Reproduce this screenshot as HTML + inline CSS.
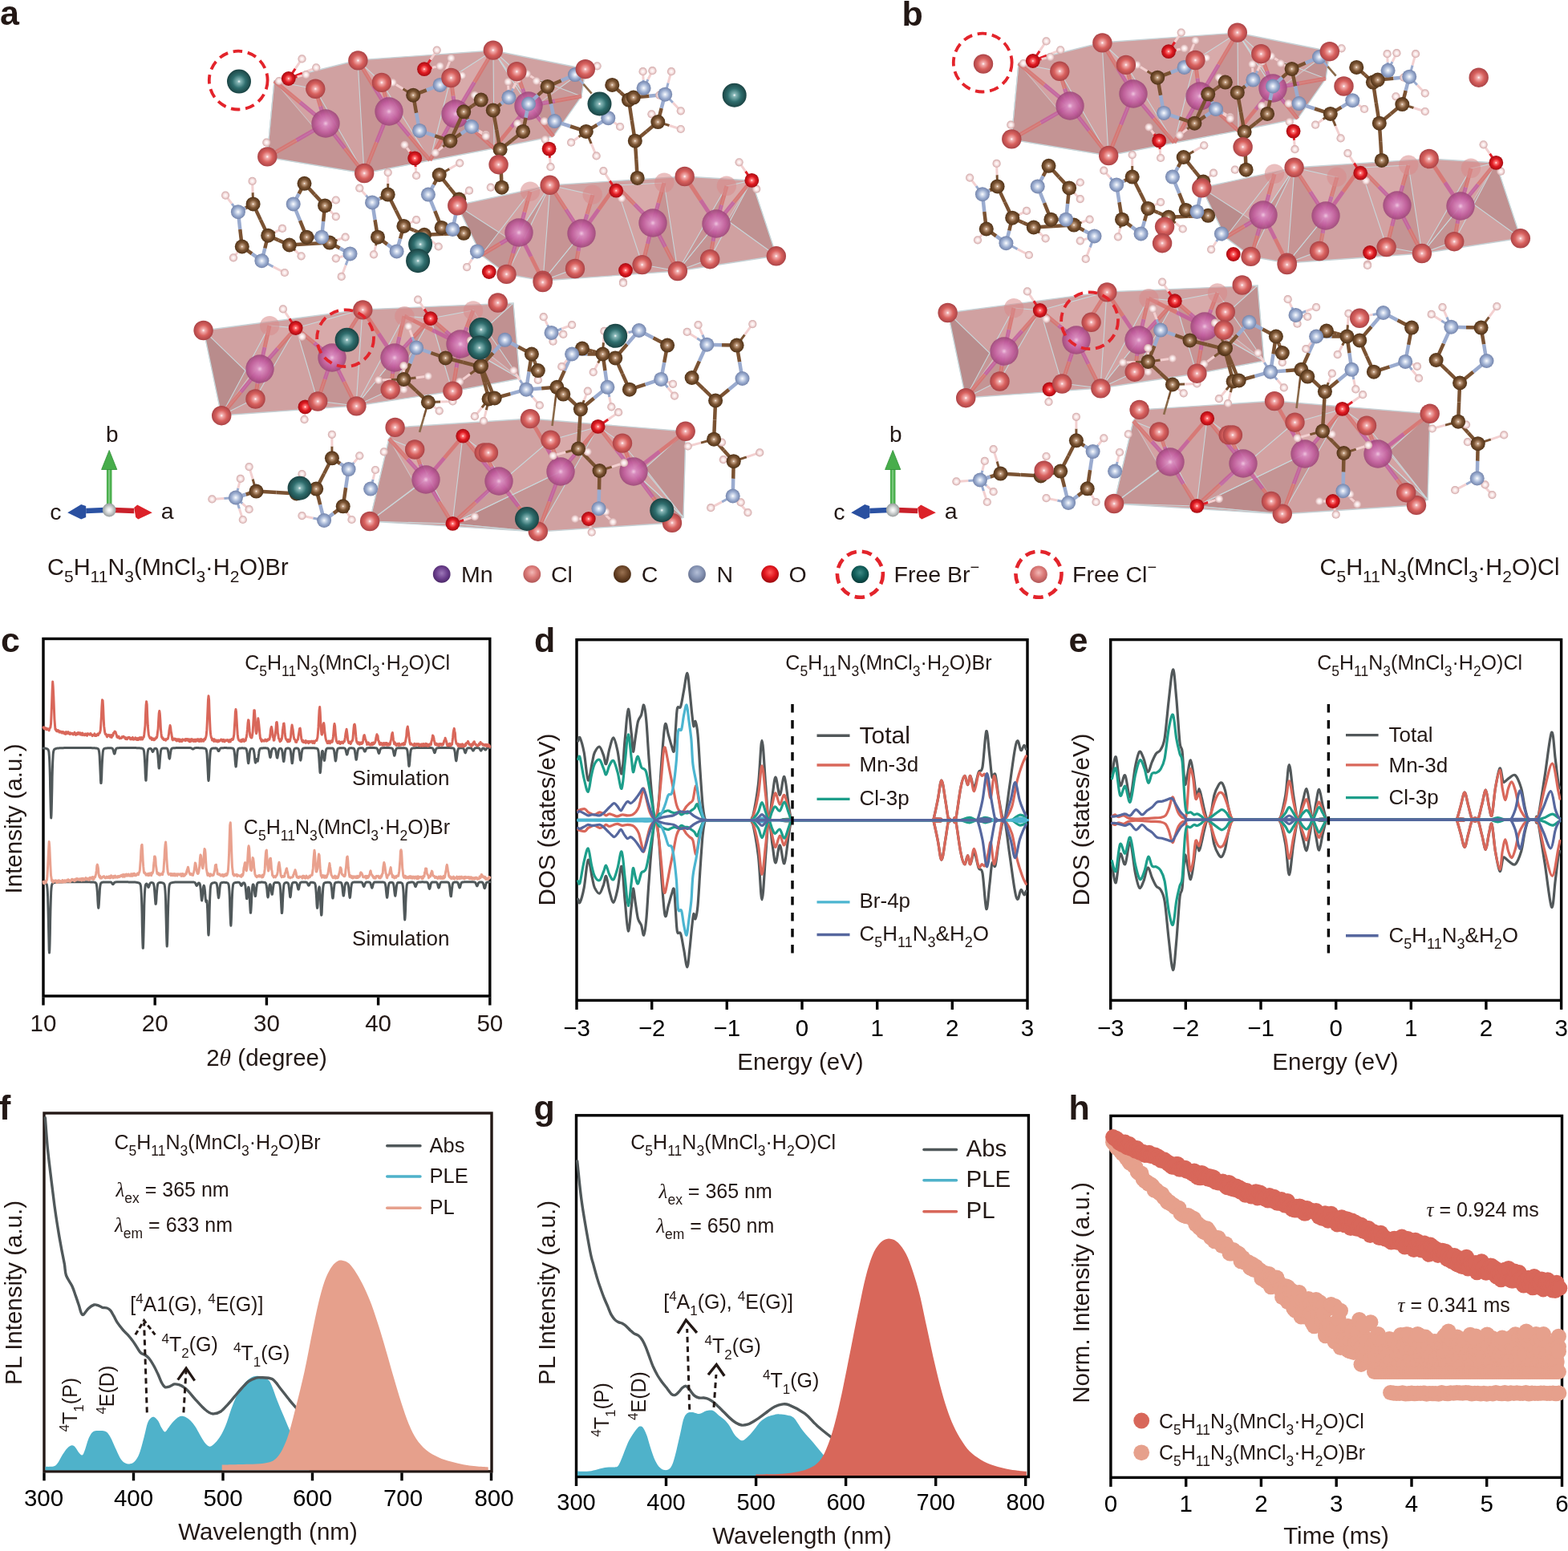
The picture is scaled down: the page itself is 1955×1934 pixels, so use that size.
<!DOCTYPE html>
<html><head><meta charset="utf-8"><title>Figure</title>
<style>html,body{margin:0;padding:0;background:#fff;overflow:hidden;} svg{display:block;} text{font-family:'Liberation Sans', Arial, Helvetica, sans-serif;}</style>
</head><body>
<svg width="1955" height="1934" viewBox="0 0 1955 1934">
<rect width="1955" height="1934" fill="#fff"/>
<text x="0.0" y="30.5" font-size="43" text-anchor="start" font-weight="bold" fill="#231815" >a</text>
<text x="1124.5" y="32.0" font-size="43" text-anchor="start" font-weight="bold" fill="#231815" >b</text>
<text x="1.0" y="813.0" font-size="43" text-anchor="start" font-weight="bold" fill="#231815" >c</text>
<text x="666.0" y="812.5" font-size="43" text-anchor="start" font-weight="bold" fill="#231815" >d</text>
<text x="1332.5" y="812.5" font-size="43" text-anchor="start" font-weight="bold" fill="#231815" >e</text>
<text x="-1.0" y="1395.7" font-size="43" text-anchor="start" font-weight="bold" fill="#231815" >f</text>
<text x="665.5" y="1395.7" font-size="43" text-anchor="start" font-weight="bold" fill="#231815" >g</text>
<text x="1332.5" y="1395.7" font-size="43" text-anchor="start" font-weight="bold" fill="#231815" >h</text>
<rect x="54.0" y="796.5" width="556.8" height="445.5" stroke="#000" stroke-width="3.4" fill="none"/>
<line x1="54.0" y1="1243.5" x2="54.0" y2="1253.5" stroke="#000" stroke-width="3.4" />
<text x="54.0" y="1286.3" font-size="29.5" text-anchor="middle" font-weight="normal" fill="#231815" >10</text>
<line x1="193.2" y1="1243.5" x2="193.2" y2="1253.5" stroke="#000" stroke-width="3.4" />
<text x="193.2" y="1286.3" font-size="29.5" text-anchor="middle" font-weight="normal" fill="#231815" >20</text>
<line x1="332.4" y1="1243.5" x2="332.4" y2="1253.5" stroke="#000" stroke-width="3.4" />
<text x="332.4" y="1286.3" font-size="29.5" text-anchor="middle" font-weight="normal" fill="#231815" >30</text>
<line x1="471.6" y1="1243.5" x2="471.6" y2="1253.5" stroke="#000" stroke-width="3.4" />
<text x="471.6" y="1286.3" font-size="29.5" text-anchor="middle" font-weight="normal" fill="#231815" >40</text>
<line x1="610.8" y1="1243.5" x2="610.8" y2="1253.5" stroke="#000" stroke-width="3.4" />
<text x="610.8" y="1286.3" font-size="29.5" text-anchor="middle" font-weight="normal" fill="#231815" >50</text>
<text x="332.5" y="1329.0" font-size="29.5" text-anchor="middle" fill="#231815" font-weight="normal" ><tspan>2</tspan><tspan font-style="italic" font-family="'Liberation Serif', serif">θ</tspan><tspan> (degree)</tspan></text>
<text x="0" y="0" font-size="29.5" text-anchor="middle" fill="#231815" transform="translate(26.5,1021.0) rotate(-90)">Intensity (a.u.)</text>
<text x="561.0" y="834.5" font-size="25" text-anchor="end" fill="#231815" font-weight="normal" ><tspan>C</tspan><tspan dy="8.0" font-size="17.5">5</tspan><tspan dy="-8.0">H</tspan><tspan dy="8.0" font-size="17.5">11</tspan><tspan dy="-8.0">N</tspan><tspan dy="8.0" font-size="17.5">3</tspan><tspan dy="-8.0">(MnCl</tspan><tspan dy="8.0" font-size="17.5">3</tspan><tspan dy="-8.0">·H</tspan><tspan dy="8.0" font-size="17.5">2</tspan><tspan dy="-8.0">O)Cl</tspan></text>
<text x="560.5" y="979.3" font-size="26" text-anchor="end" font-weight="normal" fill="#231815" >Simulation</text>
<text x="561.0" y="1040.0" font-size="25" text-anchor="end" fill="#231815" font-weight="normal" ><tspan>C</tspan><tspan dy="8.0" font-size="17.5">5</tspan><tspan dy="-8.0">H</tspan><tspan dy="8.0" font-size="17.5">11</tspan><tspan dy="-8.0">N</tspan><tspan dy="8.0" font-size="17.5">3</tspan><tspan dy="-8.0">(MnCl</tspan><tspan dy="8.0" font-size="17.5">3</tspan><tspan dy="-8.0">·H</tspan><tspan dy="8.0" font-size="17.5">2</tspan><tspan dy="-8.0">O)Br</tspan></text>
<text x="560.5" y="1179.0" font-size="26" text-anchor="end" font-weight="normal" fill="#231815" >Simulation</text>
<rect x="719.0" y="797.7" width="562.0" height="449.7" stroke="#000" stroke-width="3.4" fill="none"/>
<line x1="719.0" y1="1248.9" x2="719.0" y2="1258.9" stroke="#000" stroke-width="3.4" />
<text x="719.0" y="1291.5" font-size="29.5" text-anchor="middle" font-weight="normal" fill="#000" >−3</text>
<line x1="812.7" y1="1248.9" x2="812.7" y2="1258.9" stroke="#000" stroke-width="3.4" />
<text x="812.7" y="1291.5" font-size="29.5" text-anchor="middle" font-weight="normal" fill="#000" >−2</text>
<line x1="906.3" y1="1248.9" x2="906.3" y2="1258.9" stroke="#000" stroke-width="3.4" />
<text x="906.3" y="1291.5" font-size="29.5" text-anchor="middle" font-weight="normal" fill="#000" >−1</text>
<line x1="1000.0" y1="1248.9" x2="1000.0" y2="1258.9" stroke="#000" stroke-width="3.4" />
<text x="1000.0" y="1291.5" font-size="29.5" text-anchor="middle" font-weight="normal" fill="#000" >0</text>
<line x1="1093.7" y1="1248.9" x2="1093.7" y2="1258.9" stroke="#000" stroke-width="3.4" />
<text x="1093.7" y="1291.5" font-size="29.5" text-anchor="middle" font-weight="normal" fill="#000" >1</text>
<line x1="1187.3" y1="1248.9" x2="1187.3" y2="1258.9" stroke="#000" stroke-width="3.4" />
<text x="1187.3" y="1291.5" font-size="29.5" text-anchor="middle" font-weight="normal" fill="#000" >2</text>
<line x1="1281.0" y1="1248.9" x2="1281.0" y2="1258.9" stroke="#000" stroke-width="3.4" />
<text x="1281.0" y="1291.5" font-size="29.5" text-anchor="middle" font-weight="normal" fill="#000" >3</text>
<text x="998.0" y="1333.9" font-size="29.5" text-anchor="middle" font-weight="normal" fill="#231815" >Energy (eV)</text>
<text x="0" y="0" font-size="29.5" text-anchor="middle" fill="#231815" transform="translate(692.0,1022.0) rotate(-90)">DOS (states/eV)</text>
<text x="1236.5" y="834.5" font-size="25" text-anchor="end" fill="#231815" font-weight="normal" ><tspan>C</tspan><tspan dy="8.0" font-size="17.5">5</tspan><tspan dy="-8.0">H</tspan><tspan dy="8.0" font-size="17.5">11</tspan><tspan dy="-8.0">N</tspan><tspan dy="8.0" font-size="17.5">3</tspan><tspan dy="-8.0">(MnCl</tspan><tspan dy="8.0" font-size="17.5">3</tspan><tspan dy="-8.0">·H</tspan><tspan dy="8.0" font-size="17.5">2</tspan><tspan dy="-8.0">O)Br</tspan></text>
<rect x="1384.7" y="797.6" width="561.9" height="449.8" stroke="#000" stroke-width="3.4" fill="none"/>
<line x1="1384.7" y1="1248.9" x2="1384.7" y2="1258.9" stroke="#000" stroke-width="3.4" />
<text x="1384.7" y="1291.5" font-size="29.5" text-anchor="middle" font-weight="normal" fill="#000" >−3</text>
<line x1="1478.3" y1="1248.9" x2="1478.3" y2="1258.9" stroke="#000" stroke-width="3.4" />
<text x="1478.3" y="1291.5" font-size="29.5" text-anchor="middle" font-weight="normal" fill="#000" >−2</text>
<line x1="1572.0" y1="1248.9" x2="1572.0" y2="1258.9" stroke="#000" stroke-width="3.4" />
<text x="1572.0" y="1291.5" font-size="29.5" text-anchor="middle" font-weight="normal" fill="#000" >−1</text>
<line x1="1665.7" y1="1248.9" x2="1665.7" y2="1258.9" stroke="#000" stroke-width="3.4" />
<text x="1665.7" y="1291.5" font-size="29.5" text-anchor="middle" font-weight="normal" fill="#000" >0</text>
<line x1="1759.3" y1="1248.9" x2="1759.3" y2="1258.9" stroke="#000" stroke-width="3.4" />
<text x="1759.3" y="1291.5" font-size="29.5" text-anchor="middle" font-weight="normal" fill="#000" >1</text>
<line x1="1852.9" y1="1248.9" x2="1852.9" y2="1258.9" stroke="#000" stroke-width="3.4" />
<text x="1852.9" y="1291.5" font-size="29.5" text-anchor="middle" font-weight="normal" fill="#000" >2</text>
<line x1="1946.6" y1="1248.9" x2="1946.6" y2="1258.9" stroke="#000" stroke-width="3.4" />
<text x="1946.6" y="1291.5" font-size="29.5" text-anchor="middle" font-weight="normal" fill="#000" >3</text>
<text x="1665.0" y="1333.9" font-size="29.5" text-anchor="middle" font-weight="normal" fill="#231815" >Energy (eV)</text>
<text x="0" y="0" font-size="29.5" text-anchor="middle" fill="#231815" transform="translate(1358.0,1022.0) rotate(-90)">DOS (states/eV)</text>
<text x="1898.0" y="834.5" font-size="25" text-anchor="end" fill="#231815" font-weight="normal" ><tspan>C</tspan><tspan dy="8.0" font-size="17.5">5</tspan><tspan dy="-8.0">H</tspan><tspan dy="8.0" font-size="17.5">11</tspan><tspan dy="-8.0">N</tspan><tspan dy="8.0" font-size="17.5">3</tspan><tspan dy="-8.0">(MnCl</tspan><tspan dy="8.0" font-size="17.5">3</tspan><tspan dy="-8.0">·H</tspan><tspan dy="8.0" font-size="17.5">2</tspan><tspan dy="-8.0">O)Cl</tspan></text>
<rect x="55.0" y="1388.0" width="558.0" height="446.8" stroke="#231815" stroke-width="3.4" fill="none"/>
<line x1="55.0" y1="1836.3" x2="55.0" y2="1846.3" stroke="#000" stroke-width="3.4" />
<line x1="166.5" y1="1836.3" x2="166.5" y2="1846.3" stroke="#000" stroke-width="3.4" />
<line x1="278.0" y1="1836.3" x2="278.0" y2="1846.3" stroke="#000" stroke-width="3.4" />
<line x1="389.5" y1="1836.3" x2="389.5" y2="1846.3" stroke="#000" stroke-width="3.4" />
<line x1="501.0" y1="1836.3" x2="501.0" y2="1846.3" stroke="#000" stroke-width="3.4" />
<line x1="612.5" y1="1836.3" x2="612.5" y2="1846.3" stroke="#000" stroke-width="3.4" />
<text x="54.5" y="1878.3" font-size="29.5" text-anchor="middle" font-weight="normal" fill="#000" >300</text>
<text x="166.5" y="1878.3" font-size="29.5" text-anchor="middle" font-weight="normal" fill="#000" >400</text>
<text x="278.0" y="1878.3" font-size="29.5" text-anchor="middle" font-weight="normal" fill="#000" >500</text>
<text x="389.5" y="1878.3" font-size="29.5" text-anchor="middle" font-weight="normal" fill="#000" >600</text>
<text x="502.5" y="1878.3" font-size="29.5" text-anchor="middle" font-weight="normal" fill="#000" >700</text>
<text x="616.0" y="1878.3" font-size="29.5" text-anchor="middle" font-weight="normal" fill="#000" >800</text>
<text x="334.0" y="1920.4" font-size="29.5" text-anchor="middle" font-weight="normal" fill="#231815" >Wavelength (nm)</text>
<text x="0" y="0" font-size="29.5" text-anchor="middle" fill="#231815" transform="translate(27.0,1612.0) rotate(-90)">PL Intensity (a.u.)</text>
<rect x="718.5" y="1390.8" width="563.9" height="450.7" stroke="#000" stroke-width="3.4" fill="none"/>
<line x1="718.5" y1="1843.0" x2="718.5" y2="1853.0" stroke="#000" stroke-width="3.4" />
<text x="718.5" y="1883.4" font-size="29" text-anchor="middle" font-weight="normal" fill="#000" >300</text>
<line x1="830.5" y1="1843.0" x2="830.5" y2="1853.0" stroke="#000" stroke-width="3.4" />
<text x="830.5" y="1883.4" font-size="29" text-anchor="middle" font-weight="normal" fill="#000" >400</text>
<line x1="942.6" y1="1843.0" x2="942.6" y2="1853.0" stroke="#000" stroke-width="3.4" />
<text x="942.6" y="1883.4" font-size="29" text-anchor="middle" font-weight="normal" fill="#000" >500</text>
<line x1="1054.6" y1="1843.0" x2="1054.6" y2="1853.0" stroke="#000" stroke-width="3.4" />
<text x="1054.6" y="1883.4" font-size="29" text-anchor="middle" font-weight="normal" fill="#000" >600</text>
<line x1="1166.7" y1="1843.0" x2="1166.7" y2="1853.0" stroke="#000" stroke-width="3.4" />
<text x="1166.7" y="1883.4" font-size="29" text-anchor="middle" font-weight="normal" fill="#000" >700</text>
<line x1="1278.7" y1="1843.0" x2="1278.7" y2="1853.0" stroke="#000" stroke-width="3.4" />
<text x="1278.7" y="1883.4" font-size="29" text-anchor="middle" font-weight="normal" fill="#000" >800</text>
<text x="1000.0" y="1925.0" font-size="29.5" text-anchor="middle" font-weight="normal" fill="#231815" >Wavelength (nm)</text>
<text x="0" y="0" font-size="29.5" text-anchor="middle" fill="#231815" transform="translate(692.0,1612.0) rotate(-90)">PL Intensity (a.u.)</text>
<rect x="1384.9" y="1391.4" width="562.6" height="451.0" stroke="#000" stroke-width="3.4" fill="none"/>
<line x1="1384.9" y1="1843.9" x2="1384.9" y2="1853.9" stroke="#000" stroke-width="3.4" />
<text x="1384.9" y="1885.3" font-size="29.5" text-anchor="middle" font-weight="normal" fill="#000" >0</text>
<line x1="1478.7" y1="1843.9" x2="1478.7" y2="1853.9" stroke="#000" stroke-width="3.4" />
<text x="1478.7" y="1885.3" font-size="29.5" text-anchor="middle" font-weight="normal" fill="#000" >1</text>
<line x1="1572.4" y1="1843.9" x2="1572.4" y2="1853.9" stroke="#000" stroke-width="3.4" />
<text x="1572.4" y="1885.3" font-size="29.5" text-anchor="middle" font-weight="normal" fill="#000" >2</text>
<line x1="1666.2" y1="1843.9" x2="1666.2" y2="1853.9" stroke="#000" stroke-width="3.4" />
<text x="1666.2" y="1885.3" font-size="29.5" text-anchor="middle" font-weight="normal" fill="#000" >3</text>
<line x1="1760.0" y1="1843.9" x2="1760.0" y2="1853.9" stroke="#000" stroke-width="3.4" />
<text x="1760.0" y="1885.3" font-size="29.5" text-anchor="middle" font-weight="normal" fill="#000" >4</text>
<line x1="1853.7" y1="1843.9" x2="1853.7" y2="1853.9" stroke="#000" stroke-width="3.4" />
<text x="1853.7" y="1885.3" font-size="29.5" text-anchor="middle" font-weight="normal" fill="#000" >5</text>
<line x1="1947.5" y1="1843.9" x2="1947.5" y2="1853.9" stroke="#000" stroke-width="3.4" />
<text x="1947.5" y="1885.3" font-size="29.5" text-anchor="middle" font-weight="normal" fill="#000" >6</text>
<text x="1666.0" y="1925.0" font-size="29.5" text-anchor="middle" font-weight="normal" fill="#231815" >Time (ms)</text>
<text x="0" y="0" font-size="29.5" text-anchor="middle" fill="#231815" transform="translate(1358.0,1612.0) rotate(-90)">Norm. Intensity (a.u.)</text>
<defs>
<radialGradient id="gCl" cx="50%" cy="50%" r="55%"><stop offset="0" stop-color="#ffffff"/><stop offset="0.14" stop-color="#f2b0b0"/><stop offset="0.5" stop-color="#d9625f"/><stop offset="1" stop-color="#a13c40"/></radialGradient>
<radialGradient id="gClf" cx="50%" cy="50%" r="55%"><stop offset="0" stop-color="#fbe4e4"/><stop offset="0.5" stop-color="#e6a5a4"/><stop offset="1" stop-color="#cf8a8b"/></radialGradient>
<radialGradient id="gO" cx="50%" cy="50%" r="55%"><stop offset="0" stop-color="#ffffff"/><stop offset="0.14" stop-color="#ff7b7b"/><stop offset="0.5" stop-color="#e01b22"/><stop offset="1" stop-color="#98080e"/></radialGradient>
<radialGradient id="gMn" cx="50%" cy="50%" r="55%"><stop offset="0" stop-color="#f4d0e6"/><stop offset="0.18" stop-color="#d98cc0"/><stop offset="0.6" stop-color="#c05c9c"/><stop offset="1" stop-color="#93406f"/></radialGradient>
<radialGradient id="gC" cx="50%" cy="50%" r="55%"><stop offset="0" stop-color="#ffffff"/><stop offset="0.13" stop-color="#c9a68a"/><stop offset="0.5" stop-color="#7c5534"/><stop offset="1" stop-color="#45290f"/></radialGradient>
<radialGradient id="gN" cx="50%" cy="50%" r="55%"><stop offset="0" stop-color="#ffffff"/><stop offset="0.15" stop-color="#dfe6f3"/><stop offset="0.55" stop-color="#9badd0"/><stop offset="1" stop-color="#6a7aa2"/></radialGradient>
<radialGradient id="gH" cx="50%" cy="50%" r="55%"><stop offset="0" stop-color="#ffffff"/><stop offset="0.45" stop-color="#f7e2e2"/><stop offset="1" stop-color="#c99b9b"/></radialGradient>
<radialGradient id="gBr" cx="50%" cy="50%" r="55%"><stop offset="0" stop-color="#ffffff"/><stop offset="0.12" stop-color="#88b8b8"/><stop offset="0.5" stop-color="#2f6e6e"/><stop offset="1" stop-color="#163a3a"/></radialGradient>
<radialGradient id="gMnL" cx="50%" cy="50%" r="55%"><stop offset="0" stop-color="#9a6ab0"/><stop offset="0.6" stop-color="#6a3d8a"/><stop offset="1" stop-color="#4a2566"/></radialGradient>
<radialGradient id="gClL" cx="50%" cy="50%" r="55%"><stop offset="0" stop-color="#f3c0c0"/><stop offset="0.6" stop-color="#da7876"/><stop offset="1" stop-color="#b45a5a"/></radialGradient>
<radialGradient id="gCL" cx="50%" cy="50%" r="55%"><stop offset="0" stop-color="#a9835f"/><stop offset="0.6" stop-color="#6e4a2b"/><stop offset="1" stop-color="#4a2f18"/></radialGradient>
<radialGradient id="gNL" cx="50%" cy="50%" r="55%"><stop offset="0" stop-color="#c9d3ea"/><stop offset="0.6" stop-color="#8e9fc6"/><stop offset="1" stop-color="#6f7fa6"/></radialGradient>
<radialGradient id="gOL" cx="50%" cy="50%" r="55%"><stop offset="0" stop-color="#ff6a6a"/><stop offset="0.6" stop-color="#e3141c"/><stop offset="1" stop-color="#a80a10"/></radialGradient>
<radialGradient id="gBrL" cx="50%" cy="50%" r="55%"><stop offset="0" stop-color="#4f8c8c"/><stop offset="0.6" stop-color="#1f5e5e"/><stop offset="1" stop-color="#134040"/></radialGradient>
</defs>
<polygon points="333.0,196.0 342.0,101.0 446.0,75.0 615.0,63.0 730.0,86.0 725.0,120.0 690.0,170.0 616.0,185.0 454.0,216.0" fill="#c99494" fill-opacity="0.88" stroke="#c6d2d6" stroke-width="1.3" stroke-linejoin="round"/>
<polygon points="342.0,101.0 333.0,196.0 394.0,162.0" fill="#8f6464" fill-opacity="0.35" stroke="#c9d7da" stroke-width="1.1"/>
<polygon points="730.0,86.0 725.0,120.0 673.0,128.0" fill="#9a6c6c" fill-opacity="0.3" stroke="#c9d7da" stroke-width="1.1"/>
<polygon points="342.0,101.0 393.0,111.0 406.0,154.0" fill="#e2b6b6" fill-opacity="0.45" stroke="#c9d7da" stroke-width="1.1"/>
<polygon points="333.0,196.0 454.0,216.0 406.0,154.0" fill="#b07a7a" fill-opacity="0.35" stroke="#c9d7da" stroke-width="1.1"/>
<polygon points="342.0,101.0 333.0,196.0 406.0,154.0" fill="#d8a6a6" fill-opacity="0.4" stroke="#c9d7da" stroke-width="1.1"/>
<polygon points="393.0,111.0 454.0,216.0 406.0,154.0" fill="#b98181" fill-opacity="0.4" stroke="#c9d7da" stroke-width="1.1"/>
<polygon points="446.0,75.0 476.0,103.0 485.0,139.0" fill="#e2b6b6" fill-opacity="0.45" stroke="#c9d7da" stroke-width="1.1"/>
<polygon points="454.0,216.0 536.0,200.0 485.0,139.0" fill="#b07a7a" fill-opacity="0.35" stroke="#c9d7da" stroke-width="1.1"/>
<polygon points="446.0,75.0 454.0,216.0 485.0,139.0" fill="#b98181" fill-opacity="0.4" stroke="#c9d7da" stroke-width="1.1"/>
<polygon points="476.0,103.0 536.0,200.0 485.0,139.0" fill="#d8a6a6" fill-opacity="0.4" stroke="#c9d7da" stroke-width="1.1"/>
<polygon points="562.0,97.0 615.0,63.0 568.0,142.0" fill="#e2b6b6" fill-opacity="0.45" stroke="#c9d7da" stroke-width="1.1"/>
<polygon points="536.0,200.0 616.0,185.0 568.0,142.0" fill="#b07a7a" fill-opacity="0.35" stroke="#c9d7da" stroke-width="1.1"/>
<polygon points="562.0,97.0 536.0,200.0 568.0,142.0" fill="#d8a6a6" fill-opacity="0.4" stroke="#c9d7da" stroke-width="1.1"/>
<polygon points="615.0,63.0 616.0,185.0 568.0,142.0" fill="#b98181" fill-opacity="0.4" stroke="#c9d7da" stroke-width="1.1"/>
<polygon points="615.0,63.0 644.0,89.0 659.0,132.0" fill="#e2b6b6" fill-opacity="0.45" stroke="#c9d7da" stroke-width="1.1"/>
<polygon points="690.0,170.0 725.0,120.0 659.0,132.0" fill="#b07a7a" fill-opacity="0.35" stroke="#c9d7da" stroke-width="1.1"/>
<polygon points="615.0,63.0 690.0,170.0 659.0,132.0" fill="#b98181" fill-opacity="0.4" stroke="#c9d7da" stroke-width="1.1"/>
<polygon points="644.0,89.0 725.0,120.0 659.0,132.0" fill="#d8a6a6" fill-opacity="0.4" stroke="#c9d7da" stroke-width="1.1"/>
<line x1="406.0" y1="154.0" x2="399.5" y2="132.5" stroke="#c45a9c" stroke-width="5" opacity="0.8"/>
<line x1="399.5" y1="132.5" x2="393.0" y2="111.0" stroke="#d9706c" stroke-width="5" opacity="0.8"/>
<line x1="406.0" y1="154.0" x2="430.0" y2="185.0" stroke="#c45a9c" stroke-width="5" opacity="0.8"/>
<line x1="430.0" y1="185.0" x2="454.0" y2="216.0" stroke="#d9706c" stroke-width="5" opacity="0.8"/>
<line x1="406.0" y1="154.0" x2="374.0" y2="127.5" stroke="#c45a9c" stroke-width="5" opacity="0.8"/>
<line x1="374.0" y1="127.5" x2="342.0" y2="101.0" stroke="#d9706c" stroke-width="5" opacity="0.8"/>
<line x1="406.0" y1="154.0" x2="369.5" y2="175.0" stroke="#c45a9c" stroke-width="5" opacity="0.8"/>
<line x1="369.5" y1="175.0" x2="333.0" y2="196.0" stroke="#d9706c" stroke-width="5" opacity="0.8"/>
<circle cx="406.0" cy="154.0" r="17.7" fill="url(#gMn)" opacity="0.9"/>
<line x1="485.0" y1="139.0" x2="480.5" y2="121.0" stroke="#c45a9c" stroke-width="5" opacity="0.8"/>
<line x1="480.5" y1="121.0" x2="476.0" y2="103.0" stroke="#d9706c" stroke-width="5" opacity="0.8"/>
<line x1="485.0" y1="139.0" x2="465.5" y2="107.0" stroke="#c45a9c" stroke-width="5" opacity="0.8"/>
<line x1="465.5" y1="107.0" x2="446.0" y2="75.0" stroke="#d9706c" stroke-width="5" opacity="0.8"/>
<line x1="485.0" y1="139.0" x2="510.5" y2="169.5" stroke="#c45a9c" stroke-width="5" opacity="0.8"/>
<line x1="510.5" y1="169.5" x2="536.0" y2="200.0" stroke="#d9706c" stroke-width="5" opacity="0.8"/>
<line x1="485.0" y1="139.0" x2="469.5" y2="177.5" stroke="#c45a9c" stroke-width="5" opacity="0.8"/>
<line x1="469.5" y1="177.5" x2="454.0" y2="216.0" stroke="#d9706c" stroke-width="5" opacity="0.8"/>
<circle cx="485.0" cy="139.0" r="17.7" fill="url(#gMn)" opacity="0.9"/>
<line x1="568.0" y1="142.0" x2="565.0" y2="119.5" stroke="#c45a9c" stroke-width="5" opacity="0.8"/>
<line x1="565.0" y1="119.5" x2="562.0" y2="97.0" stroke="#d9706c" stroke-width="5" opacity="0.8"/>
<line x1="568.0" y1="142.0" x2="592.0" y2="163.5" stroke="#c45a9c" stroke-width="5" opacity="0.8"/>
<line x1="592.0" y1="163.5" x2="616.0" y2="185.0" stroke="#d9706c" stroke-width="5" opacity="0.8"/>
<line x1="568.0" y1="142.0" x2="552.0" y2="171.0" stroke="#c45a9c" stroke-width="5" opacity="0.8"/>
<line x1="552.0" y1="171.0" x2="536.0" y2="200.0" stroke="#d9706c" stroke-width="5" opacity="0.8"/>
<line x1="568.0" y1="142.0" x2="591.5" y2="102.5" stroke="#c45a9c" stroke-width="5" opacity="0.8"/>
<line x1="591.5" y1="102.5" x2="615.0" y2="63.0" stroke="#d9706c" stroke-width="5" opacity="0.8"/>
<circle cx="568.0" cy="142.0" r="17.7" fill="url(#gMn)" opacity="0.9"/>
<line x1="659.0" y1="132.0" x2="651.5" y2="110.5" stroke="#c45a9c" stroke-width="5" opacity="0.8"/>
<line x1="651.5" y1="110.5" x2="644.0" y2="89.0" stroke="#d9706c" stroke-width="5" opacity="0.8"/>
<line x1="659.0" y1="132.0" x2="674.5" y2="151.0" stroke="#c45a9c" stroke-width="5" opacity="0.8"/>
<line x1="674.5" y1="151.0" x2="690.0" y2="170.0" stroke="#d9706c" stroke-width="5" opacity="0.8"/>
<line x1="659.0" y1="132.0" x2="692.0" y2="126.0" stroke="#c45a9c" stroke-width="5" opacity="0.8"/>
<line x1="692.0" y1="126.0" x2="725.0" y2="120.0" stroke="#d9706c" stroke-width="5" opacity="0.8"/>
<line x1="659.0" y1="132.0" x2="637.5" y2="158.5" stroke="#c45a9c" stroke-width="5" opacity="0.8"/>
<line x1="637.5" y1="158.5" x2="616.0" y2="185.0" stroke="#d9706c" stroke-width="5" opacity="0.8"/>
<circle cx="659.0" cy="132.0" r="17.7" fill="url(#gMn)" opacity="0.9"/>
<polygon points="570.0,256.0 686.0,231.0 854.0,220.0 937.0,225.0 968.0,319.0 845.0,338.0 677.0,350.0 632.0,342.0 600.0,318.0" fill="#c99494" fill-opacity="0.88" stroke="#c6d2d6" stroke-width="1.3" stroke-linejoin="round"/>
<polygon points="570.0,256.0 600.0,318.0 635.0,298.0" fill="#8f6464" fill-opacity="0.35" stroke="#c9d7da" stroke-width="1.1"/>
<polygon points="937.0,225.0 968.0,319.0 907.0,275.0" fill="#9a6c6c" fill-opacity="0.3" stroke="#c9d7da" stroke-width="1.1"/>
<polygon points="661.0,239.0 686.0,231.0 647.0,290.0" fill="#e2b6b6" fill-opacity="0.45" stroke="#c9d7da" stroke-width="1.1"/>
<polygon points="600.0,318.0 632.0,342.0 647.0,290.0" fill="#b07a7a" fill-opacity="0.35" stroke="#c9d7da" stroke-width="1.1"/>
<polygon points="661.0,239.0 600.0,318.0 647.0,290.0" fill="#d8a6a6" fill-opacity="0.4" stroke="#c9d7da" stroke-width="1.1"/>
<polygon points="686.0,231.0 632.0,342.0 647.0,290.0" fill="#b98181" fill-opacity="0.4" stroke="#c9d7da" stroke-width="1.1"/>
<polygon points="686.0,231.0 739.0,243.0 725.0,291.0" fill="#e2b6b6" fill-opacity="0.45" stroke="#c9d7da" stroke-width="1.1"/>
<polygon points="677.0,350.0 717.0,335.0 725.0,291.0" fill="#b07a7a" fill-opacity="0.35" stroke="#c9d7da" stroke-width="1.1"/>
<polygon points="686.0,231.0 677.0,350.0 725.0,291.0" fill="#b98181" fill-opacity="0.4" stroke="#c9d7da" stroke-width="1.1"/>
<polygon points="739.0,243.0 717.0,335.0 725.0,291.0" fill="#d8a6a6" fill-opacity="0.4" stroke="#c9d7da" stroke-width="1.1"/>
<polygon points="768.0,231.0 828.0,228.0 814.0,278.0" fill="#e2b6b6" fill-opacity="0.45" stroke="#c9d7da" stroke-width="1.1"/>
<polygon points="801.0,330.0 845.0,338.0 814.0,278.0" fill="#b07a7a" fill-opacity="0.35" stroke="#c9d7da" stroke-width="1.1"/>
<polygon points="768.0,231.0 801.0,330.0 814.0,278.0" fill="#d8a6a6" fill-opacity="0.4" stroke="#c9d7da" stroke-width="1.1"/>
<polygon points="828.0,228.0 845.0,338.0 814.0,278.0" fill="#b98181" fill-opacity="0.4" stroke="#c9d7da" stroke-width="1.1"/>
<polygon points="906.0,232.0 937.0,225.0 893.0,279.0" fill="#e2b6b6" fill-opacity="0.45" stroke="#c9d7da" stroke-width="1.1"/>
<polygon points="845.0,338.0 885.0,323.0 893.0,279.0" fill="#b07a7a" fill-opacity="0.35" stroke="#c9d7da" stroke-width="1.1"/>
<polygon points="906.0,232.0 845.0,338.0 893.0,279.0" fill="#b98181" fill-opacity="0.4" stroke="#c9d7da" stroke-width="1.1"/>
<polygon points="937.0,225.0 885.0,323.0 893.0,279.0" fill="#d8a6a6" fill-opacity="0.4" stroke="#c9d7da" stroke-width="1.1"/>
<line x1="647.0" y1="290.0" x2="654.0" y2="264.5" stroke="#c45a9c" stroke-width="5" opacity="0.8"/>
<line x1="654.0" y1="264.5" x2="661.0" y2="239.0" stroke="#d9706c" stroke-width="5" opacity="0.8"/>
<line x1="647.0" y1="290.0" x2="639.5" y2="316.0" stroke="#c45a9c" stroke-width="5" opacity="0.8"/>
<line x1="639.5" y1="316.0" x2="632.0" y2="342.0" stroke="#d9706c" stroke-width="5" opacity="0.8"/>
<line x1="647.0" y1="290.0" x2="623.5" y2="304.0" stroke="#c45a9c" stroke-width="5" opacity="0.8"/>
<line x1="623.5" y1="304.0" x2="600.0" y2="318.0" stroke="#d9706c" stroke-width="5" opacity="0.8"/>
<line x1="647.0" y1="290.0" x2="662.0" y2="320.0" stroke="#c45a9c" stroke-width="5" opacity="0.8"/>
<line x1="662.0" y1="320.0" x2="677.0" y2="350.0" stroke="#d9706c" stroke-width="5" opacity="0.8"/>
<circle cx="647.0" cy="290.0" r="17.7" fill="url(#gMn)" opacity="0.9"/>
<line x1="725.0" y1="291.0" x2="721.0" y2="313.0" stroke="#c45a9c" stroke-width="5" opacity="0.8"/>
<line x1="721.0" y1="313.0" x2="717.0" y2="335.0" stroke="#d9706c" stroke-width="5" opacity="0.8"/>
<line x1="725.0" y1="291.0" x2="732.0" y2="267.0" stroke="#c45a9c" stroke-width="5" opacity="0.8"/>
<line x1="732.0" y1="267.0" x2="739.0" y2="243.0" stroke="#d9706c" stroke-width="5" opacity="0.8"/>
<line x1="725.0" y1="291.0" x2="705.5" y2="261.0" stroke="#c45a9c" stroke-width="5" opacity="0.8"/>
<line x1="705.5" y1="261.0" x2="686.0" y2="231.0" stroke="#d9706c" stroke-width="5" opacity="0.8"/>
<line x1="725.0" y1="291.0" x2="746.5" y2="261.0" stroke="#c45a9c" stroke-width="5" opacity="0.8"/>
<line x1="746.5" y1="261.0" x2="768.0" y2="231.0" stroke="#d9706c" stroke-width="5" opacity="0.8"/>
<circle cx="725.0" cy="291.0" r="17.7" fill="url(#gMn)" opacity="0.9"/>
<line x1="814.0" y1="278.0" x2="821.0" y2="253.0" stroke="#c45a9c" stroke-width="5" opacity="0.8"/>
<line x1="821.0" y1="253.0" x2="828.0" y2="228.0" stroke="#d9706c" stroke-width="5" opacity="0.8"/>
<line x1="814.0" y1="278.0" x2="807.5" y2="304.0" stroke="#c45a9c" stroke-width="5" opacity="0.8"/>
<line x1="807.5" y1="304.0" x2="801.0" y2="330.0" stroke="#d9706c" stroke-width="5" opacity="0.8"/>
<line x1="814.0" y1="278.0" x2="791.0" y2="254.5" stroke="#c45a9c" stroke-width="5" opacity="0.8"/>
<line x1="791.0" y1="254.5" x2="768.0" y2="231.0" stroke="#d9706c" stroke-width="5" opacity="0.8"/>
<line x1="814.0" y1="278.0" x2="829.5" y2="308.0" stroke="#c45a9c" stroke-width="5" opacity="0.8"/>
<line x1="829.5" y1="308.0" x2="845.0" y2="338.0" stroke="#d9706c" stroke-width="5" opacity="0.8"/>
<circle cx="814.0" cy="278.0" r="17.7" fill="url(#gMn)" opacity="0.9"/>
<line x1="893.0" y1="279.0" x2="889.0" y2="301.0" stroke="#c45a9c" stroke-width="5" opacity="0.8"/>
<line x1="889.0" y1="301.0" x2="885.0" y2="323.0" stroke="#d9706c" stroke-width="5" opacity="0.8"/>
<line x1="893.0" y1="279.0" x2="899.5" y2="255.5" stroke="#c45a9c" stroke-width="5" opacity="0.8"/>
<line x1="899.5" y1="255.5" x2="906.0" y2="232.0" stroke="#d9706c" stroke-width="5" opacity="0.8"/>
<line x1="893.0" y1="279.0" x2="915.0" y2="252.0" stroke="#c45a9c" stroke-width="5" opacity="0.8"/>
<line x1="915.0" y1="252.0" x2="937.0" y2="225.0" stroke="#d9706c" stroke-width="5" opacity="0.8"/>
<line x1="893.0" y1="279.0" x2="873.5" y2="249.5" stroke="#c45a9c" stroke-width="5" opacity="0.8"/>
<line x1="873.5" y1="249.5" x2="854.0" y2="220.0" stroke="#d9706c" stroke-width="5" opacity="0.8"/>
<circle cx="893.0" cy="279.0" r="17.7" fill="url(#gMn)" opacity="0.9"/>
<polygon points="254.0,412.0 452.0,386.0 640.0,378.0 648.0,472.0 564.0,488.0 444.0,506.0 276.0,518.0" fill="#c99494" fill-opacity="0.88" stroke="#c6d2d6" stroke-width="1.3" stroke-linejoin="round"/>
<polygon points="254.0,412.0 276.0,518.0 312.0,468.0" fill="#8f6464" fill-opacity="0.35" stroke="#c9d7da" stroke-width="1.1"/>
<polygon points="640.0,378.0 648.0,472.0 588.0,425.0" fill="#9a6c6c" fill-opacity="0.3" stroke="#c9d7da" stroke-width="1.1"/>
<polygon points="336.0,406.0 369.0,409.0 324.0,460.0" fill="#e2b6b6" fill-opacity="0.45" stroke="#c9d7da" stroke-width="1.1"/>
<polygon points="276.0,518.0 318.0,497.0 324.0,460.0" fill="#b07a7a" fill-opacity="0.35" stroke="#c9d7da" stroke-width="1.1"/>
<polygon points="336.0,406.0 276.0,518.0 324.0,460.0" fill="#d8a6a6" fill-opacity="0.4" stroke="#c9d7da" stroke-width="1.1"/>
<polygon points="369.0,409.0 318.0,497.0 324.0,460.0" fill="#b98181" fill-opacity="0.4" stroke="#c9d7da" stroke-width="1.1"/>
<polygon points="369.0,409.0 452.0,386.0 414.0,446.0" fill="#e2b6b6" fill-opacity="0.45" stroke="#c9d7da" stroke-width="1.1"/>
<polygon points="396.0,500.0 444.0,506.0 414.0,446.0" fill="#b07a7a" fill-opacity="0.35" stroke="#c9d7da" stroke-width="1.1"/>
<polygon points="369.0,409.0 396.0,500.0 414.0,446.0" fill="#b98181" fill-opacity="0.4" stroke="#c9d7da" stroke-width="1.1"/>
<polygon points="452.0,386.0 444.0,506.0 414.0,446.0" fill="#d8a6a6" fill-opacity="0.4" stroke="#c9d7da" stroke-width="1.1"/>
<polygon points="504.0,394.0 537.0,397.0 492.0,446.0" fill="#e2b6b6" fill-opacity="0.45" stroke="#c9d7da" stroke-width="1.1"/>
<polygon points="444.0,506.0 487.0,486.0 492.0,446.0" fill="#b07a7a" fill-opacity="0.35" stroke="#c9d7da" stroke-width="1.1"/>
<polygon points="504.0,394.0 444.0,506.0 492.0,446.0" fill="#d8a6a6" fill-opacity="0.4" stroke="#c9d7da" stroke-width="1.1"/>
<polygon points="537.0,397.0 487.0,486.0 492.0,446.0" fill="#b98181" fill-opacity="0.4" stroke="#c9d7da" stroke-width="1.1"/>
<polygon points="537.0,397.0 590.0,387.0 574.0,429.0" fill="#e2b6b6" fill-opacity="0.45" stroke="#c9d7da" stroke-width="1.1"/>
<polygon points="564.0,488.0 648.0,472.0 574.0,429.0" fill="#b07a7a" fill-opacity="0.35" stroke="#c9d7da" stroke-width="1.1"/>
<polygon points="537.0,397.0 564.0,488.0 574.0,429.0" fill="#b98181" fill-opacity="0.4" stroke="#c9d7da" stroke-width="1.1"/>
<polygon points="590.0,387.0 648.0,472.0 574.0,429.0" fill="#d8a6a6" fill-opacity="0.4" stroke="#c9d7da" stroke-width="1.1"/>
<line x1="324.0" y1="460.0" x2="321.0" y2="478.5" stroke="#c45a9c" stroke-width="5" opacity="0.8"/>
<line x1="321.0" y1="478.5" x2="318.0" y2="497.0" stroke="#d9706c" stroke-width="5" opacity="0.8"/>
<line x1="324.0" y1="460.0" x2="330.0" y2="433.0" stroke="#c45a9c" stroke-width="5" opacity="0.8"/>
<line x1="330.0" y1="433.0" x2="336.0" y2="406.0" stroke="#d9706c" stroke-width="5" opacity="0.8"/>
<line x1="324.0" y1="460.0" x2="346.5" y2="434.5" stroke="#c45a9c" stroke-width="5" opacity="0.8"/>
<line x1="346.5" y1="434.5" x2="369.0" y2="409.0" stroke="#d9706c" stroke-width="5" opacity="0.8"/>
<line x1="324.0" y1="460.0" x2="300.0" y2="489.0" stroke="#c45a9c" stroke-width="5" opacity="0.8"/>
<line x1="300.0" y1="489.0" x2="276.0" y2="518.0" stroke="#d9706c" stroke-width="5" opacity="0.8"/>
<circle cx="324.0" cy="460.0" r="17.7" fill="url(#gMn)" opacity="0.9"/>
<line x1="414.0" y1="446.0" x2="405.0" y2="473.0" stroke="#c45a9c" stroke-width="5" opacity="0.8"/>
<line x1="405.0" y1="473.0" x2="396.0" y2="500.0" stroke="#d9706c" stroke-width="5" opacity="0.8"/>
<line x1="414.0" y1="446.0" x2="391.5" y2="427.5" stroke="#c45a9c" stroke-width="5" opacity="0.8"/>
<line x1="391.5" y1="427.5" x2="369.0" y2="409.0" stroke="#d9706c" stroke-width="5" opacity="0.8"/>
<line x1="414.0" y1="446.0" x2="429.0" y2="476.0" stroke="#c45a9c" stroke-width="5" opacity="0.8"/>
<line x1="429.0" y1="476.0" x2="444.0" y2="506.0" stroke="#d9706c" stroke-width="5" opacity="0.8"/>
<line x1="414.0" y1="446.0" x2="433.0" y2="416.0" stroke="#c45a9c" stroke-width="5" opacity="0.8"/>
<line x1="433.0" y1="416.0" x2="452.0" y2="386.0" stroke="#d9706c" stroke-width="5" opacity="0.8"/>
<circle cx="414.0" cy="446.0" r="17.7" fill="url(#gMn)" opacity="0.9"/>
<line x1="492.0" y1="446.0" x2="489.5" y2="466.0" stroke="#c45a9c" stroke-width="5" opacity="0.8"/>
<line x1="489.5" y1="466.0" x2="487.0" y2="486.0" stroke="#d9706c" stroke-width="5" opacity="0.8"/>
<line x1="492.0" y1="446.0" x2="498.0" y2="420.0" stroke="#c45a9c" stroke-width="5" opacity="0.8"/>
<line x1="498.0" y1="420.0" x2="504.0" y2="394.0" stroke="#d9706c" stroke-width="5" opacity="0.8"/>
<line x1="492.0" y1="446.0" x2="514.5" y2="421.5" stroke="#c45a9c" stroke-width="5" opacity="0.8"/>
<line x1="514.5" y1="421.5" x2="537.0" y2="397.0" stroke="#d9706c" stroke-width="5" opacity="0.8"/>
<line x1="492.0" y1="446.0" x2="472.0" y2="416.0" stroke="#c45a9c" stroke-width="5" opacity="0.8"/>
<line x1="472.0" y1="416.0" x2="452.0" y2="386.0" stroke="#d9706c" stroke-width="5" opacity="0.8"/>
<circle cx="492.0" cy="446.0" r="17.7" fill="url(#gMn)" opacity="0.9"/>
<line x1="574.0" y1="429.0" x2="582.0" y2="408.0" stroke="#c45a9c" stroke-width="5" opacity="0.8"/>
<line x1="582.0" y1="408.0" x2="590.0" y2="387.0" stroke="#d9706c" stroke-width="5" opacity="0.8"/>
<line x1="574.0" y1="429.0" x2="555.5" y2="413.0" stroke="#c45a9c" stroke-width="5" opacity="0.8"/>
<line x1="555.5" y1="413.0" x2="537.0" y2="397.0" stroke="#d9706c" stroke-width="5" opacity="0.8"/>
<line x1="574.0" y1="429.0" x2="569.0" y2="458.5" stroke="#c45a9c" stroke-width="5" opacity="0.8"/>
<line x1="569.0" y1="458.5" x2="564.0" y2="488.0" stroke="#d9706c" stroke-width="5" opacity="0.8"/>
<line x1="574.0" y1="429.0" x2="539.0" y2="411.5" stroke="#c45a9c" stroke-width="5" opacity="0.8"/>
<line x1="539.0" y1="411.5" x2="504.0" y2="394.0" stroke="#d9706c" stroke-width="5" opacity="0.8"/>
<circle cx="574.0" cy="429.0" r="17.7" fill="url(#gMn)" opacity="0.9"/>
<polygon points="461.0,650.0 485.0,547.0 493.0,533.0 661.0,522.0 855.0,538.0 852.0,645.0 838.0,652.0 671.0,663.0" fill="#c99494" fill-opacity="0.88" stroke="#c6d2d6" stroke-width="1.3" stroke-linejoin="round"/>
<polygon points="485.0,547.0 461.0,650.0 519.0,606.0" fill="#8f6464" fill-opacity="0.35" stroke="#c9d7da" stroke-width="1.1"/>
<polygon points="855.0,538.0 852.0,645.0 804.0,584.0" fill="#9a6c6c" fill-opacity="0.3" stroke="#c9d7da" stroke-width="1.1"/>
<polygon points="485.0,547.0 517.0,560.0 531.0,598.0" fill="#e2b6b6" fill-opacity="0.45" stroke="#c9d7da" stroke-width="1.1"/>
<polygon points="461.0,650.0 564.0,653.0 531.0,598.0" fill="#b07a7a" fill-opacity="0.35" stroke="#c9d7da" stroke-width="1.1"/>
<polygon points="485.0,547.0 461.0,650.0 531.0,598.0" fill="#d8a6a6" fill-opacity="0.4" stroke="#c9d7da" stroke-width="1.1"/>
<polygon points="517.0,560.0 564.0,653.0 531.0,598.0" fill="#b98181" fill-opacity="0.4" stroke="#c9d7da" stroke-width="1.1"/>
<polygon points="577.0,544.0 604.0,564.0 622.0,600.0" fill="#e2b6b6" fill-opacity="0.45" stroke="#c9d7da" stroke-width="1.1"/>
<polygon points="564.0,653.0 671.0,663.0 622.0,600.0" fill="#b07a7a" fill-opacity="0.35" stroke="#c9d7da" stroke-width="1.1"/>
<polygon points="577.0,544.0 564.0,653.0 622.0,600.0" fill="#b98181" fill-opacity="0.4" stroke="#c9d7da" stroke-width="1.1"/>
<polygon points="604.0,564.0 671.0,663.0 622.0,600.0" fill="#d8a6a6" fill-opacity="0.4" stroke="#c9d7da" stroke-width="1.1"/>
<polygon points="686.0,549.0 746.0,532.0 699.0,588.0" fill="#e2b6b6" fill-opacity="0.45" stroke="#c9d7da" stroke-width="1.1"/>
<polygon points="564.0,653.0 671.0,663.0 699.0,588.0" fill="#b07a7a" fill-opacity="0.35" stroke="#c9d7da" stroke-width="1.1"/>
<polygon points="686.0,549.0 564.0,653.0 699.0,588.0" fill="#d8a6a6" fill-opacity="0.4" stroke="#c9d7da" stroke-width="1.1"/>
<polygon points="746.0,532.0 671.0,663.0 699.0,588.0" fill="#b98181" fill-opacity="0.4" stroke="#c9d7da" stroke-width="1.1"/>
<polygon points="746.0,532.0 776.0,553.0 790.0,588.0" fill="#e2b6b6" fill-opacity="0.45" stroke="#c9d7da" stroke-width="1.1"/>
<polygon points="838.0,652.0 852.0,645.0 790.0,588.0" fill="#b07a7a" fill-opacity="0.35" stroke="#c9d7da" stroke-width="1.1"/>
<polygon points="746.0,532.0 838.0,652.0 790.0,588.0" fill="#b98181" fill-opacity="0.4" stroke="#c9d7da" stroke-width="1.1"/>
<polygon points="776.0,553.0 852.0,645.0 790.0,588.0" fill="#d8a6a6" fill-opacity="0.4" stroke="#c9d7da" stroke-width="1.1"/>
<line x1="531.0" y1="598.0" x2="524.0" y2="579.0" stroke="#c45a9c" stroke-width="5" opacity="0.8"/>
<line x1="524.0" y1="579.0" x2="517.0" y2="560.0" stroke="#d9706c" stroke-width="5" opacity="0.8"/>
<line x1="531.0" y1="598.0" x2="547.5" y2="625.5" stroke="#c45a9c" stroke-width="5" opacity="0.8"/>
<line x1="547.5" y1="625.5" x2="564.0" y2="653.0" stroke="#d9706c" stroke-width="5" opacity="0.8"/>
<line x1="531.0" y1="598.0" x2="508.0" y2="572.5" stroke="#c45a9c" stroke-width="5" opacity="0.8"/>
<line x1="508.0" y1="572.5" x2="485.0" y2="547.0" stroke="#d9706c" stroke-width="5" opacity="0.8"/>
<line x1="531.0" y1="598.0" x2="554.0" y2="571.0" stroke="#c45a9c" stroke-width="5" opacity="0.8"/>
<line x1="554.0" y1="571.0" x2="577.0" y2="544.0" stroke="#d9706c" stroke-width="5" opacity="0.8"/>
<circle cx="531.0" cy="598.0" r="17.7" fill="url(#gMn)" opacity="0.9"/>
<line x1="622.0" y1="600.0" x2="613.0" y2="582.0" stroke="#c45a9c" stroke-width="5" opacity="0.8"/>
<line x1="613.0" y1="582.0" x2="604.0" y2="564.0" stroke="#d9706c" stroke-width="5" opacity="0.8"/>
<line x1="622.0" y1="600.0" x2="599.5" y2="572.0" stroke="#c45a9c" stroke-width="5" opacity="0.8"/>
<line x1="599.5" y1="572.0" x2="577.0" y2="544.0" stroke="#d9706c" stroke-width="5" opacity="0.8"/>
<line x1="622.0" y1="600.0" x2="593.0" y2="626.5" stroke="#c45a9c" stroke-width="5" opacity="0.8"/>
<line x1="593.0" y1="626.5" x2="564.0" y2="653.0" stroke="#d9706c" stroke-width="5" opacity="0.8"/>
<line x1="622.0" y1="600.0" x2="646.5" y2="631.5" stroke="#c45a9c" stroke-width="5" opacity="0.8"/>
<line x1="646.5" y1="631.5" x2="671.0" y2="663.0" stroke="#d9706c" stroke-width="5" opacity="0.8"/>
<circle cx="622.0" cy="600.0" r="17.7" fill="url(#gMn)" opacity="0.9"/>
<line x1="699.0" y1="588.0" x2="692.5" y2="568.5" stroke="#c45a9c" stroke-width="5" opacity="0.8"/>
<line x1="692.5" y1="568.5" x2="686.0" y2="549.0" stroke="#d9706c" stroke-width="5" opacity="0.8"/>
<line x1="699.0" y1="588.0" x2="722.5" y2="560.0" stroke="#c45a9c" stroke-width="5" opacity="0.8"/>
<line x1="722.5" y1="560.0" x2="746.0" y2="532.0" stroke="#d9706c" stroke-width="5" opacity="0.8"/>
<line x1="699.0" y1="588.0" x2="680.0" y2="555.0" stroke="#c45a9c" stroke-width="5" opacity="0.8"/>
<line x1="680.0" y1="555.0" x2="661.0" y2="522.0" stroke="#d9706c" stroke-width="5" opacity="0.8"/>
<line x1="699.0" y1="588.0" x2="685.0" y2="625.5" stroke="#c45a9c" stroke-width="5" opacity="0.8"/>
<line x1="685.0" y1="625.5" x2="671.0" y2="663.0" stroke="#d9706c" stroke-width="5" opacity="0.8"/>
<circle cx="699.0" cy="588.0" r="17.7" fill="url(#gMn)" opacity="0.9"/>
<line x1="790.0" y1="588.0" x2="783.0" y2="570.5" stroke="#c45a9c" stroke-width="5" opacity="0.8"/>
<line x1="783.0" y1="570.5" x2="776.0" y2="553.0" stroke="#d9706c" stroke-width="5" opacity="0.8"/>
<line x1="790.0" y1="588.0" x2="768.0" y2="560.0" stroke="#c45a9c" stroke-width="5" opacity="0.8"/>
<line x1="768.0" y1="560.0" x2="746.0" y2="532.0" stroke="#d9706c" stroke-width="5" opacity="0.8"/>
<line x1="790.0" y1="588.0" x2="814.0" y2="620.0" stroke="#c45a9c" stroke-width="5" opacity="0.8"/>
<line x1="814.0" y1="620.0" x2="838.0" y2="652.0" stroke="#d9706c" stroke-width="5" opacity="0.8"/>
<line x1="790.0" y1="588.0" x2="822.5" y2="563.0" stroke="#c45a9c" stroke-width="5" opacity="0.8"/>
<line x1="822.5" y1="563.0" x2="855.0" y2="538.0" stroke="#d9706c" stroke-width="5" opacity="0.8"/>
<circle cx="790.0" cy="588.0" r="17.7" fill="url(#gMn)" opacity="0.9"/>
<circle cx="661.0" cy="238.7" r="12.2" fill="#d98a8a" opacity="0.55"/>
<circle cx="738.7" cy="242.6" r="12.2" fill="#d98a8a" opacity="0.55"/>
<circle cx="828.2" cy="227.8" r="12.2" fill="#d98a8a" opacity="0.55"/>
<circle cx="905.9" cy="231.8" r="12.2" fill="#d98a8a" opacity="0.55"/>
<circle cx="336.2" cy="406.1" r="12.2" fill="#d98a8a" opacity="0.55"/>
<circle cx="504.4" cy="394.3" r="12.2" fill="#d98a8a" opacity="0.55"/>
<circle cx="590.0" cy="387.4" r="12.2" fill="#d98a8a" opacity="0.55"/>
<line x1="296.9" y1="264.2" x2="306.2" y2="259.3" stroke="#9aabcf" stroke-width="4.5"/>
<line x1="306.2" y1="259.3" x2="315.6" y2="254.4" stroke="#7a5232" stroke-width="4.5"/>
<line x1="315.6" y1="254.4" x2="324.9" y2="274.1" stroke="#7a5232" stroke-width="4.5"/>
<line x1="324.9" y1="274.1" x2="334.2" y2="293.7" stroke="#7a5232" stroke-width="4.5"/>
<line x1="296.9" y1="264.2" x2="299.3" y2="285.9" stroke="#9aabcf" stroke-width="4.5"/>
<line x1="299.3" y1="285.9" x2="301.8" y2="307.5" stroke="#7a5232" stroke-width="4.5"/>
<line x1="301.8" y1="307.5" x2="314.1" y2="316.4" stroke="#7a5232" stroke-width="4.5"/>
<line x1="314.1" y1="316.4" x2="326.4" y2="325.2" stroke="#9aabcf" stroke-width="4.5"/>
<line x1="326.4" y1="325.2" x2="330.3" y2="309.5" stroke="#9aabcf" stroke-width="4.5"/>
<line x1="330.3" y1="309.5" x2="334.2" y2="293.7" stroke="#7a5232" stroke-width="4.5"/>
<line x1="334.2" y1="293.7" x2="347.5" y2="299.6" stroke="#7a5232" stroke-width="4.5"/>
<line x1="347.5" y1="299.6" x2="360.8" y2="305.5" stroke="#7a5232" stroke-width="4.5"/>
<line x1="360.8" y1="305.5" x2="385.9" y2="304.1" stroke="#7a5232" stroke-width="4.5"/>
<line x1="385.9" y1="304.1" x2="411.0" y2="302.6" stroke="#7a5232" stroke-width="4.5"/>
<line x1="379.5" y1="228.8" x2="372.6" y2="241.6" stroke="#7a5232" stroke-width="4.5"/>
<line x1="372.6" y1="241.6" x2="365.7" y2="254.4" stroke="#9aabcf" stroke-width="4.5"/>
<line x1="365.7" y1="254.4" x2="374.1" y2="275.1" stroke="#9aabcf" stroke-width="4.5"/>
<line x1="374.1" y1="275.1" x2="382.4" y2="295.7" stroke="#7a5232" stroke-width="4.5"/>
<line x1="382.4" y1="295.7" x2="391.8" y2="295.7" stroke="#7a5232" stroke-width="4.5"/>
<line x1="391.8" y1="295.7" x2="401.1" y2="295.7" stroke="#9aabcf" stroke-width="4.5"/>
<line x1="401.1" y1="295.7" x2="403.1" y2="276.0" stroke="#9aabcf" stroke-width="4.5"/>
<line x1="403.1" y1="276.0" x2="405.1" y2="256.4" stroke="#7a5232" stroke-width="4.5"/>
<line x1="405.1" y1="256.4" x2="392.3" y2="242.6" stroke="#7a5232" stroke-width="4.5"/>
<line x1="392.3" y1="242.6" x2="379.5" y2="228.8" stroke="#7a5232" stroke-width="4.5"/>
<line x1="411.0" y1="302.6" x2="423.7" y2="309.5" stroke="#7a5232" stroke-width="4.5"/>
<line x1="423.7" y1="309.5" x2="436.5" y2="316.4" stroke="#9aabcf" stroke-width="4.5"/>
<line x1="411.0" y1="302.6" x2="406.0" y2="299.1" stroke="#7a5232" stroke-width="4.5"/>
<line x1="406.0" y1="299.1" x2="401.1" y2="295.7" stroke="#9aabcf" stroke-width="4.5"/>
<line x1="464.1" y1="252.4" x2="473.9" y2="247.5" stroke="#9aabcf" stroke-width="4.5"/>
<line x1="473.9" y1="247.5" x2="483.7" y2="242.6" stroke="#7a5232" stroke-width="4.5"/>
<line x1="483.7" y1="242.6" x2="493.6" y2="262.3" stroke="#7a5232" stroke-width="4.5"/>
<line x1="493.6" y1="262.3" x2="503.4" y2="281.9" stroke="#7a5232" stroke-width="4.5"/>
<line x1="503.4" y1="281.9" x2="499.0" y2="297.7" stroke="#7a5232" stroke-width="4.5"/>
<line x1="499.0" y1="297.7" x2="494.6" y2="313.4" stroke="#9aabcf" stroke-width="4.5"/>
<line x1="494.6" y1="313.4" x2="482.8" y2="304.6" stroke="#9aabcf" stroke-width="4.5"/>
<line x1="482.8" y1="304.6" x2="471.0" y2="295.7" stroke="#7a5232" stroke-width="4.5"/>
<line x1="471.0" y1="295.7" x2="467.5" y2="274.1" stroke="#7a5232" stroke-width="4.5"/>
<line x1="467.5" y1="274.1" x2="464.1" y2="252.4" stroke="#9aabcf" stroke-width="4.5"/>
<line x1="503.4" y1="281.9" x2="516.2" y2="287.3" stroke="#7a5232" stroke-width="4.5"/>
<line x1="516.2" y1="287.3" x2="529.0" y2="292.8" stroke="#7a5232" stroke-width="4.5"/>
<line x1="529.0" y1="292.8" x2="553.6" y2="291.8" stroke="#7a5232" stroke-width="4.5"/>
<line x1="553.6" y1="291.8" x2="578.2" y2="290.8" stroke="#7a5232" stroke-width="4.5"/>
<line x1="547.7" y1="218.0" x2="540.8" y2="230.3" stroke="#7a5232" stroke-width="4.5"/>
<line x1="540.8" y1="230.3" x2="533.9" y2="242.6" stroke="#9aabcf" stroke-width="4.5"/>
<line x1="533.9" y1="242.6" x2="542.3" y2="263.2" stroke="#9aabcf" stroke-width="4.5"/>
<line x1="542.3" y1="263.2" x2="550.6" y2="283.9" stroke="#7a5232" stroke-width="4.5"/>
<line x1="550.6" y1="283.9" x2="557.5" y2="284.9" stroke="#7a5232" stroke-width="4.5"/>
<line x1="557.5" y1="284.9" x2="564.4" y2="285.9" stroke="#9aabcf" stroke-width="4.5"/>
<line x1="564.4" y1="285.9" x2="568.3" y2="267.2" stroke="#9aabcf" stroke-width="4.5"/>
<line x1="568.3" y1="267.2" x2="572.3" y2="248.5" stroke="#7a5232" stroke-width="4.5"/>
<line x1="572.3" y1="248.5" x2="560.0" y2="233.3" stroke="#7a5232" stroke-width="4.5"/>
<line x1="560.0" y1="233.3" x2="547.7" y2="218.0" stroke="#7a5232" stroke-width="4.5"/>
<line x1="515.2" y1="118.7" x2="531.9" y2="112.3" stroke="#7a5232" stroke-width="4.5"/>
<line x1="531.9" y1="112.3" x2="548.6" y2="105.9" stroke="#9aabcf" stroke-width="4.5"/>
<line x1="515.2" y1="118.7" x2="519.1" y2="140.8" stroke="#7a5232" stroke-width="4.5"/>
<line x1="519.1" y1="140.8" x2="523.1" y2="162.9" stroke="#9aabcf" stroke-width="4.5"/>
<line x1="523.1" y1="162.9" x2="542.3" y2="169.3" stroke="#9aabcf" stroke-width="4.5"/>
<line x1="542.3" y1="169.3" x2="561.4" y2="175.7" stroke="#7a5232" stroke-width="4.5"/>
<line x1="561.4" y1="175.7" x2="569.8" y2="157.5" stroke="#7a5232" stroke-width="4.5"/>
<line x1="569.8" y1="157.5" x2="578.2" y2="139.3" stroke="#7a5232" stroke-width="4.5"/>
<line x1="578.2" y1="139.3" x2="583.1" y2="148.7" stroke="#7a5232" stroke-width="4.5"/>
<line x1="583.1" y1="148.7" x2="588.0" y2="158.0" stroke="#9aabcf" stroke-width="4.5"/>
<line x1="578.2" y1="139.3" x2="589.0" y2="132.0" stroke="#7a5232" stroke-width="4.5"/>
<line x1="589.0" y1="132.0" x2="599.8" y2="124.6" stroke="#7a5232" stroke-width="4.5"/>
<line x1="588.0" y1="158.0" x2="574.7" y2="166.9" stroke="#9aabcf" stroke-width="4.5"/>
<line x1="574.7" y1="166.9" x2="561.4" y2="175.7" stroke="#7a5232" stroke-width="4.5"/>
<line x1="682.6" y1="107.9" x2="699.8" y2="100.5" stroke="#7a5232" stroke-width="4.5"/>
<line x1="699.8" y1="100.5" x2="717.0" y2="93.1" stroke="#9aabcf" stroke-width="4.5"/>
<line x1="682.6" y1="107.9" x2="687.0" y2="129.5" stroke="#7a5232" stroke-width="4.5"/>
<line x1="687.0" y1="129.5" x2="691.5" y2="151.1" stroke="#9aabcf" stroke-width="4.5"/>
<line x1="691.5" y1="151.1" x2="711.1" y2="157.5" stroke="#9aabcf" stroke-width="4.5"/>
<line x1="711.1" y1="157.5" x2="730.8" y2="163.9" stroke="#7a5232" stroke-width="4.5"/>
<line x1="730.8" y1="163.9" x2="744.6" y2="155.6" stroke="#7a5232" stroke-width="4.5"/>
<line x1="744.6" y1="155.6" x2="758.3" y2="147.2" stroke="#9aabcf" stroke-width="4.5"/>
<line x1="717.0" y1="93.1" x2="727.4" y2="104.9" stroke="#9aabcf" stroke-width="2.6"/>
<line x1="727.4" y1="104.9" x2="737.7" y2="116.7" stroke="#8a6a4a" stroke-width="2.6"/>
<line x1="783.9" y1="124.6" x2="787.8" y2="150.1" stroke="#7a5232" stroke-width="4.5"/>
<line x1="787.8" y1="150.1" x2="791.8" y2="175.7" stroke="#7a5232" stroke-width="4.5"/>
<line x1="791.8" y1="175.7" x2="806.0" y2="163.9" stroke="#7a5232" stroke-width="4.5"/>
<line x1="806.0" y1="163.9" x2="820.3" y2="152.1" stroke="#7a5232" stroke-width="4.5"/>
<line x1="820.3" y1="152.1" x2="824.7" y2="134.9" stroke="#7a5232" stroke-width="4.5"/>
<line x1="824.7" y1="134.9" x2="829.2" y2="117.7" stroke="#9aabcf" stroke-width="4.5"/>
<line x1="791.8" y1="175.7" x2="793.3" y2="198.8" stroke="#7a5232" stroke-width="4.5"/>
<line x1="793.3" y1="198.8" x2="794.7" y2="221.9" stroke="#7a5232" stroke-width="4.5"/>
<line x1="763.3" y1="105.9" x2="773.6" y2="115.2" stroke="#7a5232" stroke-width="4.5"/>
<line x1="773.6" y1="115.2" x2="783.9" y2="124.6" stroke="#7a5232" stroke-width="4.5"/>
<line x1="783.9" y1="124.6" x2="793.3" y2="117.2" stroke="#7a5232" stroke-width="4.5"/>
<line x1="793.3" y1="117.2" x2="802.6" y2="109.8" stroke="#9aabcf" stroke-width="4.5"/>
<line x1="789.8" y1="121.6" x2="809.5" y2="119.7" stroke="#7a5232" stroke-width="4.5"/>
<line x1="809.5" y1="119.7" x2="829.2" y2="117.7" stroke="#9aabcf" stroke-width="4.5"/>
<line x1="623.6" y1="186.5" x2="624.6" y2="210.1" stroke="#7a5232" stroke-width="4.5"/>
<line x1="624.6" y1="210.1" x2="625.6" y2="233.7" stroke="#7a5232" stroke-width="4.5"/>
<line x1="623.6" y1="186.5" x2="637.9" y2="175.2" stroke="#7a5232" stroke-width="4.5"/>
<line x1="637.9" y1="175.2" x2="652.1" y2="163.9" stroke="#7a5232" stroke-width="4.5"/>
<line x1="652.1" y1="163.9" x2="655.6" y2="146.7" stroke="#7a5232" stroke-width="4.5"/>
<line x1="655.6" y1="146.7" x2="659.0" y2="129.5" stroke="#9aabcf" stroke-width="4.5"/>
<line x1="614.8" y1="137.4" x2="619.2" y2="162.0" stroke="#7a5232" stroke-width="4.5"/>
<line x1="619.2" y1="162.0" x2="623.6" y2="186.5" stroke="#7a5232" stroke-width="4.5"/>
<line x1="634.4" y1="121.6" x2="624.6" y2="129.5" stroke="#9aabcf" stroke-width="4.5"/>
<line x1="624.6" y1="129.5" x2="614.8" y2="137.4" stroke="#7a5232" stroke-width="4.5"/>
<line x1="659.0" y1="129.5" x2="670.8" y2="118.7" stroke="#9aabcf" stroke-width="4.5"/>
<line x1="670.8" y1="118.7" x2="682.6" y2="107.9" stroke="#7a5232" stroke-width="4.5"/>
<line x1="519.1" y1="433.6" x2="537.3" y2="440.0" stroke="#9aabcf" stroke-width="4.5"/>
<line x1="537.3" y1="440.0" x2="555.5" y2="446.4" stroke="#7a5232" stroke-width="4.5"/>
<line x1="555.5" y1="446.4" x2="577.2" y2="451.8" stroke="#7a5232" stroke-width="4.5"/>
<line x1="577.2" y1="451.8" x2="598.8" y2="457.2" stroke="#7a5232" stroke-width="4.5"/>
<line x1="519.1" y1="433.6" x2="511.3" y2="453.3" stroke="#9aabcf" stroke-width="4.5"/>
<line x1="511.3" y1="453.3" x2="503.4" y2="472.9" stroke="#7a5232" stroke-width="4.5"/>
<line x1="503.4" y1="472.9" x2="518.7" y2="487.2" stroke="#7a5232" stroke-width="4.5"/>
<line x1="518.7" y1="487.2" x2="533.9" y2="501.5" stroke="#7a5232" stroke-width="4.5"/>
<line x1="533.9" y1="501.5" x2="528.5" y2="520.1" stroke="#7a5232" stroke-width="2.6"/>
<line x1="528.5" y1="520.1" x2="523.1" y2="538.8" stroke="#8a6a4a" stroke-width="2.6"/>
<line x1="598.8" y1="457.2" x2="604.2" y2="477.4" stroke="#7a5232" stroke-width="4.5"/>
<line x1="604.2" y1="477.4" x2="609.6" y2="497.5" stroke="#7a5232" stroke-width="4.5"/>
<line x1="293.9" y1="620.5" x2="306.7" y2="616.5" stroke="#9aabcf" stroke-width="4.5"/>
<line x1="306.7" y1="616.5" x2="319.5" y2="612.6" stroke="#7a5232" stroke-width="4.5"/>
<line x1="319.5" y1="612.6" x2="344.6" y2="614.1" stroke="#7a5232" stroke-width="4.5"/>
<line x1="344.6" y1="614.1" x2="369.7" y2="615.5" stroke="#7a5232" stroke-width="4.5"/>
<line x1="369.7" y1="615.5" x2="381.9" y2="612.6" stroke="#7a5232" stroke-width="4.5"/>
<line x1="381.9" y1="612.6" x2="394.2" y2="609.6" stroke="#7a5232" stroke-width="4.5"/>
<line x1="394.2" y1="609.6" x2="404.1" y2="590.5" stroke="#7a5232" stroke-width="4.5"/>
<line x1="404.1" y1="590.5" x2="413.9" y2="571.3" stroke="#7a5232" stroke-width="4.5"/>
<line x1="413.9" y1="571.3" x2="424.2" y2="578.2" stroke="#7a5232" stroke-width="4.5"/>
<line x1="424.2" y1="578.2" x2="434.6" y2="585.1" stroke="#9aabcf" stroke-width="4.5"/>
<line x1="434.6" y1="585.1" x2="431.1" y2="608.2" stroke="#9aabcf" stroke-width="4.5"/>
<line x1="431.1" y1="608.2" x2="427.7" y2="631.3" stroke="#7a5232" stroke-width="4.5"/>
<line x1="427.7" y1="631.3" x2="415.9" y2="640.1" stroke="#7a5232" stroke-width="4.5"/>
<line x1="415.9" y1="640.1" x2="404.1" y2="649.0" stroke="#9aabcf" stroke-width="4.5"/>
<line x1="404.1" y1="649.0" x2="399.2" y2="629.3" stroke="#9aabcf" stroke-width="4.5"/>
<line x1="399.2" y1="629.3" x2="394.2" y2="609.6" stroke="#7a5232" stroke-width="4.5"/>
<line x1="600.0" y1="456.2" x2="614.8" y2="440.0" stroke="#7a5232" stroke-width="4.5"/>
<line x1="614.8" y1="440.0" x2="629.5" y2="423.8" stroke="#9aabcf" stroke-width="4.5"/>
<line x1="629.5" y1="423.8" x2="646.2" y2="432.6" stroke="#9aabcf" stroke-width="4.5"/>
<line x1="646.2" y1="432.6" x2="662.9" y2="441.5" stroke="#7a5232" stroke-width="4.5"/>
<line x1="662.9" y1="441.5" x2="659.5" y2="463.6" stroke="#7a5232" stroke-width="4.5"/>
<line x1="659.5" y1="463.6" x2="656.1" y2="485.7" stroke="#9aabcf" stroke-width="4.5"/>
<line x1="656.1" y1="485.7" x2="636.4" y2="491.1" stroke="#9aabcf" stroke-width="4.5"/>
<line x1="636.4" y1="491.1" x2="616.7" y2="496.5" stroke="#7a5232" stroke-width="4.5"/>
<line x1="616.7" y1="496.5" x2="608.4" y2="476.4" stroke="#7a5232" stroke-width="4.5"/>
<line x1="608.4" y1="476.4" x2="600.0" y2="456.2" stroke="#7a5232" stroke-width="4.5"/>
<line x1="656.1" y1="485.7" x2="675.2" y2="484.2" stroke="#9aabcf" stroke-width="4.5"/>
<line x1="675.2" y1="484.2" x2="694.4" y2="482.8" stroke="#7a5232" stroke-width="4.5"/>
<line x1="694.4" y1="482.8" x2="703.8" y2="462.1" stroke="#7a5232" stroke-width="4.5"/>
<line x1="703.8" y1="462.1" x2="713.1" y2="441.5" stroke="#9aabcf" stroke-width="4.5"/>
<line x1="694.4" y1="482.8" x2="709.2" y2="496.5" stroke="#7a5232" stroke-width="4.5"/>
<line x1="709.2" y1="496.5" x2="723.9" y2="510.3" stroke="#7a5232" stroke-width="4.5"/>
<line x1="723.9" y1="510.3" x2="740.6" y2="496.5" stroke="#7a5232" stroke-width="4.5"/>
<line x1="740.6" y1="496.5" x2="757.4" y2="482.8" stroke="#9aabcf" stroke-width="4.5"/>
<line x1="757.4" y1="482.8" x2="754.4" y2="462.1" stroke="#9aabcf" stroke-width="4.5"/>
<line x1="754.4" y1="462.1" x2="751.5" y2="441.5" stroke="#7a5232" stroke-width="4.5"/>
<line x1="751.5" y1="441.5" x2="732.3" y2="441.5" stroke="#7a5232" stroke-width="4.5"/>
<line x1="732.3" y1="441.5" x2="713.1" y2="441.5" stroke="#9aabcf" stroke-width="4.5"/>
<line x1="723.9" y1="510.3" x2="722.4" y2="534.9" stroke="#7a5232" stroke-width="4.5"/>
<line x1="722.4" y1="534.9" x2="721.0" y2="559.5" stroke="#7a5232" stroke-width="4.5"/>
<line x1="721.0" y1="559.5" x2="734.2" y2="573.2" stroke="#7a5232" stroke-width="4.5"/>
<line x1="734.2" y1="573.2" x2="747.5" y2="587.0" stroke="#7a5232" stroke-width="4.5"/>
<line x1="747.5" y1="587.0" x2="747.0" y2="610.6" stroke="#7a5232" stroke-width="4.5"/>
<line x1="747.0" y1="610.6" x2="746.5" y2="634.2" stroke="#9aabcf" stroke-width="4.5"/>
<line x1="725.9" y1="434.6" x2="738.7" y2="438.0" stroke="#7a5232" stroke-width="4.5"/>
<line x1="738.7" y1="438.0" x2="751.5" y2="441.5" stroke="#7a5232" stroke-width="4.5"/>
<line x1="767.2" y1="446.4" x2="781.9" y2="429.2" stroke="#7a5232" stroke-width="4.5"/>
<line x1="781.9" y1="429.2" x2="796.7" y2="412.0" stroke="#9aabcf" stroke-width="4.5"/>
<line x1="767.2" y1="446.4" x2="776.0" y2="466.1" stroke="#7a5232" stroke-width="4.5"/>
<line x1="776.0" y1="466.1" x2="784.9" y2="485.7" stroke="#7a5232" stroke-width="4.5"/>
<line x1="784.9" y1="485.7" x2="804.6" y2="479.3" stroke="#7a5232" stroke-width="4.5"/>
<line x1="804.6" y1="479.3" x2="824.2" y2="472.9" stroke="#9aabcf" stroke-width="4.5"/>
<line x1="824.2" y1="472.9" x2="828.2" y2="451.8" stroke="#9aabcf" stroke-width="4.5"/>
<line x1="828.2" y1="451.8" x2="832.1" y2="430.6" stroke="#7a5232" stroke-width="4.5"/>
<line x1="832.1" y1="430.6" x2="814.4" y2="421.3" stroke="#7a5232" stroke-width="4.5"/>
<line x1="814.4" y1="421.3" x2="796.7" y2="412.0" stroke="#9aabcf" stroke-width="4.5"/>
<line x1="881.3" y1="429.7" x2="900.0" y2="430.2" stroke="#9aabcf" stroke-width="4.5"/>
<line x1="900.0" y1="430.2" x2="918.6" y2="430.6" stroke="#7a5232" stroke-width="4.5"/>
<line x1="918.6" y1="430.6" x2="922.1" y2="451.3" stroke="#7a5232" stroke-width="4.5"/>
<line x1="922.1" y1="451.3" x2="925.5" y2="472.0" stroke="#9aabcf" stroke-width="4.5"/>
<line x1="925.5" y1="472.0" x2="908.8" y2="485.7" stroke="#9aabcf" stroke-width="4.5"/>
<line x1="908.8" y1="485.7" x2="892.1" y2="499.5" stroke="#7a5232" stroke-width="4.5"/>
<line x1="892.1" y1="499.5" x2="877.3" y2="485.2" stroke="#7a5232" stroke-width="4.5"/>
<line x1="877.3" y1="485.2" x2="862.6" y2="471.0" stroke="#7a5232" stroke-width="4.5"/>
<line x1="862.6" y1="471.0" x2="871.9" y2="450.3" stroke="#7a5232" stroke-width="4.5"/>
<line x1="871.9" y1="450.3" x2="881.3" y2="429.7" stroke="#9aabcf" stroke-width="4.5"/>
<line x1="892.1" y1="499.5" x2="891.1" y2="523.6" stroke="#7a5232" stroke-width="4.5"/>
<line x1="891.1" y1="523.6" x2="890.1" y2="547.7" stroke="#7a5232" stroke-width="4.5"/>
<line x1="890.1" y1="547.7" x2="902.4" y2="561.4" stroke="#7a5232" stroke-width="4.5"/>
<line x1="902.4" y1="561.4" x2="914.7" y2="575.2" stroke="#7a5232" stroke-width="4.5"/>
<line x1="914.7" y1="575.2" x2="914.2" y2="596.9" stroke="#7a5232" stroke-width="4.5"/>
<line x1="914.2" y1="596.9" x2="913.7" y2="618.5" stroke="#9aabcf" stroke-width="4.5"/>
<line x1="694.4" y1="482.8" x2="691.5" y2="506.9" stroke="#7a5232" stroke-width="2.6"/>
<line x1="691.5" y1="506.9" x2="688.5" y2="531.0" stroke="#8a6a4a" stroke-width="2.6"/>
<line x1="670.8" y1="462.1" x2="666.9" y2="451.8" stroke="#7a5232" stroke-width="4.5"/>
<line x1="666.9" y1="451.8" x2="662.9" y2="441.5" stroke="#7a5232" stroke-width="4.5"/>
<line x1="359.8" y1="98.0" x2="368.2" y2="85.7" stroke="#e0202a" stroke-width="3.0"/>
<line x1="368.2" y1="85.7" x2="376.5" y2="73.4" stroke="#f3d0d0" stroke-width="3.0"/>
<line x1="359.8" y1="98.0" x2="377.0" y2="91.1" stroke="#e0202a" stroke-width="3.0"/>
<line x1="377.0" y1="91.1" x2="394.2" y2="84.3" stroke="#f3d0d0" stroke-width="3.0"/>
<line x1="359.8" y1="98.0" x2="370.6" y2="95.6" stroke="#e0202a" stroke-width="3.0"/>
<line x1="370.6" y1="95.6" x2="381.5" y2="93.1" stroke="#f3d0d0" stroke-width="3.0"/>
<line x1="359.8" y1="98.0" x2="353.9" y2="99.5" stroke="#e0202a" stroke-width="3.0"/>
<line x1="353.9" y1="99.5" x2="348.0" y2="101.0" stroke="#f3d0d0" stroke-width="3.0"/>
<line x1="529.0" y1="86.2" x2="536.8" y2="74.4" stroke="#e0202a" stroke-width="3.0"/>
<line x1="536.8" y1="74.4" x2="544.7" y2="62.6" stroke="#f3d0d0" stroke-width="3.0"/>
<line x1="548.6" y1="105.9" x2="555.5" y2="89.2" stroke="#9aabcf" stroke-width="3.0"/>
<line x1="555.5" y1="89.2" x2="562.4" y2="72.5" stroke="#f3d0d0" stroke-width="3.0"/>
<line x1="529.0" y1="86.2" x2="538.8" y2="84.3" stroke="#e0202a" stroke-width="3.0"/>
<line x1="538.8" y1="84.3" x2="548.6" y2="82.3" stroke="#f3d0d0" stroke-width="3.0"/>
<line x1="517.2" y1="197.4" x2="518.2" y2="208.2" stroke="#e0202a" stroke-width="3.0"/>
<line x1="518.2" y1="208.2" x2="519.1" y2="219.0" stroke="#f3d0d0" stroke-width="3.0"/>
<line x1="561.4" y1="175.7" x2="552.1" y2="183.1" stroke="#7a5232" stroke-width="3.0"/>
<line x1="552.1" y1="183.1" x2="542.7" y2="190.5" stroke="#f3d0d0" stroke-width="3.0"/>
<line x1="515.2" y1="118.7" x2="502.4" y2="110.8" stroke="#7a5232" stroke-width="3.0"/>
<line x1="502.4" y1="110.8" x2="489.6" y2="102.9" stroke="#f3d0d0" stroke-width="3.0"/>
<line x1="548.6" y1="105.9" x2="562.4" y2="100.0" stroke="#9aabcf" stroke-width="3.0"/>
<line x1="562.4" y1="100.0" x2="576.2" y2="94.1" stroke="#f3d0d0" stroke-width="3.0"/>
<line x1="599.8" y1="124.6" x2="595.9" y2="121.6" stroke="#7a5232" stroke-width="3.0"/>
<line x1="595.9" y1="121.6" x2="591.9" y2="118.7" stroke="#f3d0d0" stroke-width="3.0"/>
<line x1="588.0" y1="158.0" x2="596.8" y2="162.9" stroke="#9aabcf" stroke-width="3.0"/>
<line x1="596.8" y1="162.9" x2="605.7" y2="167.9" stroke="#f3d0d0" stroke-width="3.0"/>
<line x1="547.7" y1="218.0" x2="560.4" y2="210.6" stroke="#7a5232" stroke-width="3.0"/>
<line x1="560.4" y1="210.6" x2="573.2" y2="203.3" stroke="#f3d0d0" stroke-width="3.0"/>
<line x1="296.9" y1="264.2" x2="289.0" y2="253.9" stroke="#9aabcf" stroke-width="3.0"/>
<line x1="289.0" y1="253.9" x2="281.1" y2="243.6" stroke="#f3d0d0" stroke-width="3.0"/>
<line x1="315.6" y1="254.4" x2="315.1" y2="240.1" stroke="#7a5232" stroke-width="3.0"/>
<line x1="315.1" y1="240.1" x2="314.6" y2="225.9" stroke="#f3d0d0" stroke-width="3.0"/>
<line x1="301.8" y1="307.5" x2="296.4" y2="314.4" stroke="#7a5232" stroke-width="3.0"/>
<line x1="296.4" y1="314.4" x2="291.0" y2="321.3" stroke="#f3d0d0" stroke-width="3.0"/>
<line x1="334.2" y1="293.7" x2="343.1" y2="289.3" stroke="#7a5232" stroke-width="3.0"/>
<line x1="343.1" y1="289.3" x2="352.0" y2="284.9" stroke="#f3d0d0" stroke-width="3.0"/>
<line x1="326.4" y1="325.2" x2="340.6" y2="332.6" stroke="#9aabcf" stroke-width="3.0"/>
<line x1="340.6" y1="332.6" x2="354.9" y2="340.0" stroke="#f3d0d0" stroke-width="3.0"/>
<line x1="360.8" y1="305.5" x2="368.2" y2="312.4" stroke="#7a5232" stroke-width="3.0"/>
<line x1="368.2" y1="312.4" x2="375.6" y2="319.3" stroke="#f3d0d0" stroke-width="3.0"/>
<line x1="405.1" y1="256.4" x2="411.9" y2="252.9" stroke="#7a5232" stroke-width="3.0"/>
<line x1="411.9" y1="252.9" x2="418.8" y2="249.5" stroke="#f3d0d0" stroke-width="3.0"/>
<line x1="405.1" y1="256.4" x2="411.9" y2="263.2" stroke="#7a5232" stroke-width="3.0"/>
<line x1="411.9" y1="263.2" x2="418.8" y2="270.1" stroke="#f3d0d0" stroke-width="3.0"/>
<line x1="411.0" y1="302.6" x2="420.8" y2="299.1" stroke="#7a5232" stroke-width="3.0"/>
<line x1="420.8" y1="299.1" x2="430.6" y2="295.7" stroke="#f3d0d0" stroke-width="3.0"/>
<line x1="436.5" y1="316.4" x2="431.1" y2="330.6" stroke="#9aabcf" stroke-width="3.0"/>
<line x1="431.1" y1="330.6" x2="425.7" y2="344.9" stroke="#f3d0d0" stroke-width="3.0"/>
<line x1="471.0" y1="295.7" x2="468.5" y2="306.5" stroke="#7a5232" stroke-width="3.0"/>
<line x1="468.5" y1="306.5" x2="466.0" y2="317.3" stroke="#f3d0d0" stroke-width="3.0"/>
<line x1="436.5" y1="316.4" x2="427.7" y2="319.3" stroke="#9aabcf" stroke-width="3.0"/>
<line x1="427.7" y1="319.3" x2="418.8" y2="322.3" stroke="#f3d0d0" stroke-width="3.0"/>
<line x1="464.1" y1="252.4" x2="456.2" y2="243.6" stroke="#9aabcf" stroke-width="3.0"/>
<line x1="456.2" y1="243.6" x2="448.3" y2="234.7" stroke="#f3d0d0" stroke-width="3.0"/>
<line x1="483.7" y1="242.6" x2="483.7" y2="228.8" stroke="#7a5232" stroke-width="3.0"/>
<line x1="483.7" y1="228.8" x2="483.7" y2="215.1" stroke="#f3d0d0" stroke-width="3.0"/>
<line x1="503.4" y1="281.9" x2="511.3" y2="278.0" stroke="#7a5232" stroke-width="3.0"/>
<line x1="511.3" y1="278.0" x2="519.1" y2="274.1" stroke="#f3d0d0" stroke-width="3.0"/>
<line x1="517.2" y1="197.4" x2="510.8" y2="189.0" stroke="#e0202a" stroke-width="3.0"/>
<line x1="510.8" y1="189.0" x2="504.4" y2="180.6" stroke="#f3d0d0" stroke-width="3.0"/>
<line x1="572.3" y1="248.5" x2="578.6" y2="243.1" stroke="#7a5232" stroke-width="3.0"/>
<line x1="578.6" y1="243.1" x2="585.0" y2="237.7" stroke="#f3d0d0" stroke-width="3.0"/>
<line x1="529.0" y1="292.8" x2="537.8" y2="300.1" stroke="#7a5232" stroke-width="3.0"/>
<line x1="537.8" y1="300.1" x2="546.7" y2="307.5" stroke="#f3d0d0" stroke-width="3.0"/>
<line x1="594.9" y1="313.4" x2="588.5" y2="323.2" stroke="#9aabcf" stroke-width="3.0"/>
<line x1="588.5" y1="323.2" x2="582.1" y2="333.1" stroke="#f3d0d0" stroke-width="3.0"/>
<line x1="717.0" y1="93.1" x2="730.8" y2="87.7" stroke="#9aabcf" stroke-width="3.0"/>
<line x1="730.8" y1="87.7" x2="744.6" y2="82.3" stroke="#f3d0d0" stroke-width="3.0"/>
<line x1="682.6" y1="107.9" x2="669.8" y2="100.0" stroke="#7a5232" stroke-width="3.0"/>
<line x1="669.8" y1="100.0" x2="657.0" y2="92.1" stroke="#f3d0d0" stroke-width="3.0"/>
<line x1="634.4" y1="121.6" x2="633.9" y2="111.8" stroke="#9aabcf" stroke-width="3.0"/>
<line x1="633.9" y1="111.8" x2="633.4" y2="102.0" stroke="#f3d0d0" stroke-width="3.0"/>
<line x1="634.4" y1="121.6" x2="639.8" y2="110.3" stroke="#9aabcf" stroke-width="3.0"/>
<line x1="639.8" y1="110.3" x2="645.2" y2="99.0" stroke="#f3d0d0" stroke-width="3.0"/>
<line x1="682.6" y1="107.9" x2="675.7" y2="104.4" stroke="#7a5232" stroke-width="3.0"/>
<line x1="675.7" y1="104.4" x2="668.8" y2="101.0" stroke="#f3d0d0" stroke-width="3.0"/>
<line x1="691.5" y1="151.1" x2="685.1" y2="151.1" stroke="#9aabcf" stroke-width="3.0"/>
<line x1="685.1" y1="151.1" x2="678.7" y2="151.1" stroke="#f3d0d0" stroke-width="3.0"/>
<line x1="652.1" y1="163.9" x2="648.7" y2="159.0" stroke="#7a5232" stroke-width="3.0"/>
<line x1="648.7" y1="159.0" x2="645.2" y2="154.1" stroke="#f3d0d0" stroke-width="3.0"/>
<line x1="588.0" y1="158.0" x2="596.9" y2="163.9" stroke="#9aabcf" stroke-width="3.0"/>
<line x1="596.9" y1="163.9" x2="605.9" y2="169.8" stroke="#f3d0d0" stroke-width="3.0"/>
<line x1="684.6" y1="185.6" x2="682.1" y2="179.7" stroke="#e0202a" stroke-width="3.0"/>
<line x1="682.1" y1="179.7" x2="679.7" y2="173.8" stroke="#f3d0d0" stroke-width="3.0"/>
<line x1="730.8" y1="163.9" x2="721.5" y2="170.8" stroke="#7a5232" stroke-width="3.0"/>
<line x1="721.5" y1="170.8" x2="712.1" y2="177.7" stroke="#f3d0d0" stroke-width="3.0"/>
<line x1="684.6" y1="185.6" x2="685.6" y2="196.9" stroke="#e0202a" stroke-width="3.0"/>
<line x1="685.6" y1="196.9" x2="686.5" y2="208.2" stroke="#f3d0d0" stroke-width="3.0"/>
<line x1="730.8" y1="163.9" x2="737.2" y2="179.2" stroke="#7a5232" stroke-width="3.0"/>
<line x1="737.2" y1="179.2" x2="743.6" y2="194.4" stroke="#f3d0d0" stroke-width="3.0"/>
<line x1="768.2" y1="237.7" x2="760.3" y2="225.4" stroke="#e0202a" stroke-width="3.0"/>
<line x1="760.3" y1="225.4" x2="752.4" y2="213.1" stroke="#f3d0d0" stroke-width="3.0"/>
<line x1="768.2" y1="237.7" x2="771.6" y2="242.6" stroke="#e0202a" stroke-width="3.0"/>
<line x1="771.6" y1="242.6" x2="775.1" y2="247.5" stroke="#f3d0d0" stroke-width="3.0"/>
<line x1="763.3" y1="105.9" x2="761.3" y2="106.4" stroke="#7a5232" stroke-width="3.0"/>
<line x1="761.3" y1="106.4" x2="759.3" y2="106.9" stroke="#f3d0d0" stroke-width="3.0"/>
<line x1="802.6" y1="109.8" x2="802.1" y2="99.5" stroke="#9aabcf" stroke-width="3.0"/>
<line x1="802.1" y1="99.5" x2="801.6" y2="89.2" stroke="#f3d0d0" stroke-width="3.0"/>
<line x1="802.6" y1="109.8" x2="808.0" y2="99.0" stroke="#9aabcf" stroke-width="3.0"/>
<line x1="808.0" y1="99.0" x2="813.4" y2="88.2" stroke="#f3d0d0" stroke-width="3.0"/>
<line x1="829.2" y1="117.7" x2="833.1" y2="103.4" stroke="#9aabcf" stroke-width="3.0"/>
<line x1="833.1" y1="103.4" x2="837.0" y2="89.2" stroke="#f3d0d0" stroke-width="3.0"/>
<line x1="829.2" y1="117.7" x2="839.0" y2="128.0" stroke="#9aabcf" stroke-width="3.0"/>
<line x1="839.0" y1="128.0" x2="848.8" y2="138.3" stroke="#f3d0d0" stroke-width="3.0"/>
<line x1="820.3" y1="152.1" x2="816.4" y2="147.2" stroke="#7a5232" stroke-width="3.0"/>
<line x1="816.4" y1="147.2" x2="812.4" y2="142.3" stroke="#f3d0d0" stroke-width="3.0"/>
<line x1="758.3" y1="147.2" x2="765.7" y2="152.6" stroke="#9aabcf" stroke-width="3.0"/>
<line x1="765.7" y1="152.6" x2="773.1" y2="158.0" stroke="#f3d0d0" stroke-width="3.0"/>
<line x1="820.3" y1="152.1" x2="834.6" y2="156.5" stroke="#7a5232" stroke-width="3.0"/>
<line x1="834.6" y1="156.5" x2="848.8" y2="161.0" stroke="#f3d0d0" stroke-width="3.0"/>
<line x1="829.2" y1="117.7" x2="825.7" y2="118.2" stroke="#9aabcf" stroke-width="3.0"/>
<line x1="825.7" y1="118.2" x2="822.3" y2="118.7" stroke="#f3d0d0" stroke-width="3.0"/>
<line x1="937.3" y1="224.9" x2="929.5" y2="213.6" stroke="#e0202a" stroke-width="3.0"/>
<line x1="929.5" y1="213.6" x2="921.6" y2="202.3" stroke="#f3d0d0" stroke-width="3.0"/>
<line x1="937.3" y1="224.9" x2="940.3" y2="230.3" stroke="#e0202a" stroke-width="3.0"/>
<line x1="940.3" y1="230.3" x2="943.2" y2="235.7" stroke="#f3d0d0" stroke-width="3.0"/>
<line x1="780.0" y1="337.0" x2="778.5" y2="344.4" stroke="#e0202a" stroke-width="3.0"/>
<line x1="778.5" y1="344.4" x2="777.0" y2="351.8" stroke="#f3d0d0" stroke-width="3.0"/>
<line x1="625.6" y1="233.7" x2="618.7" y2="233.7" stroke="#7a5232" stroke-width="3.0"/>
<line x1="618.7" y1="233.7" x2="611.8" y2="233.7" stroke="#f3d0d0" stroke-width="3.0"/>
<line x1="368.7" y1="409.0" x2="360.8" y2="397.2" stroke="#e0202a" stroke-width="3.0"/>
<line x1="360.8" y1="397.2" x2="352.9" y2="385.4" stroke="#f3d0d0" stroke-width="3.0"/>
<line x1="368.7" y1="409.0" x2="372.6" y2="414.4" stroke="#e0202a" stroke-width="3.0"/>
<line x1="372.6" y1="414.4" x2="376.5" y2="419.8" stroke="#f3d0d0" stroke-width="3.0"/>
<line x1="380.5" y1="507.4" x2="380.0" y2="515.2" stroke="#e0202a" stroke-width="3.0"/>
<line x1="380.0" y1="515.2" x2="379.5" y2="523.1" stroke="#f3d0d0" stroke-width="3.0"/>
<line x1="536.8" y1="397.2" x2="529.0" y2="385.4" stroke="#e0202a" stroke-width="3.0"/>
<line x1="529.0" y1="385.4" x2="521.1" y2="373.6" stroke="#f3d0d0" stroke-width="3.0"/>
<line x1="519.1" y1="433.6" x2="514.2" y2="420.3" stroke="#9aabcf" stroke-width="3.0"/>
<line x1="514.2" y1="420.3" x2="509.3" y2="407.0" stroke="#f3d0d0" stroke-width="3.0"/>
<line x1="503.4" y1="472.9" x2="503.4" y2="464.6" stroke="#7a5232" stroke-width="3.0"/>
<line x1="503.4" y1="464.6" x2="503.4" y2="456.2" stroke="#f3d0d0" stroke-width="3.0"/>
<line x1="503.4" y1="472.9" x2="487.7" y2="473.4" stroke="#7a5232" stroke-width="3.0"/>
<line x1="487.7" y1="473.4" x2="471.9" y2="473.9" stroke="#f3d0d0" stroke-width="3.0"/>
<line x1="503.4" y1="472.9" x2="503.4" y2="479.3" stroke="#7a5232" stroke-width="3.0"/>
<line x1="503.4" y1="479.3" x2="503.4" y2="485.7" stroke="#f3d0d0" stroke-width="3.0"/>
<line x1="503.4" y1="472.9" x2="518.7" y2="471.0" stroke="#7a5232" stroke-width="3.0"/>
<line x1="518.7" y1="471.0" x2="533.9" y2="469.0" stroke="#f3d0d0" stroke-width="3.0"/>
<line x1="600.0" y1="456.2" x2="593.5" y2="440.5" stroke="#7a5232" stroke-width="3.0"/>
<line x1="593.5" y1="440.5" x2="587.0" y2="424.7" stroke="#f3d0d0" stroke-width="3.0"/>
<line x1="598.8" y1="457.2" x2="586.0" y2="466.5" stroke="#7a5232" stroke-width="3.0"/>
<line x1="586.0" y1="466.5" x2="573.2" y2="475.9" stroke="#f3d0d0" stroke-width="3.0"/>
<line x1="533.9" y1="501.5" x2="549.1" y2="501.0" stroke="#7a5232" stroke-width="3.0"/>
<line x1="549.1" y1="501.0" x2="564.4" y2="500.5" stroke="#f3d0d0" stroke-width="3.0"/>
<line x1="533.9" y1="501.5" x2="540.8" y2="506.9" stroke="#7a5232" stroke-width="3.0"/>
<line x1="540.8" y1="506.9" x2="547.7" y2="512.3" stroke="#f3d0d0" stroke-width="3.0"/>
<line x1="609.6" y1="497.5" x2="600.8" y2="508.3" stroke="#7a5232" stroke-width="3.0"/>
<line x1="600.8" y1="508.3" x2="591.9" y2="519.2" stroke="#f3d0d0" stroke-width="3.0"/>
<line x1="413.9" y1="571.3" x2="413.9" y2="556.5" stroke="#7a5232" stroke-width="3.0"/>
<line x1="413.9" y1="556.5" x2="413.9" y2="541.8" stroke="#f3d0d0" stroke-width="3.0"/>
<line x1="434.6" y1="585.1" x2="441.4" y2="576.7" stroke="#9aabcf" stroke-width="3.0"/>
<line x1="441.4" y1="576.7" x2="448.3" y2="568.3" stroke="#f3d0d0" stroke-width="3.0"/>
<line x1="369.7" y1="615.5" x2="373.1" y2="603.2" stroke="#7a5232" stroke-width="3.0"/>
<line x1="373.1" y1="603.2" x2="376.5" y2="591.0" stroke="#f3d0d0" stroke-width="3.0"/>
<line x1="462.1" y1="609.6" x2="465.1" y2="597.8" stroke="#9aabcf" stroke-width="3.0"/>
<line x1="465.1" y1="597.8" x2="468.0" y2="586.0" stroke="#f3d0d0" stroke-width="3.0"/>
<line x1="319.5" y1="612.6" x2="315.1" y2="597.3" stroke="#7a5232" stroke-width="3.0"/>
<line x1="315.1" y1="597.3" x2="310.6" y2="582.1" stroke="#f3d0d0" stroke-width="3.0"/>
<line x1="293.9" y1="620.5" x2="296.9" y2="608.7" stroke="#9aabcf" stroke-width="3.0"/>
<line x1="296.9" y1="608.7" x2="299.8" y2="596.9" stroke="#f3d0d0" stroke-width="3.0"/>
<line x1="293.9" y1="620.5" x2="279.2" y2="621.4" stroke="#9aabcf" stroke-width="3.0"/>
<line x1="279.2" y1="621.4" x2="264.4" y2="622.4" stroke="#f3d0d0" stroke-width="3.0"/>
<line x1="293.9" y1="620.5" x2="302.3" y2="627.8" stroke="#9aabcf" stroke-width="3.0"/>
<line x1="302.3" y1="627.8" x2="310.6" y2="635.2" stroke="#f3d0d0" stroke-width="3.0"/>
<line x1="293.9" y1="620.5" x2="298.4" y2="634.2" stroke="#9aabcf" stroke-width="3.0"/>
<line x1="298.4" y1="634.2" x2="302.8" y2="648.0" stroke="#f3d0d0" stroke-width="3.0"/>
<line x1="404.1" y1="649.0" x2="390.3" y2="646.0" stroke="#9aabcf" stroke-width="3.0"/>
<line x1="390.3" y1="646.0" x2="376.5" y2="643.1" stroke="#f3d0d0" stroke-width="3.0"/>
<line x1="427.7" y1="631.3" x2="433.1" y2="639.6" stroke="#7a5232" stroke-width="3.0"/>
<line x1="433.1" y1="639.6" x2="438.5" y2="648.0" stroke="#f3d0d0" stroke-width="3.0"/>
<line x1="564.4" y1="652.9" x2="578.2" y2="648.5" stroke="#e0202a" stroke-width="3.0"/>
<line x1="578.2" y1="648.5" x2="591.9" y2="644.1" stroke="#f3d0d0" stroke-width="3.0"/>
<line x1="687.5" y1="414.9" x2="682.6" y2="405.1" stroke="#9aabcf" stroke-width="3.0"/>
<line x1="682.6" y1="405.1" x2="677.7" y2="395.2" stroke="#f3d0d0" stroke-width="3.0"/>
<line x1="687.5" y1="414.9" x2="700.3" y2="410.0" stroke="#9aabcf" stroke-width="3.0"/>
<line x1="700.3" y1="410.0" x2="713.1" y2="405.1" stroke="#f3d0d0" stroke-width="3.0"/>
<line x1="687.5" y1="414.9" x2="694.9" y2="415.9" stroke="#9aabcf" stroke-width="3.0"/>
<line x1="694.9" y1="415.9" x2="702.3" y2="416.9" stroke="#f3d0d0" stroke-width="3.0"/>
<line x1="751.5" y1="441.5" x2="752.4" y2="427.2" stroke="#7a5232" stroke-width="3.0"/>
<line x1="752.4" y1="427.2" x2="753.4" y2="412.9" stroke="#f3d0d0" stroke-width="3.0"/>
<line x1="796.7" y1="412.0" x2="783.4" y2="414.4" stroke="#9aabcf" stroke-width="3.0"/>
<line x1="783.4" y1="414.4" x2="770.1" y2="416.9" stroke="#f3d0d0" stroke-width="3.0"/>
<line x1="687.5" y1="414.9" x2="688.5" y2="420.3" stroke="#9aabcf" stroke-width="3.0"/>
<line x1="688.5" y1="420.3" x2="689.5" y2="425.7" stroke="#f3d0d0" stroke-width="3.0"/>
<line x1="656.1" y1="485.7" x2="648.2" y2="473.9" stroke="#9aabcf" stroke-width="3.0"/>
<line x1="648.2" y1="473.9" x2="640.3" y2="462.1" stroke="#f3d0d0" stroke-width="3.0"/>
<line x1="670.8" y1="462.1" x2="670.8" y2="468.0" stroke="#7a5232" stroke-width="3.0"/>
<line x1="670.8" y1="468.0" x2="670.8" y2="473.9" stroke="#f3d0d0" stroke-width="3.0"/>
<line x1="751.5" y1="441.5" x2="745.6" y2="452.8" stroke="#7a5232" stroke-width="3.0"/>
<line x1="745.6" y1="452.8" x2="739.7" y2="464.1" stroke="#f3d0d0" stroke-width="3.0"/>
<line x1="713.1" y1="441.5" x2="706.7" y2="449.3" stroke="#9aabcf" stroke-width="3.0"/>
<line x1="706.7" y1="449.3" x2="700.3" y2="457.2" stroke="#f3d0d0" stroke-width="3.0"/>
<line x1="723.9" y1="510.3" x2="728.3" y2="499.0" stroke="#7a5232" stroke-width="3.0"/>
<line x1="728.3" y1="499.0" x2="732.8" y2="487.7" stroke="#f3d0d0" stroke-width="3.0"/>
<line x1="656.1" y1="485.7" x2="664.4" y2="495.6" stroke="#9aabcf" stroke-width="3.0"/>
<line x1="664.4" y1="495.6" x2="672.8" y2="505.4" stroke="#f3d0d0" stroke-width="3.0"/>
<line x1="609.6" y1="497.5" x2="606.3" y2="511.3" stroke="#7a5232" stroke-width="3.0"/>
<line x1="606.3" y1="511.3" x2="603.0" y2="525.1" stroke="#f3d0d0" stroke-width="3.0"/>
<line x1="881.3" y1="429.7" x2="869.0" y2="421.8" stroke="#9aabcf" stroke-width="3.0"/>
<line x1="869.0" y1="421.8" x2="856.7" y2="413.9" stroke="#f3d0d0" stroke-width="3.0"/>
<line x1="881.3" y1="429.7" x2="875.9" y2="417.4" stroke="#9aabcf" stroke-width="3.0"/>
<line x1="875.9" y1="417.4" x2="870.5" y2="405.1" stroke="#f3d0d0" stroke-width="3.0"/>
<line x1="918.6" y1="430.6" x2="928.5" y2="417.4" stroke="#7a5232" stroke-width="3.0"/>
<line x1="928.5" y1="417.4" x2="938.3" y2="404.1" stroke="#f3d0d0" stroke-width="3.0"/>
<line x1="824.2" y1="472.9" x2="831.6" y2="475.9" stroke="#9aabcf" stroke-width="3.0"/>
<line x1="831.6" y1="475.9" x2="839.0" y2="478.8" stroke="#f3d0d0" stroke-width="3.0"/>
<line x1="824.2" y1="472.9" x2="832.6" y2="483.3" stroke="#9aabcf" stroke-width="3.0"/>
<line x1="832.6" y1="483.3" x2="841.0" y2="493.6" stroke="#f3d0d0" stroke-width="3.0"/>
<line x1="745.6" y1="531.9" x2="758.3" y2="523.1" stroke="#e0202a" stroke-width="3.0"/>
<line x1="758.3" y1="523.1" x2="771.1" y2="514.2" stroke="#f3d0d0" stroke-width="3.0"/>
<line x1="757.4" y1="482.8" x2="759.8" y2="495.1" stroke="#9aabcf" stroke-width="3.0"/>
<line x1="759.8" y1="495.1" x2="762.3" y2="507.4" stroke="#f3d0d0" stroke-width="3.0"/>
<line x1="721.0" y1="559.5" x2="705.2" y2="563.9" stroke="#7a5232" stroke-width="3.0"/>
<line x1="705.2" y1="563.9" x2="689.5" y2="568.3" stroke="#f3d0d0" stroke-width="3.0"/>
<line x1="721.0" y1="559.5" x2="726.9" y2="561.4" stroke="#7a5232" stroke-width="3.0"/>
<line x1="726.9" y1="561.4" x2="732.8" y2="563.4" stroke="#f3d0d0" stroke-width="3.0"/>
<line x1="747.5" y1="587.0" x2="762.8" y2="582.1" stroke="#7a5232" stroke-width="3.0"/>
<line x1="762.8" y1="582.1" x2="778.0" y2="577.2" stroke="#f3d0d0" stroke-width="3.0"/>
<line x1="890.1" y1="547.7" x2="873.9" y2="552.1" stroke="#7a5232" stroke-width="3.0"/>
<line x1="873.9" y1="552.1" x2="857.7" y2="556.5" stroke="#f3d0d0" stroke-width="3.0"/>
<line x1="890.1" y1="547.7" x2="895.0" y2="549.6" stroke="#7a5232" stroke-width="3.0"/>
<line x1="895.0" y1="549.6" x2="900.0" y2="551.6" stroke="#f3d0d0" stroke-width="3.0"/>
<line x1="914.7" y1="575.2" x2="930.9" y2="569.8" stroke="#7a5232" stroke-width="3.0"/>
<line x1="930.9" y1="569.8" x2="947.2" y2="564.4" stroke="#f3d0d0" stroke-width="3.0"/>
<line x1="914.7" y1="575.2" x2="908.3" y2="574.2" stroke="#7a5232" stroke-width="3.0"/>
<line x1="908.3" y1="574.2" x2="901.9" y2="573.2" stroke="#f3d0d0" stroke-width="3.0"/>
<line x1="733.8" y1="647.0" x2="725.4" y2="647.0" stroke="#e0202a" stroke-width="3.0"/>
<line x1="725.4" y1="647.0" x2="717.0" y2="647.0" stroke="#f3d0d0" stroke-width="3.0"/>
<line x1="746.5" y1="634.2" x2="755.4" y2="642.6" stroke="#9aabcf" stroke-width="3.0"/>
<line x1="755.4" y1="642.6" x2="764.2" y2="650.9" stroke="#f3d0d0" stroke-width="3.0"/>
<line x1="746.5" y1="634.2" x2="751.0" y2="636.2" stroke="#9aabcf" stroke-width="3.0"/>
<line x1="751.0" y1="636.2" x2="755.4" y2="638.2" stroke="#f3d0d0" stroke-width="3.0"/>
<line x1="733.8" y1="647.0" x2="735.7" y2="655.4" stroke="#e0202a" stroke-width="3.0"/>
<line x1="735.7" y1="655.4" x2="737.7" y2="663.7" stroke="#f3d0d0" stroke-width="3.0"/>
<line x1="913.7" y1="618.5" x2="900.0" y2="625.9" stroke="#9aabcf" stroke-width="3.0"/>
<line x1="900.0" y1="625.9" x2="886.2" y2="633.2" stroke="#f3d0d0" stroke-width="3.0"/>
<line x1="913.7" y1="618.5" x2="918.6" y2="622.4" stroke="#9aabcf" stroke-width="3.0"/>
<line x1="918.6" y1="622.4" x2="923.6" y2="626.4" stroke="#f3d0d0" stroke-width="3.0"/>
<line x1="913.7" y1="618.5" x2="923.1" y2="628.8" stroke="#9aabcf" stroke-width="3.0"/>
<line x1="923.1" y1="628.8" x2="932.4" y2="639.1" stroke="#f3d0d0" stroke-width="3.0"/>
<line x1="780.0" y1="337.0" x2="778.5" y2="345.0" stroke="#e0202a" stroke-width="3.0"/>
<line x1="778.5" y1="345.0" x2="777.0" y2="353.0" stroke="#f3d0d0" stroke-width="3.0"/>
<circle cx="376.5" cy="73.4" r="5.1" fill="url(#gH)"/>
<circle cx="394.2" cy="84.3" r="5.1" fill="url(#gH)"/>
<circle cx="381.5" cy="93.1" r="5.1" fill="url(#gH)"/>
<circle cx="348.0" cy="101.0" r="5.1" fill="url(#gH)"/>
<circle cx="544.7" cy="62.6" r="5.1" fill="url(#gH)"/>
<circle cx="562.4" cy="72.5" r="5.1" fill="url(#gH)"/>
<circle cx="548.6" cy="82.3" r="5.1" fill="url(#gH)"/>
<circle cx="519.1" cy="219.0" r="5.1" fill="url(#gH)"/>
<circle cx="542.7" cy="190.5" r="5.1" fill="url(#gH)"/>
<circle cx="489.6" cy="102.9" r="5.1" fill="url(#gH)"/>
<circle cx="332.3" cy="177.7" r="5.1" fill="url(#gH)"/>
<circle cx="576.2" cy="94.1" r="5.1" fill="url(#gH)"/>
<circle cx="591.9" cy="118.7" r="5.1" fill="url(#gH)"/>
<circle cx="605.7" cy="167.9" r="5.1" fill="url(#gH)"/>
<circle cx="573.2" cy="203.3" r="5.1" fill="url(#gH)"/>
<circle cx="281.1" cy="243.6" r="5.1" fill="url(#gH)"/>
<circle cx="314.6" cy="225.9" r="5.1" fill="url(#gH)"/>
<circle cx="291.0" cy="321.3" r="5.1" fill="url(#gH)"/>
<circle cx="352.0" cy="284.9" r="5.1" fill="url(#gH)"/>
<circle cx="354.9" cy="340.0" r="5.1" fill="url(#gH)"/>
<circle cx="375.6" cy="319.3" r="5.1" fill="url(#gH)"/>
<circle cx="418.8" cy="249.5" r="5.1" fill="url(#gH)"/>
<circle cx="418.8" cy="270.1" r="5.1" fill="url(#gH)"/>
<circle cx="430.6" cy="295.7" r="5.1" fill="url(#gH)"/>
<circle cx="425.7" cy="344.9" r="5.1" fill="url(#gH)"/>
<circle cx="466.0" cy="317.3" r="5.1" fill="url(#gH)"/>
<circle cx="418.8" cy="322.3" r="5.1" fill="url(#gH)"/>
<circle cx="448.3" cy="234.7" r="5.1" fill="url(#gH)"/>
<circle cx="483.7" cy="215.1" r="5.1" fill="url(#gH)"/>
<circle cx="519.1" cy="274.1" r="5.1" fill="url(#gH)"/>
<circle cx="504.4" cy="180.6" r="5.1" fill="url(#gH)"/>
<circle cx="585.0" cy="237.7" r="5.1" fill="url(#gH)"/>
<circle cx="546.7" cy="307.5" r="5.1" fill="url(#gH)"/>
<circle cx="582.1" cy="333.1" r="5.1" fill="url(#gH)"/>
<circle cx="744.6" cy="82.3" r="5.1" fill="url(#gH)"/>
<circle cx="657.0" cy="92.1" r="5.1" fill="url(#gH)"/>
<circle cx="633.4" cy="102.0" r="5.1" fill="url(#gH)"/>
<circle cx="645.2" cy="99.0" r="5.1" fill="url(#gH)"/>
<circle cx="668.8" cy="101.0" r="5.1" fill="url(#gH)"/>
<circle cx="678.7" cy="151.1" r="5.1" fill="url(#gH)"/>
<circle cx="645.2" cy="154.1" r="5.1" fill="url(#gH)"/>
<circle cx="605.9" cy="169.8" r="5.1" fill="url(#gH)"/>
<circle cx="679.7" cy="173.8" r="5.1" fill="url(#gH)"/>
<circle cx="712.1" cy="177.7" r="5.1" fill="url(#gH)"/>
<circle cx="686.5" cy="208.2" r="5.1" fill="url(#gH)"/>
<circle cx="743.6" cy="194.4" r="5.1" fill="url(#gH)"/>
<circle cx="752.4" cy="213.1" r="5.1" fill="url(#gH)"/>
<circle cx="775.1" cy="247.5" r="5.1" fill="url(#gH)"/>
<circle cx="759.3" cy="106.9" r="5.1" fill="url(#gH)"/>
<circle cx="801.6" cy="89.2" r="5.1" fill="url(#gH)"/>
<circle cx="813.4" cy="88.2" r="5.1" fill="url(#gH)"/>
<circle cx="837.0" cy="89.2" r="5.1" fill="url(#gH)"/>
<circle cx="848.8" cy="138.3" r="5.1" fill="url(#gH)"/>
<circle cx="812.4" cy="142.3" r="5.1" fill="url(#gH)"/>
<circle cx="773.1" cy="158.0" r="5.1" fill="url(#gH)"/>
<circle cx="848.8" cy="161.0" r="5.1" fill="url(#gH)"/>
<circle cx="822.3" cy="118.7" r="5.1" fill="url(#gH)"/>
<circle cx="921.6" cy="202.3" r="5.1" fill="url(#gH)"/>
<circle cx="943.2" cy="235.7" r="5.1" fill="url(#gH)"/>
<circle cx="777.0" cy="351.8" r="5.1" fill="url(#gH)"/>
<circle cx="611.8" cy="233.7" r="5.1" fill="url(#gH)"/>
<circle cx="352.9" cy="385.4" r="5.1" fill="url(#gH)"/>
<circle cx="376.5" cy="419.8" r="5.1" fill="url(#gH)"/>
<circle cx="379.5" cy="523.1" r="5.1" fill="url(#gH)"/>
<circle cx="521.1" cy="373.6" r="5.1" fill="url(#gH)"/>
<circle cx="509.3" cy="407.0" r="5.1" fill="url(#gH)"/>
<circle cx="503.4" cy="456.2" r="5.1" fill="url(#gH)"/>
<circle cx="471.9" cy="473.9" r="5.1" fill="url(#gH)"/>
<circle cx="503.4" cy="485.7" r="5.1" fill="url(#gH)"/>
<circle cx="533.9" cy="469.0" r="5.1" fill="url(#gH)"/>
<circle cx="587.0" cy="424.7" r="5.1" fill="url(#gH)"/>
<circle cx="573.2" cy="475.9" r="5.1" fill="url(#gH)"/>
<circle cx="564.4" cy="500.5" r="5.1" fill="url(#gH)"/>
<circle cx="547.7" cy="512.3" r="5.1" fill="url(#gH)"/>
<circle cx="591.9" cy="519.2" r="5.1" fill="url(#gH)"/>
<circle cx="413.9" cy="541.8" r="5.1" fill="url(#gH)"/>
<circle cx="448.3" cy="568.3" r="5.1" fill="url(#gH)"/>
<circle cx="376.5" cy="591.0" r="5.1" fill="url(#gH)"/>
<circle cx="468.0" cy="586.0" r="5.1" fill="url(#gH)"/>
<circle cx="478.8" cy="563.4" r="5.1" fill="url(#gH)"/>
<circle cx="310.6" cy="582.1" r="5.1" fill="url(#gH)"/>
<circle cx="299.8" cy="596.9" r="5.1" fill="url(#gH)"/>
<circle cx="264.4" cy="622.4" r="5.1" fill="url(#gH)"/>
<circle cx="310.6" cy="635.2" r="5.1" fill="url(#gH)"/>
<circle cx="302.8" cy="648.0" r="5.1" fill="url(#gH)"/>
<circle cx="376.5" cy="643.1" r="5.1" fill="url(#gH)"/>
<circle cx="438.5" cy="648.0" r="5.1" fill="url(#gH)"/>
<circle cx="591.9" cy="644.1" r="5.1" fill="url(#gH)"/>
<circle cx="677.7" cy="395.2" r="5.1" fill="url(#gH)"/>
<circle cx="713.1" cy="405.1" r="5.1" fill="url(#gH)"/>
<circle cx="702.3" cy="416.9" r="5.1" fill="url(#gH)"/>
<circle cx="753.4" cy="412.9" r="5.1" fill="url(#gH)"/>
<circle cx="770.1" cy="416.9" r="5.1" fill="url(#gH)"/>
<circle cx="689.5" cy="425.7" r="5.1" fill="url(#gH)"/>
<circle cx="640.3" cy="462.1" r="5.1" fill="url(#gH)"/>
<circle cx="670.8" cy="473.9" r="5.1" fill="url(#gH)"/>
<circle cx="739.7" cy="464.1" r="5.1" fill="url(#gH)"/>
<circle cx="700.3" cy="457.2" r="5.1" fill="url(#gH)"/>
<circle cx="732.8" cy="487.7" r="5.1" fill="url(#gH)"/>
<circle cx="672.8" cy="505.4" r="5.1" fill="url(#gH)"/>
<circle cx="603.0" cy="525.1" r="5.1" fill="url(#gH)"/>
<circle cx="856.7" cy="413.9" r="5.1" fill="url(#gH)"/>
<circle cx="870.5" cy="405.1" r="5.1" fill="url(#gH)"/>
<circle cx="938.3" cy="404.1" r="5.1" fill="url(#gH)"/>
<circle cx="839.0" cy="478.8" r="5.1" fill="url(#gH)"/>
<circle cx="841.0" cy="493.6" r="5.1" fill="url(#gH)"/>
<circle cx="771.1" cy="514.2" r="5.1" fill="url(#gH)"/>
<circle cx="762.3" cy="507.4" r="5.1" fill="url(#gH)"/>
<circle cx="689.5" cy="568.3" r="5.1" fill="url(#gH)"/>
<circle cx="732.8" cy="563.4" r="5.1" fill="url(#gH)"/>
<circle cx="778.0" cy="577.2" r="5.1" fill="url(#gH)"/>
<circle cx="857.7" cy="556.5" r="5.1" fill="url(#gH)"/>
<circle cx="900.0" cy="551.6" r="5.1" fill="url(#gH)"/>
<circle cx="947.2" cy="564.4" r="5.1" fill="url(#gH)"/>
<circle cx="901.9" cy="573.2" r="5.1" fill="url(#gH)"/>
<circle cx="717.0" cy="647.0" r="5.1" fill="url(#gH)"/>
<circle cx="764.2" cy="650.9" r="5.1" fill="url(#gH)"/>
<circle cx="755.4" cy="638.2" r="5.1" fill="url(#gH)"/>
<circle cx="737.7" cy="663.7" r="5.1" fill="url(#gH)"/>
<circle cx="886.2" cy="633.2" r="5.1" fill="url(#gH)"/>
<circle cx="923.6" cy="626.4" r="5.1" fill="url(#gH)"/>
<circle cx="932.4" cy="639.1" r="5.1" fill="url(#gH)"/>
<circle cx="777.0" cy="353.0" r="5.1" fill="url(#gH)"/>
<circle cx="315.6" cy="254.4" r="9.0" fill="url(#gC)"/>
<circle cx="334.2" cy="293.7" r="9.0" fill="url(#gC)"/>
<circle cx="301.8" cy="307.5" r="9.0" fill="url(#gC)"/>
<circle cx="360.8" cy="305.5" r="9.0" fill="url(#gC)"/>
<circle cx="379.5" cy="228.8" r="9.0" fill="url(#gC)"/>
<circle cx="405.1" cy="256.4" r="9.0" fill="url(#gC)"/>
<circle cx="382.4" cy="295.7" r="9.0" fill="url(#gC)"/>
<circle cx="411.0" cy="302.6" r="9.0" fill="url(#gC)"/>
<circle cx="483.7" cy="242.6" r="9.0" fill="url(#gC)"/>
<circle cx="503.4" cy="281.9" r="9.0" fill="url(#gC)"/>
<circle cx="471.0" cy="295.7" r="9.0" fill="url(#gC)"/>
<circle cx="547.7" cy="218.0" r="9.0" fill="url(#gC)"/>
<circle cx="572.3" cy="248.5" r="9.0" fill="url(#gC)"/>
<circle cx="550.6" cy="283.9" r="9.0" fill="url(#gC)"/>
<circle cx="578.2" cy="290.8" r="9.0" fill="url(#gC)"/>
<circle cx="515.2" cy="118.7" r="9.0" fill="url(#gC)"/>
<circle cx="561.4" cy="175.7" r="9.0" fill="url(#gC)"/>
<circle cx="578.2" cy="139.3" r="9.0" fill="url(#gC)"/>
<circle cx="599.8" cy="124.6" r="9.0" fill="url(#gC)"/>
<circle cx="529.0" cy="292.8" r="9.0" fill="url(#gC)"/>
<circle cx="682.6" cy="107.9" r="9.0" fill="url(#gC)"/>
<circle cx="614.8" cy="137.4" r="9.0" fill="url(#gC)"/>
<circle cx="652.1" cy="163.9" r="9.0" fill="url(#gC)"/>
<circle cx="623.6" cy="186.5" r="9.0" fill="url(#gC)"/>
<circle cx="730.8" cy="163.9" r="9.0" fill="url(#gC)"/>
<circle cx="763.3" cy="105.9" r="9.0" fill="url(#gC)"/>
<circle cx="783.9" cy="124.6" r="9.0" fill="url(#gC)"/>
<circle cx="820.3" cy="152.1" r="9.0" fill="url(#gC)"/>
<circle cx="791.8" cy="175.7" r="9.0" fill="url(#gC)"/>
<circle cx="794.7" cy="221.9" r="9.0" fill="url(#gC)"/>
<circle cx="625.6" cy="233.7" r="9.0" fill="url(#gC)"/>
<circle cx="789.8" cy="121.6" r="9.0" fill="url(#gC)"/>
<circle cx="555.5" cy="446.4" r="9.0" fill="url(#gC)"/>
<circle cx="598.8" cy="457.2" r="9.0" fill="url(#gC)"/>
<circle cx="503.4" cy="472.9" r="9.0" fill="url(#gC)"/>
<circle cx="533.9" cy="501.5" r="9.0" fill="url(#gC)"/>
<circle cx="413.9" cy="571.3" r="9.0" fill="url(#gC)"/>
<circle cx="394.2" cy="609.6" r="9.0" fill="url(#gC)"/>
<circle cx="427.7" cy="631.3" r="9.0" fill="url(#gC)"/>
<circle cx="369.7" cy="615.5" r="9.0" fill="url(#gC)"/>
<circle cx="319.5" cy="612.6" r="9.0" fill="url(#gC)"/>
<circle cx="609.6" cy="497.5" r="9.0" fill="url(#gC)"/>
<circle cx="600.0" cy="456.2" r="9.0" fill="url(#gC)"/>
<circle cx="662.9" cy="441.5" r="9.0" fill="url(#gC)"/>
<circle cx="670.8" cy="462.1" r="9.0" fill="url(#gC)"/>
<circle cx="694.4" cy="482.8" r="9.0" fill="url(#gC)"/>
<circle cx="616.7" cy="496.5" r="9.0" fill="url(#gC)"/>
<circle cx="723.9" cy="510.3" r="9.0" fill="url(#gC)"/>
<circle cx="725.9" cy="434.6" r="9.0" fill="url(#gC)"/>
<circle cx="751.5" cy="441.5" r="9.0" fill="url(#gC)"/>
<circle cx="767.2" cy="446.4" r="9.0" fill="url(#gC)"/>
<circle cx="784.9" cy="485.7" r="9.0" fill="url(#gC)"/>
<circle cx="832.1" cy="430.6" r="9.0" fill="url(#gC)"/>
<circle cx="918.6" cy="430.6" r="9.0" fill="url(#gC)"/>
<circle cx="862.6" cy="471.0" r="9.0" fill="url(#gC)"/>
<circle cx="892.1" cy="499.5" r="9.0" fill="url(#gC)"/>
<circle cx="890.1" cy="547.7" r="9.0" fill="url(#gC)"/>
<circle cx="914.7" cy="575.2" r="9.0" fill="url(#gC)"/>
<circle cx="721.0" cy="559.5" r="9.0" fill="url(#gC)"/>
<circle cx="747.5" cy="587.0" r="9.0" fill="url(#gC)"/>
<circle cx="702.3" cy="491.6" r="9.0" fill="url(#gC)"/>
<circle cx="296.9" cy="264.2" r="9.0" fill="url(#gN)"/>
<circle cx="326.4" cy="325.2" r="9.0" fill="url(#gN)"/>
<circle cx="365.7" cy="254.4" r="9.0" fill="url(#gN)"/>
<circle cx="464.1" cy="252.4" r="9.0" fill="url(#gN)"/>
<circle cx="494.6" cy="313.4" r="9.0" fill="url(#gN)"/>
<circle cx="533.9" cy="242.6" r="9.0" fill="url(#gN)"/>
<circle cx="436.5" cy="316.4" r="9.0" fill="url(#gN)"/>
<circle cx="523.1" cy="162.9" r="9.0" fill="url(#gN)"/>
<circle cx="548.6" cy="105.9" r="9.0" fill="url(#gN)"/>
<circle cx="588.0" cy="158.0" r="9.0" fill="url(#gN)"/>
<circle cx="401.1" cy="295.7" r="9.0" fill="url(#gN)"/>
<circle cx="564.4" cy="285.9" r="9.0" fill="url(#gN)"/>
<circle cx="594.9" cy="313.4" r="9.0" fill="url(#gN)"/>
<circle cx="717.0" cy="93.1" r="9.0" fill="url(#gN)"/>
<circle cx="634.4" cy="121.6" r="9.0" fill="url(#gN)"/>
<circle cx="659.0" cy="129.5" r="9.0" fill="url(#gN)"/>
<circle cx="691.5" cy="151.1" r="9.0" fill="url(#gN)"/>
<circle cx="758.3" cy="147.2" r="9.0" fill="url(#gN)"/>
<circle cx="802.6" cy="109.8" r="9.0" fill="url(#gN)"/>
<circle cx="829.2" cy="117.7" r="9.0" fill="url(#gN)"/>
<circle cx="519.1" cy="433.6" r="9.0" fill="url(#gN)"/>
<circle cx="434.6" cy="585.1" r="9.0" fill="url(#gN)"/>
<circle cx="462.1" cy="609.6" r="9.0" fill="url(#gN)"/>
<circle cx="404.1" cy="649.0" r="9.0" fill="url(#gN)"/>
<circle cx="293.9" cy="620.5" r="9.0" fill="url(#gN)"/>
<circle cx="629.5" cy="423.8" r="9.0" fill="url(#gN)"/>
<circle cx="713.1" cy="441.5" r="9.0" fill="url(#gN)"/>
<circle cx="687.5" cy="414.9" r="9.0" fill="url(#gN)"/>
<circle cx="656.1" cy="485.7" r="9.0" fill="url(#gN)"/>
<circle cx="757.4" cy="482.8" r="9.0" fill="url(#gN)"/>
<circle cx="796.7" cy="412.0" r="9.0" fill="url(#gN)"/>
<circle cx="824.2" cy="472.9" r="9.0" fill="url(#gN)"/>
<circle cx="881.3" cy="429.7" r="9.0" fill="url(#gN)"/>
<circle cx="925.5" cy="472.0" r="9.0" fill="url(#gN)"/>
<circle cx="746.5" cy="634.2" r="9.0" fill="url(#gN)"/>
<circle cx="913.7" cy="618.5" r="9.0" fill="url(#gN)"/>
<circle cx="359.8" cy="98.0" r="8.9" fill="url(#gO)"/>
<circle cx="529.0" cy="86.2" r="8.9" fill="url(#gO)"/>
<circle cx="517.2" cy="197.4" r="8.9" fill="url(#gO)"/>
<circle cx="768.2" cy="237.7" r="8.9" fill="url(#gO)"/>
<circle cx="937.3" cy="224.9" r="8.9" fill="url(#gO)"/>
<circle cx="684.6" cy="185.6" r="8.9" fill="url(#gO)"/>
<circle cx="609.8" cy="339.0" r="8.9" fill="url(#gO)"/>
<circle cx="780.0" cy="337.0" r="8.9" fill="url(#gO)"/>
<circle cx="368.7" cy="409.0" r="8.9" fill="url(#gO)"/>
<circle cx="536.8" cy="397.2" r="8.9" fill="url(#gO)"/>
<circle cx="380.5" cy="507.4" r="8.9" fill="url(#gO)"/>
<circle cx="577.2" cy="543.7" r="8.9" fill="url(#gO)"/>
<circle cx="564.4" cy="652.9" r="8.9" fill="url(#gO)"/>
<circle cx="745.6" cy="531.9" r="8.9" fill="url(#gO)"/>
<circle cx="733.8" cy="647.0" r="8.9" fill="url(#gO)"/>
<circle cx="446.4" cy="75.4" r="12.2" fill="url(#gCl)"/>
<circle cx="393.3" cy="110.8" r="12.2" fill="url(#gCl)"/>
<circle cx="475.9" cy="102.9" r="12.2" fill="url(#gCl)"/>
<circle cx="333.3" cy="195.4" r="12.2" fill="url(#gCl)"/>
<circle cx="454.2" cy="216.0" r="12.2" fill="url(#gCl)"/>
<circle cx="562.4" cy="97.0" r="12.2" fill="url(#gCl)"/>
<circle cx="570.3" cy="256.4" r="12.2" fill="url(#gCl)"/>
<circle cx="614.8" cy="62.6" r="12.2" fill="url(#gCl)"/>
<circle cx="644.3" cy="89.2" r="12.2" fill="url(#gCl)"/>
<circle cx="729.8" cy="86.2" r="12.2" fill="url(#gCl)"/>
<circle cx="685.6" cy="230.8" r="12.2" fill="url(#gCl)"/>
<circle cx="853.7" cy="220.0" r="12.2" fill="url(#gCl)"/>
<circle cx="631.5" cy="341.9" r="12.2" fill="url(#gCl)"/>
<circle cx="717.0" cy="335.0" r="12.2" fill="url(#gCl)"/>
<circle cx="800.6" cy="330.1" r="12.2" fill="url(#gCl)"/>
<circle cx="885.2" cy="323.2" r="12.2" fill="url(#gCl)"/>
<circle cx="967.8" cy="319.3" r="12.2" fill="url(#gCl)"/>
<circle cx="676.7" cy="349.8" r="12.2" fill="url(#gCl)"/>
<circle cx="844.9" cy="338.0" r="12.2" fill="url(#gCl)"/>
<circle cx="621.6" cy="205.2" r="12.2" fill="url(#gCl)"/>
<circle cx="253.6" cy="412.0" r="12.2" fill="url(#gCl)"/>
<circle cx="452.3" cy="386.4" r="12.2" fill="url(#gCl)"/>
<circle cx="318.5" cy="497.5" r="12.2" fill="url(#gCl)"/>
<circle cx="276.2" cy="518.2" r="12.2" fill="url(#gCl)"/>
<circle cx="396.2" cy="500.5" r="12.2" fill="url(#gCl)"/>
<circle cx="444.4" cy="506.4" r="12.2" fill="url(#gCl)"/>
<circle cx="486.7" cy="485.7" r="12.2" fill="url(#gCl)"/>
<circle cx="564.4" cy="487.7" r="12.2" fill="url(#gCl)"/>
<circle cx="492.6" cy="532.9" r="12.2" fill="url(#gCl)"/>
<circle cx="517.2" cy="560.5" r="12.2" fill="url(#gCl)"/>
<circle cx="603.7" cy="564.4" r="12.2" fill="url(#gCl)"/>
<circle cx="461.1" cy="650.0" r="12.2" fill="url(#gCl)"/>
<circle cx="620.7" cy="377.5" r="12.2" fill="url(#gCl)"/>
<circle cx="676.7" cy="352.0" r="12.2" fill="url(#gCl)"/>
<circle cx="661.0" cy="522.1" r="12.2" fill="url(#gCl)"/>
<circle cx="686.5" cy="548.7" r="12.2" fill="url(#gCl)"/>
<circle cx="608.9" cy="564.4" r="12.2" fill="url(#gCl)"/>
<circle cx="776.0" cy="552.6" r="12.2" fill="url(#gCl)"/>
<circle cx="854.7" cy="537.8" r="12.2" fill="url(#gCl)"/>
<circle cx="838.0" cy="651.9" r="12.2" fill="url(#gCl)"/>
<circle cx="670.8" cy="662.7" r="12.2" fill="url(#gCl)"/>
<circle cx="747.5" cy="129.5" r="15.0" fill="url(#gBr)"/>
<circle cx="915.7" cy="118.7" r="15.0" fill="url(#gBr)"/>
<circle cx="524.1" cy="304.6" r="15.0" fill="url(#gBr)"/>
<circle cx="521.1" cy="325.2" r="15.0" fill="url(#gBr)"/>
<circle cx="599.8" cy="411.0" r="15.0" fill="url(#gBr)"/>
<circle cx="597.8" cy="433.6" r="15.0" fill="url(#gBr)"/>
<circle cx="373.6" cy="608.7" r="15.0" fill="url(#gBr)"/>
<circle cx="767.2" cy="418.8" r="15.0" fill="url(#gBr)"/>
<circle cx="657.0" cy="647.0" r="15.0" fill="url(#gBr)"/>
<circle cx="825.2" cy="636.2" r="15.0" fill="url(#gBr)"/>
<circle cx="298.0" cy="101.6" r="15.0" fill="url(#gBr)"/>
<circle cx="432.6" cy="423.8" r="15.0" fill="url(#gBr)"/>
<circle cx="297.2" cy="100.1" r="36.4" fill="none" stroke="#e3242b" stroke-width="3.8" stroke-dasharray="11.5,6.8"/>
<circle cx="430.6" cy="421.8" r="35.4" fill="none" stroke="#e3242b" stroke-width="3.8" stroke-dasharray="11.5,6.8"/>
<polygon points="1261.0,174.0 1270.0,79.0 1374.0,53.0 1543.0,41.0 1658.0,64.0 1653.0,98.0 1618.0,148.0 1544.0,163.0 1382.0,194.0" fill="#c99494" fill-opacity="0.88" stroke="#c6d2d6" stroke-width="1.3" stroke-linejoin="round"/>
<polygon points="1270.0,79.0 1261.0,174.0 1322.0,140.0" fill="#8f6464" fill-opacity="0.35" stroke="#c9d7da" stroke-width="1.1"/>
<polygon points="1658.0,64.0 1653.0,98.0 1601.0,106.0" fill="#9a6c6c" fill-opacity="0.3" stroke="#c9d7da" stroke-width="1.1"/>
<polygon points="1270.0,79.0 1321.0,89.0 1334.0,132.0" fill="#e2b6b6" fill-opacity="0.45" stroke="#c9d7da" stroke-width="1.1"/>
<polygon points="1261.0,174.0 1382.0,194.0 1334.0,132.0" fill="#b07a7a" fill-opacity="0.35" stroke="#c9d7da" stroke-width="1.1"/>
<polygon points="1270.0,79.0 1261.0,174.0 1334.0,132.0" fill="#d8a6a6" fill-opacity="0.4" stroke="#c9d7da" stroke-width="1.1"/>
<polygon points="1321.0,89.0 1382.0,194.0 1334.0,132.0" fill="#b98181" fill-opacity="0.4" stroke="#c9d7da" stroke-width="1.1"/>
<polygon points="1374.0,53.0 1404.0,81.0 1413.0,117.0" fill="#e2b6b6" fill-opacity="0.45" stroke="#c9d7da" stroke-width="1.1"/>
<polygon points="1382.0,194.0 1464.0,178.0 1413.0,117.0" fill="#b07a7a" fill-opacity="0.35" stroke="#c9d7da" stroke-width="1.1"/>
<polygon points="1374.0,53.0 1382.0,194.0 1413.0,117.0" fill="#b98181" fill-opacity="0.4" stroke="#c9d7da" stroke-width="1.1"/>
<polygon points="1404.0,81.0 1464.0,178.0 1413.0,117.0" fill="#d8a6a6" fill-opacity="0.4" stroke="#c9d7da" stroke-width="1.1"/>
<polygon points="1490.0,75.0 1543.0,41.0 1496.0,120.0" fill="#e2b6b6" fill-opacity="0.45" stroke="#c9d7da" stroke-width="1.1"/>
<polygon points="1464.0,178.0 1544.0,163.0 1496.0,120.0" fill="#b07a7a" fill-opacity="0.35" stroke="#c9d7da" stroke-width="1.1"/>
<polygon points="1490.0,75.0 1464.0,178.0 1496.0,120.0" fill="#d8a6a6" fill-opacity="0.4" stroke="#c9d7da" stroke-width="1.1"/>
<polygon points="1543.0,41.0 1544.0,163.0 1496.0,120.0" fill="#b98181" fill-opacity="0.4" stroke="#c9d7da" stroke-width="1.1"/>
<polygon points="1543.0,41.0 1572.0,67.0 1587.0,110.0" fill="#e2b6b6" fill-opacity="0.45" stroke="#c9d7da" stroke-width="1.1"/>
<polygon points="1618.0,148.0 1653.0,98.0 1587.0,110.0" fill="#b07a7a" fill-opacity="0.35" stroke="#c9d7da" stroke-width="1.1"/>
<polygon points="1543.0,41.0 1618.0,148.0 1587.0,110.0" fill="#b98181" fill-opacity="0.4" stroke="#c9d7da" stroke-width="1.1"/>
<polygon points="1572.0,67.0 1653.0,98.0 1587.0,110.0" fill="#d8a6a6" fill-opacity="0.4" stroke="#c9d7da" stroke-width="1.1"/>
<line x1="1334.0" y1="132.0" x2="1327.5" y2="110.5" stroke="#c45a9c" stroke-width="5" opacity="0.8"/>
<line x1="1327.5" y1="110.5" x2="1321.0" y2="89.0" stroke="#d9706c" stroke-width="5" opacity="0.8"/>
<line x1="1334.0" y1="132.0" x2="1358.0" y2="163.0" stroke="#c45a9c" stroke-width="5" opacity="0.8"/>
<line x1="1358.0" y1="163.0" x2="1382.0" y2="194.0" stroke="#d9706c" stroke-width="5" opacity="0.8"/>
<line x1="1334.0" y1="132.0" x2="1302.0" y2="105.5" stroke="#c45a9c" stroke-width="5" opacity="0.8"/>
<line x1="1302.0" y1="105.5" x2="1270.0" y2="79.0" stroke="#d9706c" stroke-width="5" opacity="0.8"/>
<line x1="1334.0" y1="132.0" x2="1297.5" y2="153.0" stroke="#c45a9c" stroke-width="5" opacity="0.8"/>
<line x1="1297.5" y1="153.0" x2="1261.0" y2="174.0" stroke="#d9706c" stroke-width="5" opacity="0.8"/>
<circle cx="1334.0" cy="132.0" r="17.7" fill="url(#gMn)" opacity="0.9"/>
<line x1="1413.0" y1="117.0" x2="1408.5" y2="99.0" stroke="#c45a9c" stroke-width="5" opacity="0.8"/>
<line x1="1408.5" y1="99.0" x2="1404.0" y2="81.0" stroke="#d9706c" stroke-width="5" opacity="0.8"/>
<line x1="1413.0" y1="117.0" x2="1393.5" y2="85.0" stroke="#c45a9c" stroke-width="5" opacity="0.8"/>
<line x1="1393.5" y1="85.0" x2="1374.0" y2="53.0" stroke="#d9706c" stroke-width="5" opacity="0.8"/>
<line x1="1413.0" y1="117.0" x2="1438.5" y2="147.5" stroke="#c45a9c" stroke-width="5" opacity="0.8"/>
<line x1="1438.5" y1="147.5" x2="1464.0" y2="178.0" stroke="#d9706c" stroke-width="5" opacity="0.8"/>
<line x1="1413.0" y1="117.0" x2="1397.5" y2="155.5" stroke="#c45a9c" stroke-width="5" opacity="0.8"/>
<line x1="1397.5" y1="155.5" x2="1382.0" y2="194.0" stroke="#d9706c" stroke-width="5" opacity="0.8"/>
<circle cx="1413.0" cy="117.0" r="17.7" fill="url(#gMn)" opacity="0.9"/>
<line x1="1496.0" y1="120.0" x2="1493.0" y2="97.5" stroke="#c45a9c" stroke-width="5" opacity="0.8"/>
<line x1="1493.0" y1="97.5" x2="1490.0" y2="75.0" stroke="#d9706c" stroke-width="5" opacity="0.8"/>
<line x1="1496.0" y1="120.0" x2="1520.0" y2="141.5" stroke="#c45a9c" stroke-width="5" opacity="0.8"/>
<line x1="1520.0" y1="141.5" x2="1544.0" y2="163.0" stroke="#d9706c" stroke-width="5" opacity="0.8"/>
<line x1="1496.0" y1="120.0" x2="1480.0" y2="149.0" stroke="#c45a9c" stroke-width="5" opacity="0.8"/>
<line x1="1480.0" y1="149.0" x2="1464.0" y2="178.0" stroke="#d9706c" stroke-width="5" opacity="0.8"/>
<line x1="1496.0" y1="120.0" x2="1519.5" y2="80.5" stroke="#c45a9c" stroke-width="5" opacity="0.8"/>
<line x1="1519.5" y1="80.5" x2="1543.0" y2="41.0" stroke="#d9706c" stroke-width="5" opacity="0.8"/>
<circle cx="1496.0" cy="120.0" r="17.7" fill="url(#gMn)" opacity="0.9"/>
<line x1="1587.0" y1="110.0" x2="1579.5" y2="88.5" stroke="#c45a9c" stroke-width="5" opacity="0.8"/>
<line x1="1579.5" y1="88.5" x2="1572.0" y2="67.0" stroke="#d9706c" stroke-width="5" opacity="0.8"/>
<line x1="1587.0" y1="110.0" x2="1602.5" y2="129.0" stroke="#c45a9c" stroke-width="5" opacity="0.8"/>
<line x1="1602.5" y1="129.0" x2="1618.0" y2="148.0" stroke="#d9706c" stroke-width="5" opacity="0.8"/>
<line x1="1587.0" y1="110.0" x2="1620.0" y2="104.0" stroke="#c45a9c" stroke-width="5" opacity="0.8"/>
<line x1="1620.0" y1="104.0" x2="1653.0" y2="98.0" stroke="#d9706c" stroke-width="5" opacity="0.8"/>
<line x1="1587.0" y1="110.0" x2="1565.5" y2="136.5" stroke="#c45a9c" stroke-width="5" opacity="0.8"/>
<line x1="1565.5" y1="136.5" x2="1544.0" y2="163.0" stroke="#d9706c" stroke-width="5" opacity="0.8"/>
<circle cx="1587.0" cy="110.0" r="17.7" fill="url(#gMn)" opacity="0.9"/>
<polygon points="1498.0,234.0 1614.0,209.0 1782.0,198.0 1865.0,203.0 1896.0,297.0 1773.0,316.0 1605.0,328.0 1560.0,320.0 1528.0,296.0" fill="#c99494" fill-opacity="0.88" stroke="#c6d2d6" stroke-width="1.3" stroke-linejoin="round"/>
<polygon points="1498.0,234.0 1528.0,296.0 1563.0,276.0" fill="#8f6464" fill-opacity="0.35" stroke="#c9d7da" stroke-width="1.1"/>
<polygon points="1865.0,203.0 1896.0,297.0 1835.0,253.0" fill="#9a6c6c" fill-opacity="0.3" stroke="#c9d7da" stroke-width="1.1"/>
<polygon points="1589.0,217.0 1614.0,209.0 1575.0,268.0" fill="#e2b6b6" fill-opacity="0.45" stroke="#c9d7da" stroke-width="1.1"/>
<polygon points="1528.0,296.0 1560.0,320.0 1575.0,268.0" fill="#b07a7a" fill-opacity="0.35" stroke="#c9d7da" stroke-width="1.1"/>
<polygon points="1589.0,217.0 1528.0,296.0 1575.0,268.0" fill="#d8a6a6" fill-opacity="0.4" stroke="#c9d7da" stroke-width="1.1"/>
<polygon points="1614.0,209.0 1560.0,320.0 1575.0,268.0" fill="#b98181" fill-opacity="0.4" stroke="#c9d7da" stroke-width="1.1"/>
<polygon points="1614.0,209.0 1667.0,221.0 1653.0,269.0" fill="#e2b6b6" fill-opacity="0.45" stroke="#c9d7da" stroke-width="1.1"/>
<polygon points="1605.0,328.0 1645.0,313.0 1653.0,269.0" fill="#b07a7a" fill-opacity="0.35" stroke="#c9d7da" stroke-width="1.1"/>
<polygon points="1614.0,209.0 1605.0,328.0 1653.0,269.0" fill="#b98181" fill-opacity="0.4" stroke="#c9d7da" stroke-width="1.1"/>
<polygon points="1667.0,221.0 1645.0,313.0 1653.0,269.0" fill="#d8a6a6" fill-opacity="0.4" stroke="#c9d7da" stroke-width="1.1"/>
<polygon points="1696.0,209.0 1756.0,206.0 1742.0,256.0" fill="#e2b6b6" fill-opacity="0.45" stroke="#c9d7da" stroke-width="1.1"/>
<polygon points="1729.0,308.0 1773.0,316.0 1742.0,256.0" fill="#b07a7a" fill-opacity="0.35" stroke="#c9d7da" stroke-width="1.1"/>
<polygon points="1696.0,209.0 1729.0,308.0 1742.0,256.0" fill="#d8a6a6" fill-opacity="0.4" stroke="#c9d7da" stroke-width="1.1"/>
<polygon points="1756.0,206.0 1773.0,316.0 1742.0,256.0" fill="#b98181" fill-opacity="0.4" stroke="#c9d7da" stroke-width="1.1"/>
<polygon points="1834.0,210.0 1865.0,203.0 1821.0,257.0" fill="#e2b6b6" fill-opacity="0.45" stroke="#c9d7da" stroke-width="1.1"/>
<polygon points="1773.0,316.0 1813.0,301.0 1821.0,257.0" fill="#b07a7a" fill-opacity="0.35" stroke="#c9d7da" stroke-width="1.1"/>
<polygon points="1834.0,210.0 1773.0,316.0 1821.0,257.0" fill="#b98181" fill-opacity="0.4" stroke="#c9d7da" stroke-width="1.1"/>
<polygon points="1865.0,203.0 1813.0,301.0 1821.0,257.0" fill="#d8a6a6" fill-opacity="0.4" stroke="#c9d7da" stroke-width="1.1"/>
<line x1="1575.0" y1="268.0" x2="1582.0" y2="242.5" stroke="#c45a9c" stroke-width="5" opacity="0.8"/>
<line x1="1582.0" y1="242.5" x2="1589.0" y2="217.0" stroke="#d9706c" stroke-width="5" opacity="0.8"/>
<line x1="1575.0" y1="268.0" x2="1567.5" y2="294.0" stroke="#c45a9c" stroke-width="5" opacity="0.8"/>
<line x1="1567.5" y1="294.0" x2="1560.0" y2="320.0" stroke="#d9706c" stroke-width="5" opacity="0.8"/>
<line x1="1575.0" y1="268.0" x2="1551.5" y2="282.0" stroke="#c45a9c" stroke-width="5" opacity="0.8"/>
<line x1="1551.5" y1="282.0" x2="1528.0" y2="296.0" stroke="#d9706c" stroke-width="5" opacity="0.8"/>
<line x1="1575.0" y1="268.0" x2="1590.0" y2="298.0" stroke="#c45a9c" stroke-width="5" opacity="0.8"/>
<line x1="1590.0" y1="298.0" x2="1605.0" y2="328.0" stroke="#d9706c" stroke-width="5" opacity="0.8"/>
<circle cx="1575.0" cy="268.0" r="17.7" fill="url(#gMn)" opacity="0.9"/>
<line x1="1653.0" y1="269.0" x2="1649.0" y2="291.0" stroke="#c45a9c" stroke-width="5" opacity="0.8"/>
<line x1="1649.0" y1="291.0" x2="1645.0" y2="313.0" stroke="#d9706c" stroke-width="5" opacity="0.8"/>
<line x1="1653.0" y1="269.0" x2="1660.0" y2="245.0" stroke="#c45a9c" stroke-width="5" opacity="0.8"/>
<line x1="1660.0" y1="245.0" x2="1667.0" y2="221.0" stroke="#d9706c" stroke-width="5" opacity="0.8"/>
<line x1="1653.0" y1="269.0" x2="1633.5" y2="239.0" stroke="#c45a9c" stroke-width="5" opacity="0.8"/>
<line x1="1633.5" y1="239.0" x2="1614.0" y2="209.0" stroke="#d9706c" stroke-width="5" opacity="0.8"/>
<line x1="1653.0" y1="269.0" x2="1674.5" y2="239.0" stroke="#c45a9c" stroke-width="5" opacity="0.8"/>
<line x1="1674.5" y1="239.0" x2="1696.0" y2="209.0" stroke="#d9706c" stroke-width="5" opacity="0.8"/>
<circle cx="1653.0" cy="269.0" r="17.7" fill="url(#gMn)" opacity="0.9"/>
<line x1="1742.0" y1="256.0" x2="1749.0" y2="231.0" stroke="#c45a9c" stroke-width="5" opacity="0.8"/>
<line x1="1749.0" y1="231.0" x2="1756.0" y2="206.0" stroke="#d9706c" stroke-width="5" opacity="0.8"/>
<line x1="1742.0" y1="256.0" x2="1735.5" y2="282.0" stroke="#c45a9c" stroke-width="5" opacity="0.8"/>
<line x1="1735.5" y1="282.0" x2="1729.0" y2="308.0" stroke="#d9706c" stroke-width="5" opacity="0.8"/>
<line x1="1742.0" y1="256.0" x2="1719.0" y2="232.5" stroke="#c45a9c" stroke-width="5" opacity="0.8"/>
<line x1="1719.0" y1="232.5" x2="1696.0" y2="209.0" stroke="#d9706c" stroke-width="5" opacity="0.8"/>
<line x1="1742.0" y1="256.0" x2="1757.5" y2="286.0" stroke="#c45a9c" stroke-width="5" opacity="0.8"/>
<line x1="1757.5" y1="286.0" x2="1773.0" y2="316.0" stroke="#d9706c" stroke-width="5" opacity="0.8"/>
<circle cx="1742.0" cy="256.0" r="17.7" fill="url(#gMn)" opacity="0.9"/>
<line x1="1821.0" y1="257.0" x2="1817.0" y2="279.0" stroke="#c45a9c" stroke-width="5" opacity="0.8"/>
<line x1="1817.0" y1="279.0" x2="1813.0" y2="301.0" stroke="#d9706c" stroke-width="5" opacity="0.8"/>
<line x1="1821.0" y1="257.0" x2="1827.5" y2="233.5" stroke="#c45a9c" stroke-width="5" opacity="0.8"/>
<line x1="1827.5" y1="233.5" x2="1834.0" y2="210.0" stroke="#d9706c" stroke-width="5" opacity="0.8"/>
<line x1="1821.0" y1="257.0" x2="1843.0" y2="230.0" stroke="#c45a9c" stroke-width="5" opacity="0.8"/>
<line x1="1843.0" y1="230.0" x2="1865.0" y2="203.0" stroke="#d9706c" stroke-width="5" opacity="0.8"/>
<line x1="1821.0" y1="257.0" x2="1801.5" y2="227.5" stroke="#c45a9c" stroke-width="5" opacity="0.8"/>
<line x1="1801.5" y1="227.5" x2="1782.0" y2="198.0" stroke="#d9706c" stroke-width="5" opacity="0.8"/>
<circle cx="1821.0" cy="257.0" r="17.7" fill="url(#gMn)" opacity="0.9"/>
<polygon points="1182.0,390.0 1380.0,364.0 1568.0,356.0 1576.0,450.0 1492.0,466.0 1372.0,484.0 1204.0,496.0" fill="#c99494" fill-opacity="0.88" stroke="#c6d2d6" stroke-width="1.3" stroke-linejoin="round"/>
<polygon points="1182.0,390.0 1204.0,496.0 1240.0,446.0" fill="#8f6464" fill-opacity="0.35" stroke="#c9d7da" stroke-width="1.1"/>
<polygon points="1568.0,356.0 1576.0,450.0 1516.0,403.0" fill="#9a6c6c" fill-opacity="0.3" stroke="#c9d7da" stroke-width="1.1"/>
<polygon points="1264.0,384.0 1297.0,387.0 1252.0,438.0" fill="#e2b6b6" fill-opacity="0.45" stroke="#c9d7da" stroke-width="1.1"/>
<polygon points="1204.0,496.0 1246.0,475.0 1252.0,438.0" fill="#b07a7a" fill-opacity="0.35" stroke="#c9d7da" stroke-width="1.1"/>
<polygon points="1264.0,384.0 1204.0,496.0 1252.0,438.0" fill="#d8a6a6" fill-opacity="0.4" stroke="#c9d7da" stroke-width="1.1"/>
<polygon points="1297.0,387.0 1246.0,475.0 1252.0,438.0" fill="#b98181" fill-opacity="0.4" stroke="#c9d7da" stroke-width="1.1"/>
<polygon points="1297.0,387.0 1380.0,364.0 1342.0,424.0" fill="#e2b6b6" fill-opacity="0.45" stroke="#c9d7da" stroke-width="1.1"/>
<polygon points="1324.0,478.0 1372.0,484.0 1342.0,424.0" fill="#b07a7a" fill-opacity="0.35" stroke="#c9d7da" stroke-width="1.1"/>
<polygon points="1297.0,387.0 1324.0,478.0 1342.0,424.0" fill="#b98181" fill-opacity="0.4" stroke="#c9d7da" stroke-width="1.1"/>
<polygon points="1380.0,364.0 1372.0,484.0 1342.0,424.0" fill="#d8a6a6" fill-opacity="0.4" stroke="#c9d7da" stroke-width="1.1"/>
<polygon points="1432.0,372.0 1465.0,375.0 1420.0,424.0" fill="#e2b6b6" fill-opacity="0.45" stroke="#c9d7da" stroke-width="1.1"/>
<polygon points="1372.0,484.0 1415.0,464.0 1420.0,424.0" fill="#b07a7a" fill-opacity="0.35" stroke="#c9d7da" stroke-width="1.1"/>
<polygon points="1432.0,372.0 1372.0,484.0 1420.0,424.0" fill="#d8a6a6" fill-opacity="0.4" stroke="#c9d7da" stroke-width="1.1"/>
<polygon points="1465.0,375.0 1415.0,464.0 1420.0,424.0" fill="#b98181" fill-opacity="0.4" stroke="#c9d7da" stroke-width="1.1"/>
<polygon points="1465.0,375.0 1518.0,365.0 1502.0,407.0" fill="#e2b6b6" fill-opacity="0.45" stroke="#c9d7da" stroke-width="1.1"/>
<polygon points="1492.0,466.0 1576.0,450.0 1502.0,407.0" fill="#b07a7a" fill-opacity="0.35" stroke="#c9d7da" stroke-width="1.1"/>
<polygon points="1465.0,375.0 1492.0,466.0 1502.0,407.0" fill="#b98181" fill-opacity="0.4" stroke="#c9d7da" stroke-width="1.1"/>
<polygon points="1518.0,365.0 1576.0,450.0 1502.0,407.0" fill="#d8a6a6" fill-opacity="0.4" stroke="#c9d7da" stroke-width="1.1"/>
<line x1="1252.0" y1="438.0" x2="1249.0" y2="456.5" stroke="#c45a9c" stroke-width="5" opacity="0.8"/>
<line x1="1249.0" y1="456.5" x2="1246.0" y2="475.0" stroke="#d9706c" stroke-width="5" opacity="0.8"/>
<line x1="1252.0" y1="438.0" x2="1258.0" y2="411.0" stroke="#c45a9c" stroke-width="5" opacity="0.8"/>
<line x1="1258.0" y1="411.0" x2="1264.0" y2="384.0" stroke="#d9706c" stroke-width="5" opacity="0.8"/>
<line x1="1252.0" y1="438.0" x2="1274.5" y2="412.5" stroke="#c45a9c" stroke-width="5" opacity="0.8"/>
<line x1="1274.5" y1="412.5" x2="1297.0" y2="387.0" stroke="#d9706c" stroke-width="5" opacity="0.8"/>
<line x1="1252.0" y1="438.0" x2="1228.0" y2="467.0" stroke="#c45a9c" stroke-width="5" opacity="0.8"/>
<line x1="1228.0" y1="467.0" x2="1204.0" y2="496.0" stroke="#d9706c" stroke-width="5" opacity="0.8"/>
<circle cx="1252.0" cy="438.0" r="17.7" fill="url(#gMn)" opacity="0.9"/>
<line x1="1342.0" y1="424.0" x2="1333.0" y2="451.0" stroke="#c45a9c" stroke-width="5" opacity="0.8"/>
<line x1="1333.0" y1="451.0" x2="1324.0" y2="478.0" stroke="#d9706c" stroke-width="5" opacity="0.8"/>
<line x1="1342.0" y1="424.0" x2="1319.5" y2="405.5" stroke="#c45a9c" stroke-width="5" opacity="0.8"/>
<line x1="1319.5" y1="405.5" x2="1297.0" y2="387.0" stroke="#d9706c" stroke-width="5" opacity="0.8"/>
<line x1="1342.0" y1="424.0" x2="1357.0" y2="454.0" stroke="#c45a9c" stroke-width="5" opacity="0.8"/>
<line x1="1357.0" y1="454.0" x2="1372.0" y2="484.0" stroke="#d9706c" stroke-width="5" opacity="0.8"/>
<line x1="1342.0" y1="424.0" x2="1361.0" y2="394.0" stroke="#c45a9c" stroke-width="5" opacity="0.8"/>
<line x1="1361.0" y1="394.0" x2="1380.0" y2="364.0" stroke="#d9706c" stroke-width="5" opacity="0.8"/>
<circle cx="1342.0" cy="424.0" r="17.7" fill="url(#gMn)" opacity="0.9"/>
<line x1="1420.0" y1="424.0" x2="1417.5" y2="444.0" stroke="#c45a9c" stroke-width="5" opacity="0.8"/>
<line x1="1417.5" y1="444.0" x2="1415.0" y2="464.0" stroke="#d9706c" stroke-width="5" opacity="0.8"/>
<line x1="1420.0" y1="424.0" x2="1426.0" y2="398.0" stroke="#c45a9c" stroke-width="5" opacity="0.8"/>
<line x1="1426.0" y1="398.0" x2="1432.0" y2="372.0" stroke="#d9706c" stroke-width="5" opacity="0.8"/>
<line x1="1420.0" y1="424.0" x2="1442.5" y2="399.5" stroke="#c45a9c" stroke-width="5" opacity="0.8"/>
<line x1="1442.5" y1="399.5" x2="1465.0" y2="375.0" stroke="#d9706c" stroke-width="5" opacity="0.8"/>
<line x1="1420.0" y1="424.0" x2="1400.0" y2="394.0" stroke="#c45a9c" stroke-width="5" opacity="0.8"/>
<line x1="1400.0" y1="394.0" x2="1380.0" y2="364.0" stroke="#d9706c" stroke-width="5" opacity="0.8"/>
<circle cx="1420.0" cy="424.0" r="17.7" fill="url(#gMn)" opacity="0.9"/>
<line x1="1502.0" y1="407.0" x2="1510.0" y2="386.0" stroke="#c45a9c" stroke-width="5" opacity="0.8"/>
<line x1="1510.0" y1="386.0" x2="1518.0" y2="365.0" stroke="#d9706c" stroke-width="5" opacity="0.8"/>
<line x1="1502.0" y1="407.0" x2="1483.5" y2="391.0" stroke="#c45a9c" stroke-width="5" opacity="0.8"/>
<line x1="1483.5" y1="391.0" x2="1465.0" y2="375.0" stroke="#d9706c" stroke-width="5" opacity="0.8"/>
<line x1="1502.0" y1="407.0" x2="1497.0" y2="436.5" stroke="#c45a9c" stroke-width="5" opacity="0.8"/>
<line x1="1497.0" y1="436.5" x2="1492.0" y2="466.0" stroke="#d9706c" stroke-width="5" opacity="0.8"/>
<line x1="1502.0" y1="407.0" x2="1467.0" y2="389.5" stroke="#c45a9c" stroke-width="5" opacity="0.8"/>
<line x1="1467.0" y1="389.5" x2="1432.0" y2="372.0" stroke="#d9706c" stroke-width="5" opacity="0.8"/>
<circle cx="1502.0" cy="407.0" r="17.7" fill="url(#gMn)" opacity="0.9"/>
<polygon points="1389.0,628.0 1413.0,525.0 1421.0,511.0 1589.0,500.0 1783.0,516.0 1780.0,623.0 1766.0,630.0 1599.0,641.0" fill="#c99494" fill-opacity="0.88" stroke="#c6d2d6" stroke-width="1.3" stroke-linejoin="round"/>
<polygon points="1413.0,525.0 1389.0,628.0 1447.0,584.0" fill="#8f6464" fill-opacity="0.35" stroke="#c9d7da" stroke-width="1.1"/>
<polygon points="1783.0,516.0 1780.0,623.0 1732.0,562.0" fill="#9a6c6c" fill-opacity="0.3" stroke="#c9d7da" stroke-width="1.1"/>
<polygon points="1413.0,525.0 1445.0,538.0 1459.0,576.0" fill="#e2b6b6" fill-opacity="0.45" stroke="#c9d7da" stroke-width="1.1"/>
<polygon points="1389.0,628.0 1492.0,631.0 1459.0,576.0" fill="#b07a7a" fill-opacity="0.35" stroke="#c9d7da" stroke-width="1.1"/>
<polygon points="1413.0,525.0 1389.0,628.0 1459.0,576.0" fill="#d8a6a6" fill-opacity="0.4" stroke="#c9d7da" stroke-width="1.1"/>
<polygon points="1445.0,538.0 1492.0,631.0 1459.0,576.0" fill="#b98181" fill-opacity="0.4" stroke="#c9d7da" stroke-width="1.1"/>
<polygon points="1505.0,522.0 1532.0,542.0 1550.0,578.0" fill="#e2b6b6" fill-opacity="0.45" stroke="#c9d7da" stroke-width="1.1"/>
<polygon points="1492.0,631.0 1599.0,641.0 1550.0,578.0" fill="#b07a7a" fill-opacity="0.35" stroke="#c9d7da" stroke-width="1.1"/>
<polygon points="1505.0,522.0 1492.0,631.0 1550.0,578.0" fill="#b98181" fill-opacity="0.4" stroke="#c9d7da" stroke-width="1.1"/>
<polygon points="1532.0,542.0 1599.0,641.0 1550.0,578.0" fill="#d8a6a6" fill-opacity="0.4" stroke="#c9d7da" stroke-width="1.1"/>
<polygon points="1614.0,527.0 1674.0,510.0 1627.0,566.0" fill="#e2b6b6" fill-opacity="0.45" stroke="#c9d7da" stroke-width="1.1"/>
<polygon points="1492.0,631.0 1599.0,641.0 1627.0,566.0" fill="#b07a7a" fill-opacity="0.35" stroke="#c9d7da" stroke-width="1.1"/>
<polygon points="1614.0,527.0 1492.0,631.0 1627.0,566.0" fill="#d8a6a6" fill-opacity="0.4" stroke="#c9d7da" stroke-width="1.1"/>
<polygon points="1674.0,510.0 1599.0,641.0 1627.0,566.0" fill="#b98181" fill-opacity="0.4" stroke="#c9d7da" stroke-width="1.1"/>
<polygon points="1674.0,510.0 1704.0,531.0 1718.0,566.0" fill="#e2b6b6" fill-opacity="0.45" stroke="#c9d7da" stroke-width="1.1"/>
<polygon points="1766.0,630.0 1780.0,623.0 1718.0,566.0" fill="#b07a7a" fill-opacity="0.35" stroke="#c9d7da" stroke-width="1.1"/>
<polygon points="1674.0,510.0 1766.0,630.0 1718.0,566.0" fill="#b98181" fill-opacity="0.4" stroke="#c9d7da" stroke-width="1.1"/>
<polygon points="1704.0,531.0 1780.0,623.0 1718.0,566.0" fill="#d8a6a6" fill-opacity="0.4" stroke="#c9d7da" stroke-width="1.1"/>
<line x1="1459.0" y1="576.0" x2="1452.0" y2="557.0" stroke="#c45a9c" stroke-width="5" opacity="0.8"/>
<line x1="1452.0" y1="557.0" x2="1445.0" y2="538.0" stroke="#d9706c" stroke-width="5" opacity="0.8"/>
<line x1="1459.0" y1="576.0" x2="1475.5" y2="603.5" stroke="#c45a9c" stroke-width="5" opacity="0.8"/>
<line x1="1475.5" y1="603.5" x2="1492.0" y2="631.0" stroke="#d9706c" stroke-width="5" opacity="0.8"/>
<line x1="1459.0" y1="576.0" x2="1436.0" y2="550.5" stroke="#c45a9c" stroke-width="5" opacity="0.8"/>
<line x1="1436.0" y1="550.5" x2="1413.0" y2="525.0" stroke="#d9706c" stroke-width="5" opacity="0.8"/>
<line x1="1459.0" y1="576.0" x2="1482.0" y2="549.0" stroke="#c45a9c" stroke-width="5" opacity="0.8"/>
<line x1="1482.0" y1="549.0" x2="1505.0" y2="522.0" stroke="#d9706c" stroke-width="5" opacity="0.8"/>
<circle cx="1459.0" cy="576.0" r="17.7" fill="url(#gMn)" opacity="0.9"/>
<line x1="1550.0" y1="578.0" x2="1541.0" y2="560.0" stroke="#c45a9c" stroke-width="5" opacity="0.8"/>
<line x1="1541.0" y1="560.0" x2="1532.0" y2="542.0" stroke="#d9706c" stroke-width="5" opacity="0.8"/>
<line x1="1550.0" y1="578.0" x2="1527.5" y2="550.0" stroke="#c45a9c" stroke-width="5" opacity="0.8"/>
<line x1="1527.5" y1="550.0" x2="1505.0" y2="522.0" stroke="#d9706c" stroke-width="5" opacity="0.8"/>
<line x1="1550.0" y1="578.0" x2="1521.0" y2="604.5" stroke="#c45a9c" stroke-width="5" opacity="0.8"/>
<line x1="1521.0" y1="604.5" x2="1492.0" y2="631.0" stroke="#d9706c" stroke-width="5" opacity="0.8"/>
<line x1="1550.0" y1="578.0" x2="1574.5" y2="609.5" stroke="#c45a9c" stroke-width="5" opacity="0.8"/>
<line x1="1574.5" y1="609.5" x2="1599.0" y2="641.0" stroke="#d9706c" stroke-width="5" opacity="0.8"/>
<circle cx="1550.0" cy="578.0" r="17.7" fill="url(#gMn)" opacity="0.9"/>
<line x1="1627.0" y1="566.0" x2="1620.5" y2="546.5" stroke="#c45a9c" stroke-width="5" opacity="0.8"/>
<line x1="1620.5" y1="546.5" x2="1614.0" y2="527.0" stroke="#d9706c" stroke-width="5" opacity="0.8"/>
<line x1="1627.0" y1="566.0" x2="1650.5" y2="538.0" stroke="#c45a9c" stroke-width="5" opacity="0.8"/>
<line x1="1650.5" y1="538.0" x2="1674.0" y2="510.0" stroke="#d9706c" stroke-width="5" opacity="0.8"/>
<line x1="1627.0" y1="566.0" x2="1608.0" y2="533.0" stroke="#c45a9c" stroke-width="5" opacity="0.8"/>
<line x1="1608.0" y1="533.0" x2="1589.0" y2="500.0" stroke="#d9706c" stroke-width="5" opacity="0.8"/>
<line x1="1627.0" y1="566.0" x2="1613.0" y2="603.5" stroke="#c45a9c" stroke-width="5" opacity="0.8"/>
<line x1="1613.0" y1="603.5" x2="1599.0" y2="641.0" stroke="#d9706c" stroke-width="5" opacity="0.8"/>
<circle cx="1627.0" cy="566.0" r="17.7" fill="url(#gMn)" opacity="0.9"/>
<line x1="1718.0" y1="566.0" x2="1711.0" y2="548.5" stroke="#c45a9c" stroke-width="5" opacity="0.8"/>
<line x1="1711.0" y1="548.5" x2="1704.0" y2="531.0" stroke="#d9706c" stroke-width="5" opacity="0.8"/>
<line x1="1718.0" y1="566.0" x2="1696.0" y2="538.0" stroke="#c45a9c" stroke-width="5" opacity="0.8"/>
<line x1="1696.0" y1="538.0" x2="1674.0" y2="510.0" stroke="#d9706c" stroke-width="5" opacity="0.8"/>
<line x1="1718.0" y1="566.0" x2="1742.0" y2="598.0" stroke="#c45a9c" stroke-width="5" opacity="0.8"/>
<line x1="1742.0" y1="598.0" x2="1766.0" y2="630.0" stroke="#d9706c" stroke-width="5" opacity="0.8"/>
<line x1="1718.0" y1="566.0" x2="1750.5" y2="541.0" stroke="#c45a9c" stroke-width="5" opacity="0.8"/>
<line x1="1750.5" y1="541.0" x2="1783.0" y2="516.0" stroke="#d9706c" stroke-width="5" opacity="0.8"/>
<circle cx="1718.0" cy="566.0" r="17.7" fill="url(#gMn)" opacity="0.9"/>
<circle cx="1589.0" cy="216.7" r="12.2" fill="#d98a8a" opacity="0.55"/>
<circle cx="1666.7" cy="220.6" r="12.2" fill="#d98a8a" opacity="0.55"/>
<circle cx="1756.2" cy="205.8" r="12.2" fill="#d98a8a" opacity="0.55"/>
<circle cx="1833.9" cy="209.8" r="12.2" fill="#d98a8a" opacity="0.55"/>
<circle cx="1264.2" cy="384.1" r="12.2" fill="#d98a8a" opacity="0.55"/>
<circle cx="1432.4" cy="372.3" r="12.2" fill="#d98a8a" opacity="0.55"/>
<circle cx="1518.0" cy="365.4" r="12.2" fill="#d98a8a" opacity="0.55"/>
<line x1="1224.9" y1="242.2" x2="1234.2" y2="237.3" stroke="#9aabcf" stroke-width="4.5"/>
<line x1="1234.2" y1="237.3" x2="1243.6" y2="232.4" stroke="#7a5232" stroke-width="4.5"/>
<line x1="1243.6" y1="232.4" x2="1252.9" y2="252.1" stroke="#7a5232" stroke-width="4.5"/>
<line x1="1252.9" y1="252.1" x2="1262.2" y2="271.7" stroke="#7a5232" stroke-width="4.5"/>
<line x1="1224.9" y1="242.2" x2="1227.3" y2="263.9" stroke="#9aabcf" stroke-width="4.5"/>
<line x1="1227.3" y1="263.9" x2="1229.8" y2="285.5" stroke="#7a5232" stroke-width="4.5"/>
<line x1="1229.8" y1="285.5" x2="1242.1" y2="294.4" stroke="#7a5232" stroke-width="4.5"/>
<line x1="1242.1" y1="294.4" x2="1254.4" y2="303.2" stroke="#9aabcf" stroke-width="4.5"/>
<line x1="1254.4" y1="303.2" x2="1258.3" y2="287.5" stroke="#9aabcf" stroke-width="4.5"/>
<line x1="1258.3" y1="287.5" x2="1262.2" y2="271.7" stroke="#7a5232" stroke-width="4.5"/>
<line x1="1262.2" y1="271.7" x2="1275.5" y2="277.6" stroke="#7a5232" stroke-width="4.5"/>
<line x1="1275.5" y1="277.6" x2="1288.8" y2="283.5" stroke="#7a5232" stroke-width="4.5"/>
<line x1="1288.8" y1="283.5" x2="1313.9" y2="282.1" stroke="#7a5232" stroke-width="4.5"/>
<line x1="1313.9" y1="282.1" x2="1339.0" y2="280.6" stroke="#7a5232" stroke-width="4.5"/>
<line x1="1307.5" y1="206.8" x2="1300.6" y2="219.6" stroke="#7a5232" stroke-width="4.5"/>
<line x1="1300.6" y1="219.6" x2="1293.7" y2="232.4" stroke="#9aabcf" stroke-width="4.5"/>
<line x1="1293.7" y1="232.4" x2="1302.1" y2="253.1" stroke="#9aabcf" stroke-width="4.5"/>
<line x1="1302.1" y1="253.1" x2="1310.4" y2="273.7" stroke="#7a5232" stroke-width="4.5"/>
<line x1="1310.4" y1="273.7" x2="1319.8" y2="273.7" stroke="#7a5232" stroke-width="4.5"/>
<line x1="1319.8" y1="273.7" x2="1329.1" y2="273.7" stroke="#9aabcf" stroke-width="4.5"/>
<line x1="1329.1" y1="273.7" x2="1331.1" y2="254.0" stroke="#9aabcf" stroke-width="4.5"/>
<line x1="1331.1" y1="254.0" x2="1333.1" y2="234.4" stroke="#7a5232" stroke-width="4.5"/>
<line x1="1333.1" y1="234.4" x2="1320.3" y2="220.6" stroke="#7a5232" stroke-width="4.5"/>
<line x1="1320.3" y1="220.6" x2="1307.5" y2="206.8" stroke="#7a5232" stroke-width="4.5"/>
<line x1="1339.0" y1="280.6" x2="1351.7" y2="287.5" stroke="#7a5232" stroke-width="4.5"/>
<line x1="1351.7" y1="287.5" x2="1364.5" y2="294.4" stroke="#9aabcf" stroke-width="4.5"/>
<line x1="1339.0" y1="280.6" x2="1334.0" y2="277.1" stroke="#7a5232" stroke-width="4.5"/>
<line x1="1334.0" y1="277.1" x2="1329.1" y2="273.7" stroke="#9aabcf" stroke-width="4.5"/>
<line x1="1392.1" y1="230.4" x2="1401.9" y2="225.5" stroke="#9aabcf" stroke-width="4.5"/>
<line x1="1401.9" y1="225.5" x2="1411.7" y2="220.6" stroke="#7a5232" stroke-width="4.5"/>
<line x1="1411.7" y1="220.6" x2="1421.6" y2="240.3" stroke="#7a5232" stroke-width="4.5"/>
<line x1="1421.6" y1="240.3" x2="1431.4" y2="259.9" stroke="#7a5232" stroke-width="4.5"/>
<line x1="1431.4" y1="259.9" x2="1427.0" y2="275.7" stroke="#7a5232" stroke-width="4.5"/>
<line x1="1427.0" y1="275.7" x2="1422.6" y2="291.4" stroke="#9aabcf" stroke-width="4.5"/>
<line x1="1422.6" y1="291.4" x2="1410.8" y2="282.6" stroke="#9aabcf" stroke-width="4.5"/>
<line x1="1410.8" y1="282.6" x2="1399.0" y2="273.7" stroke="#7a5232" stroke-width="4.5"/>
<line x1="1399.0" y1="273.7" x2="1395.5" y2="252.1" stroke="#7a5232" stroke-width="4.5"/>
<line x1="1395.5" y1="252.1" x2="1392.1" y2="230.4" stroke="#9aabcf" stroke-width="4.5"/>
<line x1="1431.4" y1="259.9" x2="1444.2" y2="265.3" stroke="#7a5232" stroke-width="4.5"/>
<line x1="1444.2" y1="265.3" x2="1457.0" y2="270.8" stroke="#7a5232" stroke-width="4.5"/>
<line x1="1457.0" y1="270.8" x2="1481.6" y2="269.8" stroke="#7a5232" stroke-width="4.5"/>
<line x1="1481.6" y1="269.8" x2="1506.2" y2="268.8" stroke="#7a5232" stroke-width="4.5"/>
<line x1="1475.7" y1="196.0" x2="1468.8" y2="208.3" stroke="#7a5232" stroke-width="4.5"/>
<line x1="1468.8" y1="208.3" x2="1461.9" y2="220.6" stroke="#9aabcf" stroke-width="4.5"/>
<line x1="1461.9" y1="220.6" x2="1470.3" y2="241.2" stroke="#9aabcf" stroke-width="4.5"/>
<line x1="1470.3" y1="241.2" x2="1478.6" y2="261.9" stroke="#7a5232" stroke-width="4.5"/>
<line x1="1478.6" y1="261.9" x2="1485.5" y2="262.9" stroke="#7a5232" stroke-width="4.5"/>
<line x1="1485.5" y1="262.9" x2="1492.4" y2="263.9" stroke="#9aabcf" stroke-width="4.5"/>
<line x1="1492.4" y1="263.9" x2="1496.3" y2="245.2" stroke="#9aabcf" stroke-width="4.5"/>
<line x1="1496.3" y1="245.2" x2="1500.3" y2="226.5" stroke="#7a5232" stroke-width="4.5"/>
<line x1="1500.3" y1="226.5" x2="1488.0" y2="211.3" stroke="#7a5232" stroke-width="4.5"/>
<line x1="1488.0" y1="211.3" x2="1475.7" y2="196.0" stroke="#7a5232" stroke-width="4.5"/>
<line x1="1443.2" y1="96.7" x2="1459.9" y2="90.3" stroke="#7a5232" stroke-width="4.5"/>
<line x1="1459.9" y1="90.3" x2="1476.6" y2="83.9" stroke="#9aabcf" stroke-width="4.5"/>
<line x1="1443.2" y1="96.7" x2="1447.1" y2="118.8" stroke="#7a5232" stroke-width="4.5"/>
<line x1="1447.1" y1="118.8" x2="1451.1" y2="140.9" stroke="#9aabcf" stroke-width="4.5"/>
<line x1="1451.1" y1="140.9" x2="1470.3" y2="147.3" stroke="#9aabcf" stroke-width="4.5"/>
<line x1="1470.3" y1="147.3" x2="1489.4" y2="153.7" stroke="#7a5232" stroke-width="4.5"/>
<line x1="1489.4" y1="153.7" x2="1497.8" y2="135.5" stroke="#7a5232" stroke-width="4.5"/>
<line x1="1497.8" y1="135.5" x2="1506.2" y2="117.3" stroke="#7a5232" stroke-width="4.5"/>
<line x1="1506.2" y1="117.3" x2="1511.1" y2="126.7" stroke="#7a5232" stroke-width="4.5"/>
<line x1="1511.1" y1="126.7" x2="1516.0" y2="136.0" stroke="#9aabcf" stroke-width="4.5"/>
<line x1="1506.2" y1="117.3" x2="1517.0" y2="110.0" stroke="#7a5232" stroke-width="4.5"/>
<line x1="1517.0" y1="110.0" x2="1527.8" y2="102.6" stroke="#7a5232" stroke-width="4.5"/>
<line x1="1516.0" y1="136.0" x2="1502.7" y2="144.9" stroke="#9aabcf" stroke-width="4.5"/>
<line x1="1502.7" y1="144.9" x2="1489.4" y2="153.7" stroke="#7a5232" stroke-width="4.5"/>
<line x1="1610.6" y1="85.9" x2="1627.8" y2="78.5" stroke="#7a5232" stroke-width="4.5"/>
<line x1="1627.8" y1="78.5" x2="1645.0" y2="71.1" stroke="#9aabcf" stroke-width="4.5"/>
<line x1="1610.6" y1="85.9" x2="1615.0" y2="107.5" stroke="#7a5232" stroke-width="4.5"/>
<line x1="1615.0" y1="107.5" x2="1619.5" y2="129.1" stroke="#9aabcf" stroke-width="4.5"/>
<line x1="1619.5" y1="129.1" x2="1639.1" y2="135.5" stroke="#9aabcf" stroke-width="4.5"/>
<line x1="1639.1" y1="135.5" x2="1658.8" y2="141.9" stroke="#7a5232" stroke-width="4.5"/>
<line x1="1658.8" y1="141.9" x2="1672.6" y2="133.6" stroke="#7a5232" stroke-width="4.5"/>
<line x1="1672.6" y1="133.6" x2="1686.3" y2="125.2" stroke="#9aabcf" stroke-width="4.5"/>
<line x1="1645.0" y1="71.1" x2="1655.4" y2="82.9" stroke="#9aabcf" stroke-width="2.6"/>
<line x1="1655.4" y1="82.9" x2="1665.7" y2="94.7" stroke="#8a6a4a" stroke-width="2.6"/>
<line x1="1711.9" y1="102.6" x2="1715.8" y2="128.1" stroke="#7a5232" stroke-width="4.5"/>
<line x1="1715.8" y1="128.1" x2="1719.8" y2="153.7" stroke="#7a5232" stroke-width="4.5"/>
<line x1="1719.8" y1="153.7" x2="1734.0" y2="141.9" stroke="#7a5232" stroke-width="4.5"/>
<line x1="1734.0" y1="141.9" x2="1748.3" y2="130.1" stroke="#7a5232" stroke-width="4.5"/>
<line x1="1748.3" y1="130.1" x2="1752.7" y2="112.9" stroke="#7a5232" stroke-width="4.5"/>
<line x1="1752.7" y1="112.9" x2="1757.2" y2="95.7" stroke="#9aabcf" stroke-width="4.5"/>
<line x1="1719.8" y1="153.7" x2="1721.3" y2="176.8" stroke="#7a5232" stroke-width="4.5"/>
<line x1="1721.3" y1="176.8" x2="1722.7" y2="199.9" stroke="#7a5232" stroke-width="4.5"/>
<line x1="1691.3" y1="83.9" x2="1701.6" y2="93.2" stroke="#7a5232" stroke-width="4.5"/>
<line x1="1701.6" y1="93.2" x2="1711.9" y2="102.6" stroke="#7a5232" stroke-width="4.5"/>
<line x1="1711.9" y1="102.6" x2="1721.3" y2="95.2" stroke="#7a5232" stroke-width="4.5"/>
<line x1="1721.3" y1="95.2" x2="1730.6" y2="87.8" stroke="#9aabcf" stroke-width="4.5"/>
<line x1="1717.8" y1="99.6" x2="1737.5" y2="97.7" stroke="#7a5232" stroke-width="4.5"/>
<line x1="1737.5" y1="97.7" x2="1757.2" y2="95.7" stroke="#9aabcf" stroke-width="4.5"/>
<line x1="1551.6" y1="164.5" x2="1552.6" y2="188.1" stroke="#7a5232" stroke-width="4.5"/>
<line x1="1552.6" y1="188.1" x2="1553.6" y2="211.7" stroke="#7a5232" stroke-width="4.5"/>
<line x1="1551.6" y1="164.5" x2="1565.9" y2="153.2" stroke="#7a5232" stroke-width="4.5"/>
<line x1="1565.9" y1="153.2" x2="1580.1" y2="141.9" stroke="#7a5232" stroke-width="4.5"/>
<line x1="1580.1" y1="141.9" x2="1583.6" y2="124.7" stroke="#7a5232" stroke-width="4.5"/>
<line x1="1583.6" y1="124.7" x2="1587.0" y2="107.5" stroke="#9aabcf" stroke-width="4.5"/>
<line x1="1542.8" y1="115.4" x2="1547.2" y2="140.0" stroke="#7a5232" stroke-width="4.5"/>
<line x1="1547.2" y1="140.0" x2="1551.6" y2="164.5" stroke="#7a5232" stroke-width="4.5"/>
<line x1="1562.4" y1="99.6" x2="1552.6" y2="107.5" stroke="#9aabcf" stroke-width="4.5"/>
<line x1="1552.6" y1="107.5" x2="1542.8" y2="115.4" stroke="#7a5232" stroke-width="4.5"/>
<line x1="1587.0" y1="107.5" x2="1598.8" y2="96.7" stroke="#9aabcf" stroke-width="4.5"/>
<line x1="1598.8" y1="96.7" x2="1610.6" y2="85.9" stroke="#7a5232" stroke-width="4.5"/>
<line x1="1447.1" y1="411.6" x2="1465.3" y2="418.0" stroke="#9aabcf" stroke-width="4.5"/>
<line x1="1465.3" y1="418.0" x2="1483.5" y2="424.4" stroke="#7a5232" stroke-width="4.5"/>
<line x1="1483.5" y1="424.4" x2="1505.2" y2="429.8" stroke="#7a5232" stroke-width="4.5"/>
<line x1="1505.2" y1="429.8" x2="1526.8" y2="435.2" stroke="#7a5232" stroke-width="4.5"/>
<line x1="1447.1" y1="411.6" x2="1439.3" y2="431.3" stroke="#9aabcf" stroke-width="4.5"/>
<line x1="1439.3" y1="431.3" x2="1431.4" y2="450.9" stroke="#7a5232" stroke-width="4.5"/>
<line x1="1431.4" y1="450.9" x2="1446.7" y2="465.2" stroke="#7a5232" stroke-width="4.5"/>
<line x1="1446.7" y1="465.2" x2="1461.9" y2="479.5" stroke="#7a5232" stroke-width="4.5"/>
<line x1="1461.9" y1="479.5" x2="1456.5" y2="498.1" stroke="#7a5232" stroke-width="2.6"/>
<line x1="1456.5" y1="498.1" x2="1451.1" y2="516.8" stroke="#8a6a4a" stroke-width="2.6"/>
<line x1="1526.8" y1="435.2" x2="1532.2" y2="455.4" stroke="#7a5232" stroke-width="4.5"/>
<line x1="1532.2" y1="455.4" x2="1537.6" y2="475.5" stroke="#7a5232" stroke-width="4.5"/>
<line x1="1221.9" y1="598.5" x2="1234.7" y2="594.5" stroke="#9aabcf" stroke-width="4.5"/>
<line x1="1234.7" y1="594.5" x2="1247.5" y2="590.6" stroke="#7a5232" stroke-width="4.5"/>
<line x1="1247.5" y1="590.6" x2="1272.6" y2="592.1" stroke="#7a5232" stroke-width="4.5"/>
<line x1="1272.6" y1="592.1" x2="1297.7" y2="593.5" stroke="#7a5232" stroke-width="4.5"/>
<line x1="1297.7" y1="593.5" x2="1309.9" y2="590.6" stroke="#7a5232" stroke-width="4.5"/>
<line x1="1309.9" y1="590.6" x2="1322.2" y2="587.6" stroke="#7a5232" stroke-width="4.5"/>
<line x1="1322.2" y1="587.6" x2="1332.1" y2="568.5" stroke="#7a5232" stroke-width="4.5"/>
<line x1="1332.1" y1="568.5" x2="1341.9" y2="549.3" stroke="#7a5232" stroke-width="4.5"/>
<line x1="1341.9" y1="549.3" x2="1352.2" y2="556.2" stroke="#7a5232" stroke-width="4.5"/>
<line x1="1352.2" y1="556.2" x2="1362.6" y2="563.1" stroke="#9aabcf" stroke-width="4.5"/>
<line x1="1362.6" y1="563.1" x2="1359.1" y2="586.2" stroke="#9aabcf" stroke-width="4.5"/>
<line x1="1359.1" y1="586.2" x2="1355.7" y2="609.3" stroke="#7a5232" stroke-width="4.5"/>
<line x1="1355.7" y1="609.3" x2="1343.9" y2="618.1" stroke="#7a5232" stroke-width="4.5"/>
<line x1="1343.9" y1="618.1" x2="1332.1" y2="627.0" stroke="#9aabcf" stroke-width="4.5"/>
<line x1="1332.1" y1="627.0" x2="1327.2" y2="607.3" stroke="#9aabcf" stroke-width="4.5"/>
<line x1="1327.2" y1="607.3" x2="1322.2" y2="587.6" stroke="#7a5232" stroke-width="4.5"/>
<line x1="1528.0" y1="434.2" x2="1542.8" y2="418.0" stroke="#7a5232" stroke-width="4.5"/>
<line x1="1542.8" y1="418.0" x2="1557.5" y2="401.8" stroke="#9aabcf" stroke-width="4.5"/>
<line x1="1557.5" y1="401.8" x2="1574.2" y2="410.6" stroke="#9aabcf" stroke-width="4.5"/>
<line x1="1574.2" y1="410.6" x2="1590.9" y2="419.5" stroke="#7a5232" stroke-width="4.5"/>
<line x1="1590.9" y1="419.5" x2="1587.5" y2="441.6" stroke="#7a5232" stroke-width="4.5"/>
<line x1="1587.5" y1="441.6" x2="1584.1" y2="463.7" stroke="#9aabcf" stroke-width="4.5"/>
<line x1="1584.1" y1="463.7" x2="1564.4" y2="469.1" stroke="#9aabcf" stroke-width="4.5"/>
<line x1="1564.4" y1="469.1" x2="1544.7" y2="474.5" stroke="#7a5232" stroke-width="4.5"/>
<line x1="1544.7" y1="474.5" x2="1536.4" y2="454.4" stroke="#7a5232" stroke-width="4.5"/>
<line x1="1536.4" y1="454.4" x2="1528.0" y2="434.2" stroke="#7a5232" stroke-width="4.5"/>
<line x1="1584.1" y1="463.7" x2="1603.2" y2="462.2" stroke="#9aabcf" stroke-width="4.5"/>
<line x1="1603.2" y1="462.2" x2="1622.4" y2="460.8" stroke="#7a5232" stroke-width="4.5"/>
<line x1="1622.4" y1="460.8" x2="1631.8" y2="440.1" stroke="#7a5232" stroke-width="4.5"/>
<line x1="1631.8" y1="440.1" x2="1641.1" y2="419.5" stroke="#9aabcf" stroke-width="4.5"/>
<line x1="1622.4" y1="460.8" x2="1637.2" y2="474.5" stroke="#7a5232" stroke-width="4.5"/>
<line x1="1637.2" y1="474.5" x2="1651.9" y2="488.3" stroke="#7a5232" stroke-width="4.5"/>
<line x1="1651.9" y1="488.3" x2="1668.6" y2="474.5" stroke="#7a5232" stroke-width="4.5"/>
<line x1="1668.6" y1="474.5" x2="1685.4" y2="460.8" stroke="#9aabcf" stroke-width="4.5"/>
<line x1="1685.4" y1="460.8" x2="1682.4" y2="440.1" stroke="#9aabcf" stroke-width="4.5"/>
<line x1="1682.4" y1="440.1" x2="1679.5" y2="419.5" stroke="#7a5232" stroke-width="4.5"/>
<line x1="1679.5" y1="419.5" x2="1660.3" y2="419.5" stroke="#7a5232" stroke-width="4.5"/>
<line x1="1660.3" y1="419.5" x2="1641.1" y2="419.5" stroke="#9aabcf" stroke-width="4.5"/>
<line x1="1651.9" y1="488.3" x2="1650.4" y2="512.9" stroke="#7a5232" stroke-width="4.5"/>
<line x1="1650.4" y1="512.9" x2="1649.0" y2="537.5" stroke="#7a5232" stroke-width="4.5"/>
<line x1="1649.0" y1="537.5" x2="1662.2" y2="551.2" stroke="#7a5232" stroke-width="4.5"/>
<line x1="1662.2" y1="551.2" x2="1675.5" y2="565.0" stroke="#7a5232" stroke-width="4.5"/>
<line x1="1675.5" y1="565.0" x2="1675.0" y2="588.6" stroke="#7a5232" stroke-width="4.5"/>
<line x1="1675.0" y1="588.6" x2="1674.5" y2="612.2" stroke="#9aabcf" stroke-width="4.5"/>
<line x1="1653.9" y1="412.6" x2="1666.7" y2="416.0" stroke="#7a5232" stroke-width="4.5"/>
<line x1="1666.7" y1="416.0" x2="1679.5" y2="419.5" stroke="#7a5232" stroke-width="4.5"/>
<line x1="1695.2" y1="424.4" x2="1709.9" y2="407.2" stroke="#7a5232" stroke-width="4.5"/>
<line x1="1709.9" y1="407.2" x2="1724.7" y2="390.0" stroke="#9aabcf" stroke-width="4.5"/>
<line x1="1695.2" y1="424.4" x2="1704.0" y2="444.1" stroke="#7a5232" stroke-width="4.5"/>
<line x1="1704.0" y1="444.1" x2="1712.9" y2="463.7" stroke="#7a5232" stroke-width="4.5"/>
<line x1="1712.9" y1="463.7" x2="1732.6" y2="457.3" stroke="#7a5232" stroke-width="4.5"/>
<line x1="1732.6" y1="457.3" x2="1752.2" y2="450.9" stroke="#9aabcf" stroke-width="4.5"/>
<line x1="1752.2" y1="450.9" x2="1756.2" y2="429.8" stroke="#9aabcf" stroke-width="4.5"/>
<line x1="1756.2" y1="429.8" x2="1760.1" y2="408.6" stroke="#7a5232" stroke-width="4.5"/>
<line x1="1760.1" y1="408.6" x2="1742.4" y2="399.3" stroke="#7a5232" stroke-width="4.5"/>
<line x1="1742.4" y1="399.3" x2="1724.7" y2="390.0" stroke="#9aabcf" stroke-width="4.5"/>
<line x1="1809.3" y1="407.7" x2="1828.0" y2="408.2" stroke="#9aabcf" stroke-width="4.5"/>
<line x1="1828.0" y1="408.2" x2="1846.6" y2="408.6" stroke="#7a5232" stroke-width="4.5"/>
<line x1="1846.6" y1="408.6" x2="1850.1" y2="429.3" stroke="#7a5232" stroke-width="4.5"/>
<line x1="1850.1" y1="429.3" x2="1853.5" y2="450.0" stroke="#9aabcf" stroke-width="4.5"/>
<line x1="1853.5" y1="450.0" x2="1836.8" y2="463.7" stroke="#9aabcf" stroke-width="4.5"/>
<line x1="1836.8" y1="463.7" x2="1820.1" y2="477.5" stroke="#7a5232" stroke-width="4.5"/>
<line x1="1820.1" y1="477.5" x2="1805.3" y2="463.2" stroke="#7a5232" stroke-width="4.5"/>
<line x1="1805.3" y1="463.2" x2="1790.6" y2="449.0" stroke="#7a5232" stroke-width="4.5"/>
<line x1="1790.6" y1="449.0" x2="1799.9" y2="428.3" stroke="#7a5232" stroke-width="4.5"/>
<line x1="1799.9" y1="428.3" x2="1809.3" y2="407.7" stroke="#9aabcf" stroke-width="4.5"/>
<line x1="1820.1" y1="477.5" x2="1819.1" y2="501.6" stroke="#7a5232" stroke-width="4.5"/>
<line x1="1819.1" y1="501.6" x2="1818.1" y2="525.7" stroke="#7a5232" stroke-width="4.5"/>
<line x1="1818.1" y1="525.7" x2="1830.4" y2="539.4" stroke="#7a5232" stroke-width="4.5"/>
<line x1="1830.4" y1="539.4" x2="1842.7" y2="553.2" stroke="#7a5232" stroke-width="4.5"/>
<line x1="1842.7" y1="553.2" x2="1842.2" y2="574.9" stroke="#7a5232" stroke-width="4.5"/>
<line x1="1842.2" y1="574.9" x2="1841.7" y2="596.5" stroke="#9aabcf" stroke-width="4.5"/>
<line x1="1622.4" y1="460.8" x2="1619.5" y2="484.9" stroke="#7a5232" stroke-width="2.6"/>
<line x1="1619.5" y1="484.9" x2="1616.5" y2="509.0" stroke="#8a6a4a" stroke-width="2.6"/>
<line x1="1598.8" y1="440.1" x2="1594.9" y2="429.8" stroke="#7a5232" stroke-width="4.5"/>
<line x1="1594.9" y1="429.8" x2="1590.9" y2="419.5" stroke="#7a5232" stroke-width="4.5"/>
<line x1="1287.8" y1="76.0" x2="1296.2" y2="63.7" stroke="#e0202a" stroke-width="3.0"/>
<line x1="1296.2" y1="63.7" x2="1304.5" y2="51.4" stroke="#f3d0d0" stroke-width="3.0"/>
<line x1="1287.8" y1="76.0" x2="1305.0" y2="69.1" stroke="#e0202a" stroke-width="3.0"/>
<line x1="1305.0" y1="69.1" x2="1322.2" y2="62.3" stroke="#f3d0d0" stroke-width="3.0"/>
<line x1="1287.8" y1="76.0" x2="1298.6" y2="73.6" stroke="#e0202a" stroke-width="3.0"/>
<line x1="1298.6" y1="73.6" x2="1309.5" y2="71.1" stroke="#f3d0d0" stroke-width="3.0"/>
<line x1="1287.8" y1="76.0" x2="1281.9" y2="77.5" stroke="#e0202a" stroke-width="3.0"/>
<line x1="1281.9" y1="77.5" x2="1276.0" y2="79.0" stroke="#f3d0d0" stroke-width="3.0"/>
<line x1="1457.0" y1="64.2" x2="1464.8" y2="52.4" stroke="#e0202a" stroke-width="3.0"/>
<line x1="1464.8" y1="52.4" x2="1472.7" y2="40.6" stroke="#f3d0d0" stroke-width="3.0"/>
<line x1="1476.6" y1="83.9" x2="1483.5" y2="67.2" stroke="#9aabcf" stroke-width="3.0"/>
<line x1="1483.5" y1="67.2" x2="1490.4" y2="50.5" stroke="#f3d0d0" stroke-width="3.0"/>
<line x1="1457.0" y1="64.2" x2="1466.8" y2="62.3" stroke="#e0202a" stroke-width="3.0"/>
<line x1="1466.8" y1="62.3" x2="1476.6" y2="60.3" stroke="#f3d0d0" stroke-width="3.0"/>
<line x1="1445.2" y1="175.4" x2="1446.2" y2="186.2" stroke="#e0202a" stroke-width="3.0"/>
<line x1="1446.2" y1="186.2" x2="1447.1" y2="197.0" stroke="#f3d0d0" stroke-width="3.0"/>
<line x1="1489.4" y1="153.7" x2="1480.1" y2="161.1" stroke="#7a5232" stroke-width="3.0"/>
<line x1="1480.1" y1="161.1" x2="1470.7" y2="168.5" stroke="#f3d0d0" stroke-width="3.0"/>
<line x1="1443.2" y1="96.7" x2="1430.4" y2="88.8" stroke="#7a5232" stroke-width="3.0"/>
<line x1="1430.4" y1="88.8" x2="1417.6" y2="80.9" stroke="#f3d0d0" stroke-width="3.0"/>
<line x1="1476.6" y1="83.9" x2="1490.4" y2="78.0" stroke="#9aabcf" stroke-width="3.0"/>
<line x1="1490.4" y1="78.0" x2="1504.2" y2="72.1" stroke="#f3d0d0" stroke-width="3.0"/>
<line x1="1527.8" y1="102.6" x2="1523.9" y2="99.6" stroke="#7a5232" stroke-width="3.0"/>
<line x1="1523.9" y1="99.6" x2="1519.9" y2="96.7" stroke="#f3d0d0" stroke-width="3.0"/>
<line x1="1516.0" y1="136.0" x2="1524.8" y2="140.9" stroke="#9aabcf" stroke-width="3.0"/>
<line x1="1524.8" y1="140.9" x2="1533.7" y2="145.9" stroke="#f3d0d0" stroke-width="3.0"/>
<line x1="1475.7" y1="196.0" x2="1488.4" y2="188.6" stroke="#7a5232" stroke-width="3.0"/>
<line x1="1488.4" y1="188.6" x2="1501.2" y2="181.3" stroke="#f3d0d0" stroke-width="3.0"/>
<line x1="1224.9" y1="242.2" x2="1217.0" y2="231.9" stroke="#9aabcf" stroke-width="3.0"/>
<line x1="1217.0" y1="231.9" x2="1209.1" y2="221.6" stroke="#f3d0d0" stroke-width="3.0"/>
<line x1="1243.6" y1="232.4" x2="1243.1" y2="218.1" stroke="#7a5232" stroke-width="3.0"/>
<line x1="1243.1" y1="218.1" x2="1242.6" y2="203.9" stroke="#f3d0d0" stroke-width="3.0"/>
<line x1="1229.8" y1="285.5" x2="1224.4" y2="292.4" stroke="#7a5232" stroke-width="3.0"/>
<line x1="1224.4" y1="292.4" x2="1219.0" y2="299.3" stroke="#f3d0d0" stroke-width="3.0"/>
<line x1="1262.2" y1="271.7" x2="1271.1" y2="267.3" stroke="#7a5232" stroke-width="3.0"/>
<line x1="1271.1" y1="267.3" x2="1280.0" y2="262.9" stroke="#f3d0d0" stroke-width="3.0"/>
<line x1="1254.4" y1="303.2" x2="1268.6" y2="310.6" stroke="#9aabcf" stroke-width="3.0"/>
<line x1="1268.6" y1="310.6" x2="1282.9" y2="318.0" stroke="#f3d0d0" stroke-width="3.0"/>
<line x1="1288.8" y1="283.5" x2="1296.2" y2="290.4" stroke="#7a5232" stroke-width="3.0"/>
<line x1="1296.2" y1="290.4" x2="1303.6" y2="297.3" stroke="#f3d0d0" stroke-width="3.0"/>
<line x1="1333.1" y1="234.4" x2="1339.9" y2="230.9" stroke="#7a5232" stroke-width="3.0"/>
<line x1="1339.9" y1="230.9" x2="1346.8" y2="227.5" stroke="#f3d0d0" stroke-width="3.0"/>
<line x1="1333.1" y1="234.4" x2="1339.9" y2="241.2" stroke="#7a5232" stroke-width="3.0"/>
<line x1="1339.9" y1="241.2" x2="1346.8" y2="248.1" stroke="#f3d0d0" stroke-width="3.0"/>
<line x1="1339.0" y1="280.6" x2="1348.8" y2="277.1" stroke="#7a5232" stroke-width="3.0"/>
<line x1="1348.8" y1="277.1" x2="1358.6" y2="273.7" stroke="#f3d0d0" stroke-width="3.0"/>
<line x1="1364.5" y1="294.4" x2="1359.1" y2="308.6" stroke="#9aabcf" stroke-width="3.0"/>
<line x1="1359.1" y1="308.6" x2="1353.7" y2="322.9" stroke="#f3d0d0" stroke-width="3.0"/>
<line x1="1399.0" y1="273.7" x2="1396.5" y2="284.5" stroke="#7a5232" stroke-width="3.0"/>
<line x1="1396.5" y1="284.5" x2="1394.0" y2="295.3" stroke="#f3d0d0" stroke-width="3.0"/>
<line x1="1364.5" y1="294.4" x2="1355.7" y2="297.3" stroke="#9aabcf" stroke-width="3.0"/>
<line x1="1355.7" y1="297.3" x2="1346.8" y2="300.3" stroke="#f3d0d0" stroke-width="3.0"/>
<line x1="1392.1" y1="230.4" x2="1384.2" y2="221.6" stroke="#9aabcf" stroke-width="3.0"/>
<line x1="1384.2" y1="221.6" x2="1376.3" y2="212.7" stroke="#f3d0d0" stroke-width="3.0"/>
<line x1="1411.7" y1="220.6" x2="1411.7" y2="206.8" stroke="#7a5232" stroke-width="3.0"/>
<line x1="1411.7" y1="206.8" x2="1411.7" y2="193.1" stroke="#f3d0d0" stroke-width="3.0"/>
<line x1="1431.4" y1="259.9" x2="1439.3" y2="256.0" stroke="#7a5232" stroke-width="3.0"/>
<line x1="1439.3" y1="256.0" x2="1447.1" y2="252.1" stroke="#f3d0d0" stroke-width="3.0"/>
<line x1="1445.2" y1="175.4" x2="1438.8" y2="167.0" stroke="#e0202a" stroke-width="3.0"/>
<line x1="1438.8" y1="167.0" x2="1432.4" y2="158.6" stroke="#f3d0d0" stroke-width="3.0"/>
<line x1="1500.3" y1="226.5" x2="1506.6" y2="221.1" stroke="#7a5232" stroke-width="3.0"/>
<line x1="1506.6" y1="221.1" x2="1513.0" y2="215.7" stroke="#f3d0d0" stroke-width="3.0"/>
<line x1="1457.0" y1="270.8" x2="1465.8" y2="278.1" stroke="#7a5232" stroke-width="3.0"/>
<line x1="1465.8" y1="278.1" x2="1474.7" y2="285.5" stroke="#f3d0d0" stroke-width="3.0"/>
<line x1="1522.9" y1="291.4" x2="1516.5" y2="301.2" stroke="#9aabcf" stroke-width="3.0"/>
<line x1="1516.5" y1="301.2" x2="1510.1" y2="311.1" stroke="#f3d0d0" stroke-width="3.0"/>
<line x1="1645.0" y1="71.1" x2="1658.8" y2="65.7" stroke="#9aabcf" stroke-width="3.0"/>
<line x1="1658.8" y1="65.7" x2="1672.6" y2="60.3" stroke="#f3d0d0" stroke-width="3.0"/>
<line x1="1610.6" y1="85.9" x2="1597.8" y2="78.0" stroke="#7a5232" stroke-width="3.0"/>
<line x1="1597.8" y1="78.0" x2="1585.0" y2="70.1" stroke="#f3d0d0" stroke-width="3.0"/>
<line x1="1562.4" y1="99.6" x2="1561.9" y2="89.8" stroke="#9aabcf" stroke-width="3.0"/>
<line x1="1561.9" y1="89.8" x2="1561.4" y2="80.0" stroke="#f3d0d0" stroke-width="3.0"/>
<line x1="1562.4" y1="99.6" x2="1567.8" y2="88.3" stroke="#9aabcf" stroke-width="3.0"/>
<line x1="1567.8" y1="88.3" x2="1573.2" y2="77.0" stroke="#f3d0d0" stroke-width="3.0"/>
<line x1="1610.6" y1="85.9" x2="1603.7" y2="82.4" stroke="#7a5232" stroke-width="3.0"/>
<line x1="1603.7" y1="82.4" x2="1596.8" y2="79.0" stroke="#f3d0d0" stroke-width="3.0"/>
<line x1="1619.5" y1="129.1" x2="1613.1" y2="129.1" stroke="#9aabcf" stroke-width="3.0"/>
<line x1="1613.1" y1="129.1" x2="1606.7" y2="129.1" stroke="#f3d0d0" stroke-width="3.0"/>
<line x1="1580.1" y1="141.9" x2="1576.7" y2="137.0" stroke="#7a5232" stroke-width="3.0"/>
<line x1="1576.7" y1="137.0" x2="1573.2" y2="132.1" stroke="#f3d0d0" stroke-width="3.0"/>
<line x1="1516.0" y1="136.0" x2="1524.9" y2="141.9" stroke="#9aabcf" stroke-width="3.0"/>
<line x1="1524.9" y1="141.9" x2="1533.9" y2="147.8" stroke="#f3d0d0" stroke-width="3.0"/>
<line x1="1612.6" y1="163.6" x2="1610.1" y2="157.7" stroke="#e0202a" stroke-width="3.0"/>
<line x1="1610.1" y1="157.7" x2="1607.7" y2="151.8" stroke="#f3d0d0" stroke-width="3.0"/>
<line x1="1658.8" y1="141.9" x2="1649.5" y2="148.8" stroke="#7a5232" stroke-width="3.0"/>
<line x1="1649.5" y1="148.8" x2="1640.1" y2="155.7" stroke="#f3d0d0" stroke-width="3.0"/>
<line x1="1612.6" y1="163.6" x2="1613.6" y2="174.9" stroke="#e0202a" stroke-width="3.0"/>
<line x1="1613.6" y1="174.9" x2="1614.5" y2="186.2" stroke="#f3d0d0" stroke-width="3.0"/>
<line x1="1658.8" y1="141.9" x2="1665.2" y2="157.2" stroke="#7a5232" stroke-width="3.0"/>
<line x1="1665.2" y1="157.2" x2="1671.6" y2="172.4" stroke="#f3d0d0" stroke-width="3.0"/>
<line x1="1696.2" y1="215.7" x2="1688.3" y2="203.4" stroke="#e0202a" stroke-width="3.0"/>
<line x1="1688.3" y1="203.4" x2="1680.4" y2="191.1" stroke="#f3d0d0" stroke-width="3.0"/>
<line x1="1696.2" y1="215.7" x2="1699.6" y2="220.6" stroke="#e0202a" stroke-width="3.0"/>
<line x1="1699.6" y1="220.6" x2="1703.1" y2="225.5" stroke="#f3d0d0" stroke-width="3.0"/>
<line x1="1691.3" y1="83.9" x2="1689.3" y2="84.4" stroke="#7a5232" stroke-width="3.0"/>
<line x1="1689.3" y1="84.4" x2="1687.3" y2="84.9" stroke="#f3d0d0" stroke-width="3.0"/>
<line x1="1730.6" y1="87.8" x2="1730.1" y2="77.5" stroke="#9aabcf" stroke-width="3.0"/>
<line x1="1730.1" y1="77.5" x2="1729.6" y2="67.2" stroke="#f3d0d0" stroke-width="3.0"/>
<line x1="1730.6" y1="87.8" x2="1736.0" y2="77.0" stroke="#9aabcf" stroke-width="3.0"/>
<line x1="1736.0" y1="77.0" x2="1741.4" y2="66.2" stroke="#f3d0d0" stroke-width="3.0"/>
<line x1="1757.2" y1="95.7" x2="1761.1" y2="81.4" stroke="#9aabcf" stroke-width="3.0"/>
<line x1="1761.1" y1="81.4" x2="1765.0" y2="67.2" stroke="#f3d0d0" stroke-width="3.0"/>
<line x1="1757.2" y1="95.7" x2="1767.0" y2="106.0" stroke="#9aabcf" stroke-width="3.0"/>
<line x1="1767.0" y1="106.0" x2="1776.8" y2="116.3" stroke="#f3d0d0" stroke-width="3.0"/>
<line x1="1748.3" y1="130.1" x2="1744.4" y2="125.2" stroke="#7a5232" stroke-width="3.0"/>
<line x1="1744.4" y1="125.2" x2="1740.4" y2="120.3" stroke="#f3d0d0" stroke-width="3.0"/>
<line x1="1686.3" y1="125.2" x2="1693.7" y2="130.6" stroke="#9aabcf" stroke-width="3.0"/>
<line x1="1693.7" y1="130.6" x2="1701.1" y2="136.0" stroke="#f3d0d0" stroke-width="3.0"/>
<line x1="1748.3" y1="130.1" x2="1762.6" y2="134.5" stroke="#7a5232" stroke-width="3.0"/>
<line x1="1762.6" y1="134.5" x2="1776.8" y2="139.0" stroke="#f3d0d0" stroke-width="3.0"/>
<line x1="1757.2" y1="95.7" x2="1753.7" y2="96.2" stroke="#9aabcf" stroke-width="3.0"/>
<line x1="1753.7" y1="96.2" x2="1750.3" y2="96.7" stroke="#f3d0d0" stroke-width="3.0"/>
<line x1="1865.3" y1="202.9" x2="1857.5" y2="191.6" stroke="#e0202a" stroke-width="3.0"/>
<line x1="1857.5" y1="191.6" x2="1849.6" y2="180.3" stroke="#f3d0d0" stroke-width="3.0"/>
<line x1="1865.3" y1="202.9" x2="1868.3" y2="208.3" stroke="#e0202a" stroke-width="3.0"/>
<line x1="1868.3" y1="208.3" x2="1871.2" y2="213.7" stroke="#f3d0d0" stroke-width="3.0"/>
<line x1="1708.0" y1="315.0" x2="1706.5" y2="322.4" stroke="#e0202a" stroke-width="3.0"/>
<line x1="1706.5" y1="322.4" x2="1705.0" y2="329.8" stroke="#f3d0d0" stroke-width="3.0"/>
<line x1="1553.6" y1="211.7" x2="1546.7" y2="211.7" stroke="#7a5232" stroke-width="3.0"/>
<line x1="1546.7" y1="211.7" x2="1539.8" y2="211.7" stroke="#f3d0d0" stroke-width="3.0"/>
<line x1="1296.7" y1="387.0" x2="1288.8" y2="375.2" stroke="#e0202a" stroke-width="3.0"/>
<line x1="1288.8" y1="375.2" x2="1280.9" y2="363.4" stroke="#f3d0d0" stroke-width="3.0"/>
<line x1="1296.7" y1="387.0" x2="1300.6" y2="392.4" stroke="#e0202a" stroke-width="3.0"/>
<line x1="1300.6" y1="392.4" x2="1304.5" y2="397.8" stroke="#f3d0d0" stroke-width="3.0"/>
<line x1="1308.5" y1="485.4" x2="1308.0" y2="493.2" stroke="#e0202a" stroke-width="3.0"/>
<line x1="1308.0" y1="493.2" x2="1307.5" y2="501.1" stroke="#f3d0d0" stroke-width="3.0"/>
<line x1="1464.8" y1="375.2" x2="1457.0" y2="363.4" stroke="#e0202a" stroke-width="3.0"/>
<line x1="1457.0" y1="363.4" x2="1449.1" y2="351.6" stroke="#f3d0d0" stroke-width="3.0"/>
<line x1="1447.1" y1="411.6" x2="1442.2" y2="398.3" stroke="#9aabcf" stroke-width="3.0"/>
<line x1="1442.2" y1="398.3" x2="1437.3" y2="385.0" stroke="#f3d0d0" stroke-width="3.0"/>
<line x1="1431.4" y1="450.9" x2="1431.4" y2="442.6" stroke="#7a5232" stroke-width="3.0"/>
<line x1="1431.4" y1="442.6" x2="1431.4" y2="434.2" stroke="#f3d0d0" stroke-width="3.0"/>
<line x1="1431.4" y1="450.9" x2="1415.7" y2="451.4" stroke="#7a5232" stroke-width="3.0"/>
<line x1="1415.7" y1="451.4" x2="1399.9" y2="451.9" stroke="#f3d0d0" stroke-width="3.0"/>
<line x1="1431.4" y1="450.9" x2="1431.4" y2="457.3" stroke="#7a5232" stroke-width="3.0"/>
<line x1="1431.4" y1="457.3" x2="1431.4" y2="463.7" stroke="#f3d0d0" stroke-width="3.0"/>
<line x1="1431.4" y1="450.9" x2="1446.7" y2="449.0" stroke="#7a5232" stroke-width="3.0"/>
<line x1="1446.7" y1="449.0" x2="1461.9" y2="447.0" stroke="#f3d0d0" stroke-width="3.0"/>
<line x1="1528.0" y1="434.2" x2="1521.5" y2="418.5" stroke="#7a5232" stroke-width="3.0"/>
<line x1="1521.5" y1="418.5" x2="1515.0" y2="402.7" stroke="#f3d0d0" stroke-width="3.0"/>
<line x1="1526.8" y1="435.2" x2="1514.0" y2="444.5" stroke="#7a5232" stroke-width="3.0"/>
<line x1="1514.0" y1="444.5" x2="1501.2" y2="453.9" stroke="#f3d0d0" stroke-width="3.0"/>
<line x1="1461.9" y1="479.5" x2="1477.1" y2="479.0" stroke="#7a5232" stroke-width="3.0"/>
<line x1="1477.1" y1="479.0" x2="1492.4" y2="478.5" stroke="#f3d0d0" stroke-width="3.0"/>
<line x1="1461.9" y1="479.5" x2="1468.8" y2="484.9" stroke="#7a5232" stroke-width="3.0"/>
<line x1="1468.8" y1="484.9" x2="1475.7" y2="490.3" stroke="#f3d0d0" stroke-width="3.0"/>
<line x1="1537.6" y1="475.5" x2="1528.8" y2="486.3" stroke="#7a5232" stroke-width="3.0"/>
<line x1="1528.8" y1="486.3" x2="1519.9" y2="497.2" stroke="#f3d0d0" stroke-width="3.0"/>
<line x1="1341.9" y1="549.3" x2="1341.9" y2="534.5" stroke="#7a5232" stroke-width="3.0"/>
<line x1="1341.9" y1="534.5" x2="1341.9" y2="519.8" stroke="#f3d0d0" stroke-width="3.0"/>
<line x1="1362.6" y1="563.1" x2="1369.4" y2="554.7" stroke="#9aabcf" stroke-width="3.0"/>
<line x1="1369.4" y1="554.7" x2="1376.3" y2="546.3" stroke="#f3d0d0" stroke-width="3.0"/>
<line x1="1297.7" y1="593.5" x2="1301.1" y2="581.2" stroke="#7a5232" stroke-width="3.0"/>
<line x1="1301.1" y1="581.2" x2="1304.5" y2="569.0" stroke="#f3d0d0" stroke-width="3.0"/>
<line x1="1390.1" y1="587.6" x2="1393.1" y2="575.8" stroke="#9aabcf" stroke-width="3.0"/>
<line x1="1393.1" y1="575.8" x2="1396.0" y2="564.0" stroke="#f3d0d0" stroke-width="3.0"/>
<line x1="1247.5" y1="590.6" x2="1243.1" y2="575.3" stroke="#7a5232" stroke-width="3.0"/>
<line x1="1243.1" y1="575.3" x2="1238.6" y2="560.1" stroke="#f3d0d0" stroke-width="3.0"/>
<line x1="1221.9" y1="598.5" x2="1224.9" y2="586.7" stroke="#9aabcf" stroke-width="3.0"/>
<line x1="1224.9" y1="586.7" x2="1227.8" y2="574.9" stroke="#f3d0d0" stroke-width="3.0"/>
<line x1="1221.9" y1="598.5" x2="1207.2" y2="599.4" stroke="#9aabcf" stroke-width="3.0"/>
<line x1="1207.2" y1="599.4" x2="1192.4" y2="600.4" stroke="#f3d0d0" stroke-width="3.0"/>
<line x1="1221.9" y1="598.5" x2="1230.3" y2="605.8" stroke="#9aabcf" stroke-width="3.0"/>
<line x1="1230.3" y1="605.8" x2="1238.6" y2="613.2" stroke="#f3d0d0" stroke-width="3.0"/>
<line x1="1221.9" y1="598.5" x2="1226.4" y2="612.2" stroke="#9aabcf" stroke-width="3.0"/>
<line x1="1226.4" y1="612.2" x2="1230.8" y2="626.0" stroke="#f3d0d0" stroke-width="3.0"/>
<line x1="1332.1" y1="627.0" x2="1318.3" y2="624.0" stroke="#9aabcf" stroke-width="3.0"/>
<line x1="1318.3" y1="624.0" x2="1304.5" y2="621.1" stroke="#f3d0d0" stroke-width="3.0"/>
<line x1="1355.7" y1="609.3" x2="1361.1" y2="617.6" stroke="#7a5232" stroke-width="3.0"/>
<line x1="1361.1" y1="617.6" x2="1366.5" y2="626.0" stroke="#f3d0d0" stroke-width="3.0"/>
<line x1="1492.4" y1="630.9" x2="1506.2" y2="626.5" stroke="#e0202a" stroke-width="3.0"/>
<line x1="1506.2" y1="626.5" x2="1519.9" y2="622.1" stroke="#f3d0d0" stroke-width="3.0"/>
<line x1="1615.5" y1="392.9" x2="1610.6" y2="383.1" stroke="#9aabcf" stroke-width="3.0"/>
<line x1="1610.6" y1="383.1" x2="1605.7" y2="373.2" stroke="#f3d0d0" stroke-width="3.0"/>
<line x1="1615.5" y1="392.9" x2="1628.3" y2="388.0" stroke="#9aabcf" stroke-width="3.0"/>
<line x1="1628.3" y1="388.0" x2="1641.1" y2="383.1" stroke="#f3d0d0" stroke-width="3.0"/>
<line x1="1615.5" y1="392.9" x2="1622.9" y2="393.9" stroke="#9aabcf" stroke-width="3.0"/>
<line x1="1622.9" y1="393.9" x2="1630.3" y2="394.9" stroke="#f3d0d0" stroke-width="3.0"/>
<line x1="1679.5" y1="419.5" x2="1680.4" y2="405.2" stroke="#7a5232" stroke-width="3.0"/>
<line x1="1680.4" y1="405.2" x2="1681.4" y2="390.9" stroke="#f3d0d0" stroke-width="3.0"/>
<line x1="1724.7" y1="390.0" x2="1711.4" y2="392.4" stroke="#9aabcf" stroke-width="3.0"/>
<line x1="1711.4" y1="392.4" x2="1698.1" y2="394.9" stroke="#f3d0d0" stroke-width="3.0"/>
<line x1="1615.5" y1="392.9" x2="1616.5" y2="398.3" stroke="#9aabcf" stroke-width="3.0"/>
<line x1="1616.5" y1="398.3" x2="1617.5" y2="403.7" stroke="#f3d0d0" stroke-width="3.0"/>
<line x1="1584.1" y1="463.7" x2="1576.2" y2="451.9" stroke="#9aabcf" stroke-width="3.0"/>
<line x1="1576.2" y1="451.9" x2="1568.3" y2="440.1" stroke="#f3d0d0" stroke-width="3.0"/>
<line x1="1598.8" y1="440.1" x2="1598.8" y2="446.0" stroke="#7a5232" stroke-width="3.0"/>
<line x1="1598.8" y1="446.0" x2="1598.8" y2="451.9" stroke="#f3d0d0" stroke-width="3.0"/>
<line x1="1679.5" y1="419.5" x2="1673.6" y2="430.8" stroke="#7a5232" stroke-width="3.0"/>
<line x1="1673.6" y1="430.8" x2="1667.7" y2="442.1" stroke="#f3d0d0" stroke-width="3.0"/>
<line x1="1641.1" y1="419.5" x2="1634.7" y2="427.3" stroke="#9aabcf" stroke-width="3.0"/>
<line x1="1634.7" y1="427.3" x2="1628.3" y2="435.2" stroke="#f3d0d0" stroke-width="3.0"/>
<line x1="1651.9" y1="488.3" x2="1656.3" y2="477.0" stroke="#7a5232" stroke-width="3.0"/>
<line x1="1656.3" y1="477.0" x2="1660.8" y2="465.7" stroke="#f3d0d0" stroke-width="3.0"/>
<line x1="1584.1" y1="463.7" x2="1592.4" y2="473.6" stroke="#9aabcf" stroke-width="3.0"/>
<line x1="1592.4" y1="473.6" x2="1600.8" y2="483.4" stroke="#f3d0d0" stroke-width="3.0"/>
<line x1="1537.6" y1="475.5" x2="1534.3" y2="489.3" stroke="#7a5232" stroke-width="3.0"/>
<line x1="1534.3" y1="489.3" x2="1531.0" y2="503.1" stroke="#f3d0d0" stroke-width="3.0"/>
<line x1="1809.3" y1="407.7" x2="1797.0" y2="399.8" stroke="#9aabcf" stroke-width="3.0"/>
<line x1="1797.0" y1="399.8" x2="1784.7" y2="391.9" stroke="#f3d0d0" stroke-width="3.0"/>
<line x1="1809.3" y1="407.7" x2="1803.9" y2="395.4" stroke="#9aabcf" stroke-width="3.0"/>
<line x1="1803.9" y1="395.4" x2="1798.5" y2="383.1" stroke="#f3d0d0" stroke-width="3.0"/>
<line x1="1846.6" y1="408.6" x2="1856.5" y2="395.4" stroke="#7a5232" stroke-width="3.0"/>
<line x1="1856.5" y1="395.4" x2="1866.3" y2="382.1" stroke="#f3d0d0" stroke-width="3.0"/>
<line x1="1752.2" y1="450.9" x2="1759.6" y2="453.9" stroke="#9aabcf" stroke-width="3.0"/>
<line x1="1759.6" y1="453.9" x2="1767.0" y2="456.8" stroke="#f3d0d0" stroke-width="3.0"/>
<line x1="1752.2" y1="450.9" x2="1760.6" y2="461.3" stroke="#9aabcf" stroke-width="3.0"/>
<line x1="1760.6" y1="461.3" x2="1769.0" y2="471.6" stroke="#f3d0d0" stroke-width="3.0"/>
<line x1="1673.6" y1="509.9" x2="1686.3" y2="501.1" stroke="#e0202a" stroke-width="3.0"/>
<line x1="1686.3" y1="501.1" x2="1699.1" y2="492.2" stroke="#f3d0d0" stroke-width="3.0"/>
<line x1="1685.4" y1="460.8" x2="1687.8" y2="473.1" stroke="#9aabcf" stroke-width="3.0"/>
<line x1="1687.8" y1="473.1" x2="1690.3" y2="485.4" stroke="#f3d0d0" stroke-width="3.0"/>
<line x1="1649.0" y1="537.5" x2="1633.2" y2="541.9" stroke="#7a5232" stroke-width="3.0"/>
<line x1="1633.2" y1="541.9" x2="1617.5" y2="546.3" stroke="#f3d0d0" stroke-width="3.0"/>
<line x1="1649.0" y1="537.5" x2="1654.9" y2="539.4" stroke="#7a5232" stroke-width="3.0"/>
<line x1="1654.9" y1="539.4" x2="1660.8" y2="541.4" stroke="#f3d0d0" stroke-width="3.0"/>
<line x1="1675.5" y1="565.0" x2="1690.8" y2="560.1" stroke="#7a5232" stroke-width="3.0"/>
<line x1="1690.8" y1="560.1" x2="1706.0" y2="555.2" stroke="#f3d0d0" stroke-width="3.0"/>
<line x1="1818.1" y1="525.7" x2="1801.9" y2="530.1" stroke="#7a5232" stroke-width="3.0"/>
<line x1="1801.9" y1="530.1" x2="1785.7" y2="534.5" stroke="#f3d0d0" stroke-width="3.0"/>
<line x1="1818.1" y1="525.7" x2="1823.0" y2="527.6" stroke="#7a5232" stroke-width="3.0"/>
<line x1="1823.0" y1="527.6" x2="1828.0" y2="529.6" stroke="#f3d0d0" stroke-width="3.0"/>
<line x1="1842.7" y1="553.2" x2="1858.9" y2="547.8" stroke="#7a5232" stroke-width="3.0"/>
<line x1="1858.9" y1="547.8" x2="1875.2" y2="542.4" stroke="#f3d0d0" stroke-width="3.0"/>
<line x1="1842.7" y1="553.2" x2="1836.3" y2="552.2" stroke="#7a5232" stroke-width="3.0"/>
<line x1="1836.3" y1="552.2" x2="1829.9" y2="551.2" stroke="#f3d0d0" stroke-width="3.0"/>
<line x1="1661.8" y1="625.0" x2="1653.4" y2="625.0" stroke="#e0202a" stroke-width="3.0"/>
<line x1="1653.4" y1="625.0" x2="1645.0" y2="625.0" stroke="#f3d0d0" stroke-width="3.0"/>
<line x1="1674.5" y1="612.2" x2="1683.4" y2="620.6" stroke="#9aabcf" stroke-width="3.0"/>
<line x1="1683.4" y1="620.6" x2="1692.2" y2="628.9" stroke="#f3d0d0" stroke-width="3.0"/>
<line x1="1674.5" y1="612.2" x2="1679.0" y2="614.2" stroke="#9aabcf" stroke-width="3.0"/>
<line x1="1679.0" y1="614.2" x2="1683.4" y2="616.2" stroke="#f3d0d0" stroke-width="3.0"/>
<line x1="1661.8" y1="625.0" x2="1663.7" y2="633.4" stroke="#e0202a" stroke-width="3.0"/>
<line x1="1663.7" y1="633.4" x2="1665.7" y2="641.7" stroke="#f3d0d0" stroke-width="3.0"/>
<line x1="1841.7" y1="596.5" x2="1828.0" y2="603.9" stroke="#9aabcf" stroke-width="3.0"/>
<line x1="1828.0" y1="603.9" x2="1814.2" y2="611.2" stroke="#f3d0d0" stroke-width="3.0"/>
<line x1="1841.7" y1="596.5" x2="1846.6" y2="600.4" stroke="#9aabcf" stroke-width="3.0"/>
<line x1="1846.6" y1="600.4" x2="1851.6" y2="604.4" stroke="#f3d0d0" stroke-width="3.0"/>
<line x1="1841.7" y1="596.5" x2="1851.1" y2="606.8" stroke="#9aabcf" stroke-width="3.0"/>
<line x1="1851.1" y1="606.8" x2="1860.4" y2="617.1" stroke="#f3d0d0" stroke-width="3.0"/>
<line x1="1708.0" y1="315.0" x2="1706.5" y2="323.0" stroke="#e0202a" stroke-width="3.0"/>
<line x1="1706.5" y1="323.0" x2="1705.0" y2="331.0" stroke="#f3d0d0" stroke-width="3.0"/>
<circle cx="1304.5" cy="51.4" r="5.1" fill="url(#gH)"/>
<circle cx="1322.2" cy="62.3" r="5.1" fill="url(#gH)"/>
<circle cx="1309.5" cy="71.1" r="5.1" fill="url(#gH)"/>
<circle cx="1276.0" cy="79.0" r="5.1" fill="url(#gH)"/>
<circle cx="1472.7" cy="40.6" r="5.1" fill="url(#gH)"/>
<circle cx="1490.4" cy="50.5" r="5.1" fill="url(#gH)"/>
<circle cx="1476.6" cy="60.3" r="5.1" fill="url(#gH)"/>
<circle cx="1447.1" cy="197.0" r="5.1" fill="url(#gH)"/>
<circle cx="1470.7" cy="168.5" r="5.1" fill="url(#gH)"/>
<circle cx="1417.6" cy="80.9" r="5.1" fill="url(#gH)"/>
<circle cx="1260.3" cy="155.7" r="5.1" fill="url(#gH)"/>
<circle cx="1504.2" cy="72.1" r="5.1" fill="url(#gH)"/>
<circle cx="1519.9" cy="96.7" r="5.1" fill="url(#gH)"/>
<circle cx="1533.7" cy="145.9" r="5.1" fill="url(#gH)"/>
<circle cx="1501.2" cy="181.3" r="5.1" fill="url(#gH)"/>
<circle cx="1209.1" cy="221.6" r="5.1" fill="url(#gH)"/>
<circle cx="1242.6" cy="203.9" r="5.1" fill="url(#gH)"/>
<circle cx="1219.0" cy="299.3" r="5.1" fill="url(#gH)"/>
<circle cx="1280.0" cy="262.9" r="5.1" fill="url(#gH)"/>
<circle cx="1282.9" cy="318.0" r="5.1" fill="url(#gH)"/>
<circle cx="1303.6" cy="297.3" r="5.1" fill="url(#gH)"/>
<circle cx="1346.8" cy="227.5" r="5.1" fill="url(#gH)"/>
<circle cx="1346.8" cy="248.1" r="5.1" fill="url(#gH)"/>
<circle cx="1358.6" cy="273.7" r="5.1" fill="url(#gH)"/>
<circle cx="1353.7" cy="322.9" r="5.1" fill="url(#gH)"/>
<circle cx="1394.0" cy="295.3" r="5.1" fill="url(#gH)"/>
<circle cx="1346.8" cy="300.3" r="5.1" fill="url(#gH)"/>
<circle cx="1376.3" cy="212.7" r="5.1" fill="url(#gH)"/>
<circle cx="1411.7" cy="193.1" r="5.1" fill="url(#gH)"/>
<circle cx="1447.1" cy="252.1" r="5.1" fill="url(#gH)"/>
<circle cx="1432.4" cy="158.6" r="5.1" fill="url(#gH)"/>
<circle cx="1513.0" cy="215.7" r="5.1" fill="url(#gH)"/>
<circle cx="1474.7" cy="285.5" r="5.1" fill="url(#gH)"/>
<circle cx="1510.1" cy="311.1" r="5.1" fill="url(#gH)"/>
<circle cx="1672.6" cy="60.3" r="5.1" fill="url(#gH)"/>
<circle cx="1585.0" cy="70.1" r="5.1" fill="url(#gH)"/>
<circle cx="1561.4" cy="80.0" r="5.1" fill="url(#gH)"/>
<circle cx="1573.2" cy="77.0" r="5.1" fill="url(#gH)"/>
<circle cx="1596.8" cy="79.0" r="5.1" fill="url(#gH)"/>
<circle cx="1606.7" cy="129.1" r="5.1" fill="url(#gH)"/>
<circle cx="1573.2" cy="132.1" r="5.1" fill="url(#gH)"/>
<circle cx="1533.9" cy="147.8" r="5.1" fill="url(#gH)"/>
<circle cx="1607.7" cy="151.8" r="5.1" fill="url(#gH)"/>
<circle cx="1640.1" cy="155.7" r="5.1" fill="url(#gH)"/>
<circle cx="1614.5" cy="186.2" r="5.1" fill="url(#gH)"/>
<circle cx="1671.6" cy="172.4" r="5.1" fill="url(#gH)"/>
<circle cx="1680.4" cy="191.1" r="5.1" fill="url(#gH)"/>
<circle cx="1703.1" cy="225.5" r="5.1" fill="url(#gH)"/>
<circle cx="1687.3" cy="84.9" r="5.1" fill="url(#gH)"/>
<circle cx="1729.6" cy="67.2" r="5.1" fill="url(#gH)"/>
<circle cx="1741.4" cy="66.2" r="5.1" fill="url(#gH)"/>
<circle cx="1765.0" cy="67.2" r="5.1" fill="url(#gH)"/>
<circle cx="1776.8" cy="116.3" r="5.1" fill="url(#gH)"/>
<circle cx="1740.4" cy="120.3" r="5.1" fill="url(#gH)"/>
<circle cx="1701.1" cy="136.0" r="5.1" fill="url(#gH)"/>
<circle cx="1776.8" cy="139.0" r="5.1" fill="url(#gH)"/>
<circle cx="1750.3" cy="96.7" r="5.1" fill="url(#gH)"/>
<circle cx="1849.6" cy="180.3" r="5.1" fill="url(#gH)"/>
<circle cx="1871.2" cy="213.7" r="5.1" fill="url(#gH)"/>
<circle cx="1705.0" cy="329.8" r="5.1" fill="url(#gH)"/>
<circle cx="1539.8" cy="211.7" r="5.1" fill="url(#gH)"/>
<circle cx="1280.9" cy="363.4" r="5.1" fill="url(#gH)"/>
<circle cx="1304.5" cy="397.8" r="5.1" fill="url(#gH)"/>
<circle cx="1307.5" cy="501.1" r="5.1" fill="url(#gH)"/>
<circle cx="1449.1" cy="351.6" r="5.1" fill="url(#gH)"/>
<circle cx="1437.3" cy="385.0" r="5.1" fill="url(#gH)"/>
<circle cx="1431.4" cy="434.2" r="5.1" fill="url(#gH)"/>
<circle cx="1399.9" cy="451.9" r="5.1" fill="url(#gH)"/>
<circle cx="1431.4" cy="463.7" r="5.1" fill="url(#gH)"/>
<circle cx="1461.9" cy="447.0" r="5.1" fill="url(#gH)"/>
<circle cx="1515.0" cy="402.7" r="5.1" fill="url(#gH)"/>
<circle cx="1501.2" cy="453.9" r="5.1" fill="url(#gH)"/>
<circle cx="1492.4" cy="478.5" r="5.1" fill="url(#gH)"/>
<circle cx="1475.7" cy="490.3" r="5.1" fill="url(#gH)"/>
<circle cx="1519.9" cy="497.2" r="5.1" fill="url(#gH)"/>
<circle cx="1341.9" cy="519.8" r="5.1" fill="url(#gH)"/>
<circle cx="1376.3" cy="546.3" r="5.1" fill="url(#gH)"/>
<circle cx="1304.5" cy="569.0" r="5.1" fill="url(#gH)"/>
<circle cx="1396.0" cy="564.0" r="5.1" fill="url(#gH)"/>
<circle cx="1406.8" cy="541.4" r="5.1" fill="url(#gH)"/>
<circle cx="1238.6" cy="560.1" r="5.1" fill="url(#gH)"/>
<circle cx="1227.8" cy="574.9" r="5.1" fill="url(#gH)"/>
<circle cx="1192.4" cy="600.4" r="5.1" fill="url(#gH)"/>
<circle cx="1238.6" cy="613.2" r="5.1" fill="url(#gH)"/>
<circle cx="1230.8" cy="626.0" r="5.1" fill="url(#gH)"/>
<circle cx="1304.5" cy="621.1" r="5.1" fill="url(#gH)"/>
<circle cx="1366.5" cy="626.0" r="5.1" fill="url(#gH)"/>
<circle cx="1519.9" cy="622.1" r="5.1" fill="url(#gH)"/>
<circle cx="1605.7" cy="373.2" r="5.1" fill="url(#gH)"/>
<circle cx="1641.1" cy="383.1" r="5.1" fill="url(#gH)"/>
<circle cx="1630.3" cy="394.9" r="5.1" fill="url(#gH)"/>
<circle cx="1681.4" cy="390.9" r="5.1" fill="url(#gH)"/>
<circle cx="1698.1" cy="394.9" r="5.1" fill="url(#gH)"/>
<circle cx="1617.5" cy="403.7" r="5.1" fill="url(#gH)"/>
<circle cx="1568.3" cy="440.1" r="5.1" fill="url(#gH)"/>
<circle cx="1598.8" cy="451.9" r="5.1" fill="url(#gH)"/>
<circle cx="1667.7" cy="442.1" r="5.1" fill="url(#gH)"/>
<circle cx="1628.3" cy="435.2" r="5.1" fill="url(#gH)"/>
<circle cx="1660.8" cy="465.7" r="5.1" fill="url(#gH)"/>
<circle cx="1600.8" cy="483.4" r="5.1" fill="url(#gH)"/>
<circle cx="1531.0" cy="503.1" r="5.1" fill="url(#gH)"/>
<circle cx="1784.7" cy="391.9" r="5.1" fill="url(#gH)"/>
<circle cx="1798.5" cy="383.1" r="5.1" fill="url(#gH)"/>
<circle cx="1866.3" cy="382.1" r="5.1" fill="url(#gH)"/>
<circle cx="1767.0" cy="456.8" r="5.1" fill="url(#gH)"/>
<circle cx="1769.0" cy="471.6" r="5.1" fill="url(#gH)"/>
<circle cx="1699.1" cy="492.2" r="5.1" fill="url(#gH)"/>
<circle cx="1690.3" cy="485.4" r="5.1" fill="url(#gH)"/>
<circle cx="1617.5" cy="546.3" r="5.1" fill="url(#gH)"/>
<circle cx="1660.8" cy="541.4" r="5.1" fill="url(#gH)"/>
<circle cx="1706.0" cy="555.2" r="5.1" fill="url(#gH)"/>
<circle cx="1785.7" cy="534.5" r="5.1" fill="url(#gH)"/>
<circle cx="1828.0" cy="529.6" r="5.1" fill="url(#gH)"/>
<circle cx="1875.2" cy="542.4" r="5.1" fill="url(#gH)"/>
<circle cx="1829.9" cy="551.2" r="5.1" fill="url(#gH)"/>
<circle cx="1645.0" cy="625.0" r="5.1" fill="url(#gH)"/>
<circle cx="1692.2" cy="628.9" r="5.1" fill="url(#gH)"/>
<circle cx="1683.4" cy="616.2" r="5.1" fill="url(#gH)"/>
<circle cx="1665.7" cy="641.7" r="5.1" fill="url(#gH)"/>
<circle cx="1814.2" cy="611.2" r="5.1" fill="url(#gH)"/>
<circle cx="1851.6" cy="604.4" r="5.1" fill="url(#gH)"/>
<circle cx="1860.4" cy="617.1" r="5.1" fill="url(#gH)"/>
<circle cx="1705.0" cy="331.0" r="5.1" fill="url(#gH)"/>
<circle cx="1243.6" cy="232.4" r="9.0" fill="url(#gC)"/>
<circle cx="1262.2" cy="271.7" r="9.0" fill="url(#gC)"/>
<circle cx="1229.8" cy="285.5" r="9.0" fill="url(#gC)"/>
<circle cx="1288.8" cy="283.5" r="9.0" fill="url(#gC)"/>
<circle cx="1307.5" cy="206.8" r="9.0" fill="url(#gC)"/>
<circle cx="1333.1" cy="234.4" r="9.0" fill="url(#gC)"/>
<circle cx="1310.4" cy="273.7" r="9.0" fill="url(#gC)"/>
<circle cx="1339.0" cy="280.6" r="9.0" fill="url(#gC)"/>
<circle cx="1411.7" cy="220.6" r="9.0" fill="url(#gC)"/>
<circle cx="1431.4" cy="259.9" r="9.0" fill="url(#gC)"/>
<circle cx="1399.0" cy="273.7" r="9.0" fill="url(#gC)"/>
<circle cx="1475.7" cy="196.0" r="9.0" fill="url(#gC)"/>
<circle cx="1500.3" cy="226.5" r="9.0" fill="url(#gC)"/>
<circle cx="1478.6" cy="261.9" r="9.0" fill="url(#gC)"/>
<circle cx="1506.2" cy="268.8" r="9.0" fill="url(#gC)"/>
<circle cx="1443.2" cy="96.7" r="9.0" fill="url(#gC)"/>
<circle cx="1489.4" cy="153.7" r="9.0" fill="url(#gC)"/>
<circle cx="1506.2" cy="117.3" r="9.0" fill="url(#gC)"/>
<circle cx="1527.8" cy="102.6" r="9.0" fill="url(#gC)"/>
<circle cx="1457.0" cy="270.8" r="9.0" fill="url(#gC)"/>
<circle cx="1610.6" cy="85.9" r="9.0" fill="url(#gC)"/>
<circle cx="1542.8" cy="115.4" r="9.0" fill="url(#gC)"/>
<circle cx="1580.1" cy="141.9" r="9.0" fill="url(#gC)"/>
<circle cx="1551.6" cy="164.5" r="9.0" fill="url(#gC)"/>
<circle cx="1658.8" cy="141.9" r="9.0" fill="url(#gC)"/>
<circle cx="1691.3" cy="83.9" r="9.0" fill="url(#gC)"/>
<circle cx="1711.9" cy="102.6" r="9.0" fill="url(#gC)"/>
<circle cx="1748.3" cy="130.1" r="9.0" fill="url(#gC)"/>
<circle cx="1719.8" cy="153.7" r="9.0" fill="url(#gC)"/>
<circle cx="1722.7" cy="199.9" r="9.0" fill="url(#gC)"/>
<circle cx="1553.6" cy="211.7" r="9.0" fill="url(#gC)"/>
<circle cx="1717.8" cy="99.6" r="9.0" fill="url(#gC)"/>
<circle cx="1483.5" cy="424.4" r="9.0" fill="url(#gC)"/>
<circle cx="1526.8" cy="435.2" r="9.0" fill="url(#gC)"/>
<circle cx="1431.4" cy="450.9" r="9.0" fill="url(#gC)"/>
<circle cx="1461.9" cy="479.5" r="9.0" fill="url(#gC)"/>
<circle cx="1341.9" cy="549.3" r="9.0" fill="url(#gC)"/>
<circle cx="1322.2" cy="587.6" r="9.0" fill="url(#gC)"/>
<circle cx="1355.7" cy="609.3" r="9.0" fill="url(#gC)"/>
<circle cx="1297.7" cy="593.5" r="9.0" fill="url(#gC)"/>
<circle cx="1247.5" cy="590.6" r="9.0" fill="url(#gC)"/>
<circle cx="1537.6" cy="475.5" r="9.0" fill="url(#gC)"/>
<circle cx="1528.0" cy="434.2" r="9.0" fill="url(#gC)"/>
<circle cx="1590.9" cy="419.5" r="9.0" fill="url(#gC)"/>
<circle cx="1598.8" cy="440.1" r="9.0" fill="url(#gC)"/>
<circle cx="1622.4" cy="460.8" r="9.0" fill="url(#gC)"/>
<circle cx="1544.7" cy="474.5" r="9.0" fill="url(#gC)"/>
<circle cx="1651.9" cy="488.3" r="9.0" fill="url(#gC)"/>
<circle cx="1653.9" cy="412.6" r="9.0" fill="url(#gC)"/>
<circle cx="1679.5" cy="419.5" r="9.0" fill="url(#gC)"/>
<circle cx="1695.2" cy="424.4" r="9.0" fill="url(#gC)"/>
<circle cx="1712.9" cy="463.7" r="9.0" fill="url(#gC)"/>
<circle cx="1760.1" cy="408.6" r="9.0" fill="url(#gC)"/>
<circle cx="1846.6" cy="408.6" r="9.0" fill="url(#gC)"/>
<circle cx="1790.6" cy="449.0" r="9.0" fill="url(#gC)"/>
<circle cx="1820.1" cy="477.5" r="9.0" fill="url(#gC)"/>
<circle cx="1818.1" cy="525.7" r="9.0" fill="url(#gC)"/>
<circle cx="1842.7" cy="553.2" r="9.0" fill="url(#gC)"/>
<circle cx="1649.0" cy="537.5" r="9.0" fill="url(#gC)"/>
<circle cx="1675.5" cy="565.0" r="9.0" fill="url(#gC)"/>
<circle cx="1630.3" cy="469.6" r="9.0" fill="url(#gC)"/>
<circle cx="1224.9" cy="242.2" r="9.0" fill="url(#gN)"/>
<circle cx="1254.4" cy="303.2" r="9.0" fill="url(#gN)"/>
<circle cx="1293.7" cy="232.4" r="9.0" fill="url(#gN)"/>
<circle cx="1392.1" cy="230.4" r="9.0" fill="url(#gN)"/>
<circle cx="1422.6" cy="291.4" r="9.0" fill="url(#gN)"/>
<circle cx="1461.9" cy="220.6" r="9.0" fill="url(#gN)"/>
<circle cx="1364.5" cy="294.4" r="9.0" fill="url(#gN)"/>
<circle cx="1451.1" cy="140.9" r="9.0" fill="url(#gN)"/>
<circle cx="1476.6" cy="83.9" r="9.0" fill="url(#gN)"/>
<circle cx="1516.0" cy="136.0" r="9.0" fill="url(#gN)"/>
<circle cx="1329.1" cy="273.7" r="9.0" fill="url(#gN)"/>
<circle cx="1492.4" cy="263.9" r="9.0" fill="url(#gN)"/>
<circle cx="1522.9" cy="291.4" r="9.0" fill="url(#gN)"/>
<circle cx="1645.0" cy="71.1" r="9.0" fill="url(#gN)"/>
<circle cx="1562.4" cy="99.6" r="9.0" fill="url(#gN)"/>
<circle cx="1587.0" cy="107.5" r="9.0" fill="url(#gN)"/>
<circle cx="1619.5" cy="129.1" r="9.0" fill="url(#gN)"/>
<circle cx="1686.3" cy="125.2" r="9.0" fill="url(#gN)"/>
<circle cx="1730.6" cy="87.8" r="9.0" fill="url(#gN)"/>
<circle cx="1757.2" cy="95.7" r="9.0" fill="url(#gN)"/>
<circle cx="1447.1" cy="411.6" r="9.0" fill="url(#gN)"/>
<circle cx="1362.6" cy="563.1" r="9.0" fill="url(#gN)"/>
<circle cx="1390.1" cy="587.6" r="9.0" fill="url(#gN)"/>
<circle cx="1332.1" cy="627.0" r="9.0" fill="url(#gN)"/>
<circle cx="1221.9" cy="598.5" r="9.0" fill="url(#gN)"/>
<circle cx="1557.5" cy="401.8" r="9.0" fill="url(#gN)"/>
<circle cx="1641.1" cy="419.5" r="9.0" fill="url(#gN)"/>
<circle cx="1615.5" cy="392.9" r="9.0" fill="url(#gN)"/>
<circle cx="1584.1" cy="463.7" r="9.0" fill="url(#gN)"/>
<circle cx="1685.4" cy="460.8" r="9.0" fill="url(#gN)"/>
<circle cx="1724.7" cy="390.0" r="9.0" fill="url(#gN)"/>
<circle cx="1752.2" cy="450.9" r="9.0" fill="url(#gN)"/>
<circle cx="1809.3" cy="407.7" r="9.0" fill="url(#gN)"/>
<circle cx="1853.5" cy="450.0" r="9.0" fill="url(#gN)"/>
<circle cx="1674.5" cy="612.2" r="9.0" fill="url(#gN)"/>
<circle cx="1841.7" cy="596.5" r="9.0" fill="url(#gN)"/>
<circle cx="1287.8" cy="76.0" r="8.9" fill="url(#gO)"/>
<circle cx="1457.0" cy="64.2" r="8.9" fill="url(#gO)"/>
<circle cx="1445.2" cy="175.4" r="8.9" fill="url(#gO)"/>
<circle cx="1696.2" cy="215.7" r="8.9" fill="url(#gO)"/>
<circle cx="1865.3" cy="202.9" r="8.9" fill="url(#gO)"/>
<circle cx="1612.6" cy="163.6" r="8.9" fill="url(#gO)"/>
<circle cx="1537.8" cy="317.0" r="8.9" fill="url(#gO)"/>
<circle cx="1708.0" cy="315.0" r="8.9" fill="url(#gO)"/>
<circle cx="1296.7" cy="387.0" r="8.9" fill="url(#gO)"/>
<circle cx="1464.8" cy="375.2" r="8.9" fill="url(#gO)"/>
<circle cx="1308.5" cy="485.4" r="8.9" fill="url(#gO)"/>
<circle cx="1505.2" cy="521.7" r="8.9" fill="url(#gO)"/>
<circle cx="1492.4" cy="630.9" r="8.9" fill="url(#gO)"/>
<circle cx="1673.6" cy="509.9" r="8.9" fill="url(#gO)"/>
<circle cx="1661.8" cy="625.0" r="8.9" fill="url(#gO)"/>
<circle cx="1374.4" cy="53.4" r="12.2" fill="url(#gCl)"/>
<circle cx="1321.3" cy="88.8" r="12.2" fill="url(#gCl)"/>
<circle cx="1403.9" cy="80.9" r="12.2" fill="url(#gCl)"/>
<circle cx="1261.3" cy="173.4" r="12.2" fill="url(#gCl)"/>
<circle cx="1382.2" cy="194.0" r="12.2" fill="url(#gCl)"/>
<circle cx="1490.4" cy="75.0" r="12.2" fill="url(#gCl)"/>
<circle cx="1498.3" cy="234.4" r="12.2" fill="url(#gCl)"/>
<circle cx="1542.8" cy="40.6" r="12.2" fill="url(#gCl)"/>
<circle cx="1572.3" cy="67.2" r="12.2" fill="url(#gCl)"/>
<circle cx="1657.8" cy="64.2" r="12.2" fill="url(#gCl)"/>
<circle cx="1613.6" cy="208.8" r="12.2" fill="url(#gCl)"/>
<circle cx="1781.7" cy="198.0" r="12.2" fill="url(#gCl)"/>
<circle cx="1559.5" cy="319.9" r="12.2" fill="url(#gCl)"/>
<circle cx="1645.0" cy="313.0" r="12.2" fill="url(#gCl)"/>
<circle cx="1728.6" cy="308.1" r="12.2" fill="url(#gCl)"/>
<circle cx="1813.2" cy="301.2" r="12.2" fill="url(#gCl)"/>
<circle cx="1895.8" cy="297.3" r="12.2" fill="url(#gCl)"/>
<circle cx="1604.7" cy="327.8" r="12.2" fill="url(#gCl)"/>
<circle cx="1772.9" cy="316.0" r="12.2" fill="url(#gCl)"/>
<circle cx="1549.6" cy="183.2" r="12.2" fill="url(#gCl)"/>
<circle cx="1181.6" cy="390.0" r="12.2" fill="url(#gCl)"/>
<circle cx="1380.3" cy="364.4" r="12.2" fill="url(#gCl)"/>
<circle cx="1246.5" cy="475.5" r="12.2" fill="url(#gCl)"/>
<circle cx="1204.2" cy="496.2" r="12.2" fill="url(#gCl)"/>
<circle cx="1324.2" cy="478.5" r="12.2" fill="url(#gCl)"/>
<circle cx="1372.4" cy="484.4" r="12.2" fill="url(#gCl)"/>
<circle cx="1414.7" cy="463.7" r="12.2" fill="url(#gCl)"/>
<circle cx="1492.4" cy="465.7" r="12.2" fill="url(#gCl)"/>
<circle cx="1420.6" cy="510.9" r="12.2" fill="url(#gCl)"/>
<circle cx="1445.2" cy="538.5" r="12.2" fill="url(#gCl)"/>
<circle cx="1531.7" cy="542.4" r="12.2" fill="url(#gCl)"/>
<circle cx="1389.1" cy="628.0" r="12.2" fill="url(#gCl)"/>
<circle cx="1548.7" cy="355.5" r="12.2" fill="url(#gCl)"/>
<circle cx="1604.7" cy="330.0" r="12.2" fill="url(#gCl)"/>
<circle cx="1589.0" cy="500.1" r="12.2" fill="url(#gCl)"/>
<circle cx="1614.5" cy="526.7" r="12.2" fill="url(#gCl)"/>
<circle cx="1536.9" cy="542.4" r="12.2" fill="url(#gCl)"/>
<circle cx="1704.0" cy="530.6" r="12.2" fill="url(#gCl)"/>
<circle cx="1782.7" cy="515.8" r="12.2" fill="url(#gCl)"/>
<circle cx="1766.0" cy="629.9" r="12.2" fill="url(#gCl)"/>
<circle cx="1598.8" cy="640.7" r="12.2" fill="url(#gCl)"/>
<circle cx="1675.5" cy="107.5" r="12.2" fill="url(#gCl)"/>
<circle cx="1843.7" cy="96.7" r="12.2" fill="url(#gCl)"/>
<circle cx="1452.1" cy="282.6" r="12.2" fill="url(#gCl)"/>
<circle cx="1449.1" cy="303.2" r="12.2" fill="url(#gCl)"/>
<circle cx="1527.8" cy="389.0" r="12.2" fill="url(#gCl)"/>
<circle cx="1525.8" cy="411.6" r="12.2" fill="url(#gCl)"/>
<circle cx="1301.6" cy="586.7" r="12.2" fill="url(#gCl)"/>
<circle cx="1695.2" cy="396.8" r="12.2" fill="url(#gCl)"/>
<circle cx="1585.0" cy="625.0" r="12.2" fill="url(#gCl)"/>
<circle cx="1753.2" cy="614.2" r="12.2" fill="url(#gCl)"/>
<circle cx="1226.0" cy="79.6" r="12.2" fill="url(#gCl)"/>
<circle cx="1360.6" cy="401.8" r="12.2" fill="url(#gCl)"/>
<circle cx="1225.2" cy="78.1" r="36.4" fill="none" stroke="#e3242b" stroke-width="3.8" stroke-dasharray="11.5,6.8"/>
<circle cx="1358.6" cy="399.8" r="35.4" fill="none" stroke="#e3242b" stroke-width="3.8" stroke-dasharray="11.5,6.8"/>
<defs><radialGradient id="gOrig" cx="50%" cy="50%" r="55%"><stop offset="0" stop-color="#ffffff"/><stop offset="0.3" stop-color="#e4e6e6"/><stop offset="1" stop-color="#8c9292"/></radialGradient><radialGradient id="gLMn" cx="50%" cy="45%" r="55%"><stop offset="0" stop-color="#9d78b8"/><stop offset="0.6" stop-color="#6c3f8d"/><stop offset="1" stop-color="#4b2868"/></radialGradient><radialGradient id="gLCl" cx="50%" cy="40%" r="55%"><stop offset="0" stop-color="#f2b9b7"/><stop offset="0.55" stop-color="#dc7b79"/><stop offset="1" stop-color="#b75c5c"/></radialGradient><radialGradient id="gLC" cx="50%" cy="40%" r="55%"><stop offset="0" stop-color="#9a7252"/><stop offset="0.6" stop-color="#6b4528"/><stop offset="1" stop-color="#4a2c15"/></radialGradient><radialGradient id="gLN" cx="50%" cy="40%" r="55%"><stop offset="0" stop-color="#b5c0d8"/><stop offset="0.6" stop-color="#8593b3"/><stop offset="1" stop-color="#65708e"/></radialGradient><radialGradient id="gLO" cx="50%" cy="40%" r="55%"><stop offset="0" stop-color="#ff5a5a"/><stop offset="0.6" stop-color="#e0141c"/><stop offset="1" stop-color="#a30b10"/></radialGradient><radialGradient id="gLBr" cx="50%" cy="40%" r="55%"><stop offset="0" stop-color="#3d8a85"/><stop offset="0.6" stop-color="#115e5a"/><stop offset="1" stop-color="#0b403d"/></radialGradient></defs>
<rect x="132.9" y="584.0" width="6.6" height="46" fill="#4cb04f"/>
<rect x="135.4" y="584.0" width="1.4" height="44" fill="#9fd9a0" opacity="0.8"/>
<polygon points="136.2,561.5 126.6,585.5 145.8,585.5" fill="#47ad4b" stroke="#2f8f36" stroke-width="0.8"/>
<polygon points="131.2,632.8 107.2,633.8 107.2,640.2 131.2,639.2" fill="#2b52a3"/>
<polygon points="84.2,639.3 101.2,629.0 107.2,631.0 107.2,645.0 101.2,647.6" fill="#2a50a0"/>
<polygon points="141.2,632.8 167.2,633.8 167.2,640.2 141.2,639.2" fill="#c9202a"/>
<polygon points="189.8,639.3 171.2,629.5 167.2,633.0 169.2,645.0 172.2,647.6" fill="#dc2229"/>
<circle cx="136.2" cy="636.0" r="8.4" fill="url(#gOrig)"/>
<text x="132.0" y="550.7" font-size="28" text-anchor="start" font-weight="normal" fill="#231815" >b</text>
<text x="62.2" y="648.1" font-size="28.5" text-anchor="start" font-weight="normal" fill="#231815" >c</text>
<text x="200.7" y="647.2" font-size="28.5" text-anchor="start" font-weight="normal" fill="#231815" >a</text>
<rect x="1109.9" y="584.0" width="6.6" height="46" fill="#4cb04f"/>
<rect x="1112.4" y="584.0" width="1.4" height="44" fill="#9fd9a0" opacity="0.8"/>
<polygon points="1113.2,561.5 1103.6,585.5 1122.8,585.5" fill="#47ad4b" stroke="#2f8f36" stroke-width="0.8"/>
<polygon points="1108.2,632.8 1084.2,633.8 1084.2,640.2 1108.2,639.2" fill="#2b52a3"/>
<polygon points="1061.2,639.3 1078.2,629.0 1084.2,631.0 1084.2,645.0 1078.2,647.6" fill="#2a50a0"/>
<polygon points="1118.2,632.8 1144.2,633.8 1144.2,640.2 1118.2,639.2" fill="#c9202a"/>
<polygon points="1166.8,639.3 1148.2,629.5 1144.2,633.0 1146.2,645.0 1149.2,647.6" fill="#dc2229"/>
<circle cx="1113.2" cy="636.0" r="8.4" fill="url(#gOrig)"/>
<text x="1109.0" y="550.7" font-size="28" text-anchor="start" font-weight="normal" fill="#231815" >b</text>
<text x="1039.2" y="648.1" font-size="28.5" text-anchor="start" font-weight="normal" fill="#231815" >c</text>
<text x="1177.7" y="647.2" font-size="28.5" text-anchor="start" font-weight="normal" fill="#231815" >a</text>
<circle cx="550.7" cy="715.9" r="10.9" fill="url(#gLMn)" stroke="none" stroke-width="1" />
<text x="575.1" y="725.5" font-size="28.5" text-anchor="start" font-weight="normal" fill="#231815" >Mn</text>
<circle cx="663.3" cy="715.9" r="10.9" fill="url(#gLCl)" stroke="none" stroke-width="1" />
<text x="686.9" y="725.5" font-size="28.5" text-anchor="start" font-weight="normal" fill="#231815" >Cl</text>
<circle cx="775.9" cy="715.9" r="10.9" fill="url(#gLC)" stroke="none" stroke-width="1" />
<text x="799.7" y="725.5" font-size="28.5" text-anchor="start" font-weight="normal" fill="#231815" >C</text>
<circle cx="869.0" cy="715.9" r="10.9" fill="url(#gLN)" stroke="none" stroke-width="1" />
<text x="893.4" y="725.5" font-size="28.5" text-anchor="start" font-weight="normal" fill="#231815" >N</text>
<circle cx="960.1" cy="715.9" r="10.9" fill="url(#gLO)" stroke="none" stroke-width="1" />
<text x="983.5" y="725.5" font-size="28.5" text-anchor="start" font-weight="normal" fill="#231815" >O</text>
<circle cx="1072.4" cy="716.2" r="28.5" fill="none" stroke="#e3242b" stroke-width="4.6" stroke-dasharray="12.5,7"/>
<circle cx="1072.4" cy="716.2" r="10.9" fill="url(#gLBr)" stroke="none" stroke-width="1" />
<text x="1114.5" y="725.5" font-size="28.5" text-anchor="start" fill="#231815" font-weight="normal" ><tspan>Free Br</tspan><tspan dy="-11.4" font-size="20">−</tspan></text>
<circle cx="1295.0" cy="716.2" r="28.5" fill="none" stroke="#e3242b" stroke-width="4.6" stroke-dasharray="12.5,7"/>
<circle cx="1295.0" cy="716.2" r="10.8" fill="url(#gLCl)" stroke="none" stroke-width="1" />
<text x="1337.0" y="725.5" font-size="28.5" text-anchor="start" fill="#231815" font-weight="normal" ><tspan>Free Cl</tspan><tspan dy="-11.4" font-size="20">−</tspan></text>
<text x="59.0" y="717.3" font-size="29" text-anchor="start" fill="#231815" font-weight="normal" ><tspan>C</tspan><tspan dy="9.0" font-size="21">5</tspan><tspan dy="-9.0">H</tspan><tspan dy="9.0" font-size="21">11</tspan><tspan dy="-9.0">N</tspan><tspan dy="9.0" font-size="21">3</tspan><tspan dy="-9.0">(MnCl</tspan><tspan dy="9.0" font-size="21">3</tspan><tspan dy="-9.0">·H</tspan><tspan dy="9.0" font-size="21">2</tspan><tspan dy="-9.0">O)Br</tspan></text>
<text x="1944.5" y="716.5" font-size="29" text-anchor="end" fill="#231815" font-weight="normal" ><tspan>C</tspan><tspan dy="9.0" font-size="21">5</tspan><tspan dy="-9.0">H</tspan><tspan dy="9.0" font-size="21">11</tspan><tspan dy="-9.0">N</tspan><tspan dy="9.0" font-size="21">3</tspan><tspan dy="-9.0">(MnCl</tspan><tspan dy="9.0" font-size="21">3</tspan><tspan dy="-9.0">·H</tspan><tspan dy="9.0" font-size="21">2</tspan><tspan dy="-9.0">O)Cl</tspan></text>
<polyline points="54.0,932.9 54.3,932.9 54.6,932.9 54.8,932.9 55.1,933.0 55.4,933.0 55.7,933.0 55.9,933.1 56.2,933.1 56.5,933.1 56.8,933.2 57.1,933.3 57.3,933.3 57.6,933.4 57.9,933.5 58.2,933.6 58.5,933.7 58.7,933.8 59.0,933.9 59.3,934.1 59.6,934.3 59.8,934.6 60.1,935.0 60.4,935.6 60.7,936.5 61.0,938.1 61.2,940.6 61.5,944.5 61.8,950.4 62.1,958.6 62.4,969.3 62.6,981.9 62.9,995.3 63.2,1007.7 63.5,1016.7 63.7,1020.0 64.0,1016.7 64.3,1007.7 64.6,995.3 64.9,981.9 65.1,969.3 65.4,958.6 65.7,950.4 66.0,944.5 66.2,940.6 66.5,938.1 66.8,936.5 67.1,935.6 67.4,935.0 67.6,934.6 67.9,934.3 68.2,934.1 68.5,933.9 68.8,933.8 69.0,933.7 69.3,933.6 69.6,933.5 69.9,933.4 70.1,933.3 70.4,933.3 70.7,933.2 71.0,933.1 71.3,933.1 71.5,933.1 71.8,933.0 72.1,933.0 72.4,933.0 72.7,932.9 72.9,932.9 73.2,932.9 73.5,932.9 73.8,932.8 74.0,932.8 74.3,932.8 74.6,932.8 74.9,932.8 75.2,932.8 75.4,932.8 75.7,932.7 76.0,932.7 76.3,932.7 76.6,932.7 76.8,932.7 77.1,932.7 77.4,932.7 77.7,932.7 77.9,932.7 78.2,932.7 78.5,932.7 78.8,932.7 79.1,932.7 79.3,932.7 79.6,932.6 79.9,932.6 80.2,932.6 80.4,932.6 80.7,932.6 81.0,932.6 81.3,932.6 81.6,932.6 81.8,932.6 82.1,932.6 82.4,932.6 82.7,932.6 83.0,932.6 83.2,932.6 83.5,932.6 83.8,932.6 84.1,932.6 84.3,932.6 84.6,932.6 84.9,932.6 85.2,932.6 85.5,932.6 85.7,932.6 86.0,932.6 86.3,932.6 86.6,932.6 86.9,932.6 87.1,932.6 87.4,932.6 87.7,932.6 88.0,932.6 88.2,932.6 88.5,932.6 88.8,932.6 89.1,932.6 89.4,932.6 89.6,932.6 89.9,932.6 90.2,932.6 90.5,932.6 90.7,932.6 91.0,932.6 91.3,932.6 91.6,932.6 91.9,932.6 92.1,932.6 92.4,932.6 92.7,932.6 93.0,932.6 93.3,932.6 93.5,932.6 93.8,932.6 94.1,932.6 94.4,932.6 94.6,932.6 94.9,932.6 95.2,932.6 95.5,932.6 95.8,932.6 96.0,932.6 96.3,932.6 96.6,932.6 96.9,932.6 97.2,932.6 97.4,932.6 97.7,932.6 98.0,932.6 98.3,932.6 98.5,932.6 98.8,932.6 99.1,932.6 99.4,932.6 99.7,932.6 99.9,932.6 100.2,932.6 100.5,932.6 100.8,932.6 101.0,932.6 101.3,932.6 101.6,932.6 101.9,932.6 102.2,932.6 102.4,932.6 102.7,932.6 103.0,932.6 103.3,932.6 103.6,932.6 103.8,932.6 104.1,932.6 104.4,932.6 104.7,932.6 104.9,932.6 105.2,932.6 105.5,932.6 105.8,932.6 106.1,932.6 106.3,932.6 106.6,932.6 106.9,932.6 107.2,932.6 107.5,932.6 107.7,932.6 108.0,932.6 108.3,932.6 108.6,932.6 108.8,932.6 109.1,932.6 109.4,932.6 109.7,932.6 110.0,932.6 110.2,932.6 110.5,932.6 110.8,932.6 111.1,932.6 111.4,932.6 111.6,932.6 111.9,932.6 112.2,932.6 112.5,932.6 112.7,932.6 113.0,932.6 113.3,932.6 113.6,932.6 113.9,932.6 114.1,932.6 114.4,932.7 114.7,932.7 115.0,932.7 115.2,932.7 115.5,932.7 115.8,932.7 116.1,932.7 116.4,932.7 116.6,932.7 116.9,932.7 117.2,932.7 117.5,932.8 117.8,932.8 118.0,932.8 118.3,932.8 118.6,932.8 118.9,932.9 119.1,932.9 119.4,932.9 119.7,933.0 120.0,933.0 120.3,933.0 120.5,933.1 120.8,933.1 121.1,933.2 121.4,933.3 121.7,933.4 121.9,933.5 122.2,933.7 122.5,933.9 122.8,934.3 123.0,934.9 123.3,935.9 123.6,937.5 123.9,940.0 124.2,943.6 124.4,948.4 124.7,954.3 125.0,961.1 125.3,967.8 125.5,973.4 125.8,976.6 126.1,976.6 126.4,973.4 126.7,967.8 126.9,961.1 127.2,954.3 127.5,948.4 127.8,943.6 128.1,940.0 128.3,937.5 128.6,935.9 128.9,934.9 129.2,934.3 129.4,933.9 129.7,933.7 130.0,933.5 130.3,933.4 130.6,933.3 130.8,933.2 131.1,933.2 131.4,933.1 131.7,933.1 132.0,933.0 132.2,933.0 132.5,932.9 132.8,932.9 133.1,932.9 133.3,932.9 133.6,932.8 133.9,932.8 134.2,932.8 134.5,932.8 134.7,932.8 135.0,932.8 135.3,932.8 135.6,932.8 135.8,932.8 136.1,932.8 136.4,932.8 136.7,932.8 137.0,932.8 137.2,932.8 137.5,932.8 137.8,932.8 138.1,932.8 138.4,932.8 138.6,932.8 138.9,932.8 139.2,932.9 139.5,932.9 139.7,933.0 140.0,933.2 140.3,933.4 140.6,933.9 140.9,934.5 141.1,935.3 141.4,936.3 141.7,937.4 142.0,938.5 142.3,939.5 142.5,940.0 142.8,940.0 143.1,939.5 143.4,938.5 143.6,937.4 143.9,936.3 144.2,935.2 144.5,934.4 144.8,933.8 145.0,933.4 145.3,933.1 145.6,933.0 145.9,932.9 146.2,932.8 146.4,932.8 146.7,932.7 147.0,932.7 147.3,932.7 147.5,932.7 147.8,932.7 148.1,932.7 148.4,932.7 148.7,932.6 148.9,932.6 149.2,932.6 149.5,932.6 149.8,932.6 150.0,932.6 150.3,932.6 150.6,932.6 150.9,932.6 151.2,932.6 151.4,932.6 151.7,932.6 152.0,932.6 152.3,932.6 152.6,932.6 152.8,932.6 153.1,932.6 153.4,932.6 153.7,932.6 153.9,932.6 154.2,932.6 154.5,932.6 154.8,932.6 155.1,932.6 155.3,932.6 155.6,932.6 155.9,932.6 156.2,932.6 156.5,932.6 156.7,932.6 157.0,932.6 157.3,932.6 157.6,932.6 157.8,932.6 158.1,932.6 158.4,932.6 158.7,932.6 159.0,932.6 159.2,932.6 159.5,932.6 159.8,932.6 160.1,932.6 160.3,932.6 160.6,932.6 160.9,932.6 161.2,932.6 161.5,932.6 161.7,932.6 162.0,932.6 162.3,932.6 162.6,932.6 162.9,932.6 163.1,932.6 163.4,932.6 163.7,932.6 164.0,932.6 164.2,932.6 164.5,932.6 164.8,932.6 165.1,932.6 165.4,932.6 165.6,932.6 165.9,932.6 166.2,932.6 166.5,932.6 166.8,932.6 167.0,932.6 167.3,932.6 167.6,932.6 167.9,932.6 168.1,932.6 168.4,932.6 168.7,932.6 169.0,932.6 169.3,932.6 169.5,932.6 169.8,932.6 170.1,932.7 170.4,932.7 170.6,932.7 170.9,932.7 171.2,932.7 171.5,932.7 171.8,932.7 172.0,932.7 172.3,932.7 172.6,932.7 172.9,932.7 173.2,932.7 173.4,932.8 173.7,932.8 174.0,932.8 174.3,932.8 174.5,932.8 174.8,932.9 175.1,932.9 175.4,932.9 175.7,932.9 175.9,933.0 176.2,933.0 176.5,933.1 176.8,933.1 177.1,933.2 177.3,933.3 177.6,933.4 177.9,933.5 178.2,933.6 178.4,933.9 178.7,934.2 179.0,934.8 179.3,935.7 179.6,937.2 179.8,939.4 180.1,942.7 180.4,947.2 180.7,952.7 181.0,958.9 181.2,965.0 181.5,970.2 181.8,973.2 182.1,973.2 182.3,970.2 182.6,965.0 182.9,958.9 183.2,952.7 183.5,947.2 183.7,942.8 184.0,939.5 184.3,937.2 184.6,935.7 184.8,934.8 185.1,934.3 185.4,933.9 185.7,933.7 186.0,933.6 186.2,933.5 186.5,933.4 186.8,933.4 187.1,933.3 187.4,933.3 187.6,933.4 187.9,933.5 188.2,933.6 188.5,933.9 188.7,934.3 189.0,934.8 189.3,935.5 189.6,936.2 189.9,936.8 190.1,937.2 190.4,937.4 190.7,937.2 191.0,936.8 191.3,936.1 191.5,935.4 191.8,934.8 192.1,934.3 192.4,933.9 192.6,933.6 192.9,933.4 193.2,933.3 193.5,933.3 193.8,933.2 194.0,933.3 194.3,933.3 194.6,933.4 194.9,933.5 195.1,933.7 195.4,934.1 195.7,934.6 196.0,935.5 196.3,936.9 196.5,939.0 196.8,941.7 197.1,945.1 197.4,949.0 197.7,952.8 197.9,956.0 198.2,957.9 198.5,957.9 198.8,956.0 199.0,952.8 199.3,949.0 199.6,945.1 199.9,941.7 200.2,938.9 200.4,936.9 200.7,935.5 201.0,934.6 201.3,934.0 201.6,933.6 201.8,933.4 202.1,933.3 202.4,933.2 202.7,933.1 202.9,933.1 203.2,933.0 203.5,933.0 203.8,933.0 204.1,932.9 204.3,932.9 204.6,932.9 204.9,932.9 205.2,932.9 205.4,932.9 205.7,932.9 206.0,932.9 206.3,932.9 206.6,932.9 206.8,932.9 207.1,933.0 207.4,933.0 207.7,933.0 208.0,933.1 208.2,933.3 208.5,933.5 208.8,933.9 209.1,934.5 209.3,935.4 209.6,936.7 209.9,938.3 210.2,940.2 210.5,942.3 210.7,944.2 211.0,945.6 211.3,946.1 211.6,945.6 211.9,944.2 212.1,942.3 212.4,940.2 212.7,938.3 213.0,936.6 213.2,935.3 213.5,934.4 213.8,933.8 214.1,933.4 214.4,933.2 214.6,933.1 214.9,933.0 215.2,932.9 215.5,932.9 215.8,932.8 216.0,932.8 216.3,932.8 216.6,932.7 216.9,932.7 217.1,932.7 217.4,932.7 217.7,932.7 218.0,932.7 218.3,932.7 218.5,932.7 218.8,932.7 219.1,932.6 219.4,932.6 219.6,932.6 219.9,932.6 220.2,932.6 220.5,932.6 220.8,932.6 221.0,932.6 221.3,932.6 221.6,932.6 221.9,932.6 222.2,932.6 222.4,932.6 222.7,932.6 223.0,932.6 223.3,932.6 223.5,932.6 223.8,932.6 224.1,932.6 224.4,932.6 224.7,932.6 224.9,932.6 225.2,932.6 225.5,932.6 225.8,932.6 226.1,932.6 226.3,932.6 226.6,932.6 226.9,932.6 227.2,932.6 227.4,932.6 227.7,932.6 228.0,932.6 228.3,932.6 228.6,932.6 228.8,932.6 229.1,932.6 229.4,932.6 229.7,932.6 229.9,932.6 230.2,932.6 230.5,932.6 230.8,932.6 231.1,932.6 231.3,932.6 231.6,932.6 231.9,932.6 232.2,932.6 232.5,932.6 232.7,932.6 233.0,932.6 233.3,932.6 233.6,932.6 233.8,932.6 234.1,932.6 234.4,932.6 234.7,932.6 235.0,932.6 235.2,932.6 235.5,932.6 235.8,932.6 236.1,932.6 236.4,932.6 236.6,932.6 236.9,932.6 237.2,932.6 237.5,932.6 237.7,932.7 238.0,932.7 238.3,932.8 238.6,932.9 238.9,933.0 239.1,933.2 239.4,933.4 239.7,933.6 240.0,933.9 240.2,934.0 240.5,934.1 240.8,934.0 241.1,933.9 241.4,933.7 241.6,933.4 241.9,933.2 242.2,933.0 242.5,932.9 242.8,932.8 243.0,932.7 243.3,932.7 243.6,932.7 243.9,932.6 244.1,932.6 244.4,932.6 244.7,932.6 245.0,932.6 245.3,932.6 245.5,932.6 245.8,932.6 246.1,932.6 246.4,932.6 246.7,932.6 246.9,932.6 247.2,932.6 247.5,932.6 247.8,932.6 248.0,932.7 248.3,932.7 248.6,932.7 248.9,932.7 249.2,932.7 249.4,932.7 249.7,932.7 250.0,932.7 250.3,932.7 250.6,932.7 250.8,932.7 251.1,932.7 251.4,932.7 251.7,932.8 251.9,932.8 252.2,932.8 252.5,932.8 252.8,932.8 253.1,932.9 253.3,932.9 253.6,932.9 253.9,932.9 254.2,933.0 254.4,933.0 254.7,933.1 255.0,933.1 255.3,933.2 255.6,933.3 255.8,933.4 256.1,933.5 256.4,933.7 256.7,934.0 257.0,934.4 257.2,935.1 257.5,936.3 257.8,938.2 258.1,940.9 258.3,944.8 258.6,949.8 258.9,955.7 259.2,962.0 259.5,967.8 259.7,972.0 260.0,973.5 260.3,972.0 260.6,967.8 260.9,962.0 261.1,955.7 261.4,949.8 261.7,944.8 262.0,940.9 262.2,938.2 262.5,936.3 262.8,935.2 263.1,934.4 263.4,934.0 263.6,933.7 263.9,933.5 264.2,933.4 264.5,933.3 264.7,933.2 265.0,933.2 265.3,933.1 265.6,933.1 265.9,933.0 266.1,933.0 266.4,933.0 266.7,932.9 267.0,932.9 267.3,932.9 267.5,932.9 267.8,932.9 268.1,932.9 268.4,932.8 268.6,932.8 268.9,932.9 269.2,932.9 269.5,932.9 269.8,933.0 270.0,933.1 270.3,933.2 270.6,933.5 270.9,933.9 271.2,934.4 271.4,934.9 271.7,935.5 272.0,936.1 272.3,936.5 272.5,936.6 272.8,936.5 273.1,936.1 273.4,935.5 273.7,934.9 273.9,934.3 274.2,933.8 274.5,933.4 274.8,933.2 275.0,933.0 275.3,932.9 275.6,932.8 275.9,932.8 276.2,932.7 276.4,932.7 276.7,932.7 277.0,932.7 277.3,932.7 277.6,932.7 277.8,932.7 278.1,932.7 278.4,932.7 278.7,932.7 278.9,932.7 279.2,932.6 279.5,932.6 279.8,932.6 280.1,932.6 280.3,932.6 280.6,932.6 280.9,932.6 281.2,932.6 281.5,932.6 281.7,932.6 282.0,932.6 282.3,932.6 282.6,932.6 282.8,932.7 283.1,932.7 283.4,932.7 283.7,932.7 284.0,932.7 284.2,932.7 284.5,932.7 284.8,932.7 285.1,932.7 285.4,932.7 285.6,932.7 285.9,932.7 286.2,932.7 286.5,932.7 286.7,932.7 287.0,932.7 287.3,932.8 287.6,932.8 287.9,932.8 288.1,932.8 288.4,932.8 288.7,932.9 289.0,932.9 289.2,932.9 289.5,933.0 289.8,933.0 290.1,933.1 290.4,933.2 290.6,933.3 290.9,933.5 291.2,933.8 291.5,934.4 291.8,935.2 292.0,936.5 292.3,938.4 292.6,940.9 292.9,944.1 293.1,947.6 293.4,951.2 293.7,954.1 294.0,955.9 294.3,955.9 294.5,954.1 294.8,951.2 295.1,947.7 295.4,944.1 295.7,941.0 295.9,938.4 296.2,936.5 296.5,935.2 296.8,934.4 297.0,933.9 297.3,933.5 297.6,933.4 297.9,933.2 298.2,933.1 298.4,933.1 298.7,933.0 299.0,933.0 299.3,933.0 299.5,932.9 299.8,932.9 300.1,932.9 300.4,932.9 300.7,932.9 300.9,932.9 301.2,932.8 301.5,932.8 301.8,932.8 302.1,932.8 302.3,932.8 302.6,932.8 302.9,932.9 303.2,932.9 303.4,932.9 303.7,932.9 304.0,932.9 304.3,932.9 304.6,932.9 304.8,933.0 305.1,933.0 305.4,933.0 305.7,933.1 306.0,933.2 306.2,933.3 306.5,933.4 306.8,933.7 307.1,934.1 307.3,934.8 307.6,935.9 307.9,937.4 308.2,939.5 308.5,942.1 308.7,945.0 309.0,947.9 309.3,950.3 309.6,951.7 309.8,951.7 310.1,950.3 310.4,947.9 310.7,945.0 311.0,942.2 311.2,939.6 311.5,937.5 311.8,936.0 312.1,934.9 312.4,934.3 312.6,933.9 312.9,933.6 313.2,933.5 313.5,933.4 313.7,933.4 314.0,933.4 314.3,933.4 314.6,933.4 314.9,933.5 315.1,933.6 315.4,933.8 315.7,934.1 316.0,934.6 316.3,935.4 316.5,936.5 316.8,938.2 317.1,940.4 317.4,942.9 317.6,945.7 317.9,948.3 318.2,950.2 318.5,951.1 318.8,950.9 319.0,949.8 319.3,948.4 319.6,947.1 319.9,946.5 320.2,946.6 320.4,947.3 320.7,948.3 321.0,949.1 321.3,949.2 321.5,948.3 321.8,946.6 322.1,944.2 322.4,941.8 322.7,939.5 322.9,937.6 323.2,936.1 323.5,935.0 323.8,934.3 324.0,933.8 324.3,933.5 324.6,933.3 324.9,933.2 325.2,933.1 325.4,933.1 325.7,933.0 326.0,933.0 326.3,933.0 326.6,932.9 326.8,932.9 327.1,932.9 327.4,932.9 327.7,932.9 327.9,932.8 328.2,932.8 328.5,932.8 328.8,932.8 329.1,932.8 329.3,932.8 329.6,932.8 329.9,932.8 330.2,932.8 330.5,932.8 330.7,932.8 331.0,932.8 331.3,932.8 331.6,932.8 331.8,932.8 332.1,932.9 332.4,932.9 332.7,932.9 333.0,932.9 333.2,933.0 333.5,933.0 333.8,933.1 334.1,933.3 334.3,933.6 334.6,934.0 334.9,934.7 335.2,935.6 335.5,936.9 335.7,938.5 336.0,940.4 336.3,942.2 336.6,943.7 336.9,944.6 337.1,944.6 337.4,943.7 337.7,942.2 338.0,940.4 338.2,938.6 338.5,937.0 338.8,935.7 339.1,934.7 339.4,934.1 339.6,933.7 339.9,933.4 340.2,933.2 340.5,933.2 340.8,933.1 341.0,933.1 341.3,933.1 341.6,933.1 341.9,933.1 342.1,933.2 342.4,933.3 342.7,933.4 343.0,933.7 343.3,934.1 343.5,934.8 343.8,935.8 344.1,937.2 344.4,938.9 344.6,940.7 344.9,942.6 345.2,944.2 345.5,945.1 345.8,945.1 346.0,944.2 346.3,942.6 346.6,940.8 346.9,938.9 347.2,937.2 347.4,935.9 347.7,934.9 348.0,934.2 348.3,933.8 348.5,933.5 348.8,933.4 349.1,933.3 349.4,933.3 349.7,933.3 349.9,933.3 350.2,933.4 350.5,933.5 350.8,933.7 351.1,934.1 351.3,934.7 351.6,935.6 351.9,937.0 352.2,938.8 352.4,941.1 352.7,943.7 353.0,946.2 353.3,948.4 353.6,949.6 353.8,949.6 354.1,948.4 354.4,946.2 354.7,943.7 355.0,941.1 355.2,938.8 355.5,936.9 355.8,935.6 356.1,934.6 356.3,934.0 356.6,933.6 356.9,933.4 357.2,933.3 357.5,933.2 357.7,933.2 358.0,933.1 358.3,933.1 358.6,933.1 358.8,933.1 359.1,933.1 359.4,933.1 359.7,933.1 360.0,933.1 360.2,933.2 360.5,933.2 360.8,933.3 361.1,933.5 361.4,933.7 361.6,934.2 361.9,934.8 362.2,935.9 362.5,937.4 362.7,939.5 363.0,942.1 363.3,945.0 363.6,947.9 363.9,950.3 364.1,951.7 364.4,951.7 364.7,950.3 365.0,947.9 365.3,945.0 365.5,942.1 365.8,939.5 366.1,937.4 366.4,935.9 366.6,934.8 366.9,934.1 367.2,933.7 367.5,933.5 367.8,933.3 368.0,933.2 368.3,933.2 368.6,933.1 368.9,933.1 369.1,933.1 369.4,933.1 369.7,933.0 370.0,933.1 370.3,933.1 370.5,933.1 370.8,933.1 371.1,933.2 371.4,933.3 371.7,933.4 371.9,933.7 372.2,934.1 372.5,934.8 372.8,935.8 373.0,937.3 373.3,939.2 373.6,941.4 373.9,943.8 374.2,946.0 374.4,947.6 374.7,948.1 375.0,947.5 375.3,946.0 375.6,943.8 375.8,941.4 376.1,939.1 376.4,937.2 376.7,935.8 376.9,934.7 377.2,934.0 377.5,933.6 377.8,933.3 378.1,933.2 378.3,933.1 378.6,933.0 378.9,932.9 379.2,932.9 379.4,932.9 379.7,932.8 380.0,932.8 380.3,932.8 380.6,932.8 380.8,932.8 381.1,932.8 381.4,932.7 381.7,932.7 382.0,932.7 382.2,932.7 382.5,932.7 382.8,932.7 383.1,932.7 383.3,932.7 383.6,932.7 383.9,932.7 384.2,932.7 384.5,932.7 384.7,932.7 385.0,932.7 385.3,932.7 385.6,932.7 385.9,932.7 386.1,932.7 386.4,932.7 386.7,932.7 387.0,932.7 387.2,932.7 387.5,932.7 387.8,932.7 388.1,932.7 388.4,932.7 388.6,932.7 388.9,932.7 389.2,932.7 389.5,932.7 389.8,932.7 390.0,932.7 390.3,932.7 390.6,932.8 390.9,932.8 391.1,932.8 391.4,932.8 391.7,932.8 392.0,932.8 392.3,932.8 392.5,932.9 392.8,932.9 393.1,932.9 393.4,932.9 393.6,933.0 393.9,933.0 394.2,933.1 394.5,933.1 394.8,933.2 395.0,933.3 395.3,933.4 395.6,933.5 395.9,933.7 396.2,934.1 396.4,934.6 396.7,935.5 397.0,936.9 397.3,939.0 397.5,941.9 397.8,945.6 398.1,950.1 398.4,954.8 398.7,959.2 398.9,962.4 399.2,963.6 399.5,962.4 399.8,959.3 400.1,955.0 400.3,950.3 400.6,945.9 400.9,942.2 401.2,939.5 401.4,937.6 401.7,936.6 402.0,936.3 402.3,936.6 402.6,937.5 402.8,939.0 403.1,940.9 403.4,943.1 403.7,945.4 403.9,947.3 404.2,948.4 404.5,948.3 404.8,947.2 405.1,945.2 405.3,942.8 405.6,940.5 405.9,938.4 406.2,936.7 406.5,935.4 406.7,934.5 407.0,934.0 407.3,933.6 407.6,933.4 407.8,933.2 408.1,933.1 408.4,933.1 408.7,933.0 409.0,933.0 409.2,933.0 409.5,932.9 409.8,932.9 410.1,932.9 410.4,932.9 410.6,932.9 410.9,932.9 411.2,932.9 411.5,932.9 411.7,932.9 412.0,932.9 412.3,932.9 412.6,932.9 412.9,932.9 413.1,932.9 413.4,932.9 413.7,932.9 414.0,933.0 414.2,933.0 414.5,933.0 414.8,933.1 415.1,933.2 415.4,933.4 415.6,933.7 415.9,934.1 416.2,934.9 416.5,936.0 416.8,937.5 417.0,939.5 417.3,941.8 417.6,944.3 417.9,946.6 418.1,948.3 418.4,948.9 418.7,948.3 419.0,946.6 419.3,944.3 419.5,941.8 419.8,939.5 420.1,937.5 420.4,935.9 420.7,934.8 420.9,934.1 421.2,933.6 421.5,933.3 421.8,933.2 422.0,933.1 422.3,933.0 422.6,932.9 422.9,932.9 423.2,932.9 423.4,932.8 423.7,932.8 424.0,932.8 424.3,932.8 424.6,932.8 424.8,932.8 425.1,932.8 425.4,932.8 425.7,932.7 425.9,932.7 426.2,932.7 426.5,932.7 426.8,932.7 427.1,932.7 427.3,932.8 427.6,932.8 427.9,932.8 428.2,932.8 428.4,932.8 428.7,932.8 429.0,932.9 429.3,932.9 429.6,933.0 429.8,933.1 430.1,933.4 430.4,933.8 430.7,934.3 431.0,935.1 431.2,936.1 431.5,937.4 431.8,938.6 432.1,939.8 432.3,940.7 432.6,941.0 432.9,940.7 433.2,939.8 433.5,938.6 433.7,937.4 434.0,936.1 434.3,935.1 434.6,934.3 434.9,933.8 435.1,933.4 435.4,933.2 435.7,933.0 436.0,932.9 436.2,932.9 436.5,932.9 436.8,932.8 437.1,932.8 437.4,932.8 437.6,932.8 437.9,932.8 438.2,932.8 438.5,932.8 438.7,932.8 439.0,932.8 439.3,932.9 439.6,932.9 439.9,932.9 440.1,932.9 440.4,933.0 440.7,933.1 441.0,933.2 441.3,933.4 441.5,933.7 441.8,934.3 442.1,935.1 442.4,936.3 442.6,937.9 442.9,939.9 443.2,942.1 443.5,944.4 443.8,946.2 444.0,947.3 444.3,947.3 444.6,946.2 444.9,944.4 445.2,942.1 445.4,939.9 445.7,937.9 446.0,936.3 446.3,935.1 446.5,934.2 446.8,933.7 447.1,933.4 447.4,933.2 447.7,933.1 447.9,933.0 448.2,932.9 448.5,932.9 448.8,932.8 449.0,932.8 449.3,932.8 449.6,932.8 449.9,932.8 450.2,932.8 450.4,932.8 450.7,932.8 451.0,932.8 451.3,932.8 451.6,932.8 451.8,932.8 452.1,932.9 452.4,933.0 452.7,933.2 452.9,933.5 453.2,934.0 453.5,934.5 453.8,935.1 454.1,935.8 454.3,936.5 454.6,936.9 454.9,937.1 455.2,936.9 455.5,936.5 455.7,935.8 456.0,935.1 456.3,934.5 456.6,933.9 456.8,933.5 457.1,933.2 457.4,933.0 457.7,932.9 458.0,932.8 458.2,932.7 458.5,932.7 458.8,932.7 459.1,932.7 459.4,932.7 459.6,932.6 459.9,932.6 460.2,932.6 460.5,932.6 460.7,932.6 461.0,932.6 461.3,932.6 461.6,932.6 461.9,932.6 462.1,932.6 462.4,932.6 462.7,932.6 463.0,932.6 463.2,932.6 463.5,932.6 463.8,932.6 464.1,932.6 464.4,932.6 464.6,932.6 464.9,932.6 465.2,932.6 465.5,932.6 465.8,932.6 466.0,932.6 466.3,932.6 466.6,932.6 466.9,932.6 467.1,932.6 467.4,932.7 467.7,932.7 468.0,932.7 468.3,932.7 468.5,932.7 468.8,932.7 469.1,932.8 469.4,932.9 469.7,933.0 469.9,933.2 470.2,933.5 470.5,934.0 470.8,934.6 471.0,935.4 471.3,936.4 471.6,937.5 471.9,938.5 472.2,939.2 472.4,939.4 472.7,939.2 473.0,938.5 473.3,937.5 473.5,936.4 473.8,935.4 474.1,934.6 474.4,934.0 474.7,933.5 474.9,933.2 475.2,933.0 475.5,932.9 475.8,932.8 476.1,932.7 476.3,932.7 476.6,932.7 476.9,932.7 477.2,932.7 477.4,932.7 477.7,932.6 478.0,932.6 478.3,932.6 478.6,932.6 478.8,932.6 479.1,932.6 479.4,932.6 479.7,932.6 480.0,932.6 480.2,932.6 480.5,932.6 480.8,932.6 481.1,932.6 481.3,932.6 481.6,932.6 481.9,932.6 482.2,932.6 482.5,932.6 482.7,932.6 483.0,932.6 483.3,932.6 483.6,932.6 483.8,932.6 484.1,932.6 484.4,932.6 484.7,932.6 485.0,932.6 485.2,932.6 485.5,932.6 485.8,932.6 486.1,932.7 486.4,932.7 486.6,932.7 486.9,932.7 487.2,932.7 487.5,932.7 487.7,932.8 488.0,932.8 488.3,932.9 488.6,932.9 488.9,933.1 489.1,933.3 489.4,933.6 489.7,934.2 490.0,935.0 490.3,936.0 490.5,937.3 490.8,938.8 491.1,940.3 491.4,941.5 491.6,942.3 491.9,942.3 492.2,941.5 492.5,940.3 492.8,938.8 493.0,937.4 493.3,936.0 493.6,935.0 493.9,934.2 494.2,933.7 494.4,933.3 494.7,933.1 495.0,933.0 495.3,932.9 495.5,932.8 495.8,932.8 496.1,932.8 496.4,932.7 496.7,932.7 496.9,932.7 497.2,932.7 497.5,932.7 497.8,932.7 498.0,932.7 498.3,932.7 498.6,932.7 498.9,932.7 499.2,932.7 499.4,932.7 499.7,932.7 500.0,932.7 500.3,932.7 500.6,932.7 500.8,932.7 501.1,932.7 501.4,932.7 501.7,932.7 501.9,932.7 502.2,932.7 502.5,932.7 502.8,932.7 503.1,932.7 503.3,932.7 503.6,932.8 503.9,932.8 504.2,932.8 504.5,932.8 504.7,932.8 505.0,932.9 505.3,932.9 505.6,933.0 505.8,933.0 506.1,933.1 506.4,933.2 506.7,933.3 507.0,933.6 507.2,934.0 507.5,934.6 507.8,935.7 508.1,937.2 508.3,939.4 508.6,942.2 508.9,945.4 509.2,949.0 509.5,952.2 509.7,954.6 510.0,955.4 510.3,954.6 510.6,952.2 510.9,949.0 511.1,945.4 511.4,942.1 511.7,939.4 512.0,937.2 512.2,935.7 512.5,934.6 512.8,934.0 513.1,933.6 513.4,933.3 513.6,933.2 513.9,933.1 514.2,933.0 514.5,932.9 514.8,932.9 515.0,932.9 515.3,932.8 515.6,932.8 515.9,932.8 516.1,932.8 516.4,932.7 516.7,932.7 517.0,932.7 517.3,932.7 517.5,932.7 517.8,932.7 518.1,932.7 518.4,932.6 518.6,932.6 518.9,932.6 519.2,932.6 519.5,932.6 519.8,932.6 520.0,932.6 520.3,932.6 520.6,932.6 520.9,932.6 521.2,932.6 521.4,932.6 521.7,932.6 522.0,932.6 522.3,932.6 522.5,932.6 522.8,932.6 523.1,932.6 523.4,932.6 523.7,932.6 523.9,932.6 524.2,932.6 524.5,932.6 524.8,932.6 525.1,932.6 525.3,932.6 525.6,932.6 525.9,932.6 526.2,932.6 526.4,932.6 526.7,932.6 527.0,932.6 527.3,932.6 527.6,932.6 527.8,932.6 528.1,932.6 528.4,932.6 528.7,932.6 529.0,932.6 529.2,932.6 529.5,932.6 529.8,932.6 530.1,932.6 530.3,932.6 530.6,932.6 530.9,932.6 531.2,932.6 531.5,932.6 531.7,932.6 532.0,932.6 532.3,932.6 532.6,932.6 532.8,932.6 533.1,932.6 533.4,932.6 533.7,932.6 534.0,932.6 534.2,932.6 534.5,932.6 534.8,932.6 535.1,932.6 535.4,932.6 535.6,932.6 535.9,932.6 536.2,932.6 536.5,932.6 536.7,932.6 537.0,932.6 537.3,932.6 537.6,932.6 537.9,932.7 538.1,932.7 538.4,932.7 538.7,932.8 539.0,932.9 539.3,933.0 539.5,933.2 539.8,933.6 540.1,934.1 540.4,934.7 540.6,935.6 540.9,936.5 541.2,937.4 541.5,938.2 541.8,938.7 542.0,938.7 542.3,938.2 542.6,937.4 542.9,936.5 543.1,935.6 543.4,934.7 543.7,934.1 544.0,933.6 544.3,933.2 544.5,933.0 544.8,932.9 545.1,932.8 545.4,932.7 545.7,932.7 545.9,932.7 546.2,932.7 546.5,932.6 546.8,932.6 547.0,932.6 547.3,932.6 547.6,932.6 547.9,932.6 548.2,932.6 548.4,932.6 548.7,932.6 549.0,932.6 549.3,932.6 549.6,932.6 549.8,932.6 550.1,932.6 550.4,932.6 550.7,932.6 550.9,932.6 551.2,932.6 551.5,932.6 551.8,932.6 552.1,932.6 552.3,932.6 552.6,932.6 552.9,932.6 553.2,932.6 553.4,932.6 553.7,932.6 554.0,932.6 554.3,932.6 554.6,932.6 554.8,932.6 555.1,932.6 555.4,932.6 555.7,932.6 556.0,932.6 556.2,932.6 556.5,932.6 556.8,932.6 557.1,932.6 557.3,932.6 557.6,932.6 557.9,932.6 558.2,932.6 558.5,932.6 558.7,932.6 559.0,932.6 559.3,932.6 559.6,932.6 559.9,932.6 560.1,932.6 560.4,932.6 560.7,932.6 561.0,932.6 561.2,932.6 561.5,932.6 561.8,932.7 562.1,932.7 562.4,932.7 562.6,932.7 562.9,932.7 563.2,932.7 563.5,932.7 563.8,932.8 564.0,932.8 564.3,932.8 564.6,932.9 564.9,932.9 565.1,933.0 565.4,933.1 565.7,933.3 566.0,933.6 566.3,934.0 566.5,934.8 566.8,935.9 567.1,937.4 567.4,939.4 567.6,941.7 567.9,944.2 568.2,946.5 568.5,948.2 568.8,948.8 569.0,948.2 569.3,946.5 569.6,944.2 569.9,941.7 570.2,939.4 570.4,937.4 570.7,935.9 571.0,934.8 571.3,934.0 571.5,933.6 571.8,933.3 572.1,933.1 572.4,933.0 572.7,933.0 572.9,932.9 573.2,932.9 573.5,932.8 573.8,932.8 574.1,932.8 574.3,932.8 574.6,932.8 574.9,932.8 575.2,932.8 575.4,932.8 575.7,932.8 576.0,932.8 576.3,932.8 576.6,932.8 576.8,932.8 577.1,932.9 577.4,933.0 577.7,933.2 577.9,933.4 578.2,933.9 578.5,934.4 578.8,935.2 579.1,936.1 579.3,937.0 579.6,937.9 579.9,938.5 580.2,938.8 580.5,938.5 580.7,937.9 581.0,937.0 581.3,936.1 581.6,935.2 581.8,934.4 582.1,933.8 582.4,933.4 582.7,933.1 583.0,933.0 583.2,932.9 583.5,932.8 583.8,932.8 584.1,932.7 584.4,932.7 584.6,932.7 584.9,932.7 585.2,932.7 585.5,932.7 585.7,932.7 586.0,932.7 586.3,932.7 586.6,932.7 586.9,932.8 587.1,932.8 587.4,932.9 587.7,933.1 588.0,933.3 588.2,933.6 588.5,934.0 588.8,934.5 589.1,935.1 589.4,935.6 589.6,935.9 589.9,936.1 590.2,935.9 590.5,935.6 590.8,935.1 591.0,934.5 591.3,934.0 591.6,933.6 591.9,933.3 592.1,933.0 592.4,932.9 592.7,932.8 593.0,932.7 593.3,932.7 593.5,932.7 593.8,932.7 594.1,932.7 594.4,932.6 594.7,932.6 594.9,932.6 595.2,932.6 595.5,932.6 595.8,932.7 596.0,932.7 596.3,932.7 596.6,932.7 596.9,932.8 597.2,932.9 597.4,933.0 597.7,933.3 598.0,933.6 598.3,934.0 598.6,934.5 598.8,935.1 599.1,935.6 599.4,935.9 599.7,936.1 599.9,935.9 600.2,935.6 600.5,935.1 600.8,934.5 601.1,934.1 601.3,933.6 601.6,933.3 601.9,933.1 602.2,933.0 602.4,932.9 602.7,932.9 603.0,933.0 603.3,933.1 603.6,933.4 603.8,933.6 604.1,934.0 604.4,934.4 604.7,934.7 605.0,935.0 605.2,935.1 605.5,935.0 605.8,934.7 606.1,934.3 606.3,934.0 606.6,933.6 606.9,933.3 607.2,933.1 607.5,932.9 607.7,932.8 608.0,932.7 608.3,932.6 608.6,932.6 608.9,932.6 609.1,932.6 609.4,932.6 609.7,932.6 610.0,932.6 610.2,932.6 610.5,932.6 610.8,932.6" stroke="#50585a" stroke-width="3" fill="none" stroke-linejoin="round" stroke-linecap="round" />
<polyline points="54.0,1100.3 54.3,1100.4 54.6,1100.4 54.8,1100.5 55.1,1100.5 55.4,1100.6 55.7,1100.7 55.9,1100.8 56.2,1100.9 56.5,1101.0 56.8,1101.2 57.1,1101.3 57.3,1101.6 57.6,1101.8 57.9,1102.2 58.2,1102.8 58.5,1103.8 58.7,1105.3 59.0,1107.8 59.3,1111.8 59.6,1117.8 59.8,1126.1 60.1,1136.8 60.4,1149.5 60.7,1163.1 61.0,1175.6 61.2,1184.7 61.5,1188.0 61.8,1184.7 62.1,1175.6 62.4,1163.1 62.6,1149.5 62.9,1136.8 63.2,1126.1 63.5,1117.8 63.7,1111.8 64.0,1107.8 64.3,1105.3 64.6,1103.8 64.9,1102.8 65.1,1102.2 65.4,1101.8 65.7,1101.6 66.0,1101.3 66.2,1101.2 66.5,1101.0 66.8,1100.9 67.1,1100.8 67.4,1100.7 67.6,1100.6 67.9,1100.5 68.2,1100.5 68.5,1100.4 68.8,1100.4 69.0,1100.3 69.3,1100.3 69.6,1100.2 69.9,1100.2 70.1,1100.2 70.4,1100.1 70.7,1100.1 71.0,1100.1 71.3,1100.1 71.5,1100.1 71.8,1100.0 72.1,1100.0 72.4,1100.0 72.7,1100.0 72.9,1100.0 73.2,1100.0 73.5,1100.0 73.8,1099.9 74.0,1099.9 74.3,1099.9 74.6,1099.9 74.9,1099.9 75.2,1099.9 75.4,1099.9 75.7,1099.9 76.0,1099.9 76.3,1099.9 76.6,1099.9 76.8,1099.9 77.1,1099.9 77.4,1099.9 77.7,1099.8 77.9,1099.8 78.2,1099.8 78.5,1099.8 78.8,1099.8 79.1,1099.8 79.3,1099.8 79.6,1099.8 79.9,1099.8 80.2,1099.8 80.4,1099.8 80.7,1099.8 81.0,1099.8 81.3,1099.8 81.6,1099.8 81.8,1099.8 82.1,1099.8 82.4,1099.8 82.7,1099.8 83.0,1099.8 83.2,1099.8 83.5,1099.8 83.8,1099.8 84.1,1099.8 84.3,1099.8 84.6,1099.8 84.9,1099.8 85.2,1099.8 85.5,1099.8 85.7,1099.8 86.0,1099.8 86.3,1099.8 86.6,1099.8 86.9,1099.8 87.1,1099.8 87.4,1099.8 87.7,1099.8 88.0,1099.8 88.2,1099.8 88.5,1099.8 88.8,1099.8 89.1,1099.8 89.4,1099.8 89.6,1099.8 89.9,1099.8 90.2,1099.8 90.5,1099.8 90.7,1099.8 91.0,1099.8 91.3,1099.8 91.6,1099.8 91.9,1099.8 92.1,1099.8 92.4,1099.8 92.7,1099.8 93.0,1099.8 93.3,1099.8 93.5,1099.8 93.8,1099.8 94.1,1099.8 94.4,1099.8 94.6,1099.8 94.9,1099.8 95.2,1099.8 95.5,1099.8 95.8,1099.8 96.0,1099.8 96.3,1099.8 96.6,1099.8 96.9,1099.8 97.2,1099.8 97.4,1099.8 97.7,1099.8 98.0,1099.8 98.3,1099.8 98.5,1099.8 98.8,1099.8 99.1,1099.8 99.4,1099.8 99.7,1099.8 99.9,1099.8 100.2,1099.8 100.5,1099.8 100.8,1099.8 101.0,1099.8 101.3,1099.8 101.6,1099.8 101.9,1099.8 102.2,1099.8 102.4,1099.8 102.7,1099.8 103.0,1099.8 103.3,1099.8 103.6,1099.8 103.8,1099.8 104.1,1099.8 104.4,1099.8 104.7,1099.8 104.9,1099.8 105.2,1099.8 105.5,1099.8 105.8,1099.8 106.1,1099.8 106.3,1099.8 106.6,1099.8 106.9,1099.8 107.2,1099.8 107.5,1099.8 107.7,1099.8 108.0,1099.8 108.3,1099.8 108.6,1099.8 108.8,1099.8 109.1,1099.8 109.4,1099.8 109.7,1099.8 110.0,1099.8 110.2,1099.8 110.5,1099.8 110.8,1099.8 111.1,1099.8 111.4,1099.8 111.6,1099.8 111.9,1099.8 112.2,1099.8 112.5,1099.9 112.7,1099.9 113.0,1099.9 113.3,1099.9 113.6,1099.9 113.9,1099.9 114.1,1099.9 114.4,1099.9 114.7,1099.9 115.0,1099.9 115.2,1100.0 115.5,1100.0 115.8,1100.0 116.1,1100.0 116.4,1100.0 116.6,1100.1 116.9,1100.1 117.2,1100.1 117.5,1100.2 117.8,1100.2 118.0,1100.3 118.3,1100.3 118.6,1100.4 118.9,1100.5 119.1,1100.7 119.4,1100.9 119.7,1101.2 120.0,1101.8 120.3,1102.7 120.5,1104.2 120.8,1106.4 121.1,1109.5 121.4,1113.4 121.7,1118.1 121.9,1123.1 122.2,1127.8 122.5,1131.1 122.8,1132.3 123.0,1131.1 123.3,1127.8 123.6,1123.1 123.9,1118.1 124.2,1113.4 124.4,1109.5 124.7,1106.4 125.0,1104.2 125.3,1102.7 125.5,1101.8 125.8,1101.2 126.1,1100.9 126.4,1100.7 126.7,1100.5 126.9,1100.4 127.2,1100.3 127.5,1100.3 127.8,1100.2 128.1,1100.2 128.3,1100.1 128.6,1100.1 128.9,1100.1 129.2,1100.0 129.4,1100.0 129.7,1100.0 130.0,1100.0 130.3,1100.0 130.6,1100.0 130.8,1099.9 131.1,1099.9 131.4,1099.9 131.7,1099.9 132.0,1099.9 132.2,1099.9 132.5,1099.9 132.8,1099.9 133.1,1099.9 133.3,1099.9 133.6,1099.9 133.9,1099.9 134.2,1099.9 134.5,1099.9 134.7,1099.9 135.0,1099.9 135.3,1099.9 135.6,1099.9 135.8,1099.9 136.1,1099.9 136.4,1099.9 136.7,1099.9 137.0,1099.9 137.2,1099.9 137.5,1099.9 137.8,1099.9 138.1,1100.0 138.4,1100.1 138.6,1100.2 138.9,1100.4 139.2,1100.7 139.5,1101.0 139.7,1101.4 140.0,1101.9 140.3,1102.3 140.6,1102.6 140.9,1102.7 141.1,1102.6 141.4,1102.3 141.7,1101.9 142.0,1101.4 142.3,1101.0 142.5,1100.6 142.8,1100.4 143.1,1100.2 143.4,1100.1 143.6,1100.0 143.9,1099.9 144.2,1099.9 144.5,1099.9 144.8,1099.9 145.0,1099.8 145.3,1099.8 145.6,1099.8 145.9,1099.8 146.2,1099.8 146.4,1099.8 146.7,1099.8 147.0,1099.8 147.3,1099.8 147.5,1099.8 147.8,1099.8 148.1,1099.8 148.4,1099.8 148.7,1099.8 148.9,1099.8 149.2,1099.8 149.5,1099.8 149.8,1099.8 150.0,1099.8 150.3,1099.8 150.6,1099.8 150.9,1099.8 151.2,1099.8 151.4,1099.8 151.7,1099.8 152.0,1099.8 152.3,1099.8 152.6,1099.8 152.8,1099.8 153.1,1099.8 153.4,1099.8 153.7,1099.8 153.9,1099.8 154.2,1099.8 154.5,1099.8 154.8,1099.8 155.1,1099.8 155.3,1099.8 155.6,1099.8 155.9,1099.8 156.2,1099.8 156.5,1099.8 156.7,1099.8 157.0,1099.8 157.3,1099.8 157.6,1099.8 157.8,1099.8 158.1,1099.8 158.4,1099.8 158.7,1099.8 159.0,1099.8 159.2,1099.8 159.5,1099.8 159.8,1099.8 160.1,1099.9 160.3,1099.9 160.6,1099.9 160.9,1099.9 161.2,1099.9 161.5,1099.9 161.7,1099.9 162.0,1099.9 162.3,1099.9 162.6,1099.9 162.9,1099.9 163.1,1099.9 163.4,1099.9 163.7,1099.9 164.0,1099.9 164.2,1099.9 164.5,1099.9 164.8,1099.9 165.1,1099.9 165.4,1100.0 165.6,1100.0 165.9,1100.0 166.2,1100.0 166.5,1100.0 166.8,1100.0 167.0,1100.0 167.3,1100.0 167.6,1100.0 167.9,1100.1 168.1,1100.1 168.4,1100.1 168.7,1100.1 169.0,1100.1 169.3,1100.2 169.5,1100.2 169.8,1100.2 170.1,1100.2 170.4,1100.3 170.6,1100.3 170.9,1100.4 171.2,1100.4 171.5,1100.5 171.8,1100.5 172.0,1100.6 172.3,1100.7 172.6,1100.7 172.9,1100.8 173.2,1101.0 173.4,1101.1 173.7,1101.2 174.0,1101.4 174.3,1101.7 174.5,1102.0 174.8,1102.4 175.1,1103.1 175.4,1104.3 175.7,1106.1 175.9,1109.2 176.2,1113.8 176.5,1120.5 176.8,1129.5 177.1,1140.6 177.3,1153.2 177.6,1165.8 177.9,1176.3 178.2,1182.3 178.4,1182.3 178.7,1176.3 179.0,1165.8 179.3,1153.3 179.6,1140.7 179.8,1129.6 180.1,1120.6 180.4,1113.9 180.7,1109.3 181.0,1106.3 181.2,1104.4 181.5,1103.3 181.8,1102.7 182.1,1102.3 182.3,1102.1 182.6,1102.0 182.9,1102.1 183.2,1102.3 183.5,1102.8 183.7,1103.4 184.0,1104.1 184.3,1104.9 184.6,1105.7 184.8,1106.2 185.1,1106.4 185.4,1106.1 185.7,1105.5 186.0,1104.6 186.2,1103.7 186.5,1102.9 186.8,1102.2 187.1,1101.6 187.4,1101.2 187.6,1100.9 187.9,1100.8 188.2,1100.7 188.5,1100.6 188.7,1100.6 189.0,1100.6 189.3,1100.6 189.6,1100.7 189.9,1100.7 190.1,1100.8 190.4,1100.8 190.7,1101.0 191.0,1101.2 191.3,1101.6 191.5,1102.2 191.8,1103.2 192.1,1104.7 192.4,1106.9 192.6,1109.8 192.9,1113.5 193.2,1117.7 193.5,1121.8 193.8,1125.3 194.0,1127.3 194.3,1127.3 194.6,1125.3 194.9,1121.8 195.1,1117.7 195.4,1113.5 195.7,1109.8 196.0,1106.9 196.3,1104.7 196.5,1103.2 196.8,1102.2 197.1,1101.6 197.4,1101.2 197.7,1101.0 197.9,1100.8 198.2,1100.7 198.5,1100.7 198.8,1100.6 199.0,1100.6 199.3,1100.6 199.6,1100.6 199.9,1100.6 200.2,1100.6 200.4,1100.6 200.7,1100.6 201.0,1100.6 201.3,1100.6 201.6,1100.7 201.8,1100.7 202.1,1100.8 202.4,1100.8 202.7,1100.9 202.9,1101.0 203.2,1101.1 203.5,1101.2 203.8,1101.4 204.1,1101.6 204.3,1101.8 204.6,1102.2 204.9,1102.7 205.2,1103.6 205.4,1105.0 205.7,1107.3 206.0,1110.9 206.3,1116.3 206.6,1123.8 206.8,1133.6 207.1,1145.2 207.4,1157.5 207.7,1168.8 208.0,1177.1 208.2,1180.1 208.5,1177.1 208.8,1168.8 209.1,1157.5 209.3,1145.1 209.6,1133.6 209.9,1123.8 210.2,1116.2 210.5,1110.8 210.7,1107.2 211.0,1104.9 211.3,1103.5 211.6,1102.6 211.9,1102.1 212.1,1101.7 212.4,1101.5 212.7,1101.3 213.0,1101.1 213.2,1101.0 213.5,1100.9 213.8,1100.8 214.1,1100.7 214.4,1100.6 214.6,1100.5 214.9,1100.5 215.2,1100.4 215.5,1100.4 215.8,1100.3 216.0,1100.3 216.3,1100.3 216.6,1100.2 216.9,1100.2 217.1,1100.2 217.4,1100.2 217.7,1100.1 218.0,1100.1 218.3,1100.1 218.5,1100.1 218.8,1100.1 219.1,1100.1 219.4,1100.0 219.6,1100.0 219.9,1100.0 220.2,1100.0 220.5,1100.0 220.8,1100.0 221.0,1100.0 221.3,1100.0 221.6,1100.0 221.9,1100.0 222.2,1100.0 222.4,1099.9 222.7,1099.9 223.0,1099.9 223.3,1099.9 223.5,1099.9 223.8,1099.9 224.1,1099.9 224.4,1099.9 224.7,1099.9 224.9,1099.9 225.2,1099.9 225.5,1099.9 225.8,1099.9 226.1,1099.9 226.3,1099.9 226.6,1099.9 226.9,1099.9 227.2,1099.9 227.4,1099.9 227.7,1099.9 228.0,1099.9 228.3,1099.9 228.6,1099.9 228.8,1099.9 229.1,1099.9 229.4,1099.9 229.7,1099.9 229.9,1099.9 230.2,1099.9 230.5,1099.9 230.8,1099.9 231.1,1099.9 231.3,1099.9 231.6,1099.9 231.9,1099.9 232.2,1099.9 232.5,1099.9 232.7,1099.9 233.0,1099.9 233.3,1099.9 233.6,1099.9 233.8,1099.9 234.1,1099.9 234.4,1099.9 234.7,1099.9 235.0,1099.9 235.2,1099.9 235.5,1099.9 235.8,1099.9 236.1,1099.9 236.4,1099.9 236.6,1099.9 236.9,1099.9 237.2,1099.9 237.5,1099.9 237.7,1099.9 238.0,1099.9 238.3,1099.9 238.6,1099.9 238.9,1100.0 239.1,1100.0 239.4,1100.0 239.7,1100.0 240.0,1100.0 240.2,1100.0 240.5,1100.0 240.8,1100.0 241.1,1100.0 241.4,1100.1 241.6,1100.1 241.9,1100.1 242.2,1100.2 242.5,1100.3 242.8,1100.4 243.0,1100.6 243.3,1100.9 243.6,1101.3 243.9,1101.9 244.1,1102.5 244.4,1103.2 244.7,1103.8 245.0,1104.3 245.3,1104.5 245.5,1104.3 245.8,1103.9 246.1,1103.3 246.4,1102.7 246.7,1102.1 246.9,1101.7 247.2,1101.3 247.5,1101.1 247.8,1101.0 248.0,1101.0 248.3,1101.1 248.6,1101.3 248.9,1101.7 249.2,1102.3 249.4,1103.3 249.7,1104.9 250.0,1107.0 250.3,1109.8 250.6,1113.0 250.8,1116.5 251.1,1119.7 251.4,1122.1 251.7,1123.0 251.9,1122.2 252.2,1119.9 252.5,1116.8 252.8,1113.5 253.1,1110.3 253.3,1107.8 253.6,1105.9 253.9,1104.7 254.2,1104.2 254.4,1104.5 254.7,1105.3 255.0,1106.9 255.3,1109.2 255.6,1112.2 255.8,1115.5 256.1,1119.0 256.4,1121.9 256.7,1123.9 257.0,1124.6 257.2,1124.1 257.5,1123.2 257.8,1122.9 258.1,1124.0 258.3,1127.2 258.6,1132.8 258.9,1140.5 259.2,1149.3 259.5,1157.7 259.7,1163.9 260.0,1166.1 260.3,1163.5 260.6,1156.6 260.9,1147.3 261.1,1137.2 261.4,1127.7 261.7,1119.8 262.0,1113.6 262.2,1109.2 262.5,1106.2 262.8,1104.3 263.1,1103.1 263.4,1102.4 263.6,1102.0 263.9,1101.7 264.2,1101.5 264.5,1101.3 264.7,1101.2 265.0,1101.1 265.3,1101.0 265.6,1100.9 265.9,1100.8 266.1,1100.8 266.4,1100.7 266.7,1100.7 267.0,1100.7 267.3,1100.6 267.5,1100.6 267.8,1100.6 268.1,1100.6 268.4,1100.7 268.6,1100.7 268.9,1100.8 269.2,1100.9 269.5,1101.1 269.8,1101.4 270.0,1101.9 270.3,1102.8 270.6,1104.1 270.9,1106.0 271.2,1108.3 271.4,1111.1 271.7,1114.1 272.0,1116.9 272.3,1118.9 272.5,1119.7 272.8,1118.9 273.1,1116.9 273.4,1114.1 273.7,1111.1 273.9,1108.3 274.2,1105.9 274.5,1104.0 274.8,1102.7 275.0,1101.8 275.3,1101.3 275.6,1100.9 275.9,1100.7 276.2,1100.6 276.4,1100.5 276.7,1100.5 277.0,1100.4 277.3,1100.4 277.6,1100.4 277.8,1100.3 278.1,1100.3 278.4,1100.3 278.7,1100.3 278.9,1100.3 279.2,1100.3 279.5,1100.3 279.8,1100.3 280.1,1100.3 280.3,1100.3 280.6,1100.4 280.9,1100.4 281.2,1100.4 281.5,1100.4 281.7,1100.5 282.0,1100.5 282.3,1100.6 282.6,1100.6 282.8,1100.7 283.1,1100.8 283.4,1100.9 283.7,1101.0 284.0,1101.2 284.2,1101.4 284.5,1101.8 284.8,1102.4 285.1,1103.3 285.4,1104.9 285.6,1107.3 285.9,1111.0 286.2,1116.1 286.5,1122.7 286.7,1130.5 287.0,1138.8 287.3,1146.5 287.6,1152.1 287.9,1154.2 288.1,1152.1 288.4,1146.5 288.7,1138.8 289.0,1130.5 289.2,1122.7 289.5,1116.1 289.8,1111.0 290.1,1107.3 290.4,1104.9 290.6,1103.3 290.9,1102.4 291.2,1101.8 291.5,1101.4 291.8,1101.2 292.0,1101.0 292.3,1100.9 292.6,1100.8 292.9,1100.7 293.1,1100.6 293.4,1100.6 293.7,1100.5 294.0,1100.5 294.3,1100.4 294.5,1100.4 294.8,1100.4 295.1,1100.3 295.4,1100.3 295.7,1100.3 295.9,1100.3 296.2,1100.3 296.5,1100.3 296.8,1100.3 297.0,1100.3 297.3,1100.3 297.6,1100.3 297.9,1100.3 298.2,1100.4 298.4,1100.5 298.7,1100.7 299.0,1101.0 299.3,1101.4 299.5,1102.0 299.8,1102.6 300.1,1103.2 300.4,1103.9 300.7,1104.3 300.9,1104.5 301.2,1104.3 301.5,1103.9 301.8,1103.3 302.1,1102.7 302.3,1102.1 302.6,1101.6 302.9,1101.2 303.2,1101.0 303.4,1100.9 303.7,1100.8 304.0,1100.8 304.3,1100.9 304.6,1101.0 304.8,1101.3 305.1,1101.8 305.4,1102.5 305.7,1103.7 306.0,1105.3 306.2,1107.5 306.5,1110.3 306.8,1113.4 307.1,1116.5 307.3,1119.1 307.6,1120.6 307.9,1120.7 308.2,1119.3 308.5,1116.8 308.7,1113.9 309.0,1111.1 309.3,1108.7 309.6,1107.0 309.8,1106.2 310.1,1106.5 310.4,1107.9 310.7,1110.5 311.0,1114.4 311.2,1119.4 311.5,1125.0 311.8,1130.7 312.1,1135.5 312.4,1138.3 312.6,1138.3 312.9,1135.5 313.2,1130.6 313.5,1124.9 313.7,1119.1 314.0,1114.0 314.3,1109.9 314.6,1106.9 314.9,1104.8 315.1,1103.6 315.4,1102.9 315.7,1102.8 316.0,1103.1 316.3,1103.8 316.5,1105.1 316.8,1106.8 317.1,1109.1 317.4,1111.6 317.6,1114.1 317.9,1116.2 318.2,1117.5 318.5,1117.4 318.8,1116.1 319.0,1113.9 319.3,1111.3 319.6,1108.7 319.9,1106.3 320.2,1104.4 320.4,1103.0 320.7,1102.0 321.0,1101.4 321.3,1101.0 321.5,1100.8 321.8,1100.6 322.1,1100.5 322.4,1100.4 322.7,1100.4 322.9,1100.3 323.2,1100.3 323.5,1100.3 323.8,1100.2 324.0,1100.2 324.3,1100.2 324.6,1100.2 324.9,1100.2 325.2,1100.2 325.4,1100.1 325.7,1100.1 326.0,1100.1 326.3,1100.1 326.6,1100.1 326.8,1100.1 327.1,1100.1 327.4,1100.1 327.7,1100.2 327.9,1100.2 328.2,1100.2 328.5,1100.2 328.8,1100.2 329.1,1100.2 329.3,1100.3 329.6,1100.3 329.9,1100.4 330.2,1100.4 330.5,1100.5 330.7,1100.6 331.0,1100.8 331.3,1101.2 331.6,1101.7 331.8,1102.6 332.1,1103.8 332.4,1105.6 332.7,1107.9 333.0,1110.6 333.2,1113.5 333.5,1116.2 333.8,1118.2 334.1,1118.9 334.3,1118.2 334.6,1116.3 334.9,1113.7 335.2,1110.8 335.5,1108.2 335.7,1106.0 336.0,1104.3 336.3,1103.3 336.6,1102.8 336.9,1102.8 337.1,1103.3 337.4,1104.3 337.7,1105.9 338.0,1107.8 338.2,1110.1 338.5,1112.3 338.8,1114.2 339.1,1115.3 339.4,1115.3 339.6,1114.2 339.9,1112.2 340.2,1109.9 340.5,1107.6 340.8,1105.5 341.0,1103.9 341.3,1102.6 341.6,1101.8 341.9,1101.2 342.1,1100.9 342.4,1100.7 342.7,1100.6 343.0,1100.5 343.3,1100.4 343.5,1100.4 343.8,1100.4 344.1,1100.4 344.4,1100.4 344.6,1100.4 344.9,1100.4 345.2,1100.4 345.5,1100.4 345.8,1100.4 346.0,1100.5 346.3,1100.5 346.6,1100.6 346.9,1100.6 347.2,1100.7 347.4,1100.8 347.7,1100.9 348.0,1101.2 348.3,1101.5 348.5,1102.0 348.8,1102.9 349.1,1104.3 349.4,1106.5 349.7,1109.6 349.9,1113.8 350.2,1119.1 350.5,1125.0 350.8,1130.8 351.1,1135.8 351.3,1138.6 351.6,1138.6 351.9,1135.8 352.2,1130.9 352.4,1125.0 352.7,1119.1 353.0,1113.8 353.3,1109.6 353.6,1106.5 353.8,1104.3 354.1,1102.9 354.4,1102.0 354.7,1101.5 355.0,1101.2 355.2,1101.0 355.5,1100.9 355.8,1100.8 356.1,1100.7 356.3,1100.6 356.6,1100.6 356.9,1100.6 357.2,1100.6 357.5,1100.6 357.7,1100.6 358.0,1100.6 358.3,1100.7 358.6,1100.8 358.8,1100.9 359.1,1101.3 359.4,1101.8 359.7,1102.6 360.0,1103.9 360.2,1105.6 360.5,1107.9 360.8,1110.6 361.1,1113.5 361.4,1116.1 361.6,1118.0 361.9,1118.8 362.2,1118.0 362.5,1116.1 362.7,1113.4 363.0,1110.5 363.3,1107.8 363.6,1105.5 363.9,1103.8 364.1,1102.5 364.4,1101.7 364.7,1101.1 365.0,1100.8 365.3,1100.6 365.5,1100.5 365.8,1100.4 366.1,1100.3 366.4,1100.3 366.6,1100.3 366.9,1100.3 367.2,1100.2 367.5,1100.2 367.8,1100.2 368.0,1100.2 368.3,1100.3 368.6,1100.3 368.9,1100.4 369.1,1100.5 369.4,1100.7 369.7,1101.0 370.0,1101.5 370.3,1102.2 370.5,1103.2 370.8,1104.5 371.1,1105.9 371.4,1107.3 371.7,1108.4 371.9,1109.1 372.2,1109.1 372.5,1108.4 372.8,1107.3 373.0,1105.9 373.3,1104.4 373.6,1103.2 373.9,1102.2 374.2,1101.4 374.4,1100.9 374.7,1100.6 375.0,1100.4 375.3,1100.3 375.6,1100.2 375.8,1100.1 376.1,1100.1 376.4,1100.1 376.7,1100.0 376.9,1100.0 377.2,1100.0 377.5,1100.0 377.8,1100.0 378.1,1100.0 378.3,1100.0 378.6,1100.0 378.9,1100.0 379.2,1100.0 379.4,1100.0 379.7,1100.0 380.0,1100.0 380.3,1100.0 380.6,1100.0 380.8,1100.0 381.1,1100.0 381.4,1100.1 381.7,1100.1 382.0,1100.2 382.2,1100.3 382.5,1100.4 382.8,1100.6 383.1,1101.0 383.3,1101.5 383.6,1102.0 383.9,1102.7 384.2,1103.4 384.5,1103.9 384.7,1104.2 385.0,1104.2 385.3,1103.9 385.6,1103.4 385.9,1102.7 386.1,1102.1 386.4,1101.5 386.7,1101.1 387.0,1100.8 387.2,1100.5 387.5,1100.4 387.8,1100.3 388.1,1100.3 388.4,1100.2 388.6,1100.2 388.9,1100.3 389.2,1100.3 389.5,1100.3 389.8,1100.3 390.0,1100.4 390.3,1100.4 390.6,1100.4 390.9,1100.5 391.1,1100.6 391.4,1100.7 391.7,1100.8 392.0,1100.9 392.3,1101.1 392.5,1101.5 392.8,1102.1 393.1,1103.0 393.4,1104.5 393.6,1106.6 393.9,1109.7 394.2,1113.6 394.5,1118.2 394.8,1123.1 395.0,1127.7 395.3,1131.0 395.6,1132.3 395.9,1131.1 396.2,1127.9 396.4,1123.5 396.7,1118.7 397.0,1114.3 397.3,1110.6 397.5,1108.0 397.8,1106.4 398.1,1105.9 398.4,1106.4 398.7,1108.2 398.9,1111.2 399.2,1115.4 399.5,1120.8 399.8,1126.9 400.1,1133.1 400.3,1138.2 400.6,1141.2 400.9,1141.1 401.2,1138.1 401.4,1132.8 401.7,1126.6 402.0,1120.3 402.3,1114.8 402.6,1110.3 402.8,1107.0 403.1,1104.7 403.4,1103.2 403.7,1102.2 403.9,1101.6 404.2,1101.3 404.5,1101.1 404.8,1100.9 405.1,1100.8 405.3,1100.7 405.6,1100.6 405.9,1100.5 406.2,1100.5 406.5,1100.4 406.7,1100.4 407.0,1100.4 407.3,1100.3 407.6,1100.3 407.8,1100.3 408.1,1100.3 408.4,1100.3 408.7,1100.3 409.0,1100.3 409.2,1100.3 409.5,1100.3 409.8,1100.3 410.1,1100.3 410.4,1100.3 410.6,1100.4 410.9,1100.4 411.2,1100.5 411.5,1100.6 411.7,1100.8 412.0,1101.0 412.3,1101.5 412.6,1102.2 412.9,1103.3 413.1,1105.0 413.4,1107.1 413.7,1109.9 414.0,1112.9 414.2,1116.0 414.5,1118.5 414.8,1120.0 415.1,1120.0 415.4,1118.5 415.6,1116.0 415.9,1112.9 416.2,1109.8 416.5,1107.1 416.8,1104.9 417.0,1103.3 417.3,1102.2 417.6,1101.4 417.9,1101.0 418.1,1100.7 418.4,1100.5 418.7,1100.4 419.0,1100.4 419.3,1100.3 419.5,1100.3 419.8,1100.2 420.1,1100.2 420.4,1100.2 420.7,1100.2 420.9,1100.2 421.2,1100.1 421.5,1100.1 421.8,1100.1 422.0,1100.1 422.3,1100.1 422.6,1100.2 422.9,1100.2 423.2,1100.2 423.4,1100.2 423.7,1100.2 424.0,1100.3 424.3,1100.3 424.6,1100.4 424.8,1100.5 425.1,1100.6 425.4,1100.8 425.7,1101.2 425.9,1101.8 426.2,1102.8 426.5,1104.2 426.8,1106.1 427.1,1108.4 427.3,1111.0 427.6,1113.6 427.9,1115.8 428.2,1117.1 428.4,1117.1 428.7,1115.8 429.0,1113.6 429.3,1111.0 429.6,1108.4 429.8,1106.1 430.1,1104.3 430.4,1102.9 430.7,1102.0 431.0,1101.4 431.2,1101.0 431.5,1100.8 431.8,1100.7 432.1,1100.6 432.3,1100.6 432.6,1100.7 432.9,1100.8 433.2,1101.0 433.5,1101.3 433.7,1101.8 434.0,1102.7 434.3,1104.0 434.6,1105.8 434.9,1108.2 435.1,1111.0 435.4,1114.0 435.7,1116.7 436.0,1118.7 436.2,1119.5 436.5,1118.7 436.8,1116.7 437.1,1113.9 437.4,1110.9 437.6,1108.1 437.9,1105.7 438.2,1103.8 438.5,1102.5 438.7,1101.6 439.0,1101.1 439.3,1100.7 439.6,1100.5 439.9,1100.4 440.1,1100.3 440.4,1100.2 440.7,1100.2 441.0,1100.1 441.3,1100.1 441.5,1100.1 441.8,1100.0 442.1,1100.0 442.4,1100.0 442.6,1100.0 442.9,1100.0 443.2,1100.0 443.5,1100.0 443.8,1099.9 444.0,1099.9 444.3,1099.9 444.6,1099.9 444.9,1099.9 445.2,1099.9 445.4,1099.9 445.7,1099.9 446.0,1099.9 446.3,1099.9 446.5,1099.9 446.8,1099.9 447.1,1099.9 447.4,1099.9 447.7,1099.9 447.9,1099.9 448.2,1099.9 448.5,1099.9 448.8,1099.9 449.0,1099.9 449.3,1099.9 449.6,1099.9 449.9,1100.0 450.2,1100.0 450.4,1100.0 450.7,1100.1 451.0,1100.3 451.3,1100.5 451.6,1100.8 451.8,1101.2 452.1,1101.9 452.4,1102.7 452.7,1103.5 452.9,1104.4 453.2,1105.1 453.5,1105.6 453.8,1105.6 454.1,1105.1 454.3,1104.4 454.6,1103.5 454.9,1102.7 455.2,1101.9 455.5,1101.3 455.7,1100.8 456.0,1100.5 456.3,1100.3 456.6,1100.1 456.8,1100.1 457.1,1100.0 457.4,1100.0 457.7,1100.0 458.0,1100.0 458.2,1100.0 458.5,1100.0 458.8,1100.0 459.1,1100.0 459.4,1100.0 459.6,1100.0 459.9,1100.0 460.2,1100.0 460.5,1100.1 460.7,1100.2 461.0,1100.3 461.3,1100.5 461.6,1100.8 461.9,1101.3 462.1,1102.0 462.4,1102.9 462.7,1103.9 463.0,1105.0 463.2,1106.1 463.5,1106.8 463.8,1107.1 464.1,1106.8 464.4,1106.1 464.6,1105.0 464.9,1103.9 465.2,1102.9 465.5,1102.0 465.8,1101.3 466.0,1100.8 466.3,1100.5 466.6,1100.3 466.9,1100.1 467.1,1100.1 467.4,1100.0 467.7,1100.0 468.0,1100.0 468.3,1099.9 468.5,1099.9 468.8,1099.9 469.1,1099.9 469.4,1099.9 469.7,1099.9 469.9,1099.9 470.2,1099.9 470.5,1099.9 470.8,1099.9 471.0,1099.9 471.3,1099.9 471.6,1099.9 471.9,1099.9 472.2,1099.9 472.4,1099.9 472.7,1099.9 473.0,1099.9 473.3,1099.9 473.5,1099.9 473.8,1099.9 474.1,1099.9 474.4,1099.9 474.7,1099.9 474.9,1099.9 475.2,1099.9 475.5,1099.9 475.8,1100.0 476.1,1100.0 476.3,1100.0 476.6,1100.0 476.9,1100.0 477.2,1100.0 477.4,1100.1 477.7,1100.1 478.0,1100.1 478.3,1100.2 478.6,1100.2 478.8,1100.3 479.1,1100.4 479.4,1100.6 479.7,1100.9 480.0,1101.3 480.2,1102.0 480.5,1103.1 480.8,1104.7 481.1,1106.8 481.3,1109.4 481.6,1112.4 481.9,1115.3 482.2,1117.8 482.5,1119.2 482.7,1119.2 483.0,1117.8 483.3,1115.4 483.6,1112.4 483.8,1109.5 484.1,1106.8 484.4,1104.7 484.7,1103.2 485.0,1102.1 485.2,1101.4 485.5,1101.0 485.8,1100.7 486.1,1100.5 486.4,1100.5 486.6,1100.4 486.9,1100.4 487.2,1100.3 487.5,1100.3 487.7,1100.3 488.0,1100.3 488.3,1100.3 488.6,1100.4 488.9,1100.4 489.1,1100.5 489.4,1100.6 489.7,1100.8 490.0,1101.0 490.3,1101.5 490.5,1102.3 490.8,1103.5 491.1,1105.1 491.4,1107.2 491.6,1109.7 491.9,1112.3 492.2,1114.8 492.5,1116.6 492.8,1117.2 493.0,1116.6 493.3,1114.8 493.6,1112.4 493.9,1109.7 494.2,1107.2 494.4,1105.1 494.7,1103.5 495.0,1102.3 495.3,1101.6 495.5,1101.1 495.8,1100.8 496.1,1100.6 496.4,1100.5 496.7,1100.5 496.9,1100.4 497.2,1100.4 497.5,1100.4 497.8,1100.4 498.0,1100.4 498.3,1100.4 498.6,1100.4 498.9,1100.4 499.2,1100.5 499.4,1100.5 499.7,1100.6 500.0,1100.7 500.3,1100.7 500.6,1100.8 500.8,1101.0 501.1,1101.2 501.4,1101.5 501.7,1102.0 501.9,1102.8 502.2,1104.2 502.5,1106.3 502.8,1109.4 503.1,1113.9 503.3,1119.6 503.6,1126.4 503.9,1133.6 504.2,1140.3 504.5,1145.1 504.7,1146.9 505.0,1145.1 505.3,1140.3 505.6,1133.6 505.8,1126.4 506.1,1119.6 506.4,1113.8 506.7,1109.4 507.0,1106.2 507.2,1104.1 507.5,1102.8 507.8,1102.0 508.1,1101.4 508.3,1101.1 508.6,1100.9 508.9,1100.8 509.2,1100.7 509.5,1100.6 509.7,1100.5 510.0,1100.4 510.3,1100.4 510.6,1100.3 510.9,1100.3 511.1,1100.2 511.4,1100.2 511.7,1100.2 512.0,1100.2 512.2,1100.1 512.5,1100.1 512.8,1100.1 513.1,1100.1 513.4,1100.1 513.6,1100.1 513.9,1100.1 514.2,1100.1 514.5,1100.1 514.8,1100.1 515.0,1100.2 515.3,1100.3 515.6,1100.4 515.9,1100.7 516.1,1101.1 516.4,1101.6 516.7,1102.3 517.0,1103.1 517.3,1104.0 517.5,1104.8 517.8,1105.4 518.1,1105.6 518.4,1105.4 518.6,1104.8 518.9,1104.0 519.2,1103.1 519.5,1102.3 519.8,1101.6 520.0,1101.0 520.3,1100.6 520.6,1100.4 520.9,1100.2 521.2,1100.1 521.4,1100.0 521.7,1100.0 522.0,1100.0 522.3,1099.9 522.5,1099.9 522.8,1099.9 523.1,1099.9 523.4,1099.9 523.7,1099.9 523.9,1099.9 524.2,1099.9 524.5,1099.9 524.8,1099.9 525.1,1099.9 525.3,1099.9 525.6,1099.8 525.9,1099.8 526.2,1099.8 526.4,1099.8 526.7,1099.8 527.0,1099.8 527.3,1099.8 527.6,1099.8 527.8,1099.8 528.1,1099.9 528.4,1099.9 528.7,1099.9 529.0,1099.9 529.2,1099.9 529.5,1099.9 529.8,1099.9 530.1,1099.9 530.3,1099.9 530.6,1099.9 530.9,1099.9 531.2,1099.9 531.5,1100.0 531.7,1100.0 532.0,1100.1 532.3,1100.1 532.6,1100.2 532.8,1100.4 533.1,1100.8 533.4,1101.2 533.7,1101.9 534.0,1102.9 534.2,1104.0 534.5,1105.4 534.8,1106.7 535.1,1107.8 535.4,1108.4 535.6,1108.4 535.9,1107.8 536.2,1106.7 536.5,1105.4 536.7,1104.0 537.0,1102.9 537.3,1101.9 537.6,1101.2 537.9,1100.8 538.1,1100.4 538.4,1100.3 538.7,1100.1 539.0,1100.1 539.3,1100.0 539.5,1100.0 539.8,1100.0 540.1,1100.0 540.4,1099.9 540.6,1099.9 540.9,1099.9 541.2,1099.9 541.5,1099.9 541.8,1099.9 542.0,1099.9 542.3,1099.9 542.6,1100.0 542.9,1100.0 543.1,1100.0 543.4,1100.0 543.7,1100.1 544.0,1100.1 544.3,1100.3 544.5,1100.5 544.8,1100.8 545.1,1101.3 545.4,1102.0 545.7,1102.9 545.9,1103.9 546.2,1105.0 546.5,1106.1 546.8,1106.8 547.0,1107.1 547.3,1106.8 547.6,1106.1 547.9,1105.0 548.2,1103.9 548.4,1102.9 548.7,1102.0 549.0,1101.3 549.3,1100.8 549.6,1100.5 549.8,1100.3 550.1,1100.1 550.4,1100.1 550.7,1100.0 550.9,1100.0 551.2,1100.0 551.5,1099.9 551.8,1099.9 552.1,1099.9 552.3,1099.9 552.6,1099.9 552.9,1099.9 553.2,1099.9 553.4,1099.9 553.7,1099.9 554.0,1099.9 554.3,1099.9 554.6,1099.9 554.8,1099.9 555.1,1099.9 555.4,1099.9 555.7,1099.9 556.0,1099.9 556.2,1100.0 556.5,1100.0 556.8,1100.0 557.1,1100.0 557.3,1100.0 557.6,1100.1 557.9,1100.1 558.2,1100.2 558.5,1100.2 558.7,1100.3 559.0,1100.5 559.3,1100.7 559.6,1101.1 559.9,1101.8 560.1,1102.8 560.4,1104.2 560.7,1106.2 561.0,1108.6 561.2,1111.4 561.5,1114.1 561.8,1116.4 562.1,1117.7 562.4,1117.7 562.6,1116.4 562.9,1114.1 563.2,1111.4 563.5,1108.6 563.8,1106.2 564.0,1104.3 564.3,1102.8 564.6,1101.8 564.9,1101.2 565.1,1100.7 565.4,1100.5 565.7,1100.4 566.0,1100.3 566.3,1100.2 566.5,1100.1 566.8,1100.1 567.1,1100.1 567.4,1100.1 567.6,1100.0 567.9,1100.0 568.2,1100.0 568.5,1100.0 568.8,1100.0 569.0,1100.0 569.3,1100.1 569.6,1100.1 569.9,1100.1 570.2,1100.2 570.4,1100.4 570.7,1100.6 571.0,1101.0 571.3,1101.6 571.5,1102.4 571.8,1103.4 572.1,1104.5 572.4,1105.6 572.7,1106.5 572.9,1107.0 573.2,1107.0 573.5,1106.5 573.8,1105.6 574.1,1104.5 574.3,1103.4 574.6,1102.4 574.9,1101.6 575.2,1101.0 575.4,1100.6 575.7,1100.3 576.0,1100.2 576.3,1100.1 576.6,1100.0 576.8,1100.0 577.1,1099.9 577.4,1099.9 577.7,1099.9 577.9,1099.9 578.2,1099.9 578.5,1099.8 578.8,1099.8 579.1,1099.8 579.3,1099.8 579.6,1099.8 579.9,1099.8 580.2,1099.8 580.5,1099.8 580.7,1099.8 581.0,1099.8 581.3,1099.8 581.6,1099.8 581.8,1099.8 582.1,1099.8 582.4,1099.8 582.7,1099.8 583.0,1099.8 583.2,1099.8 583.5,1099.8 583.8,1099.8 584.1,1099.8 584.4,1099.8 584.6,1099.8 584.9,1099.8 585.2,1099.8 585.5,1099.8 585.7,1099.8 586.0,1099.8 586.3,1099.8 586.6,1099.8 586.9,1099.8 587.1,1099.8 587.4,1099.8 587.7,1099.8 588.0,1099.8 588.2,1099.8 588.5,1099.8 588.8,1099.8 589.1,1099.8 589.4,1099.8 589.6,1099.8 589.9,1099.8 590.2,1099.8 590.5,1099.8 590.8,1099.9 591.0,1099.9 591.3,1099.9 591.6,1100.0 591.9,1100.0 592.1,1100.1 592.4,1100.3 592.7,1100.6 593.0,1101.0 593.3,1101.6 593.5,1102.3 593.8,1103.0 594.1,1103.8 594.4,1104.4 594.7,1104.8 594.9,1104.8 595.2,1104.4 595.5,1103.8 595.8,1103.0 596.0,1102.3 596.3,1101.6 596.6,1101.0 596.9,1100.6 597.2,1100.4 597.4,1100.2 597.7,1100.1 598.0,1100.0 598.3,1100.0 598.6,1099.9 598.8,1099.9 599.1,1099.9 599.4,1099.9 599.7,1099.9 599.9,1099.9 600.2,1100.0 600.5,1100.0 600.8,1100.0 601.1,1100.1 601.3,1100.2 601.6,1100.4 601.9,1100.7 602.2,1101.1 602.4,1101.7 602.7,1102.6 603.0,1103.7 603.3,1104.9 603.6,1106.1 603.8,1107.1 604.1,1107.7 604.4,1107.7 604.7,1107.1 605.0,1106.1 605.2,1104.9 605.5,1103.7 605.8,1102.6 606.1,1101.7 606.3,1101.1 606.6,1100.6 606.9,1100.3 607.2,1100.2 607.5,1100.0 607.7,1100.0 608.0,1099.9 608.3,1099.9 608.6,1099.9 608.9,1099.9 609.1,1099.8 609.4,1099.8 609.7,1099.8 610.0,1099.8 610.2,1099.8 610.5,1099.8 610.8,1099.8" stroke="#50585a" stroke-width="3" fill="none" stroke-linejoin="round" stroke-linecap="round" />
<polyline points="54.0,907.2 54.6,906.9 55.1,908.8 55.7,907.2 56.2,909.0 56.8,908.7 57.3,908.0 57.9,909.6 58.5,908.4 59.0,909.8 59.6,908.9 60.1,908.9 60.7,909.8 61.2,910.9 61.8,908.3 62.4,907.7 62.9,906.8 63.5,902.7 64.0,891.9 64.6,876.7 65.1,862.6 65.7,850.0 66.2,856.2 66.8,868.4 67.4,884.1 67.9,896.5 68.5,904.4 69.0,909.6 69.6,909.1 70.1,911.1 70.7,911.7 71.3,911.2 71.8,912.0 72.4,910.6 72.9,910.8 73.5,911.4 74.0,913.1 74.6,912.4 75.2,912.1 75.7,913.1 76.3,912.8 76.8,912.4 77.4,914.1 77.9,913.9 78.5,912.5 79.1,913.7 79.6,913.6 80.2,914.8 80.7,914.4 81.3,913.1 81.8,915.4 82.4,912.7 83.0,913.7 83.5,914.8 84.1,912.9 84.6,914.1 85.2,912.7 85.7,914.7 86.3,915.1 86.9,914.5 87.4,915.5 88.0,913.8 88.5,915.0 89.1,914.7 89.6,914.7 90.2,914.4 90.7,915.7 91.3,916.0 91.9,914.6 92.4,915.2 93.0,913.3 93.5,915.4 94.1,915.3 94.6,916.4 95.2,915.9 95.8,914.2 96.3,914.6 96.9,915.6 97.4,913.5 98.0,915.0 98.5,914.1 99.1,913.9 99.7,913.8 100.2,916.1 100.8,914.1 101.3,914.5 101.9,915.0 102.4,916.6 103.0,914.1 103.6,915.3 104.1,915.7 104.7,916.8 105.2,916.6 105.8,916.8 106.3,915.0 106.9,915.4 107.5,915.3 108.0,917.0 108.6,917.3 109.1,914.7 109.7,914.9 110.2,915.1 110.8,915.1 111.4,916.0 111.9,916.3 112.5,915.3 113.0,914.5 113.6,915.9 114.1,915.8 114.7,916.4 115.2,917.7 115.8,916.9 116.4,916.3 116.9,916.7 117.5,916.9 118.0,914.9 118.6,917.6 119.1,917.2 119.7,917.6 120.3,917.3 120.8,916.0 121.4,916.0 121.9,915.0 122.5,916.6 123.0,914.6 123.6,914.4 124.2,914.3 124.7,912.8 125.3,910.3 125.8,903.3 126.4,893.2 126.9,881.8 127.5,872.8 128.1,873.7 128.6,881.6 129.2,896.3 129.7,905.4 130.3,910.2 130.8,913.7 131.4,915.4 132.0,916.1 132.5,915.7 133.1,918.2 133.6,918.8 134.2,917.3 134.7,917.5 135.3,916.3 135.8,916.5 136.4,917.3 137.0,917.1 137.5,919.0 138.1,916.9 138.6,916.5 139.2,919.5 139.7,918.0 140.3,916.5 140.9,917.1 141.4,914.0 142.0,913.7 142.5,913.2 143.1,912.0 143.6,912.4 144.2,913.1 144.8,915.5 145.3,916.3 145.9,919.1 146.4,918.8 147.0,919.8 147.5,918.5 148.1,918.2 148.7,920.2 149.2,920.8 149.8,920.5 150.3,920.4 150.9,920.5 151.4,920.3 152.0,918.7 152.6,919.7 153.1,919.2 153.7,918.3 154.2,918.3 154.8,919.2 155.3,919.2 155.9,920.6 156.5,921.5 157.0,919.9 157.6,921.5 158.1,921.8 158.7,921.7 159.2,919.9 159.8,919.5 160.3,919.5 160.9,919.5 161.5,919.6 162.0,921.0 162.6,921.9 163.1,921.8 163.7,920.6 164.2,921.3 164.8,921.8 165.4,919.5 165.9,921.4 166.5,922.2 167.0,921.8 167.6,921.7 168.1,920.9 168.7,919.9 169.3,921.9 169.8,920.4 170.4,921.9 170.9,922.5 171.5,920.6 172.0,920.7 172.6,922.4 173.2,921.7 173.7,919.9 174.3,919.7 174.8,919.8 175.4,922.1 175.9,921.8 176.5,919.6 177.1,921.7 177.6,922.0 178.2,920.7 178.7,919.4 179.3,919.1 179.8,915.5 180.4,910.3 181.0,904.6 181.5,891.3 182.1,878.9 182.6,874.8 183.2,878.6 183.7,892.1 184.3,904.2 184.8,911.0 185.4,916.0 186.0,918.4 186.5,919.2 187.1,920.7 187.6,919.9 188.2,920.6 188.7,919.8 189.3,922.4 189.9,920.7 190.4,921.1 191.0,921.5 191.5,922.6 192.1,921.0 192.6,922.6 193.2,921.2 193.8,921.2 194.3,921.0 194.9,919.1 195.4,919.8 196.0,917.3 196.5,913.1 197.1,909.0 197.7,897.8 198.2,889.6 198.8,886.4 199.3,889.9 199.9,898.4 200.4,908.3 201.0,915.0 201.6,919.4 202.1,919.0 202.7,921.2 203.2,920.5 203.8,920.8 204.3,922.5 204.9,921.7 205.4,922.0 206.0,922.6 206.6,923.2 207.1,921.6 207.7,922.1 208.2,921.7 208.8,921.4 209.3,921.1 209.9,918.5 210.5,915.4 211.0,910.5 211.6,907.3 212.1,904.5 212.7,907.2 213.2,912.1 213.8,914.7 214.4,919.1 214.9,922.2 215.5,922.8 216.0,920.9 216.6,921.1 217.1,922.2 217.7,921.1 218.3,921.7 218.8,921.3 219.4,923.2 219.9,923.6 220.5,924.0 221.0,921.7 221.6,923.5 222.2,923.3 222.7,921.7 223.3,924.1 223.8,924.4 224.4,922.0 224.9,924.4 225.5,922.6 226.1,922.9 226.6,924.5 227.2,924.0 227.7,921.9 228.3,922.8 228.8,923.0 229.4,922.5 229.9,922.0 230.5,922.4 231.1,923.7 231.6,921.5 232.2,923.2 232.7,922.9 233.3,921.5 233.8,922.5 234.4,923.5 235.0,923.1 235.5,921.7 236.1,924.7 236.6,924.0 237.2,924.6 237.7,921.9 238.3,922.4 238.9,921.7 239.4,924.0 240.0,922.4 240.5,922.0 241.1,922.9 241.6,924.5 242.2,924.2 242.8,922.4 243.3,922.0 243.9,924.5 244.4,923.4 245.0,923.8 245.5,921.9 246.1,921.7 246.7,923.8 247.2,922.9 247.8,921.8 248.3,924.5 248.9,923.6 249.4,924.1 250.0,921.8 250.6,924.2 251.1,921.6 251.7,924.2 252.2,922.8 252.8,922.4 253.3,923.0 253.9,924.1 254.4,921.8 255.0,921.2 255.6,922.2 256.1,920.8 256.7,919.3 257.2,916.8 257.8,910.7 258.3,900.9 258.9,886.9 259.5,872.6 260.0,867.8 260.6,872.6 261.1,887.5 261.7,900.9 262.2,911.7 262.8,916.4 263.4,919.8 263.9,920.2 264.5,923.0 265.0,922.7 265.6,921.7 266.1,922.8 266.7,924.4 267.3,921.8 267.8,924.2 268.4,923.0 268.9,923.2 269.5,924.4 270.0,923.0 270.6,923.4 271.2,924.0 271.7,925.0 272.3,923.0 272.8,924.5 273.4,924.2 273.9,924.0 274.5,923.2 275.0,923.1 275.6,922.1 276.2,922.4 276.7,922.2 277.3,924.4 277.8,922.8 278.4,922.5 278.9,922.3 279.5,924.7 280.1,924.8 280.6,924.2 281.2,922.9 281.7,922.8 282.3,923.0 282.8,923.5 283.4,922.5 284.0,923.4 284.5,922.8 285.1,925.0 285.6,925.0 286.2,923.7 286.7,922.6 287.3,924.9 287.9,922.7 288.4,922.8 289.0,921.5 289.5,922.6 290.1,922.5 290.6,921.8 291.2,919.1 291.8,916.1 292.3,907.4 292.9,898.3 293.4,887.9 294.0,884.5 294.5,887.7 295.1,897.5 295.7,908.3 296.2,915.2 296.8,920.2 297.3,921.8 297.9,923.3 298.4,923.3 299.0,923.7 299.5,924.3 300.1,922.9 300.7,922.7 301.2,924.8 301.8,922.2 302.3,924.0 302.9,923.8 303.4,921.8 304.0,924.3 304.6,924.4 305.1,923.4 305.7,923.6 306.2,923.4 306.8,920.2 307.3,919.1 307.9,914.7 308.5,909.2 309.0,902.0 309.6,897.7 310.1,898.4 310.7,905.6 311.2,911.9 311.8,917.3 312.4,918.9 312.9,919.5 313.5,920.0 314.0,919.8 314.6,916.4 315.1,913.3 315.7,903.8 316.3,893.6 316.8,885.7 317.4,885.8 317.9,892.8 318.5,901.3 319.0,911.6 319.6,914.7 320.2,912.5 320.7,907.5 321.3,901.6 321.8,895.8 322.4,899.6 322.9,904.1 323.5,910.5 324.0,916.5 324.6,921.1 325.2,921.0 325.7,923.4 326.3,924.4 326.8,923.1 327.4,922.8 327.9,923.2 328.5,923.9 329.1,924.2 329.6,923.8 330.2,923.9 330.7,922.1 331.3,922.3 331.8,922.6 332.4,924.2 333.0,922.7 333.5,923.5 334.1,921.7 334.6,921.7 335.2,921.9 335.7,922.2 336.3,920.2 336.9,916.6 337.4,910.8 338.0,907.5 338.5,906.3 339.1,909.1 339.6,912.5 340.2,919.1 340.8,919.5 341.3,923.2 341.9,923.0 342.4,918.7 343.0,917.0 343.5,913.0 344.1,907.3 344.6,901.0 345.2,900.5 345.8,905.0 346.3,913.6 346.9,916.5 347.4,920.9 348.0,921.1 348.5,923.0 349.1,924.6 349.7,922.0 350.2,923.9 350.8,922.2 351.3,921.6 351.9,917.5 352.4,910.7 353.0,907.1 353.6,902.2 354.1,902.1 354.7,907.1 355.2,914.5 355.8,918.9 356.3,921.1 356.9,921.8 357.5,923.0 358.0,923.1 358.6,924.9 359.1,922.3 359.7,924.7 360.2,924.8 360.8,922.3 361.4,924.1 361.9,921.8 362.5,919.2 363.0,912.3 363.6,907.3 364.1,904.1 364.7,907.2 365.3,910.6 365.8,915.3 366.4,919.6 366.9,921.5 367.5,922.0 368.0,922.6 368.6,925.1 369.1,923.4 369.7,925.5 370.3,923.1 370.8,922.7 371.4,922.2 371.9,918.7 372.5,915.2 373.0,912.2 373.6,908.3 374.2,908.1 374.7,911.2 375.3,917.1 375.8,921.3 376.4,922.6 376.9,924.5 377.5,922.9 378.1,925.4 378.6,924.6 379.2,925.6 379.7,925.4 380.3,924.3 380.8,923.6 381.4,926.4 382.0,923.9 382.5,925.0 383.1,924.6 383.6,924.5 384.2,925.9 384.7,926.7 385.3,924.4 385.9,925.7 386.4,924.6 387.0,925.4 387.5,924.9 388.1,924.2 388.6,924.1 389.2,924.3 389.8,926.5 390.3,925.2 390.9,924.2 391.4,926.4 392.0,926.6 392.5,924.8 393.1,923.7 393.6,923.7 394.2,923.1 394.8,923.5 395.3,921.6 395.9,919.5 396.4,914.3 397.0,906.4 397.5,895.8 398.1,885.2 398.7,881.5 399.2,888.4 399.8,900.2 400.3,909.8 400.9,915.7 401.4,916.1 402.0,914.2 402.6,911.1 403.1,902.8 403.7,901.6 404.2,904.8 404.8,911.6 405.3,915.6 405.9,920.1 406.5,922.5 407.0,924.1 407.6,924.8 408.1,926.6 408.7,926.4 409.2,926.6 409.8,923.9 410.4,924.0 410.9,926.2 411.5,926.8 412.0,925.4 412.6,925.7 413.1,923.7 413.7,924.5 414.2,925.2 414.8,922.7 415.4,918.7 415.9,913.4 416.5,905.5 417.0,902.5 417.6,905.2 418.1,912.0 418.7,918.3 419.3,923.2 419.8,924.8 420.4,925.6 420.9,926.5 421.5,925.7 422.0,926.1 422.6,924.5 423.2,927.0 423.7,925.3 424.3,927.5 424.8,926.7 425.4,925.6 425.9,925.0 426.5,925.4 427.1,926.6 427.6,926.7 428.2,924.7 428.7,924.2 429.3,924.8 429.8,923.1 430.4,919.2 431.0,914.5 431.5,912.1 432.1,909.3 432.6,912.8 433.2,917.5 433.7,922.9 434.3,924.4 434.9,926.5 435.4,925.8 436.0,925.2 436.5,925.3 437.1,927.6 437.6,926.7 438.2,925.2 438.7,923.7 439.3,923.8 439.9,921.4 440.4,915.4 441.0,908.2 441.5,903.7 442.1,903.1 442.6,904.9 443.2,911.1 443.8,918.2 444.3,922.5 444.9,925.5 445.4,925.0 446.0,927.3 446.5,927.3 447.1,926.7 447.7,925.8 448.2,928.3 448.8,926.2 449.3,927.9 449.9,926.0 450.4,925.9 451.0,927.5 451.6,925.5 452.1,926.6 452.7,923.2 453.2,919.6 453.8,917.1 454.3,916.6 454.9,918.6 455.5,922.1 456.0,922.3 456.6,925.0 457.1,925.5 457.7,928.4 458.2,926.0 458.8,925.8 459.4,925.9 459.9,927.0 460.5,928.7 461.0,928.7 461.6,928.2 462.1,929.1 462.7,928.9 463.2,927.0 463.8,926.5 464.4,928.9 464.9,928.3 465.5,926.0 466.0,927.9 466.6,926.9 467.1,926.5 467.7,925.6 468.3,923.4 468.8,920.2 469.4,917.9 469.9,915.8 470.5,917.7 471.0,917.5 471.6,923.4 472.2,923.6 472.7,925.8 473.3,928.1 473.8,928.5 474.4,927.4 474.9,926.3 475.5,927.7 476.1,927.4 476.6,929.2 477.2,926.9 477.7,927.4 478.3,929.2 478.8,926.4 479.4,927.6 480.0,928.9 480.5,928.8 481.1,926.5 481.6,926.4 482.2,926.5 482.7,929.3 483.3,927.1 483.8,928.7 484.4,929.1 485.0,927.2 485.5,926.8 486.1,928.6 486.6,926.6 487.2,923.6 487.7,922.1 488.3,917.2 488.9,914.4 489.4,913.5 490.0,918.6 490.5,922.8 491.1,924.9 491.6,927.7 492.2,925.7 492.8,926.8 493.3,927.8 493.9,929.4 494.4,929.5 495.0,927.7 495.5,927.3 496.1,927.9 496.7,928.1 497.2,929.5 497.8,927.1 498.3,929.1 498.9,928.9 499.4,929.2 500.0,929.0 500.6,928.5 501.1,927.6 501.7,927.5 502.2,927.6 502.8,928.9 503.3,926.6 503.9,926.8 504.5,928.4 505.0,926.2 505.6,924.2 506.1,921.3 506.7,918.1 507.2,911.1 507.8,907.6 508.3,906.0 508.9,910.1 509.5,914.1 510.0,919.3 510.6,923.2 511.1,926.5 511.7,928.1 512.2,927.7 512.8,927.2 513.4,927.9 513.9,928.6 514.5,928.8 515.0,929.1 515.6,929.5 516.1,928.9 516.7,927.2 517.3,929.6 517.8,927.8 518.4,928.7 518.9,928.1 519.5,929.3 520.0,927.6 520.6,927.8 521.2,927.8 521.7,927.5 522.3,929.8 522.8,928.9 523.4,928.1 523.9,928.3 524.5,930.2 525.1,928.7 525.6,927.8 526.2,929.7 526.7,929.2 527.3,930.3 527.8,927.4 528.4,928.6 529.0,929.7 529.5,929.8 530.1,930.0 530.6,927.3 531.2,928.1 531.7,927.5 532.3,927.7 532.8,930.2 533.4,929.0 534.0,930.1 534.5,928.3 535.1,929.8 535.6,928.4 536.2,927.7 536.7,929.0 537.3,928.7 537.9,924.5 538.4,923.5 539.0,920.6 539.5,917.1 540.1,917.6 540.6,919.1 541.2,922.3 541.8,925.0 542.3,927.7 542.9,928.6 543.4,927.6 544.0,927.1 544.5,928.2 545.1,929.3 545.7,927.8 546.2,928.2 546.8,927.9 547.3,929.8 547.9,929.0 548.4,927.5 549.0,927.6 549.6,928.5 550.1,929.0 550.7,929.3 551.2,927.5 551.8,927.5 552.3,928.9 552.9,927.1 553.4,925.2 554.0,923.2 554.6,923.2 555.1,920.3 555.7,922.0 556.2,923.4 556.8,925.7 557.3,928.6 557.9,929.8 558.5,928.2 559.0,927.8 559.6,929.5 560.1,927.9 560.7,927.2 561.2,930.0 561.8,928.4 562.4,929.5 562.9,927.8 563.5,928.3 564.0,924.9 564.6,920.0 565.1,914.1 565.7,910.5 566.3,908.4 566.8,911.6 567.4,914.4 567.9,921.6 568.5,924.7 569.0,927.2 569.6,927.1 570.2,928.0 570.7,928.9 571.3,930.3 571.8,927.8 572.4,929.1 572.9,930.1 573.5,930.7 574.1,928.3 574.6,928.1 575.2,930.7 575.7,930.8 576.3,929.3 576.8,927.9 577.4,930.7 577.9,929.0 578.5,930.6 579.1,929.7 579.6,930.3 580.2,927.9 580.7,929.5 581.3,926.8 581.8,926.3 582.4,926.5 583.0,926.0 583.5,924.4 584.1,925.7 584.6,927.5 585.2,928.7 585.7,928.7 586.3,928.1 586.9,928.6 587.4,930.1 588.0,930.6 588.5,927.7 589.1,929.0 589.6,929.0 590.2,925.8 590.8,927.4 591.3,924.7 591.9,926.7 592.4,927.4 593.0,928.6 593.5,928.3 594.1,929.0 594.7,929.7 595.2,929.3 595.8,930.0 596.3,929.3 596.9,929.1 597.4,927.4 598.0,928.7 598.6,927.3 599.1,925.5 599.7,926.8 600.2,927.3 600.8,927.2 601.3,927.3 601.9,929.0 602.4,928.2 603.0,928.5 603.6,929.5 604.1,928.5 604.7,929.6 605.2,929.9 605.8,928.4 606.3,930.3 606.9,928.5 607.5,930.6 608.0,930.8 608.6,930.0 609.1,928.5 609.7,930.0 610.2,929.6 610.8,931.4" stroke="#d9675a" stroke-width="3" fill="none" stroke-linejoin="round" stroke-linecap="round" />
<polyline points="54.0,1099.4 54.6,1101.6 55.1,1101.8 55.7,1100.8 56.2,1100.9 56.8,1098.6 57.3,1100.6 57.9,1098.0 58.5,1097.2 59.0,1092.0 59.6,1080.6 60.1,1070.0 60.7,1057.9 61.2,1049.6 61.8,1056.0 62.4,1069.7 62.9,1080.3 63.5,1091.5 64.0,1094.5 64.6,1098.5 65.1,1097.2 65.7,1098.8 66.2,1100.3 66.8,1098.2 67.4,1098.4 67.9,1099.2 68.5,1098.7 69.0,1097.8 69.6,1098.2 70.1,1098.1 70.7,1100.6 71.3,1099.8 71.8,1100.4 72.4,1098.1 72.9,1100.0 73.5,1097.8 74.0,1099.1 74.6,1099.4 75.2,1098.5 75.7,1100.1 76.3,1099.1 76.8,1099.1 77.4,1100.0 77.9,1097.5 78.5,1100.3 79.1,1099.1 79.6,1098.3 80.2,1099.5 80.7,1097.8 81.3,1100.0 81.8,1098.7 82.4,1097.9 83.0,1099.2 83.5,1098.1 84.1,1097.2 84.6,1099.0 85.2,1096.7 85.7,1099.1 86.3,1097.3 86.9,1098.4 87.4,1099.5 88.0,1098.2 88.5,1098.4 89.1,1097.2 89.6,1096.2 90.2,1096.2 90.7,1096.5 91.3,1098.0 91.9,1097.3 92.4,1097.5 93.0,1098.7 93.5,1096.2 94.1,1096.5 94.6,1097.8 95.2,1095.7 95.8,1095.6 96.3,1096.7 96.9,1095.8 97.4,1096.6 98.0,1096.1 98.5,1097.2 99.1,1097.2 99.7,1095.9 100.2,1097.2 100.8,1096.7 101.3,1095.5 101.9,1098.0 102.4,1095.8 103.0,1095.4 103.6,1095.2 104.1,1096.9 104.7,1097.6 105.2,1097.2 105.8,1096.0 106.3,1095.5 106.9,1094.6 107.5,1096.6 108.0,1096.3 108.6,1095.5 109.1,1096.4 109.7,1095.7 110.2,1097.3 110.8,1096.6 111.4,1094.9 111.9,1097.0 112.5,1094.2 113.0,1095.7 113.6,1095.2 114.1,1094.6 114.7,1093.9 115.2,1096.2 115.8,1093.6 116.4,1095.2 116.9,1096.4 117.5,1093.6 118.0,1093.4 118.6,1093.9 119.1,1091.9 119.7,1089.3 120.3,1085.7 120.8,1079.5 121.4,1078.1 121.9,1079.8 122.5,1083.0 123.0,1089.8 123.6,1092.4 124.2,1093.8 124.7,1092.2 125.3,1095.1 125.8,1094.9 126.4,1094.1 126.9,1094.9 127.5,1094.0 128.1,1093.3 128.6,1092.9 129.2,1093.2 129.7,1092.6 130.3,1093.5 130.8,1094.8 131.4,1094.6 132.0,1095.0 132.5,1094.5 133.1,1093.1 133.6,1093.9 134.2,1093.5 134.7,1094.6 135.3,1093.7 135.8,1092.8 136.4,1094.0 137.0,1095.0 137.5,1092.5 138.1,1094.6 138.6,1091.8 139.2,1092.5 139.7,1092.4 140.3,1094.0 140.9,1094.6 141.4,1093.9 142.0,1092.5 142.5,1094.2 143.1,1092.4 143.6,1092.1 144.2,1094.1 144.8,1093.2 145.3,1093.4 145.9,1093.2 146.4,1094.2 147.0,1092.5 147.5,1093.6 148.1,1093.1 148.7,1093.6 149.2,1092.2 149.8,1093.1 150.3,1092.5 150.9,1091.6 151.4,1091.3 152.0,1092.5 152.6,1090.7 153.1,1093.3 153.7,1090.8 154.2,1090.4 154.8,1090.6 155.3,1093.2 155.9,1091.3 156.5,1090.6 157.0,1090.2 157.6,1090.1 158.1,1092.2 158.7,1091.9 159.2,1092.1 159.8,1092.1 160.3,1089.9 160.9,1091.6 161.5,1090.8 162.0,1092.2 162.6,1092.1 163.1,1092.3 163.7,1089.6 164.2,1092.1 164.8,1092.2 165.4,1092.2 165.9,1089.5 166.5,1089.8 167.0,1089.5 167.6,1089.2 168.1,1091.8 168.7,1091.7 169.3,1091.0 169.8,1091.6 170.4,1090.9 170.9,1089.7 171.5,1089.0 172.0,1088.8 172.6,1090.7 173.2,1088.4 173.7,1087.6 174.3,1085.3 174.8,1078.6 175.4,1070.8 175.9,1060.6 176.5,1054.3 177.1,1053.2 177.6,1060.7 178.2,1073.1 178.7,1080.2 179.3,1086.6 179.8,1088.5 180.4,1087.8 181.0,1089.5 181.5,1089.8 182.1,1091.1 182.6,1089.8 183.2,1091.0 183.7,1090.5 184.3,1089.5 184.8,1091.6 185.4,1089.2 186.0,1091.5 186.5,1089.4 187.1,1088.8 187.6,1089.4 188.2,1091.1 188.7,1091.7 189.3,1088.3 189.9,1089.3 190.4,1088.0 191.0,1086.1 191.5,1079.3 192.1,1073.9 192.6,1068.0 193.2,1068.1 193.8,1070.1 194.3,1078.6 194.9,1082.2 195.4,1085.8 196.0,1089.4 196.5,1089.6 197.1,1088.7 197.7,1090.6 198.2,1088.9 198.8,1091.2 199.3,1090.9 199.9,1091.1 200.4,1090.6 201.0,1089.6 201.6,1089.6 202.1,1089.4 202.7,1090.6 203.2,1087.0 203.8,1087.2 204.3,1079.5 204.9,1071.7 205.4,1061.0 206.0,1053.5 206.6,1049.9 207.1,1056.1 207.7,1068.6 208.2,1076.5 208.8,1083.8 209.3,1087.6 209.9,1089.8 210.5,1090.5 211.0,1090.4 211.6,1089.7 212.1,1089.7 212.7,1089.3 213.2,1091.6 213.8,1091.1 214.4,1091.4 214.9,1089.6 215.5,1090.5 216.0,1091.6 216.6,1091.0 217.1,1089.5 217.7,1090.6 218.3,1092.0 218.8,1089.9 219.4,1089.8 219.9,1090.1 220.5,1091.4 221.0,1091.9 221.6,1089.7 222.2,1089.7 222.7,1090.0 223.3,1090.3 223.8,1090.9 224.4,1089.8 224.9,1090.3 225.5,1089.9 226.1,1092.4 226.6,1091.6 227.2,1089.6 227.7,1092.3 228.3,1089.6 228.8,1090.5 229.4,1092.4 229.9,1091.7 230.5,1091.5 231.1,1090.4 231.6,1089.2 232.2,1089.8 232.7,1086.6 233.3,1084.8 233.8,1083.3 234.4,1081.3 235.0,1083.3 235.5,1086.7 236.1,1088.4 236.6,1089.3 237.2,1090.5 237.7,1090.3 238.3,1089.4 238.9,1090.9 239.4,1090.3 240.0,1091.2 240.5,1091.4 241.1,1089.0 241.6,1087.7 242.2,1085.2 242.8,1080.2 243.3,1076.1 243.9,1076.8 244.4,1079.6 245.0,1083.1 245.5,1086.4 246.1,1089.1 246.7,1089.5 247.2,1089.1 247.8,1087.0 248.3,1083.1 248.9,1078.5 249.4,1070.1 250.0,1066.0 250.6,1067.1 251.1,1071.7 251.7,1077.7 252.2,1081.1 252.8,1082.8 253.3,1080.0 253.9,1073.7 254.4,1064.3 255.0,1058.6 255.6,1059.5 256.1,1064.0 256.7,1074.6 257.2,1082.6 257.8,1086.1 258.3,1088.9 258.9,1091.5 259.5,1088.9 260.0,1090.8 260.6,1089.7 261.1,1091.8 261.7,1092.4 262.2,1091.1 262.8,1089.8 263.4,1091.3 263.9,1091.2 264.5,1091.8 265.0,1091.0 265.6,1091.3 266.1,1091.4 266.7,1089.2 267.3,1086.7 267.8,1085.1 268.4,1079.1 268.9,1078.4 269.5,1078.3 270.0,1082.7 270.6,1084.3 271.2,1089.9 271.7,1089.5 272.3,1089.4 272.8,1090.4 273.4,1090.9 273.9,1089.8 274.5,1091.1 275.0,1091.2 275.6,1092.1 276.2,1091.0 276.7,1090.7 277.3,1090.6 277.8,1092.2 278.4,1092.8 278.9,1091.5 279.5,1090.5 280.1,1092.3 280.6,1090.9 281.2,1090.2 281.7,1089.7 282.3,1091.6 282.8,1091.3 283.4,1090.1 284.0,1087.9 284.5,1084.3 285.1,1075.1 285.6,1063.7 286.2,1043.8 286.7,1029.0 287.3,1025.7 287.9,1036.6 288.4,1053.4 289.0,1069.3 289.5,1081.0 290.1,1085.4 290.6,1090.3 291.2,1089.8 291.8,1092.0 292.3,1090.4 292.9,1091.0 293.4,1090.8 294.0,1091.4 294.5,1090.8 295.1,1090.3 295.7,1092.7 296.2,1091.3 296.8,1091.2 297.3,1091.4 297.9,1092.0 298.4,1091.9 299.0,1092.5 299.5,1092.6 300.1,1091.6 300.7,1093.4 301.2,1093.0 301.8,1090.2 302.3,1092.1 302.9,1090.9 303.4,1088.0 304.0,1082.1 304.6,1080.0 305.1,1076.7 305.7,1075.5 306.2,1078.8 306.8,1085.2 307.3,1085.7 307.9,1082.4 308.5,1075.9 309.0,1066.6 309.6,1057.3 310.1,1054.8 310.7,1057.7 311.2,1066.7 311.8,1078.6 312.4,1084.5 312.9,1084.8 313.5,1085.6 314.0,1080.1 314.6,1074.5 315.1,1069.6 315.7,1070.5 316.3,1075.1 316.8,1081.8 317.4,1085.2 317.9,1090.2 318.5,1091.4 319.0,1092.8 319.6,1092.2 320.2,1093.8 320.7,1092.9 321.3,1092.1 321.8,1092.0 322.4,1091.8 322.9,1092.9 323.5,1091.6 324.0,1092.9 324.6,1091.9 325.2,1093.0 325.7,1093.0 326.3,1093.0 326.8,1094.0 327.4,1091.1 327.9,1093.5 328.5,1091.8 329.1,1090.8 329.6,1088.3 330.2,1083.4 330.7,1073.7 331.3,1064.8 331.8,1061.0 332.4,1060.0 333.0,1069.5 333.5,1078.1 334.1,1082.2 334.6,1086.0 335.2,1084.2 335.7,1079.9 336.3,1071.8 336.9,1070.2 337.4,1070.2 338.0,1075.9 338.5,1083.8 339.1,1086.1 339.6,1091.3 340.2,1092.4 340.8,1092.1 341.3,1094.0 341.9,1092.6 342.4,1093.0 343.0,1093.1 343.5,1093.9 344.1,1092.0 344.6,1092.3 345.2,1091.2 345.8,1089.5 346.3,1086.7 346.9,1080.2 347.4,1077.7 348.0,1075.3 348.5,1078.6 349.1,1082.6 349.7,1087.7 350.2,1092.2 350.8,1092.7 351.3,1093.8 351.9,1092.6 352.4,1092.6 353.0,1092.6 353.6,1093.4 354.1,1093.2 354.7,1092.9 355.2,1088.9 355.8,1088.6 356.3,1086.5 356.9,1083.8 357.5,1082.8 358.0,1085.9 358.6,1087.7 359.1,1090.4 359.7,1093.9 360.2,1093.5 360.8,1093.9 361.4,1094.4 361.9,1094.8 362.5,1093.9 363.0,1093.9 363.6,1093.9 364.1,1094.1 364.7,1093.5 365.3,1093.2 365.8,1090.6 366.4,1090.3 366.9,1087.5 367.5,1086.9 368.0,1084.8 368.6,1086.7 369.1,1088.3 369.7,1092.5 370.3,1094.0 370.8,1093.8 371.4,1093.1 371.9,1094.7 372.5,1094.6 373.0,1093.9 373.6,1093.0 374.2,1093.1 374.7,1093.5 375.3,1093.2 375.8,1093.5 376.4,1094.2 376.9,1095.2 377.5,1092.3 378.1,1094.0 378.6,1092.3 379.2,1092.5 379.7,1094.7 380.3,1094.0 380.8,1095.1 381.4,1093.5 382.0,1092.1 382.5,1093.3 383.1,1093.9 383.6,1095.0 384.2,1095.1 384.7,1093.5 385.3,1093.2 385.9,1092.1 386.4,1093.8 387.0,1092.3 387.5,1091.9 388.1,1091.2 388.6,1090.5 389.2,1091.1 389.8,1086.1 390.3,1082.9 390.9,1071.9 391.4,1066.3 392.0,1060.3 392.5,1063.4 393.1,1073.6 393.6,1079.9 394.2,1086.8 394.8,1086.9 395.3,1085.0 395.9,1082.7 396.4,1075.4 397.0,1068.7 397.5,1065.1 398.1,1066.4 398.7,1075.5 399.2,1083.2 399.8,1087.7 400.3,1092.2 400.9,1091.4 401.4,1094.2 402.0,1093.7 402.6,1091.6 403.1,1091.7 403.7,1093.8 404.2,1094.4 404.8,1092.0 405.3,1092.8 405.9,1094.1 406.5,1092.2 407.0,1094.3 407.6,1092.8 408.1,1090.7 408.7,1090.1 409.2,1087.9 409.8,1083.4 410.4,1080.1 410.9,1076.6 411.5,1080.5 412.0,1083.2 412.6,1088.1 413.1,1091.0 413.7,1092.0 414.2,1092.6 414.8,1094.2 415.4,1094.8 415.9,1094.4 416.5,1093.7 417.0,1092.9 417.6,1092.2 418.1,1095.1 418.7,1094.2 419.3,1094.6 419.8,1093.0 420.4,1093.8 420.9,1094.8 421.5,1094.1 422.0,1092.6 422.6,1090.2 423.2,1088.1 423.7,1086.2 424.3,1081.7 424.8,1082.0 425.4,1083.7 425.9,1087.8 426.5,1090.5 427.1,1090.8 427.6,1090.8 428.2,1092.0 428.7,1092.6 429.3,1092.8 429.8,1092.8 430.4,1091.2 431.0,1084.8 431.5,1081.3 432.1,1074.1 432.6,1068.9 433.2,1068.0 433.7,1072.4 434.3,1081.5 434.9,1087.3 435.4,1090.7 436.0,1093.3 436.5,1092.3 437.1,1091.8 437.6,1093.5 438.2,1094.4 438.7,1092.6 439.3,1094.4 439.9,1095.0 440.4,1092.8 441.0,1094.0 441.5,1094.3 442.1,1093.6 442.6,1092.8 443.2,1093.0 443.8,1094.5 444.3,1094.7 444.9,1093.6 445.4,1092.4 446.0,1094.6 446.5,1094.4 447.1,1092.5 447.7,1093.1 448.2,1093.2 448.8,1091.7 449.3,1088.9 449.9,1087.8 450.4,1088.6 451.0,1088.7 451.6,1090.2 452.1,1091.4 452.7,1093.8 453.2,1093.1 453.8,1093.9 454.3,1093.4 454.9,1093.8 455.5,1092.6 456.0,1092.3 456.6,1095.3 457.1,1093.3 457.7,1092.5 458.2,1094.1 458.8,1094.5 459.4,1092.2 459.9,1093.1 460.5,1091.2 461.0,1090.2 461.6,1086.9 462.1,1085.8 462.7,1089.3 463.2,1090.4 463.8,1090.9 464.4,1092.5 464.9,1092.3 465.5,1094.4 466.0,1093.4 466.6,1095.1 467.1,1094.6 467.7,1094.8 468.3,1095.2 468.8,1093.0 469.4,1092.3 469.9,1092.8 470.5,1092.7 471.0,1092.4 471.6,1092.3 472.2,1093.9 472.7,1094.8 473.3,1093.5 473.8,1095.0 474.4,1094.8 474.9,1091.9 475.5,1093.4 476.1,1092.0 476.6,1089.5 477.2,1089.1 477.7,1082.3 478.3,1078.2 478.8,1075.4 479.4,1077.5 480.0,1081.0 480.5,1085.1 481.1,1089.1 481.6,1090.5 482.2,1094.1 482.7,1094.6 483.3,1092.2 483.8,1091.4 484.4,1091.3 485.0,1090.1 485.5,1089.5 486.1,1086.5 486.6,1084.1 487.2,1081.6 487.7,1086.2 488.3,1088.9 488.9,1091.2 489.4,1093.8 490.0,1091.6 490.5,1092.3 491.1,1094.3 491.6,1095.0 492.2,1094.2 492.8,1093.0 493.3,1093.9 493.9,1094.4 494.4,1092.2 495.0,1092.8 495.5,1092.4 496.1,1091.7 496.7,1092.2 497.2,1089.6 497.8,1086.2 498.3,1079.6 498.9,1072.3 499.4,1061.4 500.0,1059.7 500.6,1062.0 501.1,1070.3 501.7,1082.1 502.2,1086.2 502.8,1092.1 503.3,1093.5 503.9,1094.3 504.5,1092.2 505.0,1093.4 505.6,1092.4 506.1,1095.1 506.7,1094.9 507.2,1094.3 507.8,1093.8 508.3,1093.4 508.9,1095.0 509.5,1094.0 510.0,1094.5 510.6,1092.9 511.1,1093.2 511.7,1092.7 512.2,1094.8 512.8,1094.3 513.4,1093.0 513.9,1095.3 514.5,1093.4 515.0,1093.9 515.6,1093.1 516.1,1093.5 516.7,1095.3 517.3,1093.7 517.8,1093.1 518.4,1094.2 518.9,1093.6 519.5,1095.5 520.0,1093.0 520.6,1095.8 521.2,1092.8 521.7,1095.5 522.3,1094.8 522.8,1093.3 523.4,1094.1 523.9,1093.5 524.5,1093.4 525.1,1093.2 525.6,1093.7 526.2,1095.7 526.7,1095.6 527.3,1095.3 527.8,1092.3 528.4,1092.3 529.0,1092.9 529.5,1087.9 530.1,1087.0 530.6,1083.0 531.2,1084.5 531.7,1083.2 532.3,1088.8 532.8,1090.0 533.4,1091.2 534.0,1091.7 534.5,1094.7 535.1,1093.8 535.6,1092.5 536.2,1092.6 536.7,1092.9 537.3,1088.9 537.9,1088.3 538.4,1086.1 539.0,1087.0 539.5,1090.7 540.1,1092.3 540.6,1092.0 541.2,1092.3 541.8,1092.7 542.3,1094.5 542.9,1094.2 543.4,1093.6 544.0,1093.4 544.5,1094.7 545.1,1095.0 545.7,1095.4 546.2,1094.6 546.8,1093.4 547.3,1093.0 547.9,1095.1 548.4,1094.1 549.0,1095.1 549.6,1092.9 550.1,1095.4 550.7,1093.8 551.2,1095.4 551.8,1095.4 552.3,1094.2 552.9,1092.6 553.4,1095.3 554.0,1093.6 554.6,1094.0 555.1,1090.2 555.7,1086.9 556.2,1084.9 556.8,1079.9 557.3,1078.4 557.9,1081.5 558.5,1086.2 559.0,1088.0 559.6,1092.1 560.1,1093.2 560.7,1094.0 561.2,1092.9 561.8,1095.0 562.4,1095.4 562.9,1095.6 563.5,1093.9 564.0,1095.2 564.6,1094.1 565.1,1095.3 565.7,1093.1 566.3,1095.8 566.8,1096.0 567.4,1094.6 567.9,1094.6 568.5,1094.7 569.0,1094.7 569.6,1093.1 570.2,1096.1 570.7,1093.8 571.3,1093.6 571.8,1093.4 572.4,1093.9 572.9,1095.7 573.5,1093.2 574.1,1093.4 574.6,1095.3 575.2,1093.7 575.7,1093.2 576.3,1095.0 576.8,1095.0 577.4,1094.8 577.9,1095.4 578.5,1093.5 579.1,1095.9 579.6,1095.4 580.2,1093.3 580.7,1093.5 581.3,1094.7 581.8,1094.8 582.4,1094.1 583.0,1093.6 583.5,1094.5 584.1,1093.6 584.6,1095.1 585.2,1095.9 585.7,1093.7 586.3,1095.0 586.9,1095.6 587.4,1093.7 588.0,1095.8 588.5,1096.2 589.1,1094.5 589.6,1094.6 590.2,1095.9 590.8,1094.9 591.3,1094.5 591.9,1096.2 592.4,1095.7 593.0,1094.3 593.5,1094.0 594.1,1094.3 594.7,1094.6 595.2,1096.3 595.8,1095.8 596.3,1096.1 596.9,1095.8 597.4,1095.8 598.0,1093.0 598.6,1094.0 599.1,1094.6 599.7,1093.5 600.2,1090.4 600.8,1090.8 601.3,1092.1 601.9,1092.3 602.4,1093.7 603.0,1092.9 603.6,1094.4 604.1,1094.8 604.7,1093.3 605.2,1093.7 605.8,1096.4 606.3,1095.8 606.9,1096.3 607.5,1095.4 608.0,1095.9 608.6,1096.2 609.1,1096.2 609.7,1093.5 610.2,1095.4 610.8,1094.2" stroke="#e9a18e" stroke-width="3" fill="none" stroke-linejoin="round" stroke-linecap="round" />
<path d="M720.7,924.0 C721.1,923.3 721.8,917.6 723.1,919.9 C724.3,922.3 726.5,929.5 728.2,938.3 C729.9,947.2 731.6,971.0 733.3,973.0 C735.0,975.0 737.0,956.3 738.4,950.6 C739.7,944.8 739.9,941.5 741.4,938.3 C743.0,935.1 745.7,930.5 747.6,931.2 C749.4,931.9 751.3,938.8 752.7,942.4 C754.0,946.0 754.5,954.0 755.7,952.6 C756.9,951.2 758.3,939.7 759.8,934.2 C761.3,928.8 763.2,919.6 764.9,919.9 C766.6,920.3 768.3,928.8 770.0,936.3 C771.7,943.8 773.6,967.2 775.1,964.8 C776.7,962.5 777.8,935.4 779.2,922.0 C780.6,908.6 781.9,885.3 783.3,884.2 C784.6,883.2 786.3,907.0 787.4,915.9 C788.4,924.7 788.6,937.0 789.4,937.3 C790.3,937.6 791.4,924.2 792.5,917.9 C793.5,911.6 794.3,904.0 795.5,899.5 C796.7,895.1 798.4,894.8 799.6,891.4 C800.8,888.0 801.7,878.1 802.7,879.1 C803.7,880.2 804.7,887.0 805.7,897.5 C806.8,908.0 807.6,926.4 808.8,942.4 C810.0,958.4 811.5,980.0 812.9,993.4 C814.2,1006.8 815.6,1020.9 817.0,1022.6 C818.3,1024.3 819.7,1016.3 821.0,1003.6 C822.4,990.9 823.8,963.1 825.1,946.5 C826.5,929.8 827.8,908.7 829.2,903.6 C830.6,898.5 831.9,911.4 833.3,915.9 C834.6,920.3 836.2,926.7 837.4,930.2 C838.6,933.6 839.6,940.0 840.4,936.3 C841.3,932.5 841.8,916.5 842.5,907.7 C843.1,898.9 843.5,887.6 844.5,883.2 C845.5,878.8 847.2,884.9 848.6,881.2 C850.0,877.4 851.3,867.7 852.7,860.8 C854.0,853.8 855.6,839.3 856.8,839.3 C857.9,839.3 858.8,852.1 859.8,860.8 C860.8,869.4 862.0,883.9 862.9,891.4 C863.7,898.9 864.2,904.3 864.9,905.7 C865.6,907.0 866.1,897.8 867.0,899.5 C867.8,901.2 869.0,905.3 870.0,915.9 C871.0,926.4 872.1,948.2 873.1,962.8 C874.1,977.4 875.1,993.7 876.1,1003.6 C877.2,1013.6 878.2,1019.4 879.2,1022.6 C880.2,1025.8 873.0,1022.6 882.2,1022.6 C891.4,1022.6 925.4,1022.6 934.6,1022.6 C943.8,1022.6 935.8,1030.0 937.6,1022.6 C939.4,1015.2 943.4,994.9 945.4,978.4 C947.5,961.8 948.5,923.4 950.0,923.4 C951.6,923.4 953.2,961.8 954.6,978.4 C956.0,994.9 957.1,1020.4 958.5,1022.6 C960.0,1024.8 961.7,1000.3 963.1,991.4 C964.5,982.5 965.5,969.2 967.0,969.2 C968.6,969.2 970.5,991.6 972.3,991.4 C974.1,991.3 976.1,966.4 977.9,968.5 C979.8,970.7 981.9,995.5 983.4,1004.5 C984.9,1013.5 985.6,1019.6 986.7,1022.6 C987.7,1025.6 960.7,1022.6 989.7,1022.6 C1018.7,1022.6 1131.6,1022.6 1160.6,1022.6 C1189.5,1022.6 1162.1,1026.7 1163.6,1022.6 C1165.0,1018.5 1167.4,1006.1 1169.1,997.9 C1170.9,989.6 1172.3,973.1 1173.9,973.1 C1175.5,973.1 1177.3,989.6 1178.7,997.9 C1180.2,1006.1 1181.5,1018.5 1182.7,1022.6 C1183.9,1026.7 1184.7,1022.6 1185.7,1022.6 C1186.7,1022.6 1187.5,1022.6 1188.5,1022.6 C1189.4,1022.6 1189.9,1029.4 1191.5,1022.6 C1193.1,1015.8 1196.0,991.1 1197.9,981.9 C1199.7,972.7 1201.2,968.1 1202.7,967.5 C1204.1,967.0 1205.4,978.7 1206.6,978.7 C1207.8,978.7 1208.5,967.0 1209.8,967.5 C1211.2,968.1 1212.9,982.7 1214.6,981.9 C1216.4,981.1 1218.5,967.0 1220.2,962.8 C1221.9,958.5 1223.4,964.9 1225.0,956.4 C1226.6,947.9 1228.3,914.1 1229.8,911.7 C1231.2,909.3 1232.6,932.4 1233.8,942.0 C1235.0,951.6 1235.8,965.2 1237.0,969.1 C1238.2,973.1 1239.5,961.2 1241.0,966.0 C1242.4,970.7 1243.9,988.4 1245.7,997.9 C1247.6,1007.3 1250.0,1025.3 1252.1,1022.6 C1254.2,1019.9 1256.4,996.1 1258.5,981.9 C1260.6,967.7 1263.2,946.9 1264.9,937.2 C1266.6,927.5 1267.5,923.9 1268.9,923.7 C1270.2,923.4 1271.5,934.7 1272.9,935.6 C1274.2,936.6 1275.8,929.5 1276.9,929.3 C1277.9,929.0 1278.9,933.2 1279.3,934.0" stroke="#52585a" stroke-width="3.2" fill="none" stroke-linejoin="round" stroke-linecap="round" />
<path d="M720.7,1121.2 C721.1,1121.9 721.8,1127.6 723.1,1125.3 C724.3,1122.9 726.5,1115.7 728.2,1106.9 C729.9,1098.0 731.6,1074.2 733.3,1072.2 C735.0,1070.2 737.0,1088.9 738.4,1094.6 C739.7,1100.4 739.9,1103.7 741.4,1106.9 C743.0,1110.1 745.7,1114.7 747.6,1114.0 C749.4,1113.3 751.3,1106.4 752.7,1102.8 C754.0,1099.2 754.5,1091.2 755.7,1092.6 C756.9,1094.0 758.3,1105.5 759.8,1111.0 C761.3,1116.4 763.2,1125.6 764.9,1125.3 C766.6,1124.9 768.3,1116.4 770.0,1108.9 C771.7,1101.4 773.6,1078.0 775.1,1080.4 C776.7,1082.7 777.8,1109.8 779.2,1123.2 C780.6,1136.6 781.9,1159.9 783.3,1161.0 C784.6,1162.0 786.3,1138.2 787.4,1129.3 C788.4,1120.5 788.6,1108.2 789.4,1107.9 C790.3,1107.6 791.4,1121.0 792.5,1127.3 C793.5,1133.6 794.3,1141.2 795.5,1145.7 C796.7,1150.1 798.4,1150.4 799.6,1153.8 C800.8,1157.2 801.7,1167.1 802.7,1166.1 C803.7,1165.0 804.7,1158.2 805.7,1147.7 C806.8,1137.2 807.6,1118.8 808.8,1102.8 C810.0,1086.8 811.5,1065.2 812.9,1051.8 C814.2,1038.4 815.6,1024.3 817.0,1022.6 C818.3,1020.9 819.7,1028.9 821.0,1041.6 C822.4,1054.3 823.8,1082.1 825.1,1098.7 C826.5,1115.4 827.8,1136.5 829.2,1141.6 C830.6,1146.7 831.9,1133.8 833.3,1129.3 C834.6,1124.9 836.2,1118.5 837.4,1115.0 C838.6,1111.6 839.6,1105.2 840.4,1108.9 C841.3,1112.7 841.8,1128.7 842.5,1137.5 C843.1,1146.3 843.5,1157.6 844.5,1162.0 C845.5,1166.4 847.2,1160.3 848.6,1164.0 C850.0,1167.8 851.3,1177.5 852.7,1184.4 C854.0,1191.4 855.6,1205.9 856.8,1205.9 C857.9,1205.9 858.8,1193.1 859.8,1184.4 C860.8,1175.8 862.0,1161.3 862.9,1153.8 C863.7,1146.3 864.2,1140.9 864.9,1139.5 C865.6,1138.2 866.1,1147.4 867.0,1145.7 C867.8,1144.0 869.0,1139.9 870.0,1129.3 C871.0,1118.8 872.1,1097.0 873.1,1082.4 C874.1,1067.8 875.1,1051.5 876.1,1041.6 C877.2,1031.6 878.2,1025.8 879.2,1022.6 C880.2,1019.4 873.0,1022.6 882.2,1022.6 C891.4,1022.6 925.4,1022.6 934.6,1022.6 C943.8,1022.6 935.8,1015.2 937.6,1022.6 C939.4,1030.0 943.4,1050.3 945.4,1066.8 C947.5,1083.4 948.5,1121.8 950.0,1121.8 C951.6,1121.8 953.2,1083.4 954.6,1066.8 C956.0,1050.3 957.1,1024.8 958.5,1022.6 C960.0,1020.4 961.7,1044.9 963.1,1053.8 C964.5,1062.7 965.5,1076.0 967.0,1076.0 C968.6,1076.0 970.5,1053.6 972.3,1053.8 C974.1,1053.9 976.1,1078.8 977.9,1076.7 C979.8,1074.5 981.9,1049.7 983.4,1040.7 C984.9,1031.7 985.6,1025.6 986.7,1022.6 C987.7,1019.6 960.7,1022.6 989.7,1022.6 C1018.7,1022.6 1131.6,1022.6 1160.6,1022.6 C1189.5,1022.6 1162.1,1018.5 1163.6,1022.6 C1165.0,1026.7 1167.4,1039.1 1169.1,1047.3 C1170.9,1055.6 1172.3,1072.1 1173.9,1072.1 C1175.5,1072.1 1177.3,1055.6 1178.7,1047.3 C1180.2,1039.1 1181.5,1026.7 1182.7,1022.6 C1183.9,1018.5 1184.7,1022.6 1185.7,1022.6 C1186.7,1022.6 1187.5,1022.6 1188.5,1022.6 C1189.4,1022.6 1189.9,1015.8 1191.5,1022.6 C1193.1,1029.4 1196.0,1054.1 1197.9,1063.3 C1199.7,1072.5 1201.2,1077.1 1202.7,1077.7 C1204.1,1078.2 1205.4,1066.5 1206.6,1066.5 C1207.8,1066.5 1208.5,1078.2 1209.8,1077.7 C1211.2,1077.1 1212.9,1062.5 1214.6,1063.3 C1216.4,1064.1 1218.5,1078.2 1220.2,1082.4 C1221.9,1086.7 1223.4,1080.3 1225.0,1088.8 C1226.6,1097.3 1228.3,1131.1 1229.8,1133.5 C1231.2,1135.9 1232.6,1112.8 1233.8,1103.2 C1235.0,1093.6 1235.8,1080.0 1237.0,1076.1 C1238.2,1072.1 1239.5,1084.0 1241.0,1079.2 C1242.4,1074.5 1243.9,1056.8 1245.7,1047.3 C1247.6,1037.9 1250.0,1019.9 1252.1,1022.6 C1254.2,1025.3 1256.4,1049.1 1258.5,1063.3 C1260.6,1077.5 1263.2,1098.3 1264.9,1108.0 C1266.6,1117.7 1267.5,1121.3 1268.9,1121.5 C1270.2,1121.8 1271.5,1110.5 1272.9,1109.6 C1274.2,1108.6 1275.8,1115.7 1276.9,1115.9 C1277.9,1116.2 1278.9,1112.0 1279.3,1111.2" stroke="#52585a" stroke-width="3.2" fill="none" stroke-linejoin="round" stroke-linecap="round" />
<path d="M720.7,1010.8 C721.1,1010.6 721.7,1010.1 723.1,1009.7 C724.5,1009.4 727.5,1008.2 729.2,1008.7 C730.9,1009.2 731.9,1011.8 733.3,1012.8 C734.6,1013.8 736.0,1014.3 737.4,1014.8 C738.7,1015.4 739.7,1016.2 741.4,1015.9 C743.1,1015.5 745.7,1013.0 747.6,1012.8 C749.4,1012.6 751.3,1014.2 752.7,1014.8 C754.0,1015.5 754.5,1016.9 755.7,1016.9 C756.9,1016.9 758.1,1014.8 759.8,1014.8 C761.5,1014.8 764.2,1016.4 765.9,1016.9 C767.6,1017.4 768.3,1018.1 770.0,1017.9 C771.7,1017.7 774.1,1016.0 776.1,1015.9 C778.2,1015.7 780.2,1016.9 782.3,1016.9 C784.3,1016.9 786.7,1016.5 788.4,1015.9 C790.1,1015.2 791.1,1014.5 792.5,1012.8 C793.8,1011.1 795.2,1009.6 796.6,1005.7 C797.9,1001.7 799.6,993.1 800.6,989.3 C801.7,985.6 801.8,982.2 802.7,983.2 C803.5,984.2 804.5,990.7 805.7,995.5 C806.9,1000.2 808.5,1007.7 809.8,1011.8 C811.2,1015.9 812.7,1018.1 813.9,1019.9 C815.1,1021.7 815.8,1025.3 817.0,1022.6 C818.1,1019.9 819.7,1013.6 821.0,1003.6 C822.4,993.7 824.1,973.7 825.1,962.8 C826.1,951.9 826.5,943.4 827.2,938.3 C827.8,933.2 828.4,930.8 829.2,932.2 C830.1,933.6 831.2,941.4 832.3,946.5 C833.3,951.6 834.1,956.7 835.3,962.8 C836.5,968.9 838.0,976.4 839.4,983.2 C840.8,990.0 842.1,998.9 843.5,1003.6 C844.9,1008.4 846.2,1010.4 847.6,1011.8 C848.9,1013.1 850.3,1012.8 851.7,1011.8 C853.0,1010.8 854.4,1007.4 855.7,1005.7 C857.1,1004.0 858.5,1002.9 859.8,1001.6 C861.2,1000.2 862.7,1000.9 863.9,997.5 C865.1,994.1 866.1,983.6 867.0,981.2 C867.8,978.8 868.1,979.5 869.0,983.2 C869.9,987.0 870.9,997.7 872.1,1003.6 C873.3,1009.6 875.0,1015.8 876.1,1018.9 C877.3,1022.1 878.2,1022.0 879.2,1022.6 C880.2,1023.2 873.0,1022.6 882.2,1022.6 C891.4,1022.6 925.4,1022.6 934.6,1022.6 C943.8,1022.6 935.8,1027.8 937.6,1022.6 C939.4,1017.4 943.4,1002.7 945.4,991.4 C947.5,980.1 948.5,954.8 950.0,954.8 C951.6,954.8 953.2,980.1 954.6,991.4 C956.0,1002.7 957.1,1020.9 958.5,1022.6 C960.0,1024.3 961.7,1007.5 963.1,1001.9 C964.5,996.3 965.5,988.6 967.0,988.8 C968.6,989.0 970.5,1002.8 972.3,1003.2 C974.1,1003.7 976.1,990.1 977.9,991.4 C979.8,992.8 981.9,1005.9 983.4,1011.1 C984.9,1016.3 985.6,1020.7 986.7,1022.6 C987.7,1024.5 960.7,1022.6 989.7,1022.6 C1018.7,1022.6 1131.6,1022.6 1160.6,1022.6 C1189.5,1022.6 1162.1,1026.7 1163.6,1022.6 C1165.0,1018.5 1167.4,1006.1 1169.1,997.9 C1170.9,989.6 1172.3,973.1 1173.9,973.1 C1175.5,973.1 1177.3,989.6 1178.7,997.9 C1180.2,1006.1 1181.5,1018.5 1182.7,1022.6 C1183.9,1026.7 1184.7,1022.6 1185.7,1022.6 C1186.7,1022.6 1187.5,1022.6 1188.5,1022.6 C1189.4,1022.6 1189.9,1029.4 1191.5,1022.6 C1193.1,1015.8 1196.0,991.1 1197.9,981.9 C1199.7,972.7 1201.2,968.1 1202.7,967.5 C1204.1,967.0 1205.4,978.7 1206.6,978.7 C1207.8,978.7 1208.5,966.2 1209.8,967.5 C1211.2,968.9 1212.9,987.2 1214.6,986.7 C1216.4,986.2 1218.6,967.5 1220.2,964.4 C1221.8,961.2 1222.9,967.3 1224.2,967.5 C1225.5,967.8 1226.9,963.6 1228.2,966.0 C1229.5,968.3 1231.0,977.1 1232.2,981.9 C1233.4,986.7 1234.2,997.1 1235.4,994.7 C1236.6,992.3 1237.9,968.3 1239.4,967.5 C1240.8,966.8 1242.4,980.7 1244.1,989.9 C1245.9,999.1 1248.1,1017.4 1249.7,1022.6 C1251.3,1027.8 1251.7,1023.8 1253.7,1021.0 C1255.7,1018.2 1259.3,1013.7 1261.7,1005.8 C1264.1,998.0 1266.0,982.7 1268.1,973.9 C1270.2,965.2 1272.6,958.4 1274.5,953.2 C1276.3,948.0 1278.5,944.5 1279.3,942.8" stroke="#d9675a" stroke-width="3.2" fill="none" stroke-linejoin="round" stroke-linecap="round" />
<path d="M720.7,1034.4 C721.1,1034.6 721.7,1035.1 723.1,1035.5 C724.5,1035.8 727.5,1037.0 729.2,1036.5 C730.9,1036.0 731.9,1033.4 733.3,1032.4 C734.6,1031.4 736.0,1030.9 737.4,1030.4 C738.7,1029.8 739.7,1029.0 741.4,1029.3 C743.1,1029.7 745.7,1032.2 747.6,1032.4 C749.4,1032.6 751.3,1031.0 752.7,1030.4 C754.0,1029.7 754.5,1028.3 755.7,1028.3 C756.9,1028.3 758.1,1030.4 759.8,1030.4 C761.5,1030.4 764.2,1028.8 765.9,1028.3 C767.6,1027.8 768.3,1027.1 770.0,1027.3 C771.7,1027.5 774.1,1029.2 776.1,1029.3 C778.2,1029.5 780.2,1028.3 782.3,1028.3 C784.3,1028.3 786.7,1028.7 788.4,1029.3 C790.1,1030.0 791.1,1030.7 792.5,1032.4 C793.8,1034.1 795.2,1035.6 796.6,1039.5 C797.9,1043.5 799.6,1052.1 800.6,1055.9 C801.7,1059.6 801.8,1063.0 802.7,1062.0 C803.5,1061.0 804.5,1054.5 805.7,1049.7 C806.9,1045.0 808.5,1037.5 809.8,1033.4 C811.2,1029.3 812.7,1027.1 813.9,1025.3 C815.1,1023.5 815.8,1019.9 817.0,1022.6 C818.1,1025.3 819.7,1031.6 821.0,1041.6 C822.4,1051.5 824.1,1071.5 825.1,1082.4 C826.1,1093.3 826.5,1101.8 827.2,1106.9 C827.8,1112.0 828.4,1114.4 829.2,1113.0 C830.1,1111.6 831.2,1103.8 832.3,1098.7 C833.3,1093.6 834.1,1088.5 835.3,1082.4 C836.5,1076.3 838.0,1068.8 839.4,1062.0 C840.8,1055.2 842.1,1046.3 843.5,1041.6 C844.9,1036.8 846.2,1034.8 847.6,1033.4 C848.9,1032.1 850.3,1032.4 851.7,1033.4 C853.0,1034.4 854.4,1037.8 855.7,1039.5 C857.1,1041.2 858.5,1042.3 859.8,1043.6 C861.2,1045.0 862.7,1044.3 863.9,1047.7 C865.1,1051.1 866.1,1061.6 867.0,1064.0 C867.8,1066.4 868.1,1065.7 869.0,1062.0 C869.9,1058.2 870.9,1047.5 872.1,1041.6 C873.3,1035.6 875.0,1029.4 876.1,1026.3 C877.3,1023.1 878.2,1023.2 879.2,1022.6 C880.2,1022.0 873.0,1022.6 882.2,1022.6 C891.4,1022.6 925.4,1022.6 934.6,1022.6 C943.8,1022.6 935.8,1017.4 937.6,1022.6 C939.4,1027.8 943.4,1042.5 945.4,1053.8 C947.5,1065.1 948.5,1090.4 950.0,1090.4 C951.6,1090.4 953.2,1065.1 954.6,1053.8 C956.0,1042.5 957.1,1024.3 958.5,1022.6 C960.0,1020.9 961.7,1037.7 963.1,1043.3 C964.5,1048.9 965.5,1056.6 967.0,1056.4 C968.6,1056.2 970.5,1042.4 972.3,1042.0 C974.1,1041.5 976.1,1055.1 977.9,1053.8 C979.8,1052.4 981.9,1039.3 983.4,1034.1 C984.9,1028.9 985.6,1024.5 986.7,1022.6 C987.7,1020.7 960.7,1022.6 989.7,1022.6 C1018.7,1022.6 1131.6,1022.6 1160.6,1022.6 C1189.5,1022.6 1162.1,1018.5 1163.6,1022.6 C1165.0,1026.7 1167.4,1039.1 1169.1,1047.3 C1170.9,1055.6 1172.3,1072.1 1173.9,1072.1 C1175.5,1072.1 1177.3,1055.6 1178.7,1047.3 C1180.2,1039.1 1181.5,1026.7 1182.7,1022.6 C1183.9,1018.5 1184.7,1022.6 1185.7,1022.6 C1186.7,1022.6 1187.5,1022.6 1188.5,1022.6 C1189.4,1022.6 1189.9,1015.8 1191.5,1022.6 C1193.1,1029.4 1196.0,1054.1 1197.9,1063.3 C1199.7,1072.5 1201.2,1077.1 1202.7,1077.7 C1204.1,1078.2 1205.4,1066.5 1206.6,1066.5 C1207.8,1066.5 1208.5,1079.0 1209.8,1077.7 C1211.2,1076.3 1212.9,1058.0 1214.6,1058.5 C1216.4,1059.0 1218.6,1077.7 1220.2,1080.8 C1221.8,1084.0 1222.9,1077.9 1224.2,1077.7 C1225.5,1077.4 1226.9,1081.6 1228.2,1079.2 C1229.5,1076.9 1231.0,1068.1 1232.2,1063.3 C1233.4,1058.5 1234.2,1048.1 1235.4,1050.5 C1236.6,1052.9 1237.9,1076.9 1239.4,1077.7 C1240.8,1078.4 1242.4,1064.5 1244.1,1055.3 C1245.9,1046.1 1248.1,1027.8 1249.7,1022.6 C1251.3,1017.4 1251.7,1021.4 1253.7,1024.2 C1255.7,1027.0 1259.3,1031.5 1261.7,1039.4 C1264.1,1047.2 1266.0,1062.5 1268.1,1071.3 C1270.2,1080.0 1272.6,1086.8 1274.5,1092.0 C1276.3,1097.2 1278.5,1100.7 1279.3,1102.4" stroke="#d9675a" stroke-width="3.2" fill="none" stroke-linejoin="round" stroke-linecap="round" />
<path d="M720.7,946.5 C721.1,946.1 721.8,940.4 723.1,944.4 C724.3,948.5 726.5,963.8 728.2,971.0 C729.9,978.1 731.8,988.0 733.3,987.3 C734.8,986.6 736.0,972.7 737.4,966.9 C738.7,961.1 739.7,955.8 741.4,952.6 C743.1,949.4 745.7,946.5 747.6,947.5 C749.4,948.5 751.3,955.7 752.7,958.7 C754.0,961.8 754.5,966.5 755.7,965.9 C756.9,965.2 758.3,957.5 759.8,954.6 C761.3,951.7 763.2,947.2 764.9,948.5 C766.6,949.9 768.3,957.0 770.0,962.8 C771.7,968.6 773.6,985.3 775.1,983.2 C776.7,981.2 777.8,961.8 779.2,950.6 C780.6,939.3 781.9,916.5 783.3,915.9 C784.6,915.2 786.3,938.7 787.4,946.5 C788.4,954.3 788.6,962.1 789.4,962.8 C790.3,963.5 791.4,953.8 792.5,950.6 C793.5,947.3 794.3,942.4 795.5,943.4 C796.7,944.4 798.4,954.1 799.6,956.7 C800.8,959.2 801.7,957.7 802.7,958.7 C803.7,959.7 804.5,958.7 805.7,962.8 C806.9,966.9 808.5,975.7 809.8,983.2 C811.2,990.7 812.7,1001.1 813.9,1007.7 C815.1,1014.3 815.8,1021.2 817.0,1022.6 C818.1,1024.0 819.7,1017.3 821.0,1015.9 C822.4,1014.4 823.8,1014.5 825.1,1013.8 C826.5,1013.1 827.8,1012.3 829.2,1011.8 C830.6,1011.3 831.9,1010.6 833.3,1010.8 C834.6,1010.9 836.0,1012.3 837.4,1012.8 C838.7,1013.3 840.1,1013.8 841.4,1013.8 C842.8,1013.8 844.2,1012.5 845.5,1012.8 C846.9,1013.1 848.3,1015.7 849.6,1015.9 C851.0,1016.0 852.3,1014.2 853.7,1013.8 C855.1,1013.5 856.4,1014.3 857.8,1013.8 C859.1,1013.3 860.5,1011.8 861.9,1010.8 C863.2,1009.7 864.7,1009.1 865.9,1007.7 C867.1,1006.3 868.0,1002.3 869.0,1002.6 C870.0,1002.9 870.9,1007.0 872.1,1009.7 C873.3,1012.5 875.0,1016.8 876.1,1018.9 C877.3,1021.1 878.2,1022.0 879.2,1022.6 C880.2,1023.2 873.0,1022.6 882.2,1022.6 C891.4,1022.6 925.4,1022.6 934.6,1022.6 C943.8,1022.6 935.8,1024.3 937.6,1022.6 C939.4,1020.9 943.4,1016.1 945.4,1012.4 C947.5,1008.7 948.5,1000.6 950.0,1000.6 C951.6,1000.6 953.2,1008.7 954.6,1012.4 C956.0,1016.1 957.2,1022.6 958.5,1022.6 C959.8,1022.6 961.2,1015.2 962.5,1012.4 C963.8,1009.6 964.8,1006.1 966.4,1005.8 C968.0,1005.6 970.4,1012.1 972.3,1011.1 C974.2,1010.1 976.1,999.5 977.9,1000.0 C979.8,1000.4 981.9,1009.9 983.4,1013.7 C984.9,1017.5 985.6,1021.1 986.7,1022.6 C987.7,1024.1 955.0,1022.6 989.7,1022.6 C1024.4,1022.6 1160.2,1022.6 1194.9,1022.6 C1229.6,1022.6 1195.5,1023.1 1197.9,1022.6 C1200.2,1022.1 1205.6,1019.4 1209.0,1019.4 C1212.5,1019.4 1215.4,1022.6 1218.6,1022.6 C1221.8,1022.6 1224.7,1019.4 1228.2,1019.4 C1231.6,1019.4 1237.0,1022.1 1239.4,1022.6 C1241.7,1023.1 1239.1,1022.6 1242.4,1022.6 C1245.6,1022.6 1255.5,1022.6 1258.7,1022.6 C1261.9,1022.6 1259.6,1023.7 1261.7,1022.6 C1263.8,1021.5 1268.3,1016.9 1271.3,1016.2 C1274.2,1015.6 1278.0,1018.2 1279.3,1018.6" stroke="#1d9e8a" stroke-width="3.2" fill="none" stroke-linejoin="round" stroke-linecap="round" />
<path d="M720.7,1098.7 C721.1,1099.1 721.8,1104.8 723.1,1100.8 C724.3,1096.7 726.5,1081.4 728.2,1074.2 C729.9,1067.1 731.8,1057.2 733.3,1057.9 C734.8,1058.6 736.0,1072.5 737.4,1078.3 C738.7,1084.1 739.7,1089.4 741.4,1092.6 C743.1,1095.8 745.7,1098.7 747.6,1097.7 C749.4,1096.7 751.3,1089.5 752.7,1086.5 C754.0,1083.4 754.5,1078.7 755.7,1079.3 C756.9,1080.0 758.3,1087.7 759.8,1090.6 C761.3,1093.5 763.2,1098.0 764.9,1096.7 C766.6,1095.3 768.3,1088.2 770.0,1082.4 C771.7,1076.6 773.6,1059.9 775.1,1062.0 C776.7,1064.0 777.8,1083.4 779.2,1094.6 C780.6,1105.9 781.9,1128.7 783.3,1129.3 C784.6,1130.0 786.3,1106.5 787.4,1098.7 C788.4,1090.9 788.6,1083.1 789.4,1082.4 C790.3,1081.7 791.4,1091.4 792.5,1094.6 C793.5,1097.9 794.3,1102.8 795.5,1101.8 C796.7,1100.8 798.4,1091.1 799.6,1088.5 C800.8,1086.0 801.7,1087.5 802.7,1086.5 C803.7,1085.5 804.5,1086.5 805.7,1082.4 C806.9,1078.3 808.5,1069.5 809.8,1062.0 C811.2,1054.5 812.7,1044.1 813.9,1037.5 C815.1,1030.9 815.8,1024.0 817.0,1022.6 C818.1,1021.2 819.7,1027.9 821.0,1029.3 C822.4,1030.8 823.8,1030.7 825.1,1031.4 C826.5,1032.1 827.8,1032.9 829.2,1033.4 C830.6,1033.9 831.9,1034.6 833.3,1034.4 C834.6,1034.3 836.0,1032.9 837.4,1032.4 C838.7,1031.9 840.1,1031.4 841.4,1031.4 C842.8,1031.4 844.2,1032.7 845.5,1032.4 C846.9,1032.1 848.3,1029.5 849.6,1029.3 C851.0,1029.2 852.3,1031.0 853.7,1031.4 C855.1,1031.7 856.4,1030.9 857.8,1031.4 C859.1,1031.9 860.5,1033.4 861.9,1034.4 C863.2,1035.5 864.7,1036.1 865.9,1037.5 C867.1,1038.9 868.0,1042.9 869.0,1042.6 C870.0,1042.3 870.9,1038.2 872.1,1035.5 C873.3,1032.7 875.0,1028.4 876.1,1026.3 C877.3,1024.1 878.2,1023.2 879.2,1022.6 C880.2,1022.0 873.0,1022.6 882.2,1022.6 C891.4,1022.6 925.4,1022.6 934.6,1022.6 C943.8,1022.6 935.8,1020.9 937.6,1022.6 C939.4,1024.3 943.4,1029.1 945.4,1032.8 C947.5,1036.5 948.5,1044.6 950.0,1044.6 C951.6,1044.6 953.2,1036.5 954.6,1032.8 C956.0,1029.1 957.2,1022.6 958.5,1022.6 C959.8,1022.6 961.2,1030.0 962.5,1032.8 C963.8,1035.6 964.8,1039.1 966.4,1039.4 C968.0,1039.6 970.4,1033.1 972.3,1034.1 C974.2,1035.1 976.1,1045.7 977.9,1045.2 C979.8,1044.8 981.9,1035.3 983.4,1031.5 C984.9,1027.7 985.6,1024.1 986.7,1022.6 C987.7,1021.1 955.0,1022.6 989.7,1022.6 C1024.4,1022.6 1160.2,1022.6 1194.9,1022.6 C1229.6,1022.6 1195.5,1022.1 1197.9,1022.6 C1200.2,1023.1 1205.6,1025.8 1209.0,1025.8 C1212.5,1025.8 1215.4,1022.6 1218.6,1022.6 C1221.8,1022.6 1224.7,1025.8 1228.2,1025.8 C1231.6,1025.8 1237.0,1023.1 1239.4,1022.6 C1241.7,1022.1 1239.1,1022.6 1242.4,1022.6 C1245.6,1022.6 1255.5,1022.6 1258.7,1022.6 C1261.9,1022.6 1259.6,1021.5 1261.7,1022.6 C1263.8,1023.7 1268.3,1028.3 1271.3,1029.0 C1274.2,1029.6 1278.0,1027.0 1279.3,1026.6" stroke="#1d9e8a" stroke-width="3.2" fill="none" stroke-linejoin="round" stroke-linecap="round" />
<path d="M720.7,1022.0 C723.8,1022.0 729.5,1022.1 739.4,1022.0 C749.3,1021.9 770.0,1021.7 780.2,1021.6 C790.4,1021.4 795.5,1021.2 800.6,1021.2 C805.7,1021.1 808.1,1020.9 810.8,1021.2 C813.6,1021.4 815.3,1022.8 817.0,1022.6 C818.7,1022.4 819.7,1021.4 821.0,1019.9 C822.4,1018.5 823.8,1016.5 825.1,1013.8 C826.5,1011.1 827.8,1007.4 829.2,1003.6 C830.6,999.9 831.9,993.8 833.3,991.4 C834.6,989.0 836.2,992.1 837.4,989.3 C838.6,986.6 839.4,982.2 840.4,975.0 C841.4,967.9 842.6,957.0 843.5,946.5 C844.3,935.9 844.5,917.9 845.5,911.8 C846.6,905.7 848.4,913.1 849.6,909.7 C850.8,906.3 851.6,896.5 852.7,891.4 C853.8,886.3 855.1,878.1 856.1,879.1 C857.2,880.2 857.8,890.4 858.8,897.5 C859.7,904.6 861.0,912.8 861.9,922.0 C862.7,931.2 862.9,943.8 863.9,952.6 C864.9,961.4 866.8,968.2 868.0,975.0 C869.2,981.9 870.0,987.6 871.0,993.4 C872.1,999.2 873.1,1005.3 874.1,1009.7 C875.1,1014.2 876.3,1017.8 877.2,1019.9 C878.0,1022.1 878.4,1022.2 879.2,1022.6 C880.0,1023.0 871.9,1022.6 882.2,1022.6 C892.5,1022.6 930.8,1022.6 941.1,1022.6 C951.5,1022.6 942.7,1023.0 944.1,1022.6 C945.6,1022.2 948.1,1020.2 950.0,1020.2 C952.0,1020.2 954.4,1022.2 955.9,1022.6 C957.4,1023.0 908.5,1022.6 958.9,1022.6 C1009.4,1022.6 1208.2,1022.6 1258.7,1022.6 C1309.2,1022.6 1259.6,1023.0 1261.7,1022.6 C1263.8,1022.2 1268.3,1020.4 1271.3,1020.2 C1274.2,1020.0 1278.0,1021.3 1279.3,1021.5" stroke="#4cb5d0" stroke-width="3.2" fill="none" stroke-linejoin="round" stroke-linecap="round" />
<path d="M720.7,1023.2 C723.8,1023.2 729.5,1023.1 739.4,1023.2 C749.3,1023.3 770.0,1023.5 780.2,1023.6 C790.4,1023.8 795.5,1024.0 800.6,1024.0 C805.7,1024.1 808.1,1024.3 810.8,1024.0 C813.6,1023.8 815.3,1022.4 817.0,1022.6 C818.7,1022.8 819.7,1023.8 821.0,1025.3 C822.4,1026.7 823.8,1028.7 825.1,1031.4 C826.5,1034.1 827.8,1037.8 829.2,1041.6 C830.6,1045.3 831.9,1051.4 833.3,1053.8 C834.6,1056.2 836.2,1053.1 837.4,1055.9 C838.6,1058.6 839.4,1063.0 840.4,1070.2 C841.4,1077.3 842.6,1088.2 843.5,1098.7 C844.3,1109.3 844.5,1127.3 845.5,1133.4 C846.6,1139.5 848.4,1132.1 849.6,1135.5 C850.8,1138.9 851.6,1148.7 852.7,1153.8 C853.8,1158.9 855.1,1167.1 856.1,1166.1 C857.2,1165.0 857.8,1154.8 858.8,1147.7 C859.7,1140.6 861.0,1132.4 861.9,1123.2 C862.7,1114.0 862.9,1101.4 863.9,1092.6 C864.9,1083.8 866.8,1077.0 868.0,1070.2 C869.2,1063.3 870.0,1057.6 871.0,1051.8 C872.1,1046.0 873.1,1039.9 874.1,1035.5 C875.1,1031.0 876.3,1027.4 877.2,1025.3 C878.0,1023.1 878.4,1023.0 879.2,1022.6 C880.0,1022.2 871.9,1022.6 882.2,1022.6 C892.5,1022.6 930.8,1022.6 941.1,1022.6 C951.5,1022.6 942.7,1022.2 944.1,1022.6 C945.6,1023.0 948.1,1025.0 950.0,1025.0 C952.0,1025.0 954.4,1023.0 955.9,1022.6 C957.4,1022.2 908.5,1022.6 958.9,1022.6 C1009.4,1022.6 1208.2,1022.6 1258.7,1022.6 C1309.2,1022.6 1259.6,1022.2 1261.7,1022.6 C1263.8,1023.0 1268.3,1024.8 1271.3,1025.0 C1274.2,1025.2 1278.0,1023.9 1279.3,1023.7" stroke="#4cb5d0" stroke-width="3.2" fill="none" stroke-linejoin="round" stroke-linecap="round" />
<path d="M720.7,1012.8 C721.1,1012.6 721.7,1011.4 723.1,1011.8 C724.5,1012.1 727.5,1014.0 729.2,1014.8 C730.9,1015.7 731.9,1016.7 733.3,1016.9 C734.6,1017.1 736.0,1016.0 737.4,1015.9 C738.7,1015.7 739.7,1015.7 741.4,1015.9 C743.1,1016.0 745.7,1017.2 747.6,1016.9 C749.4,1016.5 751.0,1015.2 752.7,1013.8 C754.4,1012.5 756.2,1010.3 757.8,1008.7 C759.3,1007.2 760.5,1005.8 761.9,1004.6 C763.2,1003.5 764.6,1001.4 765.9,1001.6 C767.3,1001.7 768.7,1004.1 770.0,1005.7 C771.4,1007.2 772.7,1010.9 774.1,1010.8 C775.5,1010.6 776.8,1006.5 778.2,1004.6 C779.5,1002.8 780.9,1000.0 782.3,999.5 C783.6,999.0 785.0,1001.7 786.3,1001.6 C787.7,1001.4 789.1,999.9 790.4,998.5 C791.8,997.2 793.1,995.3 794.5,993.4 C795.9,991.5 797.4,989.0 798.6,987.3 C799.8,985.6 800.6,982.9 801.7,983.2 C802.7,983.6 803.5,985.9 804.7,989.3 C805.9,992.7 807.4,999.2 808.8,1003.6 C810.2,1008.0 811.5,1012.7 812.9,1015.9 C814.2,1019.0 815.6,1021.7 817.0,1022.6 C818.3,1023.5 819.3,1021.6 821.0,1021.0 C822.7,1020.4 825.1,1019.4 827.2,1018.9 C829.2,1018.4 831.2,1018.2 833.3,1017.9 C835.3,1017.6 837.7,1017.4 839.4,1016.9 C841.1,1016.4 842.1,1015.7 843.5,1014.8 C844.9,1014.0 845.9,1012.1 847.6,1011.8 C849.3,1011.4 852.0,1012.8 853.7,1012.8 C855.4,1012.8 856.4,1011.4 857.8,1011.8 C859.1,1012.1 860.5,1013.8 861.9,1014.8 C863.2,1015.9 864.2,1016.9 865.9,1017.9 C867.6,1018.9 869.9,1020.2 872.1,1021.0 C874.3,1021.7 877.5,1022.3 879.2,1022.6 C880.9,1022.9 872.3,1022.6 882.2,1022.6 C892.1,1022.6 928.6,1022.6 938.5,1022.6 C948.4,1022.6 940.3,1023.2 941.5,1022.6 C942.8,1022.0 944.7,1020.1 946.1,1018.9 C947.5,1017.8 948.7,1015.7 950.0,1015.7 C951.3,1015.7 952.5,1017.8 954.0,1018.9 C955.4,1020.1 957.3,1022.0 958.5,1022.6 C959.8,1023.2 918.7,1022.6 961.5,1022.6 C1004.4,1022.6 1172.8,1022.6 1215.6,1022.6 C1258.5,1022.6 1217.0,1026.7 1218.6,1022.6 C1220.2,1018.5 1223.0,1007.6 1225.0,997.9 C1227.0,988.2 1228.7,964.4 1230.6,964.4 C1232.4,964.4 1234.4,988.2 1236.2,997.9 C1237.9,1007.6 1239.7,1018.5 1241.0,1022.6 C1242.3,1026.7 1242.6,1022.6 1244.0,1022.6 C1245.3,1022.6 1247.8,1022.6 1249.1,1022.6 C1250.5,1022.6 1250.3,1026.7 1252.1,1022.6 C1254.0,1018.5 1257.8,1005.7 1260.1,997.9 C1262.4,990.0 1263.8,975.5 1265.7,975.5 C1267.5,975.5 1269.5,992.0 1271.3,997.9 C1273.0,1003.7 1274.7,1007.4 1276.1,1010.6 C1277.4,1013.8 1278.8,1016.0 1279.3,1017.0" stroke="#56679e" stroke-width="3.2" fill="none" stroke-linejoin="round" stroke-linecap="round" />
<path d="M720.7,1032.4 C721.1,1032.6 721.7,1033.8 723.1,1033.4 C724.5,1033.1 727.5,1031.2 729.2,1030.4 C730.9,1029.5 731.9,1028.5 733.3,1028.3 C734.6,1028.1 736.0,1029.2 737.4,1029.3 C738.7,1029.5 739.7,1029.5 741.4,1029.3 C743.1,1029.2 745.7,1028.0 747.6,1028.3 C749.4,1028.7 751.0,1030.0 752.7,1031.4 C754.4,1032.7 756.2,1034.9 757.8,1036.5 C759.3,1038.0 760.5,1039.4 761.9,1040.6 C763.2,1041.7 764.6,1043.8 765.9,1043.6 C767.3,1043.5 768.7,1041.1 770.0,1039.5 C771.4,1038.0 772.7,1034.3 774.1,1034.4 C775.5,1034.6 776.8,1038.7 778.2,1040.6 C779.5,1042.4 780.9,1045.2 782.3,1045.7 C783.6,1046.2 785.0,1043.5 786.3,1043.6 C787.7,1043.8 789.1,1045.3 790.4,1046.7 C791.8,1048.0 793.1,1049.9 794.5,1051.8 C795.9,1053.7 797.4,1056.2 798.6,1057.9 C799.8,1059.6 800.6,1062.3 801.7,1062.0 C802.7,1061.6 803.5,1059.3 804.7,1055.9 C805.9,1052.5 807.4,1046.0 808.8,1041.6 C810.2,1037.2 811.5,1032.5 812.9,1029.3 C814.2,1026.2 815.6,1023.5 817.0,1022.6 C818.3,1021.7 819.3,1023.6 821.0,1024.2 C822.7,1024.8 825.1,1025.8 827.2,1026.3 C829.2,1026.8 831.2,1027.0 833.3,1027.3 C835.3,1027.6 837.7,1027.8 839.4,1028.3 C841.1,1028.8 842.1,1029.5 843.5,1030.4 C844.9,1031.2 845.9,1033.1 847.6,1033.4 C849.3,1033.8 852.0,1032.4 853.7,1032.4 C855.4,1032.4 856.4,1033.8 857.8,1033.4 C859.1,1033.1 860.5,1031.4 861.9,1030.4 C863.2,1029.3 864.2,1028.3 865.9,1027.3 C867.6,1026.3 869.9,1025.0 872.1,1024.2 C874.3,1023.5 877.5,1022.9 879.2,1022.6 C880.9,1022.3 872.3,1022.6 882.2,1022.6 C892.1,1022.6 928.6,1022.6 938.5,1022.6 C948.4,1022.6 940.3,1022.0 941.5,1022.6 C942.8,1023.2 944.7,1025.1 946.1,1026.3 C947.5,1027.4 948.7,1029.5 950.0,1029.5 C951.3,1029.5 952.5,1027.4 954.0,1026.3 C955.4,1025.1 957.3,1023.2 958.5,1022.6 C959.8,1022.0 918.7,1022.6 961.5,1022.6 C1004.4,1022.6 1172.8,1022.6 1215.6,1022.6 C1258.5,1022.6 1217.0,1018.5 1218.6,1022.6 C1220.2,1026.7 1223.0,1037.6 1225.0,1047.3 C1227.0,1057.0 1228.7,1080.8 1230.6,1080.8 C1232.4,1080.8 1234.4,1057.0 1236.2,1047.3 C1237.9,1037.6 1239.7,1026.7 1241.0,1022.6 C1242.3,1018.5 1242.6,1022.6 1244.0,1022.6 C1245.3,1022.6 1247.8,1022.6 1249.1,1022.6 C1250.5,1022.6 1250.3,1018.5 1252.1,1022.6 C1254.0,1026.7 1257.8,1039.5 1260.1,1047.3 C1262.4,1055.2 1263.8,1069.7 1265.7,1069.7 C1267.5,1069.7 1269.5,1053.2 1271.3,1047.3 C1273.0,1041.5 1274.7,1037.8 1276.1,1034.6 C1277.4,1031.4 1278.8,1029.2 1279.3,1028.2" stroke="#56679e" stroke-width="3.2" fill="none" stroke-linejoin="round" stroke-linecap="round" />
<line x1="988.0" y1="878.0" x2="988.0" y2="1193.0" stroke="#000" stroke-width="3.4" stroke-dasharray="10.5,9.5"/>
<line x1="1018.5" y1="917.2" x2="1059.5" y2="917.2" stroke="#52585a" stroke-width="3.4" />
<text x="1071.5" y="927.4" font-size="30" text-anchor="start" font-weight="normal" fill="#231815" >Total</text>
<line x1="1018.5" y1="954.0" x2="1059.5" y2="954.0" stroke="#d9675a" stroke-width="3.4" />
<text x="1071.5" y="962.3" font-size="26" text-anchor="start" font-weight="normal" fill="#231815" >Mn-3d</text>
<line x1="1018.5" y1="996.4" x2="1059.5" y2="996.4" stroke="#1d9e8a" stroke-width="3.4" />
<text x="1071.5" y="1004.3" font-size="26" text-anchor="start" font-weight="normal" fill="#231815" >Cl-3p</text>
<line x1="1018.5" y1="1124.9" x2="1059.5" y2="1124.9" stroke="#4cb5d0" stroke-width="3.4" />
<text x="1071.5" y="1132.4" font-size="26" text-anchor="start" font-weight="normal" fill="#231815" >Br-4p</text>
<line x1="1018.5" y1="1165.5" x2="1059.5" y2="1165.5" stroke="#56679e" stroke-width="3.4" />
<text x="1071.5" y="1173.4" font-size="26" text-anchor="start" fill="#231815" font-weight="normal" ><tspan>C</tspan><tspan dy="8.0" font-size="18">5</tspan><tspan dy="-8.0">H</tspan><tspan dy="8.0" font-size="18">11</tspan><tspan dy="-8.0">N</tspan><tspan dy="8.0" font-size="18">3</tspan><tspan dy="-8.0">&amp;H</tspan><tspan dy="8.0" font-size="18">2</tspan><tspan dy="-8.0">O</tspan></text>
<path d="M1386.4,966.7 C1387.2,962.9 1389.6,941.6 1391.3,943.7 C1393.0,945.8 1394.6,975.4 1396.6,979.3 C1398.5,983.1 1400.8,964.3 1402.8,966.7 C1404.9,969.1 1407.0,995.7 1409.1,993.9 C1411.2,992.2 1413.5,965.7 1415.4,956.2 C1417.3,946.8 1418.9,939.1 1420.6,937.4 C1422.4,935.6 1424.1,941.6 1425.9,945.8 C1427.6,949.9 1429.4,961.8 1431.1,962.5 C1432.9,963.2 1434.6,953.8 1436.4,949.9 C1438.1,946.1 1439.8,941.9 1441.6,939.5 C1443.3,937.0 1445.1,938.4 1446.8,935.3 C1448.6,932.1 1450.3,931.1 1452.1,920.6 C1453.8,910.2 1455.6,886.8 1457.3,872.5 C1459.0,858.2 1461.0,835.1 1462.5,834.8 C1464.1,834.4 1465.3,855.4 1466.7,870.4 C1468.1,885.4 1469.7,913.6 1470.9,924.8 C1472.1,936.0 1473.0,928.7 1474.1,937.4 C1475.1,946.1 1476.1,972.3 1477.2,977.2 C1478.2,982.1 1479.1,971.6 1480.3,966.7 C1481.6,961.8 1483.1,947.2 1484.5,947.9 C1485.9,948.6 1487.5,963.2 1488.7,970.9 C1489.9,978.6 1490.8,991.8 1491.9,993.9 C1492.9,996.0 1493.9,983.5 1495.0,983.5 C1496.0,983.5 1497.1,989.7 1498.1,993.9 C1499.2,998.1 1500.1,1003.9 1501.3,1008.6 C1502.5,1013.3 1504.1,1021.2 1505.5,1022.2 C1506.9,1023.2 1508.3,1019.9 1509.7,1014.9 C1511.1,1009.8 1512.3,997.8 1513.8,991.8 C1515.4,985.9 1517.5,981.9 1519.1,979.3 C1520.6,976.7 1521.9,975.1 1523.3,976.1 C1524.7,977.2 1526.2,981.2 1527.5,985.6 C1528.7,989.9 1529.4,996.7 1530.6,1002.3 C1531.8,1007.9 1533.6,1015.7 1534.8,1019.1 C1536.0,1022.4 1536.9,1021.7 1537.9,1022.2 C1539.0,1022.7 1531.8,1022.2 1540.9,1022.2 C1550.0,1022.2 1583.5,1022.2 1592.6,1022.2 C1601.7,1022.2 1593.9,1027.3 1595.6,1022.2 C1597.3,1017.1 1600.8,1002.9 1602.8,991.5 C1604.8,980.0 1605.7,953.5 1607.4,953.5 C1609.0,953.5 1610.8,980.0 1612.6,991.5 C1614.5,1002.9 1616.6,1020.5 1618.5,1022.2 C1620.3,1023.9 1622.0,1008.4 1623.7,1001.9 C1625.5,995.5 1627.4,983.2 1629.0,983.6 C1630.5,984.0 1631.8,998.1 1633.1,1004.5 C1634.5,1011.0 1635.5,1022.6 1636.8,1022.2 C1638.1,1021.8 1639.4,1008.2 1640.7,1001.9 C1642.0,995.6 1643.2,983.8 1644.7,984.3 C1646.1,984.7 1647.7,998.2 1649.2,1004.5 C1650.8,1010.9 1652.6,1019.3 1653.8,1022.2 C1655.1,1025.1 1630.3,1022.2 1656.8,1022.2 C1683.4,1022.2 1786.6,1022.2 1813.1,1022.2 C1839.7,1022.2 1814.8,1025.1 1816.1,1022.2 C1817.5,1019.3 1819.6,1010.6 1821.2,1004.9 C1822.9,999.2 1824.5,988.1 1826.1,988.1 C1827.7,988.1 1829.1,999.2 1830.8,1004.9 C1832.4,1010.6 1833.9,1019.3 1835.9,1022.2 C1837.8,1025.1 1840.5,1025.3 1842.5,1022.2 C1844.4,1019.1 1845.9,1009.6 1847.6,1003.5 C1849.3,997.3 1851.0,984.9 1852.4,985.1 C1853.9,985.4 1855.1,999.7 1856.4,1004.9 C1857.7,1010.2 1858.7,1020.3 1860.1,1016.6 C1861.4,1013.0 1862.8,992.7 1864.4,982.9 C1866.1,973.2 1868.4,959.5 1870.0,958.0 C1871.6,956.6 1872.8,971.5 1874.0,974.2 C1875.1,976.8 1875.6,974.9 1876.9,974.2 C1878.2,973.4 1880.0,971.0 1882.0,969.8 C1884.1,968.5 1886.9,964.6 1889.4,966.8 C1891.8,969.0 1894.7,976.4 1896.7,982.9 C1898.6,989.5 1899.6,999.8 1901.1,1006.4 C1902.5,1012.9 1904.2,1019.6 1905.5,1022.2 C1906.7,1024.8 1907.0,1022.2 1908.5,1022.2 C1909.9,1022.2 1912.7,1022.2 1914.2,1022.2 C1915.6,1022.2 1915.2,1031.2 1917.2,1022.2 C1919.1,1013.2 1923.1,986.4 1926.0,968.3 C1928.9,950.2 1932.3,917.0 1934.5,913.4 C1936.7,909.7 1937.8,935.9 1939.2,946.3 C1940.5,956.7 1941.9,969.5 1942.8,975.6 C1943.8,981.7 1944.6,981.7 1944.9,982.9" stroke="#52585a" stroke-width="3.2" fill="none" stroke-linejoin="round" stroke-linecap="round" />
<path d="M1386.4,1077.7 C1387.2,1081.5 1389.6,1102.8 1391.3,1100.7 C1393.0,1098.6 1394.6,1069.0 1396.6,1065.1 C1398.5,1061.3 1400.8,1080.1 1402.8,1077.7 C1404.9,1075.3 1407.0,1048.7 1409.1,1050.5 C1411.2,1052.2 1413.5,1078.7 1415.4,1088.2 C1417.3,1097.6 1418.9,1105.3 1420.6,1107.0 C1422.4,1108.8 1424.1,1102.8 1425.9,1098.6 C1427.6,1094.5 1429.4,1082.6 1431.1,1081.9 C1432.9,1081.2 1434.6,1090.6 1436.4,1094.5 C1438.1,1098.3 1439.8,1102.5 1441.6,1104.9 C1443.3,1107.4 1445.1,1106.0 1446.8,1109.1 C1448.6,1112.3 1450.3,1113.3 1452.1,1123.8 C1453.8,1134.2 1455.6,1157.6 1457.3,1171.9 C1459.0,1186.2 1461.0,1209.3 1462.5,1209.6 C1464.1,1210.0 1465.3,1189.0 1466.7,1174.0 C1468.1,1159.0 1469.7,1130.8 1470.9,1119.6 C1472.1,1108.4 1473.0,1115.7 1474.1,1107.0 C1475.1,1098.3 1476.1,1072.1 1477.2,1067.2 C1478.2,1062.3 1479.1,1072.8 1480.3,1077.7 C1481.6,1082.6 1483.1,1097.2 1484.5,1096.5 C1485.9,1095.8 1487.5,1081.2 1488.7,1073.5 C1489.9,1065.8 1490.8,1052.6 1491.9,1050.5 C1492.9,1048.4 1493.9,1060.9 1495.0,1060.9 C1496.0,1060.9 1497.1,1054.7 1498.1,1050.5 C1499.2,1046.3 1500.1,1040.5 1501.3,1035.8 C1502.5,1031.1 1504.1,1023.2 1505.5,1022.2 C1506.9,1021.2 1508.3,1024.5 1509.7,1029.5 C1511.1,1034.6 1512.3,1046.6 1513.8,1052.6 C1515.4,1058.5 1517.5,1062.5 1519.1,1065.1 C1520.6,1067.7 1521.9,1069.3 1523.3,1068.3 C1524.7,1067.2 1526.2,1063.2 1527.5,1058.8 C1528.7,1054.5 1529.4,1047.7 1530.6,1042.1 C1531.8,1036.5 1533.6,1028.7 1534.8,1025.3 C1536.0,1022.0 1536.9,1022.7 1537.9,1022.2 C1539.0,1021.7 1531.8,1022.2 1540.9,1022.2 C1550.0,1022.2 1583.5,1022.2 1592.6,1022.2 C1601.7,1022.2 1593.9,1017.1 1595.6,1022.2 C1597.3,1027.3 1600.8,1041.5 1602.8,1052.9 C1604.8,1064.4 1605.7,1090.9 1607.4,1090.9 C1609.0,1090.9 1610.8,1064.4 1612.6,1052.9 C1614.5,1041.5 1616.6,1023.9 1618.5,1022.2 C1620.3,1020.5 1622.0,1036.0 1623.7,1042.5 C1625.5,1048.9 1627.4,1061.2 1629.0,1060.8 C1630.5,1060.4 1631.8,1046.3 1633.1,1039.9 C1634.5,1033.4 1635.5,1021.8 1636.8,1022.2 C1638.1,1022.6 1639.4,1036.2 1640.7,1042.5 C1642.0,1048.8 1643.2,1060.6 1644.7,1060.1 C1646.1,1059.7 1647.7,1046.2 1649.2,1039.9 C1650.8,1033.5 1652.6,1025.1 1653.8,1022.2 C1655.1,1019.3 1630.3,1022.2 1656.8,1022.2 C1683.4,1022.2 1786.6,1022.2 1813.1,1022.2 C1839.7,1022.2 1814.8,1019.3 1816.1,1022.2 C1817.5,1025.1 1819.6,1033.8 1821.2,1039.5 C1822.9,1045.2 1824.5,1056.3 1826.1,1056.3 C1827.7,1056.3 1829.1,1045.2 1830.8,1039.5 C1832.4,1033.8 1833.9,1025.1 1835.9,1022.2 C1837.8,1019.3 1840.5,1019.1 1842.5,1022.2 C1844.4,1025.3 1845.9,1034.8 1847.6,1040.9 C1849.3,1047.1 1851.0,1059.5 1852.4,1059.3 C1853.9,1059.0 1855.1,1044.7 1856.4,1039.5 C1857.7,1034.2 1858.7,1024.1 1860.1,1027.8 C1861.4,1031.4 1862.8,1051.7 1864.4,1061.5 C1866.1,1071.2 1868.4,1084.9 1870.0,1086.4 C1871.6,1087.8 1872.8,1072.9 1874.0,1070.2 C1875.1,1067.6 1875.6,1069.5 1876.9,1070.2 C1878.2,1071.0 1880.0,1073.4 1882.0,1074.6 C1884.1,1075.9 1886.9,1079.8 1889.4,1077.6 C1891.8,1075.4 1894.7,1068.0 1896.7,1061.5 C1898.6,1054.9 1899.6,1044.6 1901.1,1038.0 C1902.5,1031.5 1904.2,1024.8 1905.5,1022.2 C1906.7,1019.6 1907.0,1022.2 1908.5,1022.2 C1909.9,1022.2 1912.7,1022.2 1914.2,1022.2 C1915.6,1022.2 1915.2,1013.2 1917.2,1022.2 C1919.1,1031.2 1923.1,1058.0 1926.0,1076.1 C1928.9,1094.2 1932.3,1127.4 1934.5,1131.0 C1936.7,1134.7 1937.8,1108.5 1939.2,1098.1 C1940.5,1087.7 1941.9,1074.9 1942.8,1068.8 C1943.8,1062.7 1944.6,1062.7 1944.9,1061.5" stroke="#52585a" stroke-width="3.2" fill="none" stroke-linejoin="round" stroke-linecap="round" />
<path d="M1386.4,1018.0 C1387.0,1017.7 1388.9,1015.8 1390.3,1015.9 C1391.6,1016.0 1392.7,1018.5 1394.5,1018.6 C1396.2,1018.8 1398.7,1016.7 1400.8,1017.0 C1402.8,1017.2 1404.6,1019.4 1407.0,1020.1 C1409.5,1020.8 1412.3,1021.0 1415.4,1021.2 C1418.6,1021.3 1422.4,1020.9 1425.9,1020.7 C1429.4,1020.6 1432.9,1020.3 1436.4,1020.1 C1439.8,1019.9 1444.0,1020.0 1446.8,1019.5 C1449.6,1019.0 1451.4,1018.8 1453.1,1017.0 C1454.9,1015.1 1455.8,1012.4 1457.3,1008.6 C1458.8,1004.7 1460.5,994.6 1461.9,993.9 C1463.3,993.2 1464.3,1000.9 1465.7,1004.4 C1467.0,1007.9 1468.1,1012.3 1469.9,1014.9 C1471.6,1017.5 1474.6,1020.1 1476.1,1020.1 C1477.7,1020.1 1478.2,1023.1 1479.3,1014.9 C1480.3,1006.7 1481.6,980.3 1482.4,970.9 C1483.3,961.5 1483.7,958.3 1484.5,958.3 C1485.4,958.3 1486.6,964.6 1487.7,970.9 C1488.7,977.2 1489.6,992.9 1490.8,996.0 C1492.0,999.2 1493.8,988.7 1495.0,989.7 C1496.2,990.8 1497.1,998.1 1498.1,1002.3 C1499.2,1006.5 1500.1,1011.6 1501.3,1014.9 C1502.5,1018.2 1504.1,1022.2 1505.5,1022.2 C1506.9,1022.2 1508.1,1018.9 1509.7,1014.9 C1511.2,1010.9 1513.1,1002.5 1514.9,998.1 C1516.6,993.8 1518.4,989.9 1520.1,988.7 C1521.9,987.5 1523.6,988.2 1525.4,990.8 C1527.1,993.4 1529.0,999.9 1530.6,1004.4 C1532.2,1008.9 1533.6,1015.0 1534.8,1018.0 C1536.0,1021.0 1536.9,1021.5 1537.9,1022.2 C1539.0,1022.9 1531.8,1022.2 1540.9,1022.2 C1550.0,1022.2 1583.5,1022.2 1592.6,1022.2 C1601.7,1022.2 1593.9,1026.0 1595.6,1022.2 C1597.3,1018.4 1600.8,1007.4 1602.8,999.3 C1604.8,991.2 1605.7,973.8 1607.4,973.8 C1609.0,973.8 1610.8,991.2 1612.6,999.3 C1614.5,1007.4 1616.6,1020.7 1618.5,1022.2 C1620.3,1023.7 1622.0,1012.7 1623.7,1008.5 C1625.5,1004.2 1627.4,996.3 1629.0,996.7 C1630.5,997.1 1631.8,1006.8 1633.1,1011.1 C1634.5,1015.3 1635.5,1022.4 1636.8,1022.2 C1638.1,1022.0 1639.4,1013.5 1640.7,1009.8 C1642.0,1006.1 1643.2,999.5 1644.7,1000.0 C1646.1,1000.4 1647.7,1008.7 1649.2,1012.4 C1650.8,1016.1 1652.6,1020.6 1653.8,1022.2 C1655.1,1023.8 1630.3,1022.2 1656.8,1022.2 C1683.4,1022.2 1786.6,1022.2 1813.1,1022.2 C1839.7,1022.2 1814.8,1025.1 1816.1,1022.2 C1817.5,1019.3 1819.6,1010.6 1821.2,1004.9 C1822.9,999.2 1824.5,988.1 1826.1,988.1 C1827.7,988.1 1829.1,999.2 1830.8,1004.9 C1832.4,1010.6 1833.9,1019.3 1835.9,1022.2 C1837.8,1025.1 1840.5,1025.3 1842.5,1022.2 C1844.4,1019.1 1845.9,1009.6 1847.6,1003.5 C1849.3,997.3 1851.0,984.9 1852.4,985.1 C1853.9,985.4 1855.1,999.7 1856.4,1004.9 C1857.7,1010.2 1858.7,1020.3 1860.1,1016.6 C1861.4,1013.0 1862.8,992.3 1864.4,982.9 C1866.1,973.5 1868.6,960.2 1870.0,960.2 C1871.5,960.2 1872.1,976.7 1873.2,982.9 C1874.4,989.2 1875.7,997.6 1876.9,997.6 C1878.1,997.6 1879.2,986.7 1880.6,982.9 C1881.9,979.2 1883.5,974.4 1885.0,974.9 C1886.4,975.4 1887.9,980.9 1889.4,985.9 C1890.8,990.9 1892.0,999.8 1893.7,1004.9 C1895.5,1010.0 1897.7,1013.8 1899.6,1016.6 C1901.6,1019.5 1904.0,1021.3 1905.5,1022.2 C1906.9,1023.1 1907.0,1022.2 1908.5,1022.2 C1909.9,1022.2 1912.7,1022.2 1914.2,1022.2 C1915.6,1022.2 1915.2,1028.7 1917.2,1022.2 C1919.1,1015.7 1922.9,994.6 1926.0,982.9 C1929.0,971.3 1932.7,951.7 1935.5,952.2 C1938.3,952.7 1941.2,978.5 1942.8,985.9 C1944.4,993.2 1944.6,994.4 1944.9,996.1" stroke="#d9675a" stroke-width="3.2" fill="none" stroke-linejoin="round" stroke-linecap="round" />
<path d="M1386.4,1026.4 C1387.0,1026.7 1388.9,1028.6 1390.3,1028.5 C1391.6,1028.4 1392.7,1025.9 1394.5,1025.8 C1396.2,1025.6 1398.7,1027.7 1400.8,1027.4 C1402.8,1027.2 1404.6,1025.0 1407.0,1024.3 C1409.5,1023.6 1412.3,1023.4 1415.4,1023.2 C1418.6,1023.1 1422.4,1023.5 1425.9,1023.7 C1429.4,1023.8 1432.9,1024.1 1436.4,1024.3 C1439.8,1024.5 1444.0,1024.4 1446.8,1024.9 C1449.6,1025.4 1451.4,1025.6 1453.1,1027.4 C1454.9,1029.3 1455.8,1032.0 1457.3,1035.8 C1458.8,1039.7 1460.5,1049.8 1461.9,1050.5 C1463.3,1051.2 1464.3,1043.5 1465.7,1040.0 C1467.0,1036.5 1468.1,1032.1 1469.9,1029.5 C1471.6,1026.9 1474.6,1024.3 1476.1,1024.3 C1477.7,1024.3 1478.2,1021.3 1479.3,1029.5 C1480.3,1037.7 1481.6,1064.1 1482.4,1073.5 C1483.3,1082.9 1483.7,1086.1 1484.5,1086.1 C1485.4,1086.1 1486.6,1079.8 1487.7,1073.5 C1488.7,1067.2 1489.6,1051.5 1490.8,1048.4 C1492.0,1045.2 1493.8,1055.7 1495.0,1054.7 C1496.2,1053.6 1497.1,1046.3 1498.1,1042.1 C1499.2,1037.9 1500.1,1032.8 1501.3,1029.5 C1502.5,1026.2 1504.1,1022.2 1505.5,1022.2 C1506.9,1022.2 1508.1,1025.5 1509.7,1029.5 C1511.2,1033.5 1513.1,1041.9 1514.9,1046.3 C1516.6,1050.6 1518.4,1054.5 1520.1,1055.7 C1521.9,1056.9 1523.6,1056.2 1525.4,1053.6 C1527.1,1051.0 1529.0,1044.5 1530.6,1040.0 C1532.2,1035.5 1533.6,1029.4 1534.8,1026.4 C1536.0,1023.4 1536.9,1022.9 1537.9,1022.2 C1539.0,1021.5 1531.8,1022.2 1540.9,1022.2 C1550.0,1022.2 1583.5,1022.2 1592.6,1022.2 C1601.7,1022.2 1593.9,1018.4 1595.6,1022.2 C1597.3,1026.0 1600.8,1037.0 1602.8,1045.1 C1604.8,1053.2 1605.7,1070.6 1607.4,1070.6 C1609.0,1070.6 1610.8,1053.2 1612.6,1045.1 C1614.5,1037.0 1616.6,1023.7 1618.5,1022.2 C1620.3,1020.7 1622.0,1031.7 1623.7,1035.9 C1625.5,1040.2 1627.4,1048.1 1629.0,1047.7 C1630.5,1047.3 1631.8,1037.6 1633.1,1033.3 C1634.5,1029.1 1635.5,1022.0 1636.8,1022.2 C1638.1,1022.4 1639.4,1030.9 1640.7,1034.6 C1642.0,1038.3 1643.2,1044.9 1644.7,1044.4 C1646.1,1044.0 1647.7,1035.7 1649.2,1032.0 C1650.8,1028.3 1652.6,1023.8 1653.8,1022.2 C1655.1,1020.6 1630.3,1022.2 1656.8,1022.2 C1683.4,1022.2 1786.6,1022.2 1813.1,1022.2 C1839.7,1022.2 1814.8,1019.3 1816.1,1022.2 C1817.5,1025.1 1819.6,1033.8 1821.2,1039.5 C1822.9,1045.2 1824.5,1056.3 1826.1,1056.3 C1827.7,1056.3 1829.1,1045.2 1830.8,1039.5 C1832.4,1033.8 1833.9,1025.1 1835.9,1022.2 C1837.8,1019.3 1840.5,1019.1 1842.5,1022.2 C1844.4,1025.3 1845.9,1034.8 1847.6,1040.9 C1849.3,1047.1 1851.0,1059.5 1852.4,1059.3 C1853.9,1059.0 1855.1,1044.7 1856.4,1039.5 C1857.7,1034.2 1858.7,1024.1 1860.1,1027.8 C1861.4,1031.4 1862.8,1052.1 1864.4,1061.5 C1866.1,1070.9 1868.6,1084.2 1870.0,1084.2 C1871.5,1084.2 1872.1,1067.7 1873.2,1061.5 C1874.4,1055.2 1875.7,1046.8 1876.9,1046.8 C1878.1,1046.8 1879.2,1057.7 1880.6,1061.5 C1881.9,1065.2 1883.5,1070.0 1885.0,1069.5 C1886.4,1069.0 1887.9,1063.5 1889.4,1058.5 C1890.8,1053.5 1892.0,1044.6 1893.7,1039.5 C1895.5,1034.4 1897.7,1030.6 1899.6,1027.8 C1901.6,1024.9 1904.0,1023.1 1905.5,1022.2 C1906.9,1021.3 1907.0,1022.2 1908.5,1022.2 C1909.9,1022.2 1912.7,1022.2 1914.2,1022.2 C1915.6,1022.2 1915.2,1015.7 1917.2,1022.2 C1919.1,1028.7 1922.9,1049.8 1926.0,1061.5 C1929.0,1073.1 1932.7,1092.7 1935.5,1092.2 C1938.3,1091.7 1941.2,1065.9 1942.8,1058.5 C1944.4,1051.2 1944.6,1050.0 1944.9,1048.3" stroke="#d9675a" stroke-width="3.2" fill="none" stroke-linejoin="round" stroke-linecap="round" />
<path d="M1386.4,970.9 C1387.2,968.8 1389.6,954.8 1391.3,958.3 C1393.0,961.8 1394.6,988.2 1396.6,991.8 C1398.5,995.5 1400.8,978.9 1402.8,980.3 C1404.9,981.7 1407.0,1002.5 1409.1,1000.2 C1411.2,997.9 1413.4,975.4 1415.4,966.7 C1417.4,958.0 1419.4,949.3 1421.3,947.9 C1423.2,946.5 1425.2,953.6 1426.9,958.3 C1428.7,963.0 1430.2,975.1 1431.7,976.1 C1433.3,977.2 1434.7,966.7 1436.4,964.6 C1438.0,962.5 1439.8,964.4 1441.6,963.6 C1443.3,962.7 1445.1,962.3 1446.8,959.4 C1448.6,956.4 1450.3,954.3 1452.1,945.8 C1453.8,937.2 1455.6,917.1 1457.3,908.1 C1459.0,899.0 1461.0,889.2 1462.5,891.3 C1464.1,893.4 1465.3,912.6 1466.7,920.6 C1468.1,928.7 1469.7,934.6 1470.9,939.5 C1472.1,944.4 1473.0,940.2 1474.1,949.9 C1475.1,959.7 1476.3,987.6 1477.2,998.1 C1478.1,1008.6 1478.1,1010.3 1479.3,1012.8 C1480.5,1015.2 1483.0,1012.3 1484.5,1012.8 C1486.1,1013.3 1487.3,1015.6 1488.7,1015.9 C1490.1,1016.3 1491.3,1014.5 1492.9,1014.9 C1494.5,1015.2 1496.7,1017.0 1498.1,1018.0 C1499.5,1019.1 1500.1,1020.5 1501.3,1021.2 C1502.5,1021.9 1504.1,1022.5 1505.5,1022.2 C1506.9,1021.9 1507.6,1020.6 1509.7,1019.1 C1511.7,1017.5 1515.8,1014.3 1518.0,1012.8 C1520.3,1011.2 1521.5,1009.6 1523.3,1009.6 C1525.0,1009.6 1526.9,1011.2 1528.5,1012.8 C1530.1,1014.3 1531.1,1017.5 1532.7,1019.1 C1534.3,1020.6 1536.6,1021.7 1537.9,1022.2 C1539.3,1022.7 1531.8,1022.2 1540.9,1022.2 C1550.0,1022.2 1583.5,1022.2 1592.6,1022.2 C1601.7,1022.2 1593.9,1023.6 1595.6,1022.2 C1597.3,1020.8 1600.8,1016.3 1602.8,1013.7 C1604.8,1011.1 1605.7,1006.5 1607.4,1006.5 C1609.0,1006.5 1610.8,1011.1 1612.6,1013.7 C1614.5,1016.3 1616.6,1022.0 1618.5,1022.2 C1620.3,1022.4 1622.0,1017.0 1623.7,1015.0 C1625.5,1013.0 1627.4,1010.4 1629.0,1010.4 C1630.5,1010.4 1631.8,1013.0 1633.1,1015.0 C1634.5,1017.0 1635.5,1022.4 1636.8,1022.2 C1638.1,1022.0 1639.4,1016.3 1640.7,1013.7 C1642.0,1011.1 1643.2,1006.5 1644.7,1006.5 C1646.1,1006.5 1647.7,1011.1 1649.2,1013.7 C1650.8,1016.3 1652.6,1020.8 1653.8,1022.2 C1655.1,1023.6 1623.2,1022.2 1656.8,1022.2 C1690.4,1022.2 1822.0,1022.2 1855.6,1022.2 C1889.2,1022.2 1856.6,1022.6 1858.6,1022.2 C1860.6,1021.8 1864.4,1019.6 1867.4,1019.6 C1870.3,1019.6 1874.2,1021.8 1876.2,1022.2 C1878.1,1022.6 1872.8,1022.2 1879.2,1022.2 C1885.5,1022.2 1907.8,1022.2 1914.2,1022.2 C1920.5,1022.2 1915.2,1022.6 1917.2,1022.2 C1919.1,1021.8 1922.9,1020.7 1926.0,1019.6 C1929.0,1018.4 1932.7,1015.2 1935.5,1015.2 C1938.3,1015.2 1941.2,1018.7 1942.8,1019.6 C1944.4,1020.4 1944.6,1020.2 1944.9,1020.3" stroke="#1d9e8a" stroke-width="3.2" fill="none" stroke-linejoin="round" stroke-linecap="round" />
<path d="M1386.4,1073.5 C1387.2,1075.6 1389.6,1089.6 1391.3,1086.1 C1393.0,1082.6 1394.6,1056.2 1396.6,1052.6 C1398.5,1048.9 1400.8,1065.5 1402.8,1064.1 C1404.9,1062.7 1407.0,1041.9 1409.1,1044.2 C1411.2,1046.5 1413.4,1069.0 1415.4,1077.7 C1417.4,1086.4 1419.4,1095.1 1421.3,1096.5 C1423.2,1097.9 1425.2,1090.8 1426.9,1086.1 C1428.7,1081.4 1430.2,1069.3 1431.7,1068.3 C1433.3,1067.2 1434.7,1077.7 1436.4,1079.8 C1438.0,1081.9 1439.8,1080.0 1441.6,1080.8 C1443.3,1081.7 1445.1,1082.1 1446.8,1085.0 C1448.6,1088.0 1450.3,1090.1 1452.1,1098.6 C1453.8,1107.2 1455.6,1127.3 1457.3,1136.3 C1459.0,1145.4 1461.0,1155.2 1462.5,1153.1 C1464.1,1151.0 1465.3,1131.8 1466.7,1123.8 C1468.1,1115.7 1469.7,1109.8 1470.9,1104.9 C1472.1,1100.0 1473.0,1104.2 1474.1,1094.5 C1475.1,1084.7 1476.3,1056.8 1477.2,1046.3 C1478.1,1035.8 1478.1,1034.1 1479.3,1031.6 C1480.5,1029.2 1483.0,1032.1 1484.5,1031.6 C1486.1,1031.1 1487.3,1028.8 1488.7,1028.5 C1490.1,1028.1 1491.3,1029.9 1492.9,1029.5 C1494.5,1029.2 1496.7,1027.4 1498.1,1026.4 C1499.5,1025.3 1500.1,1023.9 1501.3,1023.2 C1502.5,1022.5 1504.1,1021.9 1505.5,1022.2 C1506.9,1022.5 1507.6,1023.8 1509.7,1025.3 C1511.7,1026.9 1515.8,1030.1 1518.0,1031.6 C1520.3,1033.2 1521.5,1034.8 1523.3,1034.8 C1525.0,1034.8 1526.9,1033.2 1528.5,1031.6 C1530.1,1030.1 1531.1,1026.9 1532.7,1025.3 C1534.3,1023.8 1536.6,1022.7 1537.9,1022.2 C1539.3,1021.7 1531.8,1022.2 1540.9,1022.2 C1550.0,1022.2 1583.5,1022.2 1592.6,1022.2 C1601.7,1022.2 1593.9,1020.8 1595.6,1022.2 C1597.3,1023.6 1600.8,1028.1 1602.8,1030.7 C1604.8,1033.3 1605.7,1037.9 1607.4,1037.9 C1609.0,1037.9 1610.8,1033.3 1612.6,1030.7 C1614.5,1028.1 1616.6,1022.4 1618.5,1022.2 C1620.3,1022.0 1622.0,1027.4 1623.7,1029.4 C1625.5,1031.4 1627.4,1034.0 1629.0,1034.0 C1630.5,1034.0 1631.8,1031.4 1633.1,1029.4 C1634.5,1027.4 1635.5,1022.0 1636.8,1022.2 C1638.1,1022.4 1639.4,1028.1 1640.7,1030.7 C1642.0,1033.3 1643.2,1037.9 1644.7,1037.9 C1646.1,1037.9 1647.7,1033.3 1649.2,1030.7 C1650.8,1028.1 1652.6,1023.6 1653.8,1022.2 C1655.1,1020.8 1623.2,1022.2 1656.8,1022.2 C1690.4,1022.2 1822.0,1022.2 1855.6,1022.2 C1889.2,1022.2 1856.6,1021.8 1858.6,1022.2 C1860.6,1022.6 1864.4,1024.8 1867.4,1024.8 C1870.3,1024.8 1874.2,1022.6 1876.2,1022.2 C1878.1,1021.8 1872.8,1022.2 1879.2,1022.2 C1885.5,1022.2 1907.8,1022.2 1914.2,1022.2 C1920.5,1022.2 1915.2,1021.8 1917.2,1022.2 C1919.1,1022.6 1922.9,1023.7 1926.0,1024.8 C1929.0,1026.0 1932.7,1029.2 1935.5,1029.2 C1938.3,1029.2 1941.2,1025.7 1942.8,1024.8 C1944.4,1024.0 1944.6,1024.2 1944.9,1024.1" stroke="#1d9e8a" stroke-width="3.2" fill="none" stroke-linejoin="round" stroke-linecap="round" />
<path d="M1386.4,1018.0 C1387.0,1018.0 1388.6,1018.3 1390.3,1018.0 C1392.0,1017.8 1394.5,1017.1 1396.6,1016.5 C1398.7,1016.0 1400.8,1014.8 1402.8,1014.9 C1404.9,1014.9 1406.9,1017.8 1409.1,1017.0 C1411.4,1016.1 1414.0,1009.8 1416.5,1009.6 C1418.9,1009.5 1421.5,1015.7 1423.8,1015.9 C1426.1,1016.1 1428.0,1012.3 1430.1,1010.7 C1432.2,1009.1 1434.3,1008.2 1436.4,1006.5 C1438.5,1004.7 1440.5,1001.4 1442.6,1000.2 C1444.7,999.0 1446.8,999.7 1448.9,999.2 C1451.0,998.6 1453.1,997.7 1455.2,997.1 C1457.3,996.5 1459.7,994.7 1461.5,995.6 C1463.2,996.5 1463.9,999.4 1465.7,1002.3 C1467.4,1005.2 1470.2,1010.3 1472.0,1012.8 C1473.7,1015.2 1474.9,1015.6 1476.1,1017.0 C1477.4,1018.4 1477.9,1020.3 1479.3,1021.2 C1480.7,1022.0 1483.2,1022.0 1484.5,1022.2 C1485.9,1022.4 1468.7,1022.2 1487.5,1022.2 C1506.3,1022.2 1578.4,1022.2 1597.2,1022.2 C1616.0,1022.2 1598.5,1023.1 1600.2,1022.2 C1601.9,1021.3 1605.0,1017.0 1607.4,1017.0 C1609.8,1017.0 1612.9,1021.3 1614.6,1022.2 C1616.3,1023.1 1573.2,1022.2 1617.6,1022.2 C1661.9,1022.2 1836.2,1022.2 1880.5,1022.2 C1924.8,1022.2 1882.0,1024.3 1883.5,1022.2 C1885.0,1020.1 1887.4,1015.4 1889.4,1009.3 C1891.3,1003.3 1893.3,985.9 1895.2,985.9 C1897.2,985.9 1899.4,1003.3 1901.1,1009.3 C1902.8,1015.4 1904.2,1020.1 1905.5,1022.2 C1906.7,1024.3 1907.0,1022.2 1908.5,1022.2 C1909.9,1022.2 1912.7,1022.2 1914.2,1022.2 C1915.6,1022.2 1915.5,1024.8 1917.2,1022.2 C1918.9,1019.6 1921.8,1012.3 1924.5,1006.4 C1927.2,1000.4 1931.1,986.1 1933.6,986.6 C1936.0,987.1 1937.6,1004.1 1939.2,1009.3 C1940.7,1014.6 1941.9,1016.1 1942.8,1018.1 C1943.8,1020.1 1944.6,1020.5 1944.9,1021.0" stroke="#56679e" stroke-width="3.2" fill="none" stroke-linejoin="round" stroke-linecap="round" />
<path d="M1386.4,1026.4 C1387.0,1026.4 1388.6,1026.1 1390.3,1026.4 C1392.0,1026.6 1394.5,1027.3 1396.6,1027.9 C1398.7,1028.4 1400.8,1029.6 1402.8,1029.5 C1404.9,1029.5 1406.9,1026.6 1409.1,1027.4 C1411.4,1028.3 1414.0,1034.6 1416.5,1034.8 C1418.9,1034.9 1421.5,1028.7 1423.8,1028.5 C1426.1,1028.3 1428.0,1032.1 1430.1,1033.7 C1432.2,1035.3 1434.3,1036.2 1436.4,1037.9 C1438.5,1039.7 1440.5,1043.0 1442.6,1044.2 C1444.7,1045.4 1446.8,1044.7 1448.9,1045.2 C1451.0,1045.8 1453.1,1046.7 1455.2,1047.3 C1457.3,1047.9 1459.7,1049.7 1461.5,1048.8 C1463.2,1047.9 1463.9,1045.0 1465.7,1042.1 C1467.4,1039.2 1470.2,1034.1 1472.0,1031.6 C1473.7,1029.2 1474.9,1028.8 1476.1,1027.4 C1477.4,1026.0 1477.9,1024.1 1479.3,1023.2 C1480.7,1022.4 1483.2,1022.4 1484.5,1022.2 C1485.9,1022.0 1468.7,1022.2 1487.5,1022.2 C1506.3,1022.2 1578.4,1022.2 1597.2,1022.2 C1616.0,1022.2 1598.5,1021.3 1600.2,1022.2 C1601.9,1023.1 1605.0,1027.4 1607.4,1027.4 C1609.8,1027.4 1612.9,1023.1 1614.6,1022.2 C1616.3,1021.3 1573.2,1022.2 1617.6,1022.2 C1661.9,1022.2 1836.2,1022.2 1880.5,1022.2 C1924.8,1022.2 1882.0,1020.1 1883.5,1022.2 C1885.0,1024.3 1887.4,1029.0 1889.4,1035.1 C1891.3,1041.1 1893.3,1058.5 1895.2,1058.5 C1897.2,1058.5 1899.4,1041.1 1901.1,1035.1 C1902.8,1029.0 1904.2,1024.3 1905.5,1022.2 C1906.7,1020.1 1907.0,1022.2 1908.5,1022.2 C1909.9,1022.2 1912.7,1022.2 1914.2,1022.2 C1915.6,1022.2 1915.5,1019.6 1917.2,1022.2 C1918.9,1024.8 1921.8,1032.1 1924.5,1038.0 C1927.2,1044.0 1931.1,1058.3 1933.6,1057.8 C1936.0,1057.3 1937.6,1040.3 1939.2,1035.1 C1940.7,1029.8 1941.9,1028.3 1942.8,1026.3 C1943.8,1024.3 1944.6,1023.9 1944.9,1023.4" stroke="#56679e" stroke-width="3.2" fill="none" stroke-linejoin="round" stroke-linecap="round" />
<line x1="1656.4" y1="878.0" x2="1656.4" y2="1193.0" stroke="#000" stroke-width="3.4" stroke-dasharray="10.5,9.5"/>
<line x1="1678.0" y1="916.6" x2="1718.6" y2="916.6" stroke="#52585a" stroke-width="3.4" />
<text x="1731.5" y="925.4" font-size="26" text-anchor="start" font-weight="normal" fill="#231815" >Total</text>
<line x1="1678.0" y1="953.9" x2="1718.6" y2="953.9" stroke="#d9675a" stroke-width="3.4" />
<text x="1731.5" y="962.7" font-size="26" text-anchor="start" font-weight="normal" fill="#231815" >Mn-3d</text>
<line x1="1678.0" y1="994.6" x2="1718.6" y2="994.6" stroke="#1d9e8a" stroke-width="3.4" />
<text x="1731.5" y="1003.0" font-size="26" text-anchor="start" font-weight="normal" fill="#231815" >Cl-3p</text>
<line x1="1678.0" y1="1166.8" x2="1718.6" y2="1166.8" stroke="#56679e" stroke-width="3.4" />
<text x="1731.5" y="1175.3" font-size="26" text-anchor="start" fill="#231815" font-weight="normal" ><tspan>C</tspan><tspan dy="8.0" font-size="18">5</tspan><tspan dy="-8.0">H</tspan><tspan dy="8.0" font-size="18">11</tspan><tspan dy="-8.0">N</tspan><tspan dy="8.0" font-size="18">3</tspan><tspan dy="-8.0">&amp;H</tspan><tspan dy="8.0" font-size="18">2</tspan><tspan dy="-8.0">O</tspan></text>
<path d="M56.5,1828.8 C57.5,1828.8 60.3,1829.0 62.2,1828.8 C64.2,1828.7 66.4,1829.0 68.0,1828.1 C69.7,1827.3 70.7,1826.2 72.4,1823.8 C74.1,1821.4 76.3,1816.6 78.2,1813.6 C80.1,1810.6 82.1,1807.5 84.0,1805.7 C85.9,1803.8 88.1,1802.4 89.8,1802.3 C91.5,1802.2 92.7,1803.4 94.1,1804.9 C95.6,1806.4 97.0,1809.9 98.5,1811.4 C99.9,1813.0 101.5,1815.2 102.8,1814.3 C104.2,1813.5 105.2,1809.6 106.4,1806.4 C107.7,1803.1 108.7,1798.0 110.1,1794.8 C111.4,1791.5 113.0,1788.6 114.4,1786.8 C115.9,1785.1 117.1,1784.8 118.8,1784.3 C120.5,1783.9 122.6,1784.0 124.6,1784.1 C126.5,1784.1 128.7,1784.1 130.4,1784.6 C132.1,1785.2 133.3,1785.8 134.7,1787.5 C136.2,1789.2 137.4,1791.4 139.1,1794.8 C140.7,1798.2 142.9,1803.7 144.9,1807.8 C146.8,1811.9 148.7,1816.6 150.7,1819.4 C152.6,1822.2 154.5,1823.5 156.4,1824.5 C158.4,1825.5 160.3,1825.6 162.2,1825.2 C164.2,1824.9 166.1,1824.5 168.0,1822.3 C170.0,1820.1 171.9,1817.2 173.8,1812.2 C175.8,1807.1 177.9,1798.2 179.6,1791.9 C181.3,1785.6 182.5,1778.5 184.0,1774.5 C185.4,1770.5 186.9,1769.2 188.3,1768.0 C189.8,1766.8 191.2,1766.6 192.7,1767.2 C194.1,1767.9 195.6,1769.4 197.0,1771.6 C198.5,1773.8 199.9,1778.0 201.4,1780.3 C202.8,1782.6 204.3,1785.4 205.7,1785.4 C207.2,1785.4 208.6,1782.1 210.1,1780.3 C211.5,1778.5 212.7,1776.4 214.4,1774.5 C216.1,1772.6 218.3,1770.1 220.2,1768.7 C222.1,1767.2 224.1,1766.0 226.0,1765.8 C227.9,1765.6 229.9,1766.3 231.8,1767.2 C233.7,1768.2 235.7,1769.7 237.6,1771.6 C239.5,1773.5 241.5,1775.9 243.4,1778.8 C245.3,1781.7 247.3,1785.7 249.2,1789.0 C251.1,1792.2 253.1,1796.0 255.0,1798.4 C256.9,1800.8 259.1,1802.9 260.8,1803.5 C262.5,1804.1 263.5,1803.2 265.1,1802.0 C266.8,1800.8 269.0,1798.6 270.9,1796.2 C272.9,1793.8 274.8,1791.2 276.7,1787.5 C278.7,1783.9 280.6,1779.6 282.5,1774.5 C284.5,1769.4 286.4,1762.4 288.3,1757.1 C290.3,1751.8 292.0,1747.2 294.1,1742.6 C296.3,1738.0 299.0,1733.2 301.4,1729.6 C303.8,1725.9 306.2,1723.0 308.6,1720.9 C311.0,1718.7 313.7,1717.4 315.9,1716.5 C318.0,1715.7 319.7,1715.7 321.7,1715.8 C323.6,1715.9 325.2,1716.4 327.5,1717.2 C329.7,1718.1 333.0,1718.9 335.0,1720.9 C337.0,1722.8 337.5,1724.7 339.3,1728.9 C341.0,1733.1 343.2,1740.0 345.5,1745.9 C347.8,1751.9 350.6,1758.3 353.2,1764.5 C355.8,1770.7 358.4,1777.2 361.0,1783.1 C363.6,1789.0 366.1,1795.2 368.7,1800.1 C371.3,1805.0 373.6,1809.4 376.5,1812.5 C379.3,1815.6 384.2,1817.7 385.7,1818.7 L385.7,1833.3 L56.5,1833.3 Z" fill="#4fb2ca" stroke="none"/>
<path d="M56.4,1393.8 C56.9,1400.1 58.1,1418.9 59.3,1431.5 C60.6,1444.0 62.2,1457.1 63.7,1469.2 C65.1,1481.2 66.6,1493.3 68.0,1503.9 C69.5,1514.6 70.9,1524.0 72.4,1532.9 C73.8,1541.9 75.4,1550.3 76.7,1557.6 C78.1,1564.8 79.4,1570.9 80.4,1576.4 C81.3,1581.9 81.0,1585.9 82.5,1590.4 C84.1,1594.9 87.9,1599.4 89.8,1603.5 C91.7,1607.6 92.7,1611.0 94.1,1615.1 C95.6,1619.2 97.3,1624.4 98.5,1628.1 C99.7,1631.9 100.4,1635.7 101.4,1637.5 C102.3,1639.3 102.8,1640.0 104.3,1639.0 C105.7,1638.0 107.9,1633.7 110.1,1631.7 C112.2,1629.7 115.1,1627.6 117.3,1627.0 C119.5,1626.4 121.4,1627.6 123.1,1628.1 C124.8,1628.7 125.8,1629.8 127.5,1630.3 C129.2,1630.8 131.6,1630.4 133.3,1631.0 C135.0,1631.6 136.2,1632.2 137.6,1633.9 C139.1,1635.6 140.5,1638.6 142.0,1641.2 C143.4,1643.7 144.4,1646.2 146.3,1649.1 C148.2,1652.0 151.4,1656.0 153.6,1658.6 C155.7,1661.1 157.4,1662.2 159.3,1664.3 C161.3,1666.5 163.2,1668.9 165.1,1671.6 C167.1,1674.3 169.3,1677.8 170.9,1680.3 C172.6,1682.8 173.6,1685.2 175.3,1686.8 C177.0,1688.4 179.4,1688.6 181.1,1689.7 C182.8,1690.8 183.7,1691.3 185.4,1693.3 C187.1,1695.4 189.3,1698.6 191.2,1702.0 C193.2,1705.4 195.3,1710.0 197.0,1713.6 C198.7,1717.2 199.9,1721.1 201.4,1723.8 C202.8,1726.4 204.0,1728.7 205.7,1729.6 C207.4,1730.4 209.6,1729.4 211.5,1728.8 C213.5,1728.2 215.4,1726.3 217.3,1725.9 C219.3,1725.6 221.2,1726.1 223.1,1726.7 C225.0,1727.3 227.0,1728.2 228.9,1729.6 C230.8,1730.9 232.3,1732.1 234.7,1734.6 C237.1,1737.2 240.5,1741.5 243.4,1744.8 C246.3,1748.0 249.2,1751.4 252.1,1754.2 C255.0,1757.0 258.4,1760.0 260.8,1761.4 C263.2,1762.9 264.2,1763.1 266.6,1762.9 C269.0,1762.7 272.4,1761.9 275.3,1760.0 C278.2,1758.1 281.1,1754.4 284.0,1751.3 C286.9,1748.2 289.8,1744.5 292.7,1741.2 C295.6,1737.8 298.5,1734.2 301.4,1731.0 C304.3,1727.9 307.2,1724.4 310.1,1722.3 C313.0,1720.2 316.4,1719.0 318.8,1718.3 C321.2,1717.5 321.1,1717.5 324.6,1717.7 C328.0,1717.9 335.0,1717.2 339.3,1719.6 C343.6,1722.0 346.5,1727.6 350.1,1732.0 C353.7,1736.4 357.6,1741.8 361.0,1745.9 C364.3,1750.1 367.2,1753.2 370.3,1756.8 C373.4,1760.4 378.0,1765.8 379.6,1767.6" stroke="#50585a" stroke-width="3.4" fill="none" stroke-linejoin="round" stroke-linecap="round" />
<path d="M276.7,1826.5 C280.6,1826.4 291.1,1826.3 300.0,1826.0 C308.9,1825.7 322.4,1826.0 330.0,1824.5 C337.6,1823.0 340.8,1822.3 345.5,1817.2 C350.1,1812.1 354.0,1804.3 357.9,1793.9 C361.7,1783.6 365.1,1769.2 368.7,1755.2 C372.3,1741.3 376.2,1725.6 379.6,1710.3 C382.9,1695.1 386.0,1677.8 388.8,1663.9 C391.7,1649.9 394.0,1637.6 396.6,1626.7 C399.2,1615.9 401.7,1606.3 404.3,1598.8 C406.9,1591.4 409.5,1586.1 412.1,1581.8 C414.6,1577.6 417.4,1575.0 419.8,1573.3 C422.3,1571.6 424.2,1571.4 426.8,1571.7 C429.4,1572.1 432.3,1572.9 435.3,1575.6 C438.3,1578.3 441.5,1583.1 444.6,1588.0 C447.7,1592.9 450.8,1598.6 453.9,1605.0 C457.0,1611.5 460.1,1618.5 463.2,1626.7 C466.3,1635.0 469.4,1644.8 472.5,1654.6 C475.6,1664.4 478.7,1675.0 481.7,1685.6 C484.8,1696.1 487.9,1707.5 491.0,1718.1 C494.1,1728.7 497.2,1739.5 500.3,1749.0 C503.4,1758.6 506.5,1767.9 509.6,1775.4 C512.7,1782.9 515.3,1788.5 518.9,1793.9 C522.5,1799.4 526.7,1804.0 531.3,1807.9 C535.9,1811.8 541.6,1814.7 546.8,1817.2 C551.9,1819.6 557.1,1821.1 562.3,1822.6 C567.4,1824.1 572.6,1825.2 577.8,1826.2 C582.9,1827.1 588.1,1827.8 593.2,1828.3 C598.4,1828.9 606.1,1829.2 608.7,1829.4 L608.7,1833.3 L276.7,1833.3 Z" fill="#e6a08c" stroke="none"/>
<line x1="183.3" y1="1761.4" x2="179.6" y2="1649.0" stroke="#231815" stroke-width="3" stroke-dasharray="7,5"/>
<polyline points="168.8,1664.3 179.6,1646.5 193.4,1664.3" fill="none" stroke="#231815" stroke-width="3" stroke-linejoin="miter" stroke-dasharray="6,3.5"/>
<line x1="228.9" y1="1761.4" x2="232.1" y2="1708.0" stroke="#231815" stroke-width="3" stroke-dasharray="7,5"/>
<polyline points="221.7,1720.6 232.1,1706.0 242.7,1721.6" fill="none" stroke="#231815" stroke-width="3.2" stroke-linejoin="miter" />
<text x="162.2" y="1634.6" font-size="25" text-anchor="start" fill="#231815" font-weight="normal" ><tspan>[</tspan><tspan dy="-10.0" font-size="17">4</tspan><tspan dy="10.0">A1(G), </tspan><tspan dy="-10.0" font-size="17">4</tspan><tspan dy="10.0">E(G)]</tspan></text>
<text x="201.5" y="1684.6" font-size="25" text-anchor="start" fill="#231815" font-weight="normal" ><tspan dy="-10.0" font-size="17">4</tspan><tspan dy="10.0">T</tspan><tspan dy="8.0" font-size="17">2</tspan><tspan dy="-8.0">(G)</tspan></text>
<text x="291.0" y="1695.5" font-size="25" text-anchor="start" fill="#231815" font-weight="normal" ><tspan dy="-10.0" font-size="17">4</tspan><tspan dy="10.0">T</tspan><tspan dy="8.0" font-size="17">1</tspan><tspan dy="-8.0">(G)</tspan></text>
<text x="0.0" y="0.0" font-size="25" text-anchor="start" fill="#231815" font-weight="normal" transform="translate(95.5,1785.4) rotate(-90)"><tspan dy="-10.0" font-size="17">4</tspan><tspan dy="10.0">T</tspan><tspan dy="8.0" font-size="17">1</tspan><tspan dy="-8.0">(P)</tspan></text>
<text x="0.0" y="0.0" font-size="25" text-anchor="start" fill="#231815" font-weight="normal" transform="translate(141.5,1763.6) rotate(-90)"><tspan dy="-10.0" font-size="17">4</tspan><tspan dy="10.0">E(D)</tspan></text>
<text x="142.5" y="1432.9" font-size="25" text-anchor="start" fill="#231815" font-weight="normal" ><tspan>C</tspan><tspan dy="8.0" font-size="17.5">5</tspan><tspan dy="-8.0">H</tspan><tspan dy="8.0" font-size="17.5">11</tspan><tspan dy="-8.0">N</tspan><tspan dy="8.0" font-size="17.5">3</tspan><tspan dy="-8.0">(MnCl</tspan><tspan dy="8.0" font-size="17.5">3</tspan><tspan dy="-8.0">·H</tspan><tspan dy="8.0" font-size="17.5">2</tspan><tspan dy="-8.0">O)Br</tspan></text>
<text x="144.5" y="1491.6" font-size="25" text-anchor="start" fill="#231815" font-weight="normal" ><tspan font-style="italic" font-family="'Liberation Serif', serif">λ</tspan><tspan dy="8.0" font-size="17.5">ex</tspan><tspan dy="-8.0"> = 365 nm</tspan></text>
<text x="143.0" y="1535.8" font-size="25" text-anchor="start" fill="#231815" font-weight="normal" ><tspan font-style="italic" font-family="'Liberation Serif', serif">λ</tspan><tspan dy="8.0" font-size="17.5">em</tspan><tspan dy="-8.0"> = 633 nm</tspan></text>
<line x1="482.7" y1="1428.7" x2="524" y2="1428.7" stroke="#50585a" stroke-width="3.4" stroke-linecap="round"/>
<text x="535.5" y="1436.9" font-size="25.5" text-anchor="start" font-weight="normal" fill="#231815" >Abs</text>
<line x1="482.7" y1="1467" x2="524" y2="1467" stroke="#4fb2ca" stroke-width="3.4" stroke-linecap="round"/>
<text x="535.5" y="1474.5" font-size="25.5" text-anchor="start" font-weight="normal" fill="#231815" >PLE</text>
<line x1="482.7" y1="1506.2" x2="524" y2="1506.2" stroke="#e6a08c" stroke-width="3.4" stroke-linecap="round"/>
<text x="535.5" y="1513.6" font-size="25.5" text-anchor="start" font-weight="normal" fill="#231815" >PL</text>
<path d="M720.0,1834.5 C721.1,1834.6 724.0,1834.9 726.9,1834.8 C729.7,1834.8 733.7,1834.8 737.2,1834.2 C740.6,1833.7 744.3,1832.3 747.5,1831.6 C750.7,1830.8 753.2,1830.2 756.4,1829.8 C759.6,1829.4 764.2,1829.8 766.7,1829.4 C769.2,1828.9 769.4,1829.7 771.1,1827.2 C772.9,1824.6 775.1,1818.5 777.0,1813.9 C779.0,1809.2 781.0,1803.3 782.9,1799.1 C784.9,1794.9 786.9,1791.9 788.8,1788.8 C790.8,1785.7 793.2,1782.4 794.8,1780.7 C796.4,1778.9 797.2,1778.5 798.4,1778.5 C799.7,1778.5 800.8,1778.7 802.1,1780.7 C803.5,1782.6 805.1,1786.2 806.6,1790.3 C808.0,1794.3 809.3,1799.9 811.0,1805.0 C812.7,1810.2 814.9,1817.1 816.9,1821.3 C818.9,1825.4 820.8,1828.1 822.8,1830.1 C824.8,1832.1 826.7,1832.8 828.7,1833.1 C830.7,1833.3 832.9,1833.1 834.6,1831.6 C836.3,1830.1 837.6,1828.1 839.0,1824.2 C840.5,1820.3 842.0,1813.9 843.5,1808.0 C844.9,1802.1 846.4,1795.2 847.9,1788.8 C849.4,1782.4 850.8,1774.0 852.3,1769.6 C853.8,1765.2 855.0,1763.6 856.7,1762.2 C858.5,1760.8 860.9,1761.1 862.6,1761.0 C864.4,1761.0 865.6,1761.6 867.1,1761.9 C868.6,1762.2 870.0,1763.0 871.5,1763.0 C873.0,1762.9 874.5,1762.1 875.9,1761.5 C877.4,1760.9 878.6,1759.8 880.4,1759.3 C882.1,1758.8 884.5,1758.4 886.3,1758.5 C888.0,1758.6 889.0,1758.9 890.7,1760.0 C892.4,1761.1 894.4,1763.3 896.6,1765.2 C898.8,1767.0 901.8,1768.9 904.0,1771.1 C906.2,1773.3 907.9,1775.5 909.9,1778.5 C911.8,1781.4 913.8,1786.1 915.8,1788.8 C917.8,1791.5 920.0,1793.5 921.7,1794.7 C923.4,1795.9 924.6,1796.4 926.1,1796.2 C927.6,1795.9 928.8,1794.7 930.5,1793.2 C932.3,1791.7 934.5,1789.5 936.5,1787.3 C938.4,1785.1 940.4,1782.4 942.4,1779.9 C944.3,1777.5 945.8,1774.8 948.3,1772.5 C950.7,1770.3 954.2,1768.1 957.1,1766.6 C960.1,1765.2 963.5,1764.5 966.0,1764.0 C968.4,1763.4 969.4,1763.3 971.9,1763.4 C974.3,1763.5 977.8,1763.7 980.7,1764.4 C983.7,1765.2 986.4,1764.8 989.6,1767.8 C992.8,1770.9 996.7,1778.4 1000.1,1782.8 C1003.5,1787.3 1006.8,1790.7 1010.2,1794.6 C1013.6,1798.6 1017.2,1802.8 1020.3,1806.4 C1023.4,1810.1 1025.9,1813.2 1028.8,1816.5 C1031.6,1819.9 1034.4,1824.1 1037.2,1826.7 C1040.0,1829.2 1044.2,1830.9 1045.6,1831.7 L1045.6,1840.0 L720.0,1840.0 Z" fill="#4fb2ca" stroke="none"/>
<path d="M719.7,1447.7 C720.7,1456.4 722.8,1481.3 725.5,1500.0 C728.2,1518.7 733.3,1547.0 735.7,1560.0 C738.2,1573.0 738.7,1572.1 740.1,1577.7 C741.6,1583.4 743.1,1589.0 744.6,1593.9 C746.0,1598.9 747.5,1603.1 749.0,1607.2 C750.5,1611.4 751.9,1615.4 753.4,1619.0 C754.9,1622.7 756.4,1625.9 757.9,1629.4 C759.3,1632.8 760.8,1637.0 762.3,1639.7 C763.8,1642.4 765.2,1644.1 766.7,1645.6 C768.2,1647.1 769.7,1647.8 771.1,1648.6 C772.6,1649.3 774.1,1649.3 775.6,1650.0 C777.0,1650.8 778.3,1651.5 780.0,1653.0 C781.7,1654.5 784.2,1657.3 785.9,1658.9 C787.6,1660.5 788.6,1661.5 790.3,1662.6 C792.0,1663.7 794.5,1664.2 796.2,1665.5 C798.0,1666.9 799.2,1668.4 800.7,1670.7 C802.1,1673.0 803.6,1676.1 805.1,1679.6 C806.6,1683.0 808.0,1687.4 809.5,1691.4 C811.0,1695.3 812.2,1699.2 813.9,1703.2 C815.7,1707.1 817.9,1711.5 819.8,1715.0 C821.8,1718.4 823.8,1721.1 825.7,1723.8 C827.7,1726.5 829.7,1728.8 831.7,1731.2 C833.6,1733.7 835.8,1737.2 837.6,1738.6 C839.3,1740.0 840.5,1739.8 842.0,1739.3 C843.5,1738.8 844.9,1737.1 846.4,1735.6 C847.9,1734.2 849.4,1731.7 850.8,1730.5 C852.3,1729.2 853.8,1727.9 855.3,1728.3 C856.7,1728.6 858.0,1730.7 859.7,1732.7 C861.4,1734.7 863.6,1738.4 865.6,1740.1 C867.6,1741.8 869.5,1742.5 871.5,1743.0 C873.5,1743.5 875.4,1742.8 877.4,1743.0 C879.4,1743.3 881.3,1743.6 883.3,1744.5 C885.3,1745.4 887.2,1746.7 889.2,1748.2 C891.2,1749.7 892.9,1751.3 895.1,1753.4 C897.3,1755.4 900.0,1758.3 902.5,1760.7 C905.0,1763.2 907.4,1765.9 909.9,1768.1 C912.3,1770.3 914.8,1772.5 917.3,1774.0 C919.7,1775.5 922.2,1776.6 924.6,1777.0 C927.1,1777.3 929.6,1777.0 932.0,1776.2 C934.5,1775.5 936.7,1774.1 939.4,1772.5 C942.1,1770.9 945.3,1768.7 948.3,1766.6 C951.2,1764.6 954.2,1762.1 957.1,1760.0 C960.1,1757.9 963.0,1755.6 966.0,1754.1 C968.9,1752.6 971.9,1751.5 974.8,1751.1 C977.8,1750.8 978.9,1750.0 983.7,1751.9 C988.5,1753.8 998.2,1758.9 1003.5,1762.6 C1008.7,1766.4 1011.9,1771.2 1015.3,1774.4 C1018.6,1777.7 1020.3,1779.2 1023.7,1782.0 C1027.1,1784.8 1031.8,1788.6 1035.5,1791.3 C1039.1,1793.9 1043.9,1796.9 1045.6,1798.0" stroke="#50585a" stroke-width="3.4" fill="none" stroke-linejoin="round" stroke-linecap="round" />
<path d="M942.4,1838.5 C947.0,1838.4 962.1,1838.4 970.0,1838.0 C977.9,1837.6 983.9,1837.0 990.0,1836.0 C996.1,1835.0 1001.8,1833.8 1006.8,1831.7 C1011.9,1829.6 1016.4,1827.5 1020.3,1823.3 C1024.3,1819.1 1027.1,1814.3 1030.4,1806.4 C1033.8,1798.6 1037.2,1788.5 1040.5,1776.1 C1043.9,1763.8 1047.3,1748.0 1050.7,1732.3 C1054.0,1716.6 1057.4,1698.6 1060.8,1681.8 C1064.1,1664.9 1067.8,1646.1 1070.9,1631.2 C1074.0,1616.3 1076.5,1603.4 1079.3,1592.5 C1082.1,1581.5 1084.9,1572.4 1087.7,1565.5 C1090.5,1558.6 1093.3,1554.5 1096.1,1551.2 C1099.0,1547.8 1102.0,1546.3 1104.6,1545.3 C1107.1,1544.2 1108.8,1544.2 1111.3,1544.9 C1113.8,1545.6 1116.6,1546.3 1119.7,1549.5 C1122.8,1552.6 1126.8,1557.8 1129.8,1563.8 C1132.9,1569.8 1135.5,1577.3 1138.3,1585.7 C1141.1,1594.1 1143.9,1603.1 1146.7,1614.4 C1149.5,1625.6 1152.3,1640.2 1155.1,1653.1 C1157.9,1666.0 1160.7,1679.5 1163.5,1691.9 C1166.4,1704.2 1169.2,1716.6 1172.0,1727.2 C1174.8,1737.9 1177.6,1747.5 1180.4,1755.9 C1183.2,1764.3 1185.7,1771.1 1188.8,1777.8 C1191.9,1784.5 1195.6,1791.0 1198.9,1796.3 C1202.3,1801.7 1205.1,1805.9 1209.0,1809.8 C1213.0,1813.7 1217.5,1817.0 1222.5,1819.9 C1227.6,1822.9 1233.2,1825.4 1239.4,1827.5 C1245.5,1829.6 1252.8,1831.3 1259.6,1832.6 C1266.3,1833.8 1276.4,1834.4 1279.8,1834.7 L1279.8,1840.0 L942.4,1840.0 Z" fill="#d8675a" stroke="none"/>
<line x1="859.7" y1="1757.8" x2="856.7" y2="1657.0" stroke="#231815" stroke-width="3" stroke-dasharray="7,5"/>
<polyline points="844.9,1662.6 855.3,1646.0 868.9,1661.8" fill="none" stroke="#231815" stroke-width="3.4" stroke-linejoin="miter" />
<line x1="890.0" y1="1754.8" x2="892.9" y2="1714.0" stroke="#231815" stroke-width="3" stroke-dasharray="7,5"/>
<polyline points="883.0,1714.2 893.3,1701.5 903.2,1715.7" fill="none" stroke="#231815" stroke-width="3.4" stroke-linejoin="miter" />
<text x="827.2" y="1631.6" font-size="25" text-anchor="start" fill="#231815" font-weight="normal" ><tspan>[</tspan><tspan dy="-10.0" font-size="17">4</tspan><tspan dy="10.0">A</tspan><tspan dy="8.0" font-size="17">1</tspan><tspan dy="-8.0">(G), </tspan><tspan dy="-10.0" font-size="17">4</tspan><tspan dy="10.0">E(G)]</tspan></text>
<text x="878.5" y="1687.0" font-size="25" text-anchor="start" fill="#231815" font-weight="normal" ><tspan dy="-10.0" font-size="17">4</tspan><tspan dy="10.0">T</tspan><tspan dy="8.0" font-size="17">2</tspan><tspan dy="-8.0">(G)</tspan></text>
<text x="951.0" y="1729.7" font-size="25" text-anchor="start" fill="#231815" font-weight="normal" ><tspan dy="-10.0" font-size="17">4</tspan><tspan dy="10.0">T</tspan><tspan dy="8.0" font-size="17">1</tspan><tspan dy="-8.0">(G)</tspan></text>
<text x="0.0" y="0.0" font-size="25" text-anchor="start" fill="#231815" font-weight="normal" transform="translate(758.8,1791.7) rotate(-90)"><tspan dy="-10.0" font-size="17">4</tspan><tspan dy="10.0">T</tspan><tspan dy="8.0" font-size="17">1</tspan><tspan dy="-8.0">(P)</tspan></text>
<text x="0.0" y="0.0" font-size="25" text-anchor="start" fill="#231815" font-weight="normal" transform="translate(805.3,1771.0) rotate(-90)"><tspan dy="-10.0" font-size="17">4</tspan><tspan dy="10.0">E(D)</tspan></text>
<text x="786.3" y="1432.5" font-size="25" text-anchor="start" fill="#231815" font-weight="normal" ><tspan>C</tspan><tspan dy="8.0" font-size="17.5">5</tspan><tspan dy="-8.0">H</tspan><tspan dy="8.0" font-size="17.5">11</tspan><tspan dy="-8.0">N</tspan><tspan dy="8.0" font-size="17.5">3</tspan><tspan dy="-8.0">(MnCl</tspan><tspan dy="8.0" font-size="17.5">3</tspan><tspan dy="-8.0">·H</tspan><tspan dy="8.0" font-size="17.5">2</tspan><tspan dy="-8.0">O)Cl</tspan></text>
<text x="821.6" y="1494.0" font-size="25" text-anchor="start" fill="#231815" font-weight="normal" ><tspan font-style="italic" font-family="'Liberation Serif', serif">λ</tspan><tspan dy="8.0" font-size="17.5">ex</tspan><tspan dy="-8.0"> = 365 nm</tspan></text>
<text x="818.2" y="1536.8" font-size="25" text-anchor="start" fill="#231815" font-weight="normal" ><tspan font-style="italic" font-family="'Liberation Serif', serif">λ</tspan><tspan dy="8.0" font-size="17.5">em</tspan><tspan dy="-8.0"> = 650 nm</tspan></text>
<line x1="1151.9" y1="1433.5" x2="1192.5" y2="1433.5" stroke="#50585a" stroke-width="3.4" stroke-linecap="round"/>
<text x="1204.5" y="1441.9" font-size="29.5" text-anchor="start" font-weight="normal" fill="#231815" >Abs</text>
<line x1="1151.9" y1="1471.8" x2="1192.5" y2="1471.8" stroke="#4fb2ca" stroke-width="3.4" stroke-linecap="round"/>
<text x="1204.5" y="1479.7" font-size="29.5" text-anchor="start" font-weight="normal" fill="#231815" >PLE</text>
<line x1="1151.9" y1="1510.8" x2="1192.5" y2="1510.8" stroke="#d8675a" stroke-width="3.4" stroke-linecap="round"/>
<text x="1204.5" y="1518.6" font-size="29.5" text-anchor="start" font-weight="normal" fill="#231815" >PL</text>
<g fill="#e6a08c"><circle cx="1387.7" cy="1424.2" r="9.6"/><circle cx="1390.1" cy="1427.3" r="9.6"/><circle cx="1392.4" cy="1431.3" r="9.6"/><circle cx="1394.7" cy="1432.5" r="9.6"/><circle cx="1397.1" cy="1435.4" r="9.6"/><circle cx="1399.4" cy="1438.4" r="9.6"/><circle cx="1401.8" cy="1439.7" r="9.6"/><circle cx="1404.1" cy="1443.7" r="9.6"/><circle cx="1406.5" cy="1446.8" r="9.6"/><circle cx="1408.8" cy="1450.2" r="9.6"/><circle cx="1411.2" cy="1450.0" r="9.6"/><circle cx="1413.5" cy="1453.5" r="9.6"/><circle cx="1415.8" cy="1455.3" r="9.6"/><circle cx="1418.2" cy="1461.1" r="9.6"/><circle cx="1420.5" cy="1463.3" r="9.6"/><circle cx="1422.9" cy="1463.0" r="9.6"/><circle cx="1425.2" cy="1470.1" r="9.6"/><circle cx="1427.6" cy="1472.7" r="9.6"/><circle cx="1429.9" cy="1473.9" r="9.6"/><circle cx="1432.3" cy="1476.4" r="9.6"/><circle cx="1434.6" cy="1476.8" r="9.6"/><circle cx="1436.9" cy="1478.7" r="9.6"/><circle cx="1439.3" cy="1484.1" r="9.6"/><circle cx="1441.6" cy="1483.7" r="9.6"/><circle cx="1444.0" cy="1486.2" r="9.6"/><circle cx="1446.3" cy="1488.3" r="9.6"/><circle cx="1448.7" cy="1488.8" r="9.6"/><circle cx="1451.0" cy="1493.1" r="9.6"/><circle cx="1453.3" cy="1494.8" r="9.6"/><circle cx="1455.7" cy="1499.0" r="9.6"/><circle cx="1458.0" cy="1498.9" r="9.6"/><circle cx="1460.4" cy="1501.5" r="9.6"/><circle cx="1462.7" cy="1502.4" r="9.6"/><circle cx="1465.1" cy="1505.3" r="9.6"/><circle cx="1467.4" cy="1505.7" r="9.6"/><circle cx="1469.8" cy="1506.4" r="9.6"/><circle cx="1472.1" cy="1513.0" r="9.6"/><circle cx="1474.4" cy="1514.8" r="9.6"/><circle cx="1476.8" cy="1515.6" r="9.6"/><circle cx="1479.1" cy="1516.6" r="9.6"/><circle cx="1481.5" cy="1515.7" r="9.6"/><circle cx="1483.8" cy="1517.0" r="9.6"/><circle cx="1486.2" cy="1519.3" r="9.6"/><circle cx="1488.5" cy="1519.5" r="9.6"/><circle cx="1490.9" cy="1526.6" r="9.6"/><circle cx="1493.2" cy="1525.7" r="9.6"/><circle cx="1495.5" cy="1531.0" r="9.6"/><circle cx="1497.9" cy="1529.4" r="9.6"/><circle cx="1500.2" cy="1535.8" r="9.6"/><circle cx="1502.6" cy="1536.8" r="9.6"/><circle cx="1504.9" cy="1531.9" r="9.6"/><circle cx="1507.3" cy="1535.4" r="9.6"/><circle cx="1509.6" cy="1543.1" r="9.6"/><circle cx="1512.0" cy="1541.3" r="9.6"/><circle cx="1514.3" cy="1547.6" r="9.6"/><circle cx="1516.6" cy="1544.5" r="9.6"/><circle cx="1519.0" cy="1543.5" r="9.6"/><circle cx="1521.3" cy="1550.3" r="9.6"/><circle cx="1523.7" cy="1553.5" r="9.6"/><circle cx="1526.0" cy="1550.8" r="9.6"/><circle cx="1528.4" cy="1551.0" r="9.6"/><circle cx="1530.7" cy="1555.1" r="9.6"/><circle cx="1533.1" cy="1562.8" r="9.6"/><circle cx="1535.4" cy="1562.8" r="9.6"/><circle cx="1537.7" cy="1558.6" r="9.6"/><circle cx="1540.1" cy="1561.7" r="9.6"/><circle cx="1542.4" cy="1562.1" r="9.6"/><circle cx="1544.8" cy="1563.6" r="9.6"/><circle cx="1547.1" cy="1572.7" r="9.6"/><circle cx="1549.5" cy="1568.4" r="9.6"/><circle cx="1551.8" cy="1574.1" r="9.6"/><circle cx="1554.1" cy="1574.8" r="9.6"/><circle cx="1556.5" cy="1573.8" r="9.6"/><circle cx="1558.8" cy="1581.0" r="9.6"/><circle cx="1561.2" cy="1576.3" r="9.6"/><circle cx="1563.5" cy="1583.4" r="9.6"/><circle cx="1565.9" cy="1579.3" r="9.6"/><circle cx="1568.2" cy="1584.2" r="9.6"/><circle cx="1570.6" cy="1583.6" r="9.6"/><circle cx="1572.9" cy="1585.5" r="9.6"/><circle cx="1572.9" cy="1594.1" r="9.6"/><circle cx="1575.2" cy="1593.9" r="9.6"/><circle cx="1575.2" cy="1587.4" r="9.6"/><circle cx="1577.6" cy="1597.0" r="9.6"/><circle cx="1577.6" cy="1587.5" r="9.6"/><circle cx="1579.9" cy="1591.6" r="9.6"/><circle cx="1579.9" cy="1598.5" r="9.6"/><circle cx="1582.3" cy="1597.1" r="9.6"/><circle cx="1582.3" cy="1588.5" r="9.6"/><circle cx="1584.6" cy="1604.6" r="9.6"/><circle cx="1584.6" cy="1591.7" r="9.6"/><circle cx="1587.0" cy="1593.8" r="9.6"/><circle cx="1587.0" cy="1602.9" r="9.6"/><circle cx="1589.3" cy="1596.5" r="9.6"/><circle cx="1589.3" cy="1595.9" r="9.6"/><circle cx="1591.7" cy="1593.1" r="9.6"/><circle cx="1591.7" cy="1593.5" r="9.6"/><circle cx="1594.0" cy="1605.1" r="9.6"/><circle cx="1594.0" cy="1598.2" r="9.6"/><circle cx="1596.3" cy="1607.5" r="9.6"/><circle cx="1596.3" cy="1602.7" r="9.6"/><circle cx="1598.7" cy="1606.4" r="9.6"/><circle cx="1598.7" cy="1617.5" r="9.6"/><circle cx="1601.0" cy="1609.0" r="9.6"/><circle cx="1601.0" cy="1611.1" r="9.6"/><circle cx="1603.4" cy="1620.2" r="9.6"/><circle cx="1603.4" cy="1603.8" r="9.6"/><circle cx="1605.7" cy="1604.8" r="9.6"/><circle cx="1605.7" cy="1623.5" r="9.6"/><circle cx="1608.1" cy="1623.6" r="9.6"/><circle cx="1608.1" cy="1609.0" r="9.6"/><circle cx="1610.4" cy="1609.2" r="9.6"/><circle cx="1610.4" cy="1623.8" r="9.6"/><circle cx="1612.8" cy="1631.5" r="9.6"/><circle cx="1612.8" cy="1611.1" r="9.6"/><circle cx="1615.1" cy="1634.2" r="9.6"/><circle cx="1615.1" cy="1632.2" r="9.6"/><circle cx="1617.4" cy="1626.4" r="9.6"/><circle cx="1617.4" cy="1621.1" r="9.6"/><circle cx="1619.8" cy="1613.4" r="9.6"/><circle cx="1619.8" cy="1611.5" r="9.6"/><circle cx="1622.1" cy="1641.8" r="9.6"/><circle cx="1622.1" cy="1619.3" r="9.6"/><circle cx="1624.5" cy="1635.9" r="9.6"/><circle cx="1624.5" cy="1621.6" r="9.6"/><circle cx="1626.8" cy="1642.0" r="9.6"/><circle cx="1626.8" cy="1634.6" r="9.6"/><circle cx="1629.2" cy="1626.3" r="9.6"/><circle cx="1629.2" cy="1622.3" r="9.6"/><circle cx="1631.5" cy="1642.1" r="9.6"/><circle cx="1631.5" cy="1619.5" r="9.6"/><circle cx="1633.9" cy="1625.9" r="9.6"/><circle cx="1633.9" cy="1637.7" r="9.6"/><circle cx="1636.2" cy="1649.6" r="9.6"/><circle cx="1636.2" cy="1640.9" r="9.6"/><circle cx="1638.5" cy="1629.7" r="9.6"/><circle cx="1638.5" cy="1653.6" r="9.6"/><circle cx="1640.9" cy="1627.8" r="9.6"/><circle cx="1640.9" cy="1620.6" r="9.6"/><circle cx="1643.2" cy="1631.3" r="9.6"/><circle cx="1643.2" cy="1638.2" r="9.6"/><circle cx="1645.6" cy="1623.9" r="9.6"/><circle cx="1645.6" cy="1628.5" r="9.6"/><circle cx="1647.9" cy="1637.3" r="9.6"/><circle cx="1647.9" cy="1645.6" r="9.6"/><circle cx="1650.3" cy="1628.4" r="9.6"/><circle cx="1650.3" cy="1638.1" r="9.6"/><circle cx="1652.6" cy="1661.8" r="9.6"/><circle cx="1652.6" cy="1665.6" r="9.6"/><circle cx="1654.9" cy="1653.1" r="9.6"/><circle cx="1654.9" cy="1654.6" r="9.6"/><circle cx="1657.3" cy="1651.2" r="9.6"/><circle cx="1657.3" cy="1631.4" r="9.6"/><circle cx="1659.6" cy="1627.4" r="9.6"/><circle cx="1659.6" cy="1626.7" r="9.6"/><circle cx="1662.0" cy="1668.8" r="9.6"/><circle cx="1662.0" cy="1659.1" r="9.6"/><circle cx="1664.3" cy="1673.1" r="9.6"/><circle cx="1664.3" cy="1628.5" r="9.6"/><circle cx="1666.7" cy="1659.2" r="9.6"/><circle cx="1666.7" cy="1651.8" r="9.6"/><circle cx="1669.0" cy="1665.4" r="9.6"/><circle cx="1669.0" cy="1645.2" r="9.6"/><circle cx="1671.4" cy="1680.5" r="9.6"/><circle cx="1671.4" cy="1634.4" r="9.6"/><circle cx="1673.7" cy="1659.4" r="9.6"/><circle cx="1673.7" cy="1669.1" r="9.6"/><circle cx="1676.0" cy="1679.3" r="9.6"/><circle cx="1676.0" cy="1670.8" r="9.6"/><circle cx="1678.4" cy="1670.7" r="9.6"/><circle cx="1678.4" cy="1675.4" r="9.6"/><circle cx="1680.7" cy="1683.7" r="9.6"/><circle cx="1680.7" cy="1653.5" r="9.6"/><circle cx="1683.1" cy="1673.0" r="9.6"/><circle cx="1683.1" cy="1684.8" r="9.6"/><circle cx="1685.4" cy="1685.0" r="9.6"/><circle cx="1685.4" cy="1659.8" r="9.6"/><circle cx="1687.8" cy="1682.2" r="9.6"/><circle cx="1687.8" cy="1686.3" r="9.6"/><circle cx="1690.1" cy="1671.5" r="9.6"/><circle cx="1690.1" cy="1674.5" r="9.6"/><circle cx="1692.5" cy="1662.0" r="9.6"/><circle cx="1692.5" cy="1673.6" r="9.6"/><circle cx="1694.8" cy="1676.7" r="9.6"/><circle cx="1694.8" cy="1645.5" r="9.6"/><circle cx="1697.1" cy="1680.1" r="9.6"/><circle cx="1697.1" cy="1701.3" r="9.6"/><circle cx="1699.5" cy="1696.3" r="9.6"/><circle cx="1699.5" cy="1687.1" r="9.6"/><circle cx="1701.8" cy="1667.8" r="9.6"/><circle cx="1701.8" cy="1689.2" r="9.6"/><circle cx="1704.2" cy="1681.2" r="9.6"/><circle cx="1704.2" cy="1672.5" r="9.6"/><circle cx="1706.5" cy="1699.1" r="9.6"/><circle cx="1706.5" cy="1651.2" r="9.6"/><circle cx="1708.9" cy="1694.6" r="9.6"/><circle cx="1708.9" cy="1648.8" r="9.6"/><circle cx="1711.2" cy="1685.4" r="9.6"/><circle cx="1711.2" cy="1677.8" r="9.6"/><circle cx="1713.6" cy="1673.9" r="9.6"/><circle cx="1713.6" cy="1696.2" r="9.6"/><circle cx="1713.6" cy="1686.6" r="9.6"/><circle cx="1713.6" cy="1710.5" r="9.6"/><circle cx="1715.9" cy="1692.2" r="9.6"/><circle cx="1715.9" cy="1706.7" r="9.6"/><circle cx="1715.9" cy="1675.2" r="9.6"/><circle cx="1715.9" cy="1710.5" r="9.6"/><circle cx="1718.2" cy="1663.5" r="9.6"/><circle cx="1718.2" cy="1677.3" r="9.6"/><circle cx="1718.2" cy="1695.2" r="9.6"/><circle cx="1718.2" cy="1710.5" r="9.6"/><circle cx="1720.6" cy="1672.6" r="9.6"/><circle cx="1720.6" cy="1671.1" r="9.6"/><circle cx="1720.6" cy="1706.0" r="9.6"/><circle cx="1720.6" cy="1710.5" r="9.6"/><circle cx="1722.9" cy="1694.3" r="9.6"/><circle cx="1722.9" cy="1684.0" r="9.6"/><circle cx="1722.9" cy="1705.4" r="9.6"/><circle cx="1722.9" cy="1710.5" r="9.6"/><circle cx="1725.3" cy="1678.5" r="9.6"/><circle cx="1725.3" cy="1694.6" r="9.6"/><circle cx="1725.3" cy="1672.4" r="9.6"/><circle cx="1725.3" cy="1710.5" r="9.6"/><circle cx="1727.6" cy="1683.5" r="9.6"/><circle cx="1727.6" cy="1701.3" r="9.6"/><circle cx="1727.6" cy="1706.4" r="9.6"/><circle cx="1727.6" cy="1710.5" r="9.6"/><circle cx="1730.0" cy="1704.8" r="9.6"/><circle cx="1730.0" cy="1681.3" r="9.6"/><circle cx="1730.0" cy="1690.7" r="9.6"/><circle cx="1730.0" cy="1710.5" r="9.6"/><circle cx="1732.3" cy="1678.0" r="9.6"/><circle cx="1732.3" cy="1669.5" r="9.6"/><circle cx="1732.3" cy="1686.6" r="9.6"/><circle cx="1732.3" cy="1710.5" r="9.6"/><circle cx="1734.6" cy="1702.8" r="9.6"/><circle cx="1734.6" cy="1703.3" r="9.6"/><circle cx="1734.6" cy="1696.8" r="9.6"/><circle cx="1734.6" cy="1710.5" r="9.6"/><circle cx="1737.0" cy="1708.1" r="9.6"/><circle cx="1737.0" cy="1676.1" r="9.6"/><circle cx="1737.0" cy="1671.0" r="9.6"/><circle cx="1737.0" cy="1710.5" r="9.6"/><circle cx="1739.3" cy="1684.4" r="9.6"/><circle cx="1739.3" cy="1676.1" r="9.6"/><circle cx="1739.3" cy="1673.2" r="9.6"/><circle cx="1739.3" cy="1710.5" r="9.6"/><circle cx="1741.7" cy="1682.7" r="9.6"/><circle cx="1741.7" cy="1692.7" r="9.6"/><circle cx="1741.7" cy="1686.5" r="9.6"/><circle cx="1741.7" cy="1710.5" r="9.6"/><circle cx="1744.0" cy="1678.0" r="9.6"/><circle cx="1744.0" cy="1702.9" r="9.6"/><circle cx="1744.0" cy="1709.6" r="9.6"/><circle cx="1744.0" cy="1710.5" r="9.6"/><circle cx="1746.4" cy="1684.5" r="9.6"/><circle cx="1746.4" cy="1666.5" r="9.6"/><circle cx="1746.4" cy="1664.5" r="9.6"/><circle cx="1746.4" cy="1710.5" r="9.6"/><circle cx="1748.7" cy="1704.5" r="9.6"/><circle cx="1748.7" cy="1665.0" r="9.6"/><circle cx="1748.7" cy="1696.7" r="9.6"/><circle cx="1748.7" cy="1710.5" r="9.6"/><circle cx="1751.1" cy="1690.1" r="9.6"/><circle cx="1751.1" cy="1677.7" r="9.6"/><circle cx="1751.1" cy="1700.6" r="9.6"/><circle cx="1751.1" cy="1710.5" r="9.6"/><circle cx="1753.4" cy="1663.9" r="9.6"/><circle cx="1753.4" cy="1669.5" r="9.6"/><circle cx="1753.4" cy="1684.6" r="9.6"/><circle cx="1753.4" cy="1710.5" r="9.6"/><circle cx="1755.7" cy="1664.2" r="9.6"/><circle cx="1755.7" cy="1702.4" r="9.6"/><circle cx="1755.7" cy="1674.3" r="9.6"/><circle cx="1755.7" cy="1710.5" r="9.6"/><circle cx="1758.1" cy="1669.7" r="9.6"/><circle cx="1758.1" cy="1665.2" r="9.6"/><circle cx="1758.1" cy="1692.9" r="9.6"/><circle cx="1758.1" cy="1710.5" r="9.6"/><circle cx="1760.4" cy="1684.2" r="9.6"/><circle cx="1760.4" cy="1692.9" r="9.6"/><circle cx="1760.4" cy="1694.1" r="9.6"/><circle cx="1760.4" cy="1710.5" r="9.6"/><circle cx="1762.8" cy="1701.4" r="9.6"/><circle cx="1762.8" cy="1708.5" r="9.6"/><circle cx="1762.8" cy="1695.5" r="9.6"/><circle cx="1762.8" cy="1710.5" r="9.6"/><circle cx="1765.1" cy="1672.5" r="9.6"/><circle cx="1765.1" cy="1685.6" r="9.6"/><circle cx="1765.1" cy="1671.5" r="9.6"/><circle cx="1765.1" cy="1710.5" r="9.6"/><circle cx="1767.5" cy="1663.5" r="9.6"/><circle cx="1767.5" cy="1685.4" r="9.6"/><circle cx="1767.5" cy="1696.9" r="9.6"/><circle cx="1767.5" cy="1710.5" r="9.6"/><circle cx="1769.8" cy="1671.5" r="9.6"/><circle cx="1769.8" cy="1675.9" r="9.6"/><circle cx="1769.8" cy="1679.4" r="9.6"/><circle cx="1769.8" cy="1710.5" r="9.6"/><circle cx="1772.2" cy="1696.1" r="9.6"/><circle cx="1772.2" cy="1687.7" r="9.6"/><circle cx="1772.2" cy="1692.2" r="9.6"/><circle cx="1772.2" cy="1710.5" r="9.6"/><circle cx="1774.5" cy="1698.9" r="9.6"/><circle cx="1774.5" cy="1681.7" r="9.6"/><circle cx="1774.5" cy="1700.6" r="9.6"/><circle cx="1774.5" cy="1710.5" r="9.6"/><circle cx="1776.8" cy="1706.0" r="9.6"/><circle cx="1776.8" cy="1667.1" r="9.6"/><circle cx="1776.8" cy="1707.3" r="9.6"/><circle cx="1776.8" cy="1710.5" r="9.6"/><circle cx="1779.2" cy="1697.3" r="9.6"/><circle cx="1779.2" cy="1669.2" r="9.6"/><circle cx="1779.2" cy="1684.5" r="9.6"/><circle cx="1779.2" cy="1710.5" r="9.6"/><circle cx="1781.5" cy="1692.7" r="9.6"/><circle cx="1781.5" cy="1706.2" r="9.6"/><circle cx="1781.5" cy="1680.9" r="9.6"/><circle cx="1781.5" cy="1710.5" r="9.6"/><circle cx="1783.9" cy="1690.0" r="9.6"/><circle cx="1783.9" cy="1704.8" r="9.6"/><circle cx="1783.9" cy="1700.8" r="9.6"/><circle cx="1783.9" cy="1710.5" r="9.6"/><circle cx="1786.2" cy="1707.9" r="9.6"/><circle cx="1786.2" cy="1685.0" r="9.6"/><circle cx="1786.2" cy="1693.9" r="9.6"/><circle cx="1786.2" cy="1710.5" r="9.6"/><circle cx="1788.6" cy="1672.7" r="9.6"/><circle cx="1788.6" cy="1697.3" r="9.6"/><circle cx="1788.6" cy="1701.9" r="9.6"/><circle cx="1788.6" cy="1710.5" r="9.6"/><circle cx="1790.9" cy="1693.5" r="9.6"/><circle cx="1790.9" cy="1697.1" r="9.6"/><circle cx="1790.9" cy="1673.1" r="9.6"/><circle cx="1790.9" cy="1710.5" r="9.6"/><circle cx="1793.3" cy="1705.7" r="9.6"/><circle cx="1793.3" cy="1709.6" r="9.6"/><circle cx="1793.3" cy="1709.4" r="9.6"/><circle cx="1793.3" cy="1710.5" r="9.6"/><circle cx="1795.6" cy="1688.5" r="9.6"/><circle cx="1795.6" cy="1700.6" r="9.6"/><circle cx="1795.6" cy="1678.2" r="9.6"/><circle cx="1795.6" cy="1710.5" r="9.6"/><circle cx="1797.9" cy="1706.2" r="9.6"/><circle cx="1797.9" cy="1703.6" r="9.6"/><circle cx="1797.9" cy="1679.6" r="9.6"/><circle cx="1797.9" cy="1710.5" r="9.6"/><circle cx="1800.3" cy="1666.9" r="9.6"/><circle cx="1800.3" cy="1683.9" r="9.6"/><circle cx="1800.3" cy="1689.1" r="9.6"/><circle cx="1800.3" cy="1710.5" r="9.6"/><circle cx="1802.6" cy="1699.5" r="9.6"/><circle cx="1802.6" cy="1686.2" r="9.6"/><circle cx="1802.6" cy="1664.3" r="9.6"/><circle cx="1802.6" cy="1710.5" r="9.6"/><circle cx="1805.0" cy="1701.4" r="9.6"/><circle cx="1805.0" cy="1666.0" r="9.6"/><circle cx="1805.0" cy="1701.0" r="9.6"/><circle cx="1805.0" cy="1710.5" r="9.6"/><circle cx="1807.3" cy="1671.2" r="9.6"/><circle cx="1807.3" cy="1678.9" r="9.6"/><circle cx="1807.3" cy="1700.4" r="9.6"/><circle cx="1807.3" cy="1710.5" r="9.6"/><circle cx="1809.7" cy="1669.7" r="9.6"/><circle cx="1809.7" cy="1670.1" r="9.6"/><circle cx="1809.7" cy="1687.5" r="9.6"/><circle cx="1809.7" cy="1710.5" r="9.6"/><circle cx="1812.0" cy="1697.4" r="9.6"/><circle cx="1812.0" cy="1702.9" r="9.6"/><circle cx="1812.0" cy="1695.7" r="9.6"/><circle cx="1812.0" cy="1710.5" r="9.6"/><circle cx="1814.4" cy="1707.9" r="9.6"/><circle cx="1814.4" cy="1686.4" r="9.6"/><circle cx="1814.4" cy="1708.1" r="9.6"/><circle cx="1814.4" cy="1710.5" r="9.6"/><circle cx="1816.7" cy="1667.1" r="9.6"/><circle cx="1816.7" cy="1673.5" r="9.6"/><circle cx="1816.7" cy="1688.0" r="9.6"/><circle cx="1816.7" cy="1710.5" r="9.6"/><circle cx="1819.0" cy="1676.8" r="9.6"/><circle cx="1819.0" cy="1697.6" r="9.6"/><circle cx="1819.0" cy="1693.3" r="9.6"/><circle cx="1819.0" cy="1710.5" r="9.6"/><circle cx="1821.4" cy="1687.8" r="9.6"/><circle cx="1821.4" cy="1703.1" r="9.6"/><circle cx="1821.4" cy="1689.6" r="9.6"/><circle cx="1821.4" cy="1710.5" r="9.6"/><circle cx="1823.7" cy="1677.8" r="9.6"/><circle cx="1823.7" cy="1681.1" r="9.6"/><circle cx="1823.7" cy="1703.1" r="9.6"/><circle cx="1823.7" cy="1710.5" r="9.6"/><circle cx="1826.1" cy="1705.8" r="9.6"/><circle cx="1826.1" cy="1672.9" r="9.6"/><circle cx="1826.1" cy="1703.4" r="9.6"/><circle cx="1826.1" cy="1710.5" r="9.6"/><circle cx="1828.4" cy="1709.0" r="9.6"/><circle cx="1828.4" cy="1687.9" r="9.6"/><circle cx="1828.4" cy="1690.2" r="9.6"/><circle cx="1828.4" cy="1710.5" r="9.6"/><circle cx="1830.8" cy="1672.5" r="9.6"/><circle cx="1830.8" cy="1688.5" r="9.6"/><circle cx="1830.8" cy="1686.9" r="9.6"/><circle cx="1830.8" cy="1710.5" r="9.6"/><circle cx="1833.1" cy="1691.7" r="9.6"/><circle cx="1833.1" cy="1664.3" r="9.6"/><circle cx="1833.1" cy="1709.0" r="9.6"/><circle cx="1833.1" cy="1710.5" r="9.6"/><circle cx="1835.4" cy="1687.5" r="9.6"/><circle cx="1835.4" cy="1682.0" r="9.6"/><circle cx="1835.4" cy="1701.1" r="9.6"/><circle cx="1835.4" cy="1710.5" r="9.6"/><circle cx="1837.8" cy="1689.7" r="9.6"/><circle cx="1837.8" cy="1686.3" r="9.6"/><circle cx="1837.8" cy="1695.8" r="9.6"/><circle cx="1837.8" cy="1710.5" r="9.6"/><circle cx="1840.1" cy="1666.1" r="9.6"/><circle cx="1840.1" cy="1688.6" r="9.6"/><circle cx="1840.1" cy="1682.7" r="9.6"/><circle cx="1840.1" cy="1710.5" r="9.6"/><circle cx="1842.5" cy="1708.5" r="9.6"/><circle cx="1842.5" cy="1706.9" r="9.6"/><circle cx="1842.5" cy="1675.8" r="9.6"/><circle cx="1842.5" cy="1710.5" r="9.6"/><circle cx="1844.8" cy="1685.5" r="9.6"/><circle cx="1844.8" cy="1669.0" r="9.6"/><circle cx="1844.8" cy="1683.6" r="9.6"/><circle cx="1844.8" cy="1710.5" r="9.6"/><circle cx="1847.2" cy="1701.7" r="9.6"/><circle cx="1847.2" cy="1705.8" r="9.6"/><circle cx="1847.2" cy="1685.6" r="9.6"/><circle cx="1847.2" cy="1710.5" r="9.6"/><circle cx="1849.5" cy="1678.1" r="9.6"/><circle cx="1849.5" cy="1672.1" r="9.6"/><circle cx="1849.5" cy="1692.4" r="9.6"/><circle cx="1849.5" cy="1710.5" r="9.6"/><circle cx="1851.9" cy="1707.0" r="9.6"/><circle cx="1851.9" cy="1669.1" r="9.6"/><circle cx="1851.9" cy="1700.0" r="9.6"/><circle cx="1851.9" cy="1710.5" r="9.6"/><circle cx="1854.2" cy="1664.1" r="9.6"/><circle cx="1854.2" cy="1672.2" r="9.6"/><circle cx="1854.2" cy="1673.8" r="9.6"/><circle cx="1854.2" cy="1710.5" r="9.6"/><circle cx="1856.5" cy="1695.6" r="9.6"/><circle cx="1856.5" cy="1678.3" r="9.6"/><circle cx="1856.5" cy="1679.9" r="9.6"/><circle cx="1856.5" cy="1710.5" r="9.6"/><circle cx="1858.9" cy="1692.4" r="9.6"/><circle cx="1858.9" cy="1668.0" r="9.6"/><circle cx="1858.9" cy="1697.7" r="9.6"/><circle cx="1858.9" cy="1710.5" r="9.6"/><circle cx="1861.2" cy="1668.8" r="9.6"/><circle cx="1861.2" cy="1687.2" r="9.6"/><circle cx="1861.2" cy="1674.9" r="9.6"/><circle cx="1861.2" cy="1710.5" r="9.6"/><circle cx="1863.6" cy="1672.4" r="9.6"/><circle cx="1863.6" cy="1688.2" r="9.6"/><circle cx="1863.6" cy="1683.7" r="9.6"/><circle cx="1863.6" cy="1710.5" r="9.6"/><circle cx="1865.9" cy="1680.8" r="9.6"/><circle cx="1865.9" cy="1682.6" r="9.6"/><circle cx="1865.9" cy="1688.1" r="9.6"/><circle cx="1865.9" cy="1710.5" r="9.6"/><circle cx="1868.3" cy="1670.6" r="9.6"/><circle cx="1868.3" cy="1672.7" r="9.6"/><circle cx="1868.3" cy="1693.0" r="9.6"/><circle cx="1868.3" cy="1710.5" r="9.6"/><circle cx="1870.6" cy="1693.3" r="9.6"/><circle cx="1870.6" cy="1688.2" r="9.6"/><circle cx="1870.6" cy="1703.4" r="9.6"/><circle cx="1870.6" cy="1710.5" r="9.6"/><circle cx="1873.0" cy="1692.1" r="9.6"/><circle cx="1873.0" cy="1703.7" r="9.6"/><circle cx="1873.0" cy="1674.1" r="9.6"/><circle cx="1873.0" cy="1710.5" r="9.6"/><circle cx="1875.3" cy="1698.2" r="9.6"/><circle cx="1875.3" cy="1701.5" r="9.6"/><circle cx="1875.3" cy="1705.9" r="9.6"/><circle cx="1875.3" cy="1710.5" r="9.6"/><circle cx="1877.6" cy="1678.0" r="9.6"/><circle cx="1877.6" cy="1678.0" r="9.6"/><circle cx="1877.6" cy="1706.8" r="9.6"/><circle cx="1877.6" cy="1710.5" r="9.6"/><circle cx="1880.0" cy="1673.4" r="9.6"/><circle cx="1880.0" cy="1710.4" r="9.6"/><circle cx="1880.0" cy="1705.2" r="9.6"/><circle cx="1880.0" cy="1710.5" r="9.6"/><circle cx="1882.3" cy="1669.4" r="9.6"/><circle cx="1882.3" cy="1674.4" r="9.6"/><circle cx="1882.3" cy="1697.5" r="9.6"/><circle cx="1882.3" cy="1710.5" r="9.6"/><circle cx="1884.7" cy="1675.3" r="9.6"/><circle cx="1884.7" cy="1667.6" r="9.6"/><circle cx="1884.7" cy="1702.5" r="9.6"/><circle cx="1884.7" cy="1710.5" r="9.6"/><circle cx="1887.0" cy="1683.0" r="9.6"/><circle cx="1887.0" cy="1700.5" r="9.6"/><circle cx="1887.0" cy="1669.0" r="9.6"/><circle cx="1887.0" cy="1710.5" r="9.6"/><circle cx="1889.4" cy="1682.1" r="9.6"/><circle cx="1889.4" cy="1695.5" r="9.6"/><circle cx="1889.4" cy="1663.8" r="9.6"/><circle cx="1889.4" cy="1710.5" r="9.6"/><circle cx="1891.7" cy="1672.5" r="9.6"/><circle cx="1891.7" cy="1695.4" r="9.6"/><circle cx="1891.7" cy="1706.3" r="9.6"/><circle cx="1891.7" cy="1710.5" r="9.6"/><circle cx="1894.1" cy="1709.0" r="9.6"/><circle cx="1894.1" cy="1668.5" r="9.6"/><circle cx="1894.1" cy="1687.0" r="9.6"/><circle cx="1894.1" cy="1710.5" r="9.6"/><circle cx="1896.4" cy="1699.0" r="9.6"/><circle cx="1896.4" cy="1686.9" r="9.6"/><circle cx="1896.4" cy="1695.6" r="9.6"/><circle cx="1896.4" cy="1710.5" r="9.6"/><circle cx="1898.7" cy="1672.0" r="9.6"/><circle cx="1898.7" cy="1666.4" r="9.6"/><circle cx="1898.7" cy="1668.0" r="9.6"/><circle cx="1898.7" cy="1710.5" r="9.6"/><circle cx="1901.1" cy="1664.8" r="9.6"/><circle cx="1901.1" cy="1689.2" r="9.6"/><circle cx="1901.1" cy="1687.5" r="9.6"/><circle cx="1901.1" cy="1710.5" r="9.6"/><circle cx="1903.4" cy="1690.0" r="9.6"/><circle cx="1903.4" cy="1670.0" r="9.6"/><circle cx="1903.4" cy="1671.8" r="9.6"/><circle cx="1903.4" cy="1710.5" r="9.6"/><circle cx="1905.8" cy="1672.7" r="9.6"/><circle cx="1905.8" cy="1702.9" r="9.6"/><circle cx="1905.8" cy="1710.0" r="9.6"/><circle cx="1905.8" cy="1710.5" r="9.6"/><circle cx="1908.1" cy="1707.0" r="9.6"/><circle cx="1908.1" cy="1667.5" r="9.6"/><circle cx="1908.1" cy="1665.9" r="9.6"/><circle cx="1908.1" cy="1710.5" r="9.6"/><circle cx="1910.5" cy="1708.2" r="9.6"/><circle cx="1910.5" cy="1684.9" r="9.6"/><circle cx="1910.5" cy="1699.3" r="9.6"/><circle cx="1910.5" cy="1710.5" r="9.6"/><circle cx="1912.8" cy="1678.5" r="9.6"/><circle cx="1912.8" cy="1685.2" r="9.6"/><circle cx="1912.8" cy="1687.5" r="9.6"/><circle cx="1912.8" cy="1710.5" r="9.6"/><circle cx="1915.2" cy="1683.4" r="9.6"/><circle cx="1915.2" cy="1691.5" r="9.6"/><circle cx="1915.2" cy="1663.6" r="9.6"/><circle cx="1915.2" cy="1710.5" r="9.6"/><circle cx="1917.5" cy="1696.3" r="9.6"/><circle cx="1917.5" cy="1703.1" r="9.6"/><circle cx="1917.5" cy="1671.6" r="9.6"/><circle cx="1917.5" cy="1710.5" r="9.6"/><circle cx="1919.8" cy="1684.6" r="9.6"/><circle cx="1919.8" cy="1698.1" r="9.6"/><circle cx="1919.8" cy="1682.3" r="9.6"/><circle cx="1919.8" cy="1710.5" r="9.6"/><circle cx="1922.2" cy="1672.3" r="9.6"/><circle cx="1922.2" cy="1670.8" r="9.6"/><circle cx="1922.2" cy="1687.3" r="9.6"/><circle cx="1922.2" cy="1710.5" r="9.6"/><circle cx="1924.5" cy="1663.7" r="9.6"/><circle cx="1924.5" cy="1705.4" r="9.6"/><circle cx="1924.5" cy="1701.1" r="9.6"/><circle cx="1924.5" cy="1710.5" r="9.6"/><circle cx="1926.9" cy="1696.5" r="9.6"/><circle cx="1926.9" cy="1703.9" r="9.6"/><circle cx="1926.9" cy="1692.9" r="9.6"/><circle cx="1926.9" cy="1710.5" r="9.6"/><circle cx="1929.2" cy="1682.2" r="9.6"/><circle cx="1929.2" cy="1691.5" r="9.6"/><circle cx="1929.2" cy="1687.0" r="9.6"/><circle cx="1929.2" cy="1710.5" r="9.6"/><circle cx="1931.6" cy="1709.7" r="9.6"/><circle cx="1931.6" cy="1701.2" r="9.6"/><circle cx="1931.6" cy="1675.3" r="9.6"/><circle cx="1931.6" cy="1710.5" r="9.6"/><circle cx="1933.9" cy="1706.3" r="9.6"/><circle cx="1933.9" cy="1698.4" r="9.6"/><circle cx="1933.9" cy="1700.0" r="9.6"/><circle cx="1933.9" cy="1710.5" r="9.6"/><circle cx="1936.2" cy="1701.7" r="9.6"/><circle cx="1936.2" cy="1682.3" r="9.6"/><circle cx="1936.2" cy="1705.6" r="9.6"/><circle cx="1936.2" cy="1710.5" r="9.6"/><circle cx="1938.6" cy="1704.8" r="9.6"/><circle cx="1938.6" cy="1696.0" r="9.6"/><circle cx="1938.6" cy="1699.4" r="9.6"/><circle cx="1938.6" cy="1710.5" r="9.6"/><circle cx="1940.9" cy="1699.3" r="9.6"/><circle cx="1940.9" cy="1682.3" r="9.6"/><circle cx="1940.9" cy="1697.3" r="9.6"/><circle cx="1940.9" cy="1710.5" r="9.6"/><circle cx="1943.3" cy="1666.4" r="9.6"/><circle cx="1943.3" cy="1679.2" r="9.6"/><circle cx="1943.3" cy="1685.3" r="9.6"/><circle cx="1943.3" cy="1710.5" r="9.6"/><circle cx="1733.7" cy="1736.5" r="9.6"/><circle cx="1737.5" cy="1737.1" r="9.6"/><circle cx="1741.2" cy="1737.5" r="9.6"/><circle cx="1745.0" cy="1737.5" r="9.6"/><circle cx="1748.7" cy="1736.9" r="9.6"/><circle cx="1752.5" cy="1738.0" r="9.6"/><circle cx="1756.2" cy="1737.6" r="9.6"/><circle cx="1760.0" cy="1737.0" r="9.6"/><circle cx="1763.7" cy="1737.6" r="9.6"/><circle cx="1767.5" cy="1737.4" r="9.6"/><circle cx="1771.2" cy="1737.4" r="9.6"/><circle cx="1775.0" cy="1737.1" r="9.6"/><circle cx="1778.7" cy="1738.1" r="9.6"/><circle cx="1782.5" cy="1737.5" r="9.6"/><circle cx="1786.2" cy="1737.6" r="9.6"/><circle cx="1790.0" cy="1737.7" r="9.6"/><circle cx="1793.7" cy="1738.1" r="9.6"/><circle cx="1797.5" cy="1736.5" r="9.6"/><circle cx="1801.2" cy="1737.5" r="9.6"/><circle cx="1805.0" cy="1737.7" r="9.6"/><circle cx="1808.7" cy="1736.9" r="9.6"/><circle cx="1812.5" cy="1737.1" r="9.6"/><circle cx="1816.2" cy="1736.6" r="9.6"/><circle cx="1820.0" cy="1736.8" r="9.6"/><circle cx="1823.7" cy="1737.1" r="9.6"/><circle cx="1827.5" cy="1736.7" r="9.6"/><circle cx="1831.2" cy="1736.9" r="9.6"/><circle cx="1835.0" cy="1737.9" r="9.6"/><circle cx="1838.7" cy="1737.4" r="9.6"/><circle cx="1842.5" cy="1737.3" r="9.6"/><circle cx="1846.2" cy="1738.0" r="9.6"/><circle cx="1850.0" cy="1737.4" r="9.6"/><circle cx="1853.7" cy="1738.1" r="9.6"/><circle cx="1857.5" cy="1737.5" r="9.6"/><circle cx="1861.2" cy="1737.8" r="9.6"/><circle cx="1865.0" cy="1736.6" r="9.6"/><circle cx="1868.7" cy="1737.5" r="9.6"/><circle cx="1872.5" cy="1737.7" r="9.6"/><circle cx="1876.2" cy="1736.6" r="9.6"/><circle cx="1880.0" cy="1738.0" r="9.6"/><circle cx="1883.7" cy="1736.8" r="9.6"/><circle cx="1887.5" cy="1737.3" r="9.6"/><circle cx="1891.2" cy="1736.8" r="9.6"/><circle cx="1895.0" cy="1737.3" r="9.6"/><circle cx="1898.7" cy="1737.5" r="9.6"/><circle cx="1902.5" cy="1736.6" r="9.6"/><circle cx="1906.2" cy="1738.0" r="9.6"/><circle cx="1910.0" cy="1737.2" r="9.6"/><circle cx="1913.7" cy="1737.3" r="9.6"/><circle cx="1917.5" cy="1737.5" r="9.6"/><circle cx="1921.2" cy="1737.1" r="9.6"/><circle cx="1925.0" cy="1737.0" r="9.6"/><circle cx="1928.7" cy="1737.5" r="9.6"/><circle cx="1932.5" cy="1737.4" r="9.6"/><circle cx="1936.2" cy="1737.0" r="9.6"/><circle cx="1940.0" cy="1737.6" r="9.6"/><circle cx="1943.7" cy="1737.0" r="9.6"/><circle cx="1806.0" cy="1660.0" r="9.6"/><circle cx="1903.0" cy="1660.0" r="9.6"/><circle cx="1873.0" cy="1668.0" r="9.6"/><circle cx="1838.0" cy="1668.0" r="9.6"/><circle cx="1770.0" cy="1665.0" r="9.6"/><circle cx="1700.0" cy="1652.0" r="9.6"/></g>
<g fill="#d8675a"><circle cx="1387.7" cy="1417.7" r="9.6"/><circle cx="1389.6" cy="1419.7" r="9.6"/><circle cx="1391.5" cy="1419.4" r="9.6"/><circle cx="1393.3" cy="1420.8" r="9.6"/><circle cx="1395.2" cy="1424.9" r="9.6"/><circle cx="1397.1" cy="1423.7" r="9.6"/><circle cx="1399.0" cy="1427.3" r="9.6"/><circle cx="1400.8" cy="1427.3" r="9.6"/><circle cx="1402.7" cy="1424.2" r="9.6"/><circle cx="1404.6" cy="1430.3" r="9.6"/><circle cx="1406.5" cy="1430.9" r="9.6"/><circle cx="1408.3" cy="1426.7" r="9.6"/><circle cx="1410.2" cy="1432.3" r="9.6"/><circle cx="1412.1" cy="1430.4" r="9.6"/><circle cx="1414.0" cy="1431.5" r="9.6"/><circle cx="1415.8" cy="1435.2" r="9.6"/><circle cx="1417.7" cy="1431.7" r="9.6"/><circle cx="1419.6" cy="1434.2" r="9.6"/><circle cx="1421.5" cy="1437.5" r="9.6"/><circle cx="1423.3" cy="1437.0" r="9.6"/><circle cx="1425.2" cy="1436.3" r="9.6"/><circle cx="1427.1" cy="1440.3" r="9.6"/><circle cx="1429.0" cy="1440.1" r="9.6"/><circle cx="1430.8" cy="1439.6" r="9.6"/><circle cx="1432.7" cy="1437.3" r="9.6"/><circle cx="1434.6" cy="1441.4" r="9.6"/><circle cx="1436.5" cy="1441.1" r="9.6"/><circle cx="1438.3" cy="1440.3" r="9.6"/><circle cx="1440.2" cy="1440.1" r="9.6"/><circle cx="1442.1" cy="1443.9" r="9.6"/><circle cx="1444.0" cy="1442.0" r="9.6"/><circle cx="1445.8" cy="1444.9" r="9.6"/><circle cx="1447.7" cy="1447.1" r="9.6"/><circle cx="1449.6" cy="1446.5" r="9.6"/><circle cx="1451.5" cy="1445.9" r="9.6"/><circle cx="1453.3" cy="1448.8" r="9.6"/><circle cx="1455.2" cy="1448.5" r="9.6"/><circle cx="1457.1" cy="1451.7" r="9.6"/><circle cx="1459.0" cy="1450.8" r="9.6"/><circle cx="1460.9" cy="1454.8" r="9.6"/><circle cx="1462.7" cy="1455.2" r="9.6"/><circle cx="1464.6" cy="1454.5" r="9.6"/><circle cx="1466.5" cy="1451.7" r="9.6"/><circle cx="1468.4" cy="1451.5" r="9.6"/><circle cx="1470.2" cy="1457.9" r="9.6"/><circle cx="1472.1" cy="1457.9" r="9.6"/><circle cx="1474.0" cy="1457.5" r="9.6"/><circle cx="1475.9" cy="1456.3" r="9.6"/><circle cx="1477.7" cy="1456.4" r="9.6"/><circle cx="1479.6" cy="1460.2" r="9.6"/><circle cx="1481.5" cy="1460.1" r="9.6"/><circle cx="1483.4" cy="1461.0" r="9.6"/><circle cx="1485.2" cy="1462.1" r="9.6"/><circle cx="1487.1" cy="1463.8" r="9.6"/><circle cx="1489.0" cy="1460.2" r="9.6"/><circle cx="1490.9" cy="1461.4" r="9.6"/><circle cx="1492.7" cy="1467.8" r="9.6"/><circle cx="1494.6" cy="1468.1" r="9.6"/><circle cx="1496.5" cy="1468.6" r="9.6"/><circle cx="1498.4" cy="1462.7" r="9.6"/><circle cx="1500.2" cy="1463.5" r="9.6"/><circle cx="1502.1" cy="1465.8" r="9.6"/><circle cx="1504.0" cy="1467.7" r="9.6"/><circle cx="1505.9" cy="1470.0" r="9.6"/><circle cx="1507.7" cy="1466.5" r="9.6"/><circle cx="1509.6" cy="1470.7" r="9.6"/><circle cx="1511.5" cy="1467.5" r="9.6"/><circle cx="1513.4" cy="1468.3" r="9.6"/><circle cx="1515.2" cy="1473.8" r="9.6"/><circle cx="1517.1" cy="1473.4" r="9.6"/><circle cx="1519.0" cy="1474.8" r="9.6"/><circle cx="1520.9" cy="1473.3" r="9.6"/><circle cx="1522.7" cy="1474.8" r="9.6"/><circle cx="1524.6" cy="1473.2" r="9.6"/><circle cx="1526.5" cy="1475.0" r="9.6"/><circle cx="1528.4" cy="1479.1" r="9.6"/><circle cx="1530.2" cy="1480.6" r="9.6"/><circle cx="1532.1" cy="1474.6" r="9.6"/><circle cx="1534.0" cy="1475.7" r="9.6"/><circle cx="1535.9" cy="1482.4" r="9.6"/><circle cx="1537.7" cy="1481.4" r="9.6"/><circle cx="1539.6" cy="1483.4" r="9.6"/><circle cx="1541.5" cy="1479.1" r="9.6"/><circle cx="1543.4" cy="1481.7" r="9.6"/><circle cx="1545.2" cy="1480.8" r="9.6"/><circle cx="1547.1" cy="1486.5" r="9.6"/><circle cx="1549.0" cy="1483.1" r="9.6"/><circle cx="1550.9" cy="1486.4" r="9.6"/><circle cx="1552.7" cy="1490.1" r="9.6"/><circle cx="1554.6" cy="1484.7" r="9.6"/><circle cx="1556.5" cy="1487.3" r="9.6"/><circle cx="1558.4" cy="1489.7" r="9.6"/><circle cx="1560.2" cy="1491.9" r="9.6"/><circle cx="1562.1" cy="1487.9" r="9.6"/><circle cx="1564.0" cy="1487.9" r="9.6"/><circle cx="1565.9" cy="1485.9" r="9.6"/><circle cx="1567.7" cy="1493.8" r="9.6"/><circle cx="1569.6" cy="1486.8" r="9.6"/><circle cx="1571.5" cy="1487.4" r="9.6"/><circle cx="1573.4" cy="1492.6" r="9.6"/><circle cx="1575.2" cy="1492.4" r="9.6"/><circle cx="1577.1" cy="1494.9" r="9.6"/><circle cx="1579.0" cy="1491.7" r="9.6"/><circle cx="1580.9" cy="1496.9" r="9.6"/><circle cx="1582.7" cy="1490.6" r="9.6"/><circle cx="1584.6" cy="1492.5" r="9.6"/><circle cx="1586.5" cy="1497.5" r="9.6"/><circle cx="1588.4" cy="1492.3" r="9.6"/><circle cx="1590.2" cy="1495.1" r="9.6"/><circle cx="1592.1" cy="1499.9" r="9.6"/><circle cx="1594.0" cy="1500.1" r="9.6"/><circle cx="1595.9" cy="1496.5" r="9.6"/><circle cx="1597.8" cy="1495.7" r="9.6"/><circle cx="1599.6" cy="1498.4" r="9.6"/><circle cx="1601.5" cy="1502.8" r="9.6"/><circle cx="1603.4" cy="1499.6" r="9.6"/><circle cx="1605.3" cy="1497.6" r="9.6"/><circle cx="1607.1" cy="1504.3" r="9.6"/><circle cx="1609.0" cy="1503.4" r="9.6"/><circle cx="1610.9" cy="1507.7" r="9.6"/><circle cx="1612.8" cy="1508.5" r="9.6"/><circle cx="1614.6" cy="1508.9" r="9.6"/><circle cx="1616.5" cy="1504.4" r="9.6"/><circle cx="1618.4" cy="1508.9" r="9.6"/><circle cx="1620.3" cy="1504.2" r="9.6"/><circle cx="1622.1" cy="1504.9" r="9.6"/><circle cx="1624.0" cy="1506.4" r="9.6"/><circle cx="1625.9" cy="1512.8" r="9.6"/><circle cx="1627.8" cy="1513.0" r="9.6"/><circle cx="1629.6" cy="1506.5" r="9.6"/><circle cx="1631.5" cy="1508.4" r="9.6"/><circle cx="1633.4" cy="1509.0" r="9.6"/><circle cx="1635.3" cy="1509.6" r="9.6"/><circle cx="1637.1" cy="1510.5" r="9.6"/><circle cx="1639.0" cy="1511.0" r="9.6"/><circle cx="1640.9" cy="1509.5" r="9.6"/><circle cx="1642.8" cy="1514.2" r="9.6"/><circle cx="1644.6" cy="1517.5" r="9.6"/><circle cx="1646.5" cy="1515.2" r="9.6"/><circle cx="1648.4" cy="1519.1" r="9.6"/><circle cx="1650.3" cy="1516.6" r="9.6"/><circle cx="1652.1" cy="1512.8" r="9.6"/><circle cx="1654.0" cy="1520.1" r="9.6"/><circle cx="1655.9" cy="1522.1" r="9.6"/><circle cx="1657.8" cy="1515.8" r="9.6"/><circle cx="1659.6" cy="1513.3" r="9.6"/><circle cx="1661.5" cy="1519.7" r="9.6"/><circle cx="1663.4" cy="1520.6" r="9.6"/><circle cx="1665.3" cy="1521.5" r="9.6"/><circle cx="1667.1" cy="1526.8" r="9.6"/><circle cx="1669.0" cy="1523.7" r="9.6"/><circle cx="1670.9" cy="1526.1" r="9.6"/><circle cx="1672.8" cy="1517.9" r="9.6"/><circle cx="1674.6" cy="1524.2" r="9.6"/><circle cx="1676.5" cy="1527.7" r="9.6"/><circle cx="1678.4" cy="1519.8" r="9.6"/><circle cx="1680.3" cy="1520.4" r="9.6"/><circle cx="1682.1" cy="1528.9" r="9.6"/><circle cx="1684.0" cy="1531.5" r="9.6"/><circle cx="1685.9" cy="1522.2" r="9.6"/><circle cx="1687.8" cy="1529.5" r="9.6"/><circle cx="1689.6" cy="1524.0" r="9.6"/><circle cx="1691.5" cy="1532.1" r="9.6"/><circle cx="1693.4" cy="1531.5" r="9.6"/><circle cx="1695.3" cy="1527.1" r="9.6"/><circle cx="1697.1" cy="1527.3" r="9.6"/><circle cx="1699.0" cy="1534.8" r="9.6"/><circle cx="1700.9" cy="1532.3" r="9.6"/><circle cx="1702.8" cy="1536.0" r="9.6"/><circle cx="1704.6" cy="1531.9" r="9.6"/><circle cx="1706.5" cy="1531.7" r="9.6"/><circle cx="1708.4" cy="1540.4" r="9.6"/><circle cx="1710.3" cy="1537.2" r="9.6"/><circle cx="1712.1" cy="1535.5" r="9.6"/><circle cx="1714.0" cy="1536.7" r="9.6"/><circle cx="1715.9" cy="1539.7" r="9.6"/><circle cx="1717.8" cy="1540.1" r="9.6"/><circle cx="1719.6" cy="1543.4" r="9.6"/><circle cx="1721.5" cy="1537.4" r="9.6"/><circle cx="1723.4" cy="1543.5" r="9.6"/><circle cx="1725.3" cy="1542.0" r="9.6"/><circle cx="1727.1" cy="1545.0" r="9.6"/><circle cx="1729.0" cy="1545.0" r="9.6"/><circle cx="1730.9" cy="1546.0" r="9.6"/><circle cx="1732.8" cy="1547.3" r="9.6"/><circle cx="1734.6" cy="1548.9" r="9.6"/><circle cx="1736.5" cy="1545.2" r="9.6"/><circle cx="1738.4" cy="1544.3" r="9.6"/><circle cx="1740.3" cy="1547.4" r="9.6"/><circle cx="1742.2" cy="1549.2" r="9.6"/><circle cx="1744.0" cy="1544.7" r="9.6"/><circle cx="1745.9" cy="1545.2" r="9.6"/><circle cx="1747.8" cy="1542.1" r="9.6"/><circle cx="1749.7" cy="1550.8" r="9.6"/><circle cx="1751.5" cy="1554.9" r="9.6"/><circle cx="1753.4" cy="1547.0" r="9.6"/><circle cx="1755.3" cy="1544.7" r="9.6"/><circle cx="1757.2" cy="1545.8" r="9.6"/><circle cx="1759.0" cy="1549.6" r="9.6"/><circle cx="1760.9" cy="1548.3" r="9.6"/><circle cx="1762.8" cy="1558.5" r="9.6"/><circle cx="1764.7" cy="1546.3" r="9.6"/><circle cx="1766.5" cy="1550.4" r="9.6"/><circle cx="1768.4" cy="1548.3" r="9.6"/><circle cx="1770.3" cy="1556.5" r="9.6"/><circle cx="1772.2" cy="1559.0" r="9.6"/><circle cx="1774.0" cy="1551.1" r="9.6"/><circle cx="1775.9" cy="1550.1" r="9.6"/><circle cx="1777.8" cy="1556.4" r="9.6"/><circle cx="1779.7" cy="1558.9" r="9.6"/><circle cx="1781.5" cy="1564.2" r="9.6"/><circle cx="1783.4" cy="1552.2" r="9.6"/><circle cx="1785.3" cy="1553.8" r="9.6"/><circle cx="1787.2" cy="1555.6" r="9.6"/><circle cx="1789.0" cy="1556.7" r="9.6"/><circle cx="1790.9" cy="1557.6" r="9.6"/><circle cx="1792.8" cy="1565.3" r="9.6"/><circle cx="1794.7" cy="1564.2" r="9.6"/><circle cx="1796.5" cy="1559.3" r="9.6"/><circle cx="1798.4" cy="1559.3" r="9.6"/><circle cx="1800.3" cy="1561.4" r="9.6"/><circle cx="1802.2" cy="1560.4" r="9.6"/><circle cx="1804.0" cy="1569.8" r="9.6"/><circle cx="1805.9" cy="1563.8" r="9.6"/><circle cx="1807.8" cy="1568.0" r="9.6"/><circle cx="1809.7" cy="1572.7" r="9.6"/><circle cx="1811.5" cy="1568.2" r="9.6"/><circle cx="1813.4" cy="1565.5" r="9.6"/><circle cx="1815.3" cy="1575.7" r="9.6"/><circle cx="1817.2" cy="1576.8" r="9.6"/><circle cx="1819.0" cy="1568.7" r="9.6"/><circle cx="1820.9" cy="1572.5" r="9.6"/><circle cx="1822.8" cy="1579.4" r="9.6"/><circle cx="1824.7" cy="1572.7" r="9.6"/><circle cx="1826.5" cy="1569.3" r="9.6"/><circle cx="1828.4" cy="1567.3" r="9.6"/><circle cx="1830.3" cy="1581.9" r="9.6"/><circle cx="1832.2" cy="1580.3" r="9.6"/><circle cx="1834.0" cy="1574.4" r="9.6"/><circle cx="1835.9" cy="1577.3" r="9.6"/><circle cx="1837.8" cy="1577.7" r="9.6"/><circle cx="1839.7" cy="1574.5" r="9.6"/><circle cx="1841.5" cy="1586.6" r="9.6"/><circle cx="1843.4" cy="1581.9" r="9.6"/><circle cx="1845.3" cy="1575.8" r="9.6"/><circle cx="1847.2" cy="1572.8" r="9.6"/><circle cx="1849.0" cy="1580.8" r="9.6"/><circle cx="1850.9" cy="1579.7" r="9.6"/><circle cx="1852.8" cy="1587.1" r="9.6"/><circle cx="1854.7" cy="1586.3" r="9.6"/><circle cx="1856.5" cy="1585.0" r="9.6"/><circle cx="1858.4" cy="1578.2" r="9.6"/><circle cx="1860.3" cy="1578.7" r="9.6"/><circle cx="1862.2" cy="1581.9" r="9.6"/><circle cx="1864.0" cy="1581.4" r="9.6"/><circle cx="1865.9" cy="1592.0" r="9.6"/><circle cx="1867.8" cy="1586.7" r="9.6"/><circle cx="1869.7" cy="1589.2" r="9.6"/><circle cx="1871.5" cy="1595.6" r="9.6"/><circle cx="1873.4" cy="1584.1" r="9.6"/><circle cx="1875.3" cy="1589.0" r="9.6"/><circle cx="1877.2" cy="1583.1" r="9.6"/><circle cx="1879.1" cy="1594.0" r="9.6"/><circle cx="1880.9" cy="1581.6" r="9.6"/><circle cx="1882.8" cy="1596.0" r="9.6"/><circle cx="1884.7" cy="1596.9" r="9.6"/><circle cx="1886.6" cy="1597.0" r="9.6"/><circle cx="1888.4" cy="1585.0" r="9.6"/><circle cx="1890.3" cy="1588.7" r="9.6"/><circle cx="1892.2" cy="1596.8" r="9.6"/><circle cx="1894.1" cy="1586.7" r="9.6"/><circle cx="1895.9" cy="1593.8" r="9.6"/><circle cx="1897.8" cy="1594.1" r="9.6"/><circle cx="1899.7" cy="1603.0" r="9.6"/><circle cx="1901.6" cy="1597.2" r="9.6"/><circle cx="1903.4" cy="1602.4" r="9.6"/><circle cx="1905.3" cy="1593.3" r="9.6"/><circle cx="1907.2" cy="1602.3" r="9.6"/><circle cx="1909.1" cy="1596.3" r="9.6"/><circle cx="1910.9" cy="1605.6" r="9.6"/><circle cx="1912.8" cy="1591.6" r="9.6"/><circle cx="1914.7" cy="1605.0" r="9.6"/><circle cx="1916.6" cy="1594.6" r="9.6"/><circle cx="1918.4" cy="1601.1" r="9.6"/><circle cx="1920.3" cy="1601.3" r="9.6"/><circle cx="1922.2" cy="1595.2" r="9.6"/><circle cx="1924.1" cy="1607.8" r="9.6"/><circle cx="1925.9" cy="1599.0" r="9.6"/><circle cx="1927.8" cy="1599.5" r="9.6"/><circle cx="1929.7" cy="1595.8" r="9.6"/><circle cx="1931.6" cy="1600.4" r="9.6"/><circle cx="1933.4" cy="1603.8" r="9.6"/><circle cx="1935.3" cy="1608.8" r="9.6"/><circle cx="1937.2" cy="1602.9" r="9.6"/><circle cx="1939.1" cy="1609.4" r="9.6"/><circle cx="1940.9" cy="1599.3" r="9.6"/><circle cx="1942.8" cy="1605.1" r="9.6"/><circle cx="1944.7" cy="1606.3" r="9.6"/></g>
<text x="1778.5" y="1516.5" font-size="25" text-anchor="start" fill="#231815" font-weight="normal" ><tspan font-style="italic" font-family="'Liberation Serif', serif">τ</tspan><tspan> = 0.924 ms</tspan></text>
<text x="1742.5" y="1636.1" font-size="25" text-anchor="start" fill="#231815" font-weight="normal" ><tspan font-style="italic" font-family="'Liberation Serif', serif">τ</tspan><tspan> = 0.341 ms</tspan></text>
<circle cx="1423.2" cy="1771.5" r="9.9" fill="#d8675a" stroke="none" stroke-width="1" />
<circle cx="1423.2" cy="1811.3" r="9.9" fill="#e6a08c" stroke="none" stroke-width="1" />
<text x="1445.0" y="1780.6" font-size="25" text-anchor="start" fill="#231815" font-weight="normal" ><tspan>C</tspan><tspan dy="8.0" font-size="17.5">5</tspan><tspan dy="-8.0">H</tspan><tspan dy="8.0" font-size="17.5">11</tspan><tspan dy="-8.0">N</tspan><tspan dy="8.0" font-size="17.5">3</tspan><tspan dy="-8.0">(MnCl</tspan><tspan dy="8.0" font-size="17.5">3</tspan><tspan dy="-8.0">·H</tspan><tspan dy="8.0" font-size="17.5">2</tspan><tspan dy="-8.0">O)Cl</tspan></text>
<text x="1445.0" y="1819.6" font-size="25" text-anchor="start" fill="#231815" font-weight="normal" ><tspan>C</tspan><tspan dy="8.0" font-size="17.5">5</tspan><tspan dy="-8.0">H</tspan><tspan dy="8.0" font-size="17.5">11</tspan><tspan dy="-8.0">N</tspan><tspan dy="8.0" font-size="17.5">3</tspan><tspan dy="-8.0">(MnCl</tspan><tspan dy="8.0" font-size="17.5">3</tspan><tspan dy="-8.0">·H</tspan><tspan dy="8.0" font-size="17.5">2</tspan><tspan dy="-8.0">O)Br</tspan></text>
</svg>
</body></html>
